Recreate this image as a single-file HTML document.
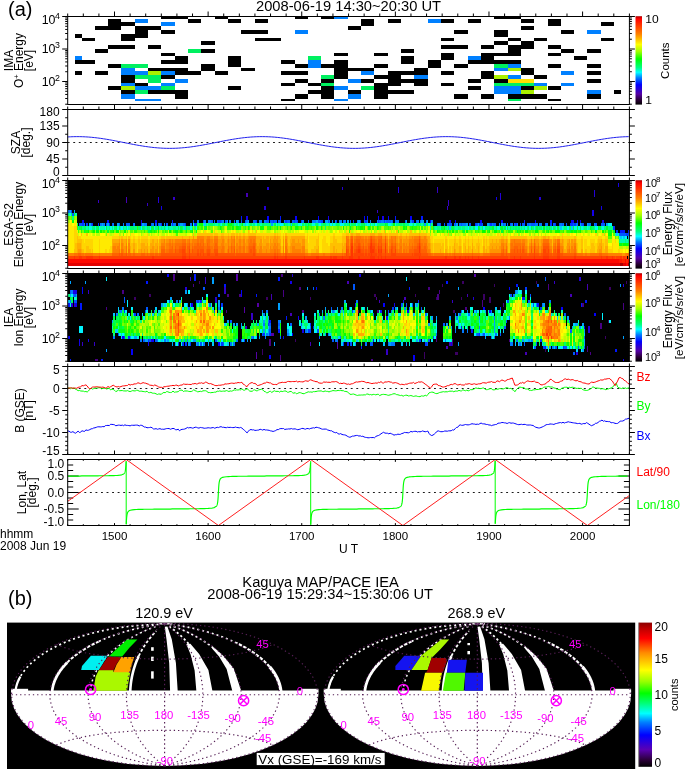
<!DOCTYPE html>
<html><head><meta charset="utf-8"><title>Kaguya</title>
<style>html,body{margin:0;padding:0;background:#fff}svg{display:block}</style></head>
<body>
<svg width="685" height="769" viewBox="0 0 685 769" font-family="'Liberation Sans', sans-serif" font-size="12">
<rect width="685" height="769" fill="#fff"/>
<g shape-rendering="crispEdges"><rect x="108.1" y="18.7" width="13.3" height="11.2" fill="#000000"/>
<rect x="94.8" y="26.2" width="26.6" height="3.8" fill="#000000"/>
<rect x="121.4" y="22.4" width="13.3" height="3.8" fill="#000000"/>
<rect x="134.8" y="18.7" width="13.3" height="3.8" fill="#0080ff"/>
<rect x="134.8" y="26.2" width="13.3" height="11.3" fill="#000000"/>
<rect x="148.1" y="26.2" width="13.3" height="3.8" fill="#000000"/>
<rect x="161.4" y="22.4" width="13.3" height="3.8" fill="#0080ff"/>
<rect x="161.4" y="29.9" width="13.3" height="3.8" fill="#000000"/>
<rect x="74.5" y="33.7" width="7.0" height="3.8" fill="#000000"/>
<rect x="81.5" y="37.5" width="13.3" height="3.8" fill="#000000"/>
<rect x="121.4" y="33.7" width="13.3" height="7.5" fill="#000000"/>
<rect x="108.1" y="45.0" width="26.6" height="3.8" fill="#000000"/>
<rect x="148.1" y="45.0" width="13.3" height="3.8" fill="#000000"/>
<rect x="94.8" y="48.7" width="13.3" height="3.8" fill="#000000"/>
<rect x="161.4" y="52.5" width="13.3" height="3.8" fill="#000000"/>
<rect x="74.5" y="56.2" width="7.0" height="3.8" fill="#0080ff"/>
<rect x="74.5" y="60.0" width="20.3" height="3.8" fill="#000000"/>
<rect x="161.4" y="60.0" width="13.3" height="3.8" fill="#000000"/>
<rect x="108.1" y="63.7" width="13.3" height="3.8" fill="#000000"/>
<rect x="121.4" y="63.7" width="26.6" height="3.8" fill="#00f060"/>
<rect x="121.4" y="67.5" width="13.3" height="7.5" fill="#0080ff"/>
<rect x="134.8" y="71.2" width="13.3" height="3.8" fill="#0080ff"/>
<rect x="148.1" y="67.5" width="26.6" height="3.8" fill="#000000"/>
<rect x="148.1" y="71.2" width="13.3" height="3.8" fill="#aaf000"/>
<rect x="161.4" y="71.2" width="13.3" height="3.8" fill="#0080ff"/>
<rect x="74.5" y="71.2" width="7.0" height="3.8" fill="#000000"/>
<rect x="94.8" y="71.2" width="13.3" height="3.8" fill="#000000"/>
<rect x="121.4" y="75.0" width="13.3" height="7.5" fill="#000000"/>
<rect x="134.8" y="75.0" width="13.3" height="3.8" fill="#00f060"/>
<rect x="148.1" y="75.0" width="13.3" height="7.5" fill="#00f060"/>
<rect x="161.4" y="75.0" width="13.3" height="3.8" fill="#000000"/>
<rect x="121.4" y="82.5" width="13.3" height="3.8" fill="#0080ff"/>
<rect x="134.8" y="82.5" width="13.3" height="3.8" fill="#000000"/>
<rect x="161.4" y="82.5" width="13.3" height="3.8" fill="#0080ff"/>
<rect x="108.1" y="86.2" width="13.3" height="3.8" fill="#000000"/>
<rect x="121.4" y="86.2" width="13.3" height="3.8" fill="#aaf000"/>
<rect x="134.8" y="86.2" width="26.6" height="3.8" fill="#0080ff"/>
<rect x="161.4" y="86.2" width="13.3" height="3.8" fill="#00f060"/>
<rect x="121.4" y="90.0" width="13.3" height="3.8" fill="#000000"/>
<rect x="134.8" y="90.0" width="13.3" height="3.8" fill="#00f060"/>
<rect x="148.1" y="90.0" width="26.6" height="3.8" fill="#000000"/>
<rect x="121.4" y="93.7" width="13.3" height="4.9" fill="#0080ff"/>
<rect x="134.8" y="98.6" width="26.6" height="2.3" fill="#0080ff"/>
<rect x="161.4" y="16.4" width="26.6" height="2.2" fill="#000000"/>
<rect x="214.6" y="16.4" width="13.3" height="2.2" fill="#000000"/>
<rect x="188.0" y="18.7" width="13.3" height="3.8" fill="#000000"/>
<rect x="227.9" y="18.7" width="13.3" height="3.8" fill="#000000"/>
<rect x="254.6" y="18.7" width="13.3" height="3.8" fill="#000000"/>
<rect x="241.3" y="29.9" width="26.6" height="3.8" fill="#000000"/>
<rect x="254.6" y="37.5" width="26.6" height="3.8" fill="#000000"/>
<rect x="201.3" y="41.2" width="13.3" height="3.8" fill="#000000"/>
<rect x="188.0" y="48.7" width="13.3" height="3.8" fill="#00f060"/>
<rect x="201.3" y="48.7" width="13.3" height="3.8" fill="#000000"/>
<rect x="174.7" y="56.2" width="13.3" height="7.5" fill="#000000"/>
<rect x="227.9" y="56.2" width="13.3" height="11.2" fill="#000000"/>
<rect x="201.3" y="63.7" width="13.3" height="7.5" fill="#000000"/>
<rect x="148.1" y="67.5" width="39.9" height="3.8" fill="#000000"/>
<rect x="241.3" y="67.5" width="13.3" height="3.8" fill="#000000"/>
<rect x="174.7" y="71.2" width="26.6" height="3.8" fill="#000000"/>
<rect x="214.6" y="71.2" width="13.3" height="3.8" fill="#000000"/>
<rect x="174.7" y="78.7" width="13.3" height="3.8" fill="#0080ff"/>
<rect x="227.9" y="86.2" width="13.3" height="3.8" fill="#000000"/>
<rect x="174.7" y="90.0" width="13.3" height="8.6" fill="#000000"/>
<rect x="294.5" y="16.4" width="13.3" height="2.2" fill="#000000"/>
<rect x="321.1" y="16.4" width="13.3" height="2.2" fill="#000000"/>
<rect x="334.4" y="16.4" width="13.3" height="2.2" fill="#0080ff"/>
<rect x="294.5" y="29.9" width="13.3" height="3.8" fill="#0080ff"/>
<rect x="334.4" y="52.5" width="13.3" height="3.8" fill="#000000"/>
<rect x="307.8" y="56.2" width="13.3" height="3.8" fill="#00f060"/>
<rect x="307.8" y="60.0" width="13.3" height="7.5" fill="#0080ff"/>
<rect x="281.2" y="60.0" width="13.3" height="3.8" fill="#000000"/>
<rect x="294.5" y="63.7" width="13.3" height="3.8" fill="#000000"/>
<rect x="321.1" y="63.7" width="13.3" height="3.8" fill="#000000"/>
<rect x="334.4" y="60.0" width="13.3" height="18.8" fill="#000000"/>
<rect x="281.2" y="71.2" width="26.6" height="3.8" fill="#000000"/>
<rect x="321.1" y="75.0" width="13.3" height="3.8" fill="#00f060"/>
<rect x="294.5" y="78.7" width="13.3" height="3.8" fill="#000000"/>
<rect x="321.1" y="78.7" width="13.3" height="3.8" fill="#000000"/>
<rect x="281.2" y="82.5" width="13.3" height="3.8" fill="#000000"/>
<rect x="307.8" y="82.5" width="13.3" height="3.8" fill="#000000"/>
<rect x="321.1" y="82.5" width="13.3" height="3.8" fill="#00f060"/>
<rect x="334.4" y="86.2" width="13.3" height="3.8" fill="#0080ff"/>
<rect x="321.1" y="86.2" width="13.3" height="12.4" fill="#000000"/>
<rect x="307.8" y="90.0" width="13.3" height="3.8" fill="#000000"/>
<rect x="294.5" y="93.7" width="13.3" height="4.9" fill="#000000"/>
<rect x="281.2" y="98.6" width="13.3" height="2.3" fill="#000000"/>
<rect x="334.4" y="98.6" width="13.3" height="2.3" fill="#0080ff"/>
<rect x="361.1" y="18.7" width="13.3" height="7.5" fill="#000000"/>
<rect x="347.8" y="26.2" width="13.3" height="3.8" fill="#000000"/>
<rect x="387.7" y="18.7" width="13.3" height="3.8" fill="#000000"/>
<rect x="427.6" y="18.7" width="13.3" height="3.8" fill="#0080ff"/>
<rect x="401.0" y="48.7" width="13.3" height="3.8" fill="#000000"/>
<rect x="374.4" y="52.5" width="13.3" height="3.8" fill="#000000"/>
<rect x="401.0" y="56.2" width="13.3" height="7.5" fill="#000000"/>
<rect x="427.6" y="60.0" width="13.3" height="7.5" fill="#000000"/>
<rect x="374.4" y="63.7" width="13.3" height="3.8" fill="#000000"/>
<rect x="347.8" y="67.5" width="26.6" height="3.8" fill="#000000"/>
<rect x="414.3" y="67.5" width="13.3" height="7.5" fill="#000000"/>
<rect x="361.1" y="71.2" width="13.3" height="3.8" fill="#0080ff"/>
<rect x="387.7" y="71.2" width="13.3" height="15.0" fill="#000000"/>
<rect x="401.0" y="71.2" width="13.3" height="3.8" fill="#000000"/>
<rect x="374.4" y="75.0" width="13.3" height="3.8" fill="#000000"/>
<rect x="414.3" y="75.0" width="13.3" height="3.8" fill="#0080ff"/>
<rect x="347.8" y="78.7" width="13.3" height="3.8" fill="#0080ff"/>
<rect x="361.1" y="78.7" width="13.3" height="3.8" fill="#000000"/>
<rect x="401.0" y="78.7" width="13.3" height="3.8" fill="#000000"/>
<rect x="414.3" y="78.7" width="13.3" height="7.5" fill="#000000"/>
<rect x="374.4" y="82.5" width="13.3" height="16.1" fill="#000000"/>
<rect x="361.1" y="86.2" width="13.3" height="3.8" fill="#00f060"/>
<rect x="347.8" y="90.0" width="13.3" height="3.8" fill="#000000"/>
<rect x="387.7" y="90.0" width="26.6" height="3.8" fill="#000000"/>
<rect x="347.8" y="93.7" width="13.3" height="4.9" fill="#0080ff"/>
<rect x="494.2" y="16.4" width="26.6" height="2.2" fill="#000000"/>
<rect x="441.0" y="18.7" width="13.3" height="3.8" fill="#000000"/>
<rect x="467.6" y="18.7" width="13.3" height="3.8" fill="#000000"/>
<rect x="520.8" y="18.7" width="13.3" height="3.8" fill="#000000"/>
<rect x="520.8" y="26.2" width="13.3" height="3.8" fill="#000000"/>
<rect x="454.3" y="29.9" width="13.3" height="3.8" fill="#000000"/>
<rect x="494.2" y="29.9" width="13.3" height="7.5" fill="#000000"/>
<rect x="441.0" y="37.5" width="13.3" height="3.8" fill="#000000"/>
<rect x="507.5" y="37.5" width="13.3" height="3.8" fill="#000000"/>
<rect x="494.2" y="41.2" width="13.3" height="3.8" fill="#000000"/>
<rect x="520.8" y="41.2" width="13.3" height="7.5" fill="#000000"/>
<rect x="441.0" y="45.0" width="26.6" height="3.8" fill="#000000"/>
<rect x="480.9" y="45.0" width="13.3" height="3.8" fill="#000000"/>
<rect x="507.5" y="45.0" width="13.3" height="11.2" fill="#000000"/>
<rect x="441.0" y="52.5" width="13.3" height="7.5" fill="#000000"/>
<rect x="480.9" y="52.5" width="39.9" height="3.8" fill="#000000"/>
<rect x="480.9" y="56.2" width="13.3" height="7.5" fill="#000000"/>
<rect x="467.6" y="56.2" width="13.3" height="3.8" fill="#0080ff"/>
<rect x="467.6" y="60.0" width="53.3" height="3.8" fill="#000000"/>
<rect x="454.3" y="63.7" width="13.3" height="3.8" fill="#000000"/>
<rect x="494.2" y="63.7" width="13.3" height="3.8" fill="#00f060"/>
<rect x="507.5" y="63.7" width="13.3" height="3.8" fill="#0080ff"/>
<rect x="494.2" y="67.5" width="13.3" height="3.8" fill="#0080ff"/>
<rect x="507.5" y="67.5" width="13.3" height="3.8" fill="#aaf000"/>
<rect x="520.8" y="67.5" width="13.3" height="7.5" fill="#000000"/>
<rect x="441.0" y="71.2" width="13.3" height="3.8" fill="#000000"/>
<rect x="480.9" y="71.2" width="13.3" height="7.5" fill="#000000"/>
<rect x="494.2" y="75.0" width="13.3" height="3.8" fill="#aaf000"/>
<rect x="507.5" y="75.0" width="13.3" height="3.8" fill="#0080ff"/>
<rect x="467.6" y="78.7" width="13.3" height="3.8" fill="#000000"/>
<rect x="494.2" y="78.7" width="13.3" height="3.8" fill="#000000"/>
<rect x="507.5" y="78.7" width="26.6" height="3.8" fill="#ffe000"/>
<rect x="441.0" y="82.5" width="13.3" height="3.8" fill="#000000"/>
<rect x="494.2" y="82.5" width="39.9" height="3.8" fill="#00f060"/>
<rect x="467.6" y="86.2" width="13.3" height="3.8" fill="#000000"/>
<rect x="494.2" y="86.2" width="26.6" height="7.5" fill="#0080ff"/>
<rect x="520.8" y="86.2" width="13.3" height="3.8" fill="#000000"/>
<rect x="520.8" y="90.0" width="13.3" height="3.8" fill="#aaf000"/>
<rect x="454.3" y="93.7" width="13.3" height="4.9" fill="#000000"/>
<rect x="480.9" y="93.7" width="13.3" height="4.9" fill="#000000"/>
<rect x="507.5" y="93.7" width="39.9" height="4.9" fill="#000000"/>
<rect x="507.5" y="98.6" width="13.3" height="2.3" fill="#00f060"/>
<rect x="547.5" y="18.7" width="13.3" height="7.5" fill="#000000"/>
<rect x="600.7" y="22.4" width="13.3" height="3.8" fill="#000000"/>
<rect x="560.8" y="29.9" width="13.3" height="3.8" fill="#000000"/>
<rect x="587.4" y="29.9" width="13.3" height="3.8" fill="#0080ff"/>
<rect x="534.1" y="37.5" width="13.3" height="3.8" fill="#000000"/>
<rect x="600.7" y="37.5" width="13.3" height="3.8" fill="#000000"/>
<rect x="547.5" y="45.0" width="13.3" height="3.8" fill="#000000"/>
<rect x="560.8" y="48.7" width="13.3" height="3.8" fill="#000000"/>
<rect x="587.4" y="48.7" width="13.3" height="3.8" fill="#000000"/>
<rect x="547.5" y="52.5" width="13.3" height="3.8" fill="#000000"/>
<rect x="574.1" y="56.2" width="13.3" height="3.8" fill="#000000"/>
<rect x="547.5" y="63.7" width="13.3" height="3.8" fill="#000000"/>
<rect x="587.4" y="63.7" width="13.3" height="3.8" fill="#000000"/>
<rect x="560.8" y="71.2" width="13.3" height="3.8" fill="#0080ff"/>
<rect x="587.4" y="71.2" width="13.3" height="3.8" fill="#000000"/>
<rect x="534.1" y="75.0" width="13.3" height="3.8" fill="#000000"/>
<rect x="587.4" y="78.7" width="13.3" height="3.8" fill="#000000"/>
<rect x="534.1" y="82.5" width="13.3" height="3.8" fill="#0080ff"/>
<rect x="560.8" y="82.5" width="13.3" height="3.8" fill="#0080ff"/>
<rect x="534.1" y="86.2" width="13.3" height="3.8" fill="#aaf000"/>
<rect x="547.5" y="86.2" width="13.3" height="3.8" fill="#000000"/>
<rect x="587.4" y="90.0" width="13.3" height="3.8" fill="#0080ff"/>
<rect x="587.4" y="93.7" width="13.3" height="4.9" fill="#000000"/>
<rect x="547.5" y="98.6" width="13.3" height="2.3" fill="#000000"/>
<rect x="614.3" y="90.0" width="6.4" height="3.8" fill="#000"/></g>
<line x1="67.7" y1="142.5" x2="629.4" y2="142.5" stroke="#000" stroke-width="0.9" stroke-dasharray="1.9 3.65"/><path d="M67.7 136.96 L70.7 136.79 L73.7 136.68 L76.7 136.64 L79.7 136.65 L82.7 136.73 L85.7 136.86 L88.7 137.05 L91.7 137.31 L94.7 137.61 L97.7 137.97 L100.7 138.37 L103.7 138.82 L106.7 139.3 L109.7 139.82 L112.7 140.37 L115.7 140.94 L118.7 141.52 L121.7 142.12 L124.7 142.71 L127.7 143.31 L130.7 143.9 L133.7 144.47 L136.7 145.03 L139.7 145.55 L142.7 146.05 L145.7 146.51 L148.7 146.92 L151.7 147.29 L154.7 147.61 L157.7 147.88 L160.7 148.09 L163.7 148.24 L166.7 148.34 L169.7 148.37 L172.7 148.34 L175.7 148.25 L178.7 148.1 L181.7 147.89 L184.7 147.62 L187.7 147.3 L190.7 146.94 L193.7 146.52 L196.7 146.06 L199.7 145.57 L202.7 145.04 L205.7 144.49 L208.7 143.92 L211.7 143.33 L214.7 142.73 L217.7 142.14 L220.7 141.54 L223.7 140.96 L226.7 140.39 L229.7 139.84 L232.7 139.32 L235.7 138.83 L238.7 138.39 L241.7 137.98 L244.7 137.62 L247.7 137.32 L250.7 137.06 L253.7 136.87 L256.7 136.73 L259.7 136.65 L262.7 136.64 L265.7 136.68 L268.7 136.79 L271.7 136.95 L274.7 137.17 L277.7 137.45 L280.7 137.78 L283.7 138.16 L286.7 138.59 L289.7 139.06 L292.7 139.56 L295.7 140.09 L298.7 140.65 L301.7 141.23 L304.7 141.82 L307.7 142.42 L310.7 143.01 L313.7 143.61 L316.7 144.19 L319.7 144.75 L322.7 145.29 L325.7 145.81 L328.7 146.28 L331.7 146.72 L334.7 147.11 L337.7 147.46 L340.7 147.75 L343.7 147.99 L346.7 148.17 L349.7 148.3 L352.7 148.36 L355.7 148.36 L358.7 148.3 L361.7 148.18 L364.7 148 L367.7 147.76 L370.7 147.47 L373.7 147.13 L376.7 146.73 L379.7 146.3 L382.7 145.82 L385.7 145.31 L388.7 144.77 L391.7 144.21 L394.7 143.63 L397.7 143.03 L400.7 142.44 L403.7 141.84 L406.7 141.25 L409.7 140.67 L412.7 140.11 L415.7 139.58 L418.7 139.07 L421.7 138.6 L424.7 138.18 L427.7 137.8 L430.7 137.46 L433.7 137.18 L436.7 136.96 L439.7 136.79 L442.7 136.68 L445.7 136.64 L448.7 136.65 L451.7 136.73 L454.7 136.86 L457.7 137.05 L460.7 137.31 L463.7 137.61 L466.7 137.97 L469.7 138.37 L472.7 138.82 L475.7 139.3 L478.7 139.82 L481.7 140.37 L484.7 140.94 L487.7 141.52 L490.7 142.12 L493.7 142.71 L496.7 143.31 L499.7 143.9 L502.7 144.47 L505.7 145.03 L508.7 145.55 L511.7 146.05 L514.7 146.51 L517.7 146.92 L520.7 147.29 L523.7 147.61 L526.7 147.88 L529.7 148.09 L532.7 148.24 L535.7 148.34 L538.7 148.37 L541.7 148.34 L544.7 148.25 L547.7 148.1 L550.7 147.89 L553.7 147.62 L556.7 147.3 L559.7 146.94 L562.7 146.52 L565.7 146.06 L568.7 145.57 L571.7 145.04 L574.7 144.49 L577.7 143.92 L580.7 143.33 L583.7 142.73 L586.7 142.14 L589.7 141.54 L592.7 140.96 L595.7 140.39 L598.7 139.84 L601.7 139.32 L604.7 138.83 L607.7 138.39 L610.7 137.98 L613.7 137.62 L616.7 137.32 L619.7 137.06 L622.7 136.87 L625.7 136.73 L628.7 136.65" fill="none" stroke="#2222ee" stroke-width="1" stroke-linejoin="round"/>
<g shape-rendering="crispEdges"><rect x="67.7" y="180.5" width="561.7" height="85.3" fill="#000"/>
<path fill="#4500b6" d="M246.22 193.2h1.4v3.3h-1.4zM125.67 196.5h1.4v6.6h-1.4z"/>
<path fill="#3500c7" d="M376.58 209.7h1.4v3.3h-1.4zM446.67 206.4h1.4v3.3h-1.4zM436.86 186.6h1.4v6.6h-1.4zM173.33 196.5h1.4v3.3h-1.4zM146.7 203.1h1.4v3.3h-1.4zM97.64 199.8h1.4v3.3h-1.4zM448.07 199.8h1.4v6.6h-1.4z"/>
<path fill="#2400d8" d="M593.86 189.9h1.4v6.6h-1.4zM264.44 206.4h1.4v3.3h-1.4zM499.94 193.2h1.4v6.6h-1.4zM267.25 186.6h1.4v3.3h-1.4zM341.54 186.6h1.4v3.3h-1.4zM397.61 186.6h1.4v6.6h-1.4zM157.91 196.5h1.4v6.6h-1.4zM539.19 196.5h1.4v3.3h-1.4z"/>
<path fill="#1400ea" d="M141.09 219.6h1.4v3.3h-1.4zM572.83 219.6h1.4v3.3h-1.4zM577.04 219.6h1.4v3.3h-1.4zM602.27 219.6h1.4v3.3h-1.4zM246.22 216.3h1.4v3.3h-1.4zM327.52 216.3h1.4v3.3h-1.4zM382.19 216.3h1.4v3.3h-1.4zM592.45 209.7h1.4v6.6h-1.4zM160.72 206.4h1.4v3.3h-1.4zM600.87 206.4h1.4v3.3h-1.4zM495.73 196.5h1.4v3.3h-1.4zM617.69 183.3h1.4v3.3h-1.4z"/>
<path fill="#0400fb" d="M82.22 219.6h1.4v3.3h-1.4zM155.11 219.6h1.4v3.3h-1.4zM429.85 219.6h1.4v3.3h-1.4zM449.48 219.6h1.4v3.3h-1.4zM455.08 219.6h1.4v3.3h-1.4zM480.31 219.6h1.4v3.3h-1.4zM501.34 219.6h1.4v3.3h-1.4zM534.98 219.6h1.4v3.3h-1.4zM571.43 219.6h1.4v3.3h-1.4zM579.84 219.6h1.4v3.3h-1.4zM267.25 216.3h1.4v3.3h-1.4zM295.28 216.3h1.4v3.3h-1.4zM317.71 216.3h1.4v3.3h-1.4zM363.97 216.3h1.4v3.3h-1.4zM377.99 216.3h1.4v3.3h-1.4zM387.8 216.3h1.4v3.3h-1.4zM410.23 216.3h1.4v3.3h-1.4z"/>
<path fill="#0018ff" d="M620.49 229.5h4.21v3.3h-4.21zM627.5 229.5h1.4v3.3h-1.4zM107.45 219.6h1.4v3.3h-1.4zM171.93 219.6h1.4v3.3h-1.4zM523.77 219.6h1.4v3.3h-1.4zM550.4 219.6h1.4v3.3h-1.4zM240.62 216.3h1.4v3.3h-1.4zM279.86 216.3h1.4v3.3h-1.4zM366.77 216.3h1.4v3.3h-1.4zM394.81 216.3h1.4v3.3h-1.4zM421.44 216.3h1.4v3.3h-1.4z"/>
<path fill="#0038ff" d="M626.1 232.8h1.4v3.3h-1.4zM616.28 229.5h1.4v3.3h-1.4zM613.48 226.2h1.4v3.3h-1.4zM82.22 222.9h1.4v3.3h-1.4zM86.42 222.9h1.4v3.3h-1.4zM92.03 222.9h1.4v3.3h-1.4zM97.64 222.9h1.4v3.3h-1.4zM108.85 222.9h1.4v3.3h-1.4zM141.09 222.9h1.4v3.3h-1.4zM160.72 222.9h1.4v3.3h-1.4zM171.93 222.9h1.4v3.3h-1.4zM184.55 222.9h1.4v3.3h-1.4zM194.36 222.9h2.8v3.3h-2.8zM474.71 222.9h1.4v3.3h-1.4zM478.91 222.9h2.8v3.3h-2.8zM490.13 222.9h1.4v3.3h-1.4zM515.36 222.9h1.4v3.3h-1.4zM550.4 222.9h1.4v3.3h-1.4zM554.61 222.9h1.4v3.3h-1.4zM570.03 222.9h2.8v3.3h-2.8zM574.23 222.9h1.4v3.3h-1.4zM582.64 222.9h1.4v3.3h-1.4zM192.96 219.6h1.4v3.3h-1.4zM202.77 219.6h1.4v3.3h-1.4zM218.19 219.6h2.8v3.3h-2.8zM256.03 219.6h1.4v3.3h-1.4zM272.86 219.6h1.4v3.3h-1.4zM285.47 219.6h1.4v3.3h-1.4zM293.88 219.6h1.4v3.3h-1.4zM296.69 219.6h1.4v3.3h-1.4zM300.89 219.6h1.4v3.3h-1.4zM320.51 219.6h2.8v3.3h-2.8zM335.93 219.6h1.4v3.3h-1.4zM352.76 219.6h1.4v3.3h-1.4zM359.76 219.6h1.4v3.3h-1.4zM365.37 219.6h1.4v3.3h-1.4zM377.99 219.6h1.4v3.3h-1.4zM383.59 219.6h1.4v3.3h-1.4zM411.63 219.6h2.8v3.3h-2.8zM71 209.7h1.4v3.3h-1.4z"/>
<path fill="#0058ff" d="M619.09 232.8h7.01v3.3h-7.01zM627.5 232.8h1.4v3.3h-1.4zM79.41 222.9h2.8v3.3h-2.8zM90.63 222.9h1.4v3.3h-1.4zM106.05 222.9h1.4v3.3h-1.4zM111.65 222.9h1.4v3.3h-1.4zM118.66 222.9h1.4v3.3h-1.4zM125.67 222.9h4.21v3.3h-4.21zM132.68 222.9h1.4v3.3h-1.4zM150.9 222.9h1.4v3.3h-1.4zM155.11 222.9h1.4v3.3h-1.4zM157.91 222.9h1.4v3.3h-1.4zM166.32 222.9h1.4v3.3h-1.4zM436.86 222.9h1.4v3.3h-1.4zM439.66 222.9h1.4v3.3h-1.4zM443.87 222.9h1.4v3.3h-1.4zM446.67 222.9h5.61v3.3h-5.61zM455.08 222.9h1.4v3.3h-1.4zM460.69 222.9h1.4v3.3h-1.4zM469.1 222.9h1.4v3.3h-1.4zM476.11 222.9h1.4v3.3h-1.4zM481.72 222.9h1.4v3.3h-1.4zM492.93 222.9h2.8v3.3h-2.8zM502.74 222.9h1.4v3.3h-1.4zM509.75 222.9h1.4v3.3h-1.4zM513.96 222.9h1.4v3.3h-1.4zM519.56 222.9h1.4v3.3h-1.4zM522.37 222.9h2.8v3.3h-2.8zM527.97 222.9h1.4v3.3h-1.4zM530.78 222.9h4.21v3.3h-4.21zM544.79 222.9h1.4v3.3h-1.4zM553.21 222.9h1.4v3.3h-1.4zM558.81 222.9h1.4v3.3h-1.4zM561.62 222.9h1.4v3.3h-1.4zM565.82 222.9h1.4v3.3h-1.4zM572.83 222.9h1.4v3.3h-1.4zM581.24 222.9h1.4v3.3h-1.4zM595.26 222.9h1.4v3.3h-1.4zM600.87 222.9h4.21v3.3h-4.21zM211.18 219.6h1.4v3.3h-1.4zM216.79 219.6h1.4v3.3h-1.4zM220.99 219.6h1.4v3.3h-1.4zM225.2 219.6h1.4v3.3h-1.4zM233.61 219.6h1.4v3.3h-1.4zM240.62 219.6h1.4v3.3h-1.4zM244.82 219.6h1.4v3.3h-1.4zM253.23 219.6h2.8v3.3h-2.8zM265.85 219.6h2.8v3.3h-2.8zM270.05 219.6h2.8v3.3h-2.8zM274.26 219.6h2.8v3.3h-2.8zM278.46 219.6h2.8v3.3h-2.8zM286.87 219.6h2.8v3.3h-2.8zM292.48 219.6h1.4v3.3h-1.4zM295.28 219.6h1.4v3.3h-1.4zM307.9 219.6h1.4v3.3h-1.4zM317.71 219.6h2.8v3.3h-2.8zM327.52 219.6h1.4v3.3h-1.4zM342.94 219.6h1.4v3.3h-1.4zM349.95 219.6h1.4v3.3h-1.4zM363.97 219.6h1.4v3.3h-1.4zM379.39 219.6h1.4v3.3h-1.4zM386.4 219.6h4.21v3.3h-4.21zM392 219.6h1.4v3.3h-1.4zM404.62 219.6h1.4v3.3h-1.4zM415.83 219.6h1.4v3.3h-1.4zM72.41 213h1.4v3.3h-1.4z"/>
<path fill="#0078ff" d="M83.62 222.9h1.4v3.3h-1.4zM100.44 222.9h1.4v3.3h-1.4zM103.24 222.9h1.4v3.3h-1.4zM113.06 222.9h1.4v3.3h-1.4zM122.87 222.9h1.4v3.3h-1.4zM134.08 222.9h1.4v3.3h-1.4zM143.89 222.9h2.8v3.3h-2.8zM152.31 222.9h1.4v3.3h-1.4zM159.31 222.9h1.4v3.3h-1.4zM173.33 222.9h2.8v3.3h-2.8zM177.54 222.9h2.8v3.3h-2.8zM183.14 222.9h1.4v3.3h-1.4zM190.15 222.9h1.4v3.3h-1.4zM438.26 222.9h1.4v3.3h-1.4zM453.68 222.9h1.4v3.3h-1.4zM459.29 222.9h1.4v3.3h-1.4zM462.09 222.9h4.21v3.3h-4.21zM488.72 222.9h1.4v3.3h-1.4zM491.53 222.9h1.4v3.3h-1.4zM498.54 222.9h1.4v3.3h-1.4zM504.14 222.9h1.4v3.3h-1.4zM506.95 222.9h1.4v3.3h-1.4zM511.15 222.9h1.4v3.3h-1.4zM516.76 222.9h1.4v3.3h-1.4zM526.57 222.9h1.4v3.3h-1.4zM529.38 222.9h1.4v3.3h-1.4zM534.98 222.9h2.8v3.3h-2.8zM539.19 222.9h2.8v3.3h-2.8zM546.2 222.9h1.4v3.3h-1.4zM560.21 222.9h1.4v3.3h-1.4zM563.02 222.9h1.4v3.3h-1.4zM575.63 222.9h2.8v3.3h-2.8zM588.25 222.9h2.8v3.3h-2.8zM593.86 222.9h1.4v3.3h-1.4zM197.16 219.6h1.4v3.3h-1.4zM204.17 219.6h1.4v3.3h-1.4zM208.38 219.6h2.8v3.3h-2.8zM213.98 219.6h1.4v3.3h-1.4zM222.39 219.6h1.4v3.3h-1.4zM229.4 219.6h1.4v3.3h-1.4zM237.81 219.6h1.4v3.3h-1.4zM246.22 219.6h1.4v3.3h-1.4zM258.84 219.6h2.8v3.3h-2.8zM264.44 219.6h1.4v3.3h-1.4zM284.07 219.6h1.4v3.3h-1.4zM302.29 219.6h1.4v3.3h-1.4zM312.1 219.6h4.21v3.3h-4.21zM328.93 219.6h1.4v3.3h-1.4zM331.73 219.6h1.4v3.3h-1.4zM334.53 219.6h1.4v3.3h-1.4zM338.74 219.6h2.8v3.3h-2.8zM344.34 219.6h1.4v3.3h-1.4zM356.96 219.6h1.4v3.3h-1.4zM366.77 219.6h1.4v3.3h-1.4zM369.58 219.6h1.4v3.3h-1.4zM376.58 219.6h1.4v3.3h-1.4zM380.79 219.6h2.8v3.3h-2.8zM385 219.6h1.4v3.3h-1.4zM390.6 219.6h1.4v3.3h-1.4zM394.81 219.6h4.21v3.3h-4.21zM410.23 219.6h1.4v3.3h-1.4zM417.24 219.6h1.4v3.3h-1.4zM420.04 219.6h1.4v3.3h-1.4zM425.65 219.6h1.4v3.3h-1.4zM431.25 219.6h1.4v3.3h-1.4zM68.2 209.7h1.4v3.3h-1.4z"/>
<path fill="#00a0ff" d="M89.23 222.9h1.4v3.3h-1.4zM101.84 222.9h1.4v3.3h-1.4zM107.45 222.9h1.4v3.3h-1.4zM117.26 222.9h1.4v3.3h-1.4zM142.49 222.9h1.4v3.3h-1.4zM163.52 222.9h1.4v3.3h-1.4zM170.53 222.9h1.4v3.3h-1.4zM180.34 222.9h2.8v3.3h-2.8zM271.45 222.9h1.4v3.3h-1.4zM424.24 222.9h1.4v3.3h-1.4zM429.85 222.9h1.4v3.3h-1.4zM456.48 222.9h1.4v3.3h-1.4zM466.3 222.9h1.4v3.3h-1.4zM477.51 222.9h1.4v3.3h-1.4zM487.32 222.9h1.4v3.3h-1.4zM501.34 222.9h1.4v3.3h-1.4zM579.84 222.9h1.4v3.3h-1.4zM586.85 222.9h1.4v3.3h-1.4zM606.47 222.9h1.4v3.3h-1.4zM226.6 219.6h1.4v3.3h-1.4zM236.41 219.6h1.4v3.3h-1.4zM247.62 219.6h1.4v3.3h-1.4zM316.31 219.6h1.4v3.3h-1.4zM324.72 219.6h2.8v3.3h-2.8zM347.15 219.6h1.4v3.3h-1.4zM358.36 219.6h1.4v3.3h-1.4zM406.02 219.6h1.4v3.3h-1.4zM421.44 219.6h2.8v3.3h-2.8zM427.05 219.6h1.4v3.3h-1.4zM69.6 209.7h1.4v3.3h-1.4zM73.81 209.7h1.4v3.3h-1.4z"/>
<path fill="#00caff" d="M620.49 236.1h1.4v3.3h-1.4zM623.29 236.1h1.4v3.3h-1.4zM627.5 236.1h1.4v3.3h-1.4zM616.28 232.8h1.4v3.3h-1.4zM184.55 226.2h1.4v3.3h-1.4zM449.48 226.2h1.4v3.3h-1.4zM560.21 226.2h1.4v3.3h-1.4zM571.43 226.2h1.4v3.3h-1.4zM204.17 222.9h1.4v3.3h-1.4zM244.82 222.9h1.4v3.3h-1.4zM291.08 222.9h1.4v3.3h-1.4z"/>
<path fill="#00f4ff" d="M621.89 236.1h1.4v3.3h-1.4zM624.69 236.1h2.8v3.3h-2.8zM104.65 226.2h1.4v3.3h-1.4zM121.47 226.2h1.4v3.3h-1.4zM127.07 226.2h1.4v3.3h-1.4zM141.09 226.2h1.4v3.3h-1.4zM149.5 226.2h1.4v3.3h-1.4zM467.7 226.2h1.4v3.3h-1.4zM476.11 226.2h1.4v3.3h-1.4zM483.12 226.2h1.4v3.3h-1.4zM505.55 226.2h1.4v3.3h-1.4zM567.22 226.2h1.4v3.3h-1.4zM596.66 226.2h1.4v3.3h-1.4zM279.86 222.9h2.8v3.3h-2.8zM300.89 222.9h1.4v3.3h-1.4zM319.11 222.9h1.4v3.3h-1.4zM330.33 222.9h1.4v3.3h-1.4zM340.14 222.9h1.4v3.3h-1.4zM355.56 222.9h1.4v3.3h-1.4zM366.77 222.9h1.4v3.3h-1.4zM375.18 222.9h1.4v3.3h-1.4zM607.87 222.9h4.21v3.3h-4.21zM69.6 213h1.4v3.3h-1.4z"/>
<path fill="#00ffdc" d="M619.09 236.1h1.4v3.3h-1.4zM89.23 226.2h2.8v3.3h-2.8zM94.83 226.2h1.4v3.3h-1.4zM99.04 226.2h1.4v3.3h-1.4zM110.25 226.2h1.4v3.3h-1.4zM113.06 226.2h1.4v3.3h-1.4zM117.26 226.2h1.4v3.3h-1.4zM153.71 226.2h1.4v3.3h-1.4zM166.32 226.2h1.4v3.3h-1.4zM190.15 226.2h1.4v3.3h-1.4zM195.76 226.2h1.4v3.3h-1.4zM474.71 226.2h1.4v3.3h-1.4zM497.14 226.2h2.8v3.3h-2.8zM525.17 226.2h1.4v3.3h-1.4zM529.38 226.2h1.4v3.3h-1.4zM533.58 226.2h1.4v3.3h-1.4zM551.8 226.2h1.4v3.3h-1.4zM556.01 226.2h1.4v3.3h-1.4zM561.62 226.2h1.4v3.3h-1.4zM574.23 226.2h2.8v3.3h-2.8zM578.44 226.2h1.4v3.3h-1.4zM581.24 226.2h1.4v3.3h-1.4zM586.85 226.2h1.4v3.3h-1.4zM595.26 226.2h1.4v3.3h-1.4zM602.27 226.2h1.4v3.3h-1.4zM192.96 222.9h1.4v3.3h-1.4zM220.99 222.9h1.4v3.3h-1.4zM237.81 222.9h1.4v3.3h-1.4zM246.22 222.9h1.4v3.3h-1.4zM254.63 222.9h2.8v3.3h-2.8zM275.66 222.9h1.4v3.3h-1.4zM298.09 222.9h2.8v3.3h-2.8zM312.1 222.9h2.8v3.3h-2.8zM333.13 222.9h1.4v3.3h-1.4zM341.54 222.9h2.8v3.3h-2.8zM368.17 222.9h1.4v3.3h-1.4zM370.98 222.9h1.4v3.3h-1.4zM387.8 222.9h2.8v3.3h-2.8zM394.81 222.9h1.4v3.3h-1.4zM408.83 222.9h2.8v3.3h-2.8zM414.43 222.9h1.4v3.3h-1.4zM428.45 222.9h1.4v3.3h-1.4z"/>
<path fill="#00ffae" d="M620.49 239.4h4.21v3.3h-4.21zM626.1 239.4h1.4v3.3h-1.4zM614.88 232.8h1.4v3.3h-1.4zM617.69 232.8h1.4v3.3h-1.4zM86.42 226.2h1.4v3.3h-1.4zM100.44 226.2h4.21v3.3h-4.21zM107.45 226.2h1.4v3.3h-1.4zM120.06 226.2h1.4v3.3h-1.4zM124.27 226.2h1.4v3.3h-1.4zM128.48 226.2h1.4v3.3h-1.4zM145.3 226.2h1.4v3.3h-1.4zM159.31 226.2h1.4v3.3h-1.4zM162.12 226.2h1.4v3.3h-1.4zM164.92 226.2h1.4v3.3h-1.4zM169.13 226.2h4.21v3.3h-4.21zM176.13 226.2h1.4v3.3h-1.4zM178.94 226.2h1.4v3.3h-1.4zM183.14 226.2h1.4v3.3h-1.4zM429.85 226.2h1.4v3.3h-1.4zM435.46 226.2h1.4v3.3h-1.4zM439.66 226.2h1.4v3.3h-1.4zM446.67 226.2h1.4v3.3h-1.4zM455.08 226.2h2.8v3.3h-2.8zM460.69 226.2h1.4v3.3h-1.4zM464.9 226.2h2.8v3.3h-2.8zM470.5 226.2h2.8v3.3h-2.8zM480.31 226.2h1.4v3.3h-1.4zM494.33 226.2h1.4v3.3h-1.4zM508.35 226.2h1.4v3.3h-1.4zM519.56 226.2h1.4v3.3h-1.4zM522.37 226.2h1.4v3.3h-1.4zM541.99 226.2h1.4v3.3h-1.4zM544.79 226.2h1.4v3.3h-1.4zM558.81 226.2h1.4v3.3h-1.4zM563.02 226.2h1.4v3.3h-1.4zM582.64 226.2h1.4v3.3h-1.4zM588.25 226.2h1.4v3.3h-1.4zM600.87 226.2h1.4v3.3h-1.4zM202.77 222.9h1.4v3.3h-1.4zM206.97 222.9h1.4v3.3h-1.4zM215.38 222.9h2.8v3.3h-2.8zM219.59 222.9h1.4v3.3h-1.4zM225.2 222.9h1.4v3.3h-1.4zM233.61 222.9h2.8v3.3h-2.8zM243.42 222.9h1.4v3.3h-1.4zM247.62 222.9h1.4v3.3h-1.4zM251.83 222.9h1.4v3.3h-1.4zM260.24 222.9h1.4v3.3h-1.4zM272.86 222.9h1.4v3.3h-1.4zM278.46 222.9h1.4v3.3h-1.4zM282.67 222.9h1.4v3.3h-1.4zM288.27 222.9h1.4v3.3h-1.4zM303.69 222.9h1.4v3.3h-1.4zM317.71 222.9h1.4v3.3h-1.4zM326.12 222.9h2.8v3.3h-2.8zM334.53 222.9h1.4v3.3h-1.4zM345.75 222.9h1.4v3.3h-1.4zM349.95 222.9h1.4v3.3h-1.4zM356.96 222.9h1.4v3.3h-1.4zM359.76 222.9h1.4v3.3h-1.4zM365.37 222.9h1.4v3.3h-1.4zM372.38 222.9h1.4v3.3h-1.4zM390.6 222.9h1.4v3.3h-1.4zM411.63 222.9h1.4v3.3h-1.4zM421.44 222.9h1.4v3.3h-1.4zM68.2 213h1.4v3.3h-1.4zM75.21 213h1.4v3.3h-1.4z"/>
<path fill="#00ff80" d="M619.09 239.4h1.4v3.3h-1.4zM624.69 239.4h1.4v3.3h-1.4zM627.5 239.4h1.4v3.3h-1.4zM78.01 226.2h1.4v3.3h-1.4zM82.22 226.2h1.4v3.3h-1.4zM87.82 226.2h1.4v3.3h-1.4zM92.03 226.2h2.8v3.3h-2.8zM108.85 226.2h1.4v3.3h-1.4zM111.65 226.2h1.4v3.3h-1.4zM122.87 226.2h1.4v3.3h-1.4zM125.67 226.2h1.4v3.3h-1.4zM134.08 226.2h2.8v3.3h-2.8zM139.69 226.2h1.4v3.3h-1.4zM143.89 226.2h1.4v3.3h-1.4zM148.1 226.2h1.4v3.3h-1.4zM155.11 226.2h2.8v3.3h-2.8zM160.72 226.2h1.4v3.3h-1.4zM167.72 226.2h1.4v3.3h-1.4zM173.33 226.2h2.8v3.3h-2.8zM187.35 226.2h2.8v3.3h-2.8zM434.06 226.2h1.4v3.3h-1.4zM436.86 226.2h2.8v3.3h-2.8zM445.27 226.2h1.4v3.3h-1.4zM453.68 226.2h1.4v3.3h-1.4zM457.89 226.2h2.8v3.3h-2.8zM462.09 226.2h2.8v3.3h-2.8zM469.1 226.2h1.4v3.3h-1.4zM484.52 226.2h4.21v3.3h-4.21zM502.74 226.2h1.4v3.3h-1.4zM511.15 226.2h1.4v3.3h-1.4zM513.96 226.2h1.4v3.3h-1.4zM516.76 226.2h1.4v3.3h-1.4zM520.97 226.2h1.4v3.3h-1.4zM523.77 226.2h1.4v3.3h-1.4zM526.57 226.2h1.4v3.3h-1.4zM532.18 226.2h1.4v3.3h-1.4zM534.98 226.2h1.4v3.3h-1.4zM537.79 226.2h1.4v3.3h-1.4zM547.6 226.2h1.4v3.3h-1.4zM550.4 226.2h1.4v3.3h-1.4zM554.61 226.2h1.4v3.3h-1.4zM564.42 226.2h2.8v3.3h-2.8zM584.04 226.2h2.8v3.3h-2.8zM593.86 226.2h1.4v3.3h-1.4zM603.67 226.2h2.8v3.3h-2.8zM607.87 226.2h5.61v3.3h-5.61zM212.58 222.9h2.8v3.3h-2.8zM236.41 222.9h1.4v3.3h-1.4zM239.21 222.9h1.4v3.3h-1.4zM249.03 222.9h1.4v3.3h-1.4zM253.23 222.9h1.4v3.3h-1.4zM258.84 222.9h1.4v3.3h-1.4zM264.44 222.9h7.01v3.3h-7.01zM277.06 222.9h1.4v3.3h-1.4zM285.47 222.9h2.8v3.3h-2.8zM295.28 222.9h2.8v3.3h-2.8zM306.5 222.9h1.4v3.3h-1.4zM310.7 222.9h1.4v3.3h-1.4zM314.91 222.9h1.4v3.3h-1.4zM320.51 222.9h2.8v3.3h-2.8zM331.73 222.9h1.4v3.3h-1.4zM338.74 222.9h1.4v3.3h-1.4zM344.34 222.9h1.4v3.3h-1.4zM347.15 222.9h1.4v3.3h-1.4zM358.36 222.9h1.4v3.3h-1.4zM376.58 222.9h8.41v3.3h-8.41zM392 222.9h1.4v3.3h-1.4zM396.21 222.9h1.4v3.3h-1.4zM401.82 222.9h1.4v3.3h-1.4zM404.62 222.9h4.21v3.3h-4.21zM415.83 222.9h1.4v3.3h-1.4zM418.64 222.9h1.4v3.3h-1.4zM431.25 222.9h1.4v3.3h-1.4zM72.41 216.3h1.4v3.3h-1.4z"/>
<path fill="#00ff65" d="M83.62 226.2h2.8v3.3h-2.8zM96.23 226.2h1.4v3.3h-1.4zM114.46 226.2h1.4v3.3h-1.4zM118.66 226.2h1.4v3.3h-1.4zM129.88 226.2h4.21v3.3h-4.21zM138.29 226.2h1.4v3.3h-1.4zM142.49 226.2h1.4v3.3h-1.4zM146.7 226.2h1.4v3.3h-1.4zM163.52 226.2h1.4v3.3h-1.4zM181.74 226.2h1.4v3.3h-1.4zM191.55 226.2h1.4v3.3h-1.4zM194.36 226.2h1.4v3.3h-1.4zM324.72 226.2h1.4v3.3h-1.4zM448.07 226.2h1.4v3.3h-1.4zM450.88 226.2h1.4v3.3h-1.4zM473.31 226.2h1.4v3.3h-1.4zM481.72 226.2h1.4v3.3h-1.4zM488.72 226.2h2.8v3.3h-2.8zM495.73 226.2h1.4v3.3h-1.4zM512.55 226.2h1.4v3.3h-1.4zM515.36 226.2h1.4v3.3h-1.4zM518.16 226.2h1.4v3.3h-1.4zM527.97 226.2h1.4v3.3h-1.4zM539.19 226.2h2.8v3.3h-2.8zM546.2 226.2h1.4v3.3h-1.4zM553.21 226.2h1.4v3.3h-1.4zM568.62 226.2h2.8v3.3h-2.8zM579.84 226.2h1.4v3.3h-1.4zM592.45 226.2h1.4v3.3h-1.4zM76.61 222.9h1.4v3.3h-1.4zM197.16 222.9h1.4v3.3h-1.4zM205.57 222.9h1.4v3.3h-1.4zM208.38 222.9h4.21v3.3h-4.21zM218.19 222.9h1.4v3.3h-1.4zM222.39 222.9h1.4v3.3h-1.4zM226.6 222.9h1.4v3.3h-1.4zM240.62 222.9h1.4v3.3h-1.4zM250.43 222.9h1.4v3.3h-1.4zM257.44 222.9h1.4v3.3h-1.4zM261.64 222.9h2.8v3.3h-2.8zM289.68 222.9h1.4v3.3h-1.4zM302.29 222.9h1.4v3.3h-1.4zM305.1 222.9h1.4v3.3h-1.4zM309.3 222.9h1.4v3.3h-1.4zM316.31 222.9h1.4v3.3h-1.4zM323.32 222.9h2.8v3.3h-2.8zM328.93 222.9h1.4v3.3h-1.4zM335.93 222.9h2.8v3.3h-2.8zM351.35 222.9h4.21v3.3h-4.21zM361.17 222.9h2.8v3.3h-2.8zM369.58 222.9h1.4v3.3h-1.4zM373.78 222.9h1.4v3.3h-1.4zM397.61 222.9h4.21v3.3h-4.21zM413.03 222.9h1.4v3.3h-1.4zM417.24 222.9h1.4v3.3h-1.4zM420.04 222.9h1.4v3.3h-1.4zM422.84 222.9h1.4v3.3h-1.4zM425.65 222.9h1.4v3.3h-1.4zM71 213h1.4v3.3h-1.4z"/>
<path fill="#00ff4a" d="M148.1 229.5h1.4v3.3h-1.4zM79.41 226.2h1.4v3.3h-1.4zM97.64 226.2h1.4v3.3h-1.4zM106.05 226.2h1.4v3.3h-1.4zM115.86 226.2h1.4v3.3h-1.4zM150.9 226.2h2.8v3.3h-2.8zM177.54 226.2h1.4v3.3h-1.4zM180.34 226.2h1.4v3.3h-1.4zM185.95 226.2h1.4v3.3h-1.4zM441.07 226.2h2.8v3.3h-2.8zM452.28 226.2h1.4v3.3h-1.4zM478.91 226.2h1.4v3.3h-1.4zM499.94 226.2h1.4v3.3h-1.4zM504.14 226.2h1.4v3.3h-1.4zM506.95 226.2h1.4v3.3h-1.4zM509.75 226.2h1.4v3.3h-1.4zM530.78 226.2h1.4v3.3h-1.4zM536.38 226.2h1.4v3.3h-1.4zM549 226.2h1.4v3.3h-1.4zM557.41 226.2h1.4v3.3h-1.4zM572.83 226.2h1.4v3.3h-1.4zM577.04 226.2h1.4v3.3h-1.4zM591.05 226.2h1.4v3.3h-1.4zM599.46 226.2h1.4v3.3h-1.4zM223.79 222.9h1.4v3.3h-1.4zM232.2 222.9h1.4v3.3h-1.4zM274.26 222.9h1.4v3.3h-1.4zM292.48 222.9h2.8v3.3h-2.8zM363.97 222.9h1.4v3.3h-1.4zM386.4 222.9h1.4v3.3h-1.4zM403.22 222.9h1.4v3.3h-1.4zM427.05 222.9h1.4v3.3h-1.4z"/>
<path fill="#00ff2f" d="M83.62 229.5h1.4v3.3h-1.4zM107.45 229.5h1.4v3.3h-1.4zM463.49 229.5h1.4v3.3h-1.4zM501.34 229.5h1.4v3.3h-1.4zM570.03 229.5h1.4v3.3h-1.4zM613.48 229.5h1.4v3.3h-1.4zM80.82 226.2h1.4v3.3h-1.4zM204.17 226.2h1.4v3.3h-1.4zM239.21 226.2h1.4v3.3h-1.4zM306.5 226.2h1.4v3.3h-1.4zM432.65 226.2h1.4v3.3h-1.4zM477.51 226.2h1.4v3.3h-1.4zM491.53 226.2h2.8v3.3h-2.8zM501.34 226.2h1.4v3.3h-1.4zM543.39 226.2h1.4v3.3h-1.4zM589.65 226.2h1.4v3.3h-1.4zM598.06 226.2h1.4v3.3h-1.4zM606.47 226.2h1.4v3.3h-1.4zM284.07 222.9h1.4v3.3h-1.4zM307.9 222.9h1.4v3.3h-1.4zM348.55 222.9h1.4v3.3h-1.4zM385 222.9h1.4v3.3h-1.4zM73.81 213h1.4v3.3h-1.4z"/>
<path fill="#00ff14" d="M620.49 242.7h1.4v3.3h-1.4zM626.1 242.7h1.4v3.3h-1.4zM96.23 229.5h1.4v3.3h-1.4zM149.5 229.5h1.4v3.3h-1.4zM176.13 229.5h1.4v3.3h-1.4zM185.95 229.5h1.4v3.3h-1.4zM191.55 229.5h1.4v3.3h-1.4zM195.76 229.5h1.4v3.3h-1.4zM436.86 229.5h1.4v3.3h-1.4zM446.67 229.5h1.4v3.3h-1.4zM516.76 229.5h1.4v3.3h-1.4zM558.81 229.5h1.4v3.3h-1.4zM574.23 229.5h1.4v3.3h-1.4zM595.26 229.5h1.4v3.3h-1.4zM607.87 229.5h4.21v3.3h-4.21zM157.91 226.2h1.4v3.3h-1.4zM205.57 226.2h1.4v3.3h-1.4zM219.59 226.2h1.4v3.3h-1.4zM237.81 226.2h1.4v3.3h-1.4zM263.04 226.2h1.4v3.3h-1.4zM270.05 226.2h1.4v3.3h-1.4zM300.89 226.2h1.4v3.3h-1.4zM349.95 226.2h1.4v3.3h-1.4zM359.76 226.2h1.4v3.3h-1.4zM368.17 226.2h1.4v3.3h-1.4zM376.58 226.2h1.4v3.3h-1.4zM443.87 226.2h1.4v3.3h-1.4zM198.56 222.9h2.8v3.3h-2.8zM229.4 222.9h2.8v3.3h-2.8zM242.02 222.9h1.4v3.3h-1.4zM393.41 222.9h1.4v3.3h-1.4zM72.41 219.6h1.4v3.3h-1.4z"/>
<path fill="#09ff00" d="M619.09 242.7h1.4v3.3h-1.4zM623.29 242.7h2.8v3.3h-2.8zM607.87 232.8h4.21v3.3h-4.21zM87.82 229.5h1.4v3.3h-1.4zM93.43 229.5h1.4v3.3h-1.4zM97.64 229.5h1.4v3.3h-1.4zM100.44 229.5h1.4v3.3h-1.4zM113.06 229.5h1.4v3.3h-1.4zM115.86 229.5h2.8v3.3h-2.8zM124.27 229.5h1.4v3.3h-1.4zM150.9 229.5h1.4v3.3h-1.4zM153.71 229.5h1.4v3.3h-1.4zM157.91 229.5h1.4v3.3h-1.4zM169.13 229.5h1.4v3.3h-1.4zM174.73 229.5h1.4v3.3h-1.4zM180.34 229.5h1.4v3.3h-1.4zM452.28 229.5h1.4v3.3h-1.4zM466.3 229.5h1.4v3.3h-1.4zM481.72 229.5h2.8v3.3h-2.8zM488.72 229.5h1.4v3.3h-1.4zM494.33 229.5h2.8v3.3h-2.8zM519.56 229.5h1.4v3.3h-1.4zM525.17 229.5h2.8v3.3h-2.8zM534.98 229.5h2.8v3.3h-2.8zM547.6 229.5h1.4v3.3h-1.4zM554.61 229.5h4.21v3.3h-4.21zM571.43 229.5h1.4v3.3h-1.4zM575.63 229.5h1.4v3.3h-1.4zM579.84 229.5h1.4v3.3h-1.4zM602.27 229.5h1.4v3.3h-1.4zM232.2 226.2h1.4v3.3h-1.4zM236.41 226.2h1.4v3.3h-1.4zM247.62 226.2h1.4v3.3h-1.4zM260.24 226.2h2.8v3.3h-2.8zM277.06 226.2h1.4v3.3h-1.4zM279.86 226.2h1.4v3.3h-1.4zM291.08 226.2h1.4v3.3h-1.4zM295.28 226.2h2.8v3.3h-2.8zM316.31 226.2h1.4v3.3h-1.4zM320.51 226.2h1.4v3.3h-1.4zM342.94 226.2h1.4v3.3h-1.4zM355.56 226.2h1.4v3.3h-1.4zM361.17 226.2h1.4v3.3h-1.4zM363.97 226.2h1.4v3.3h-1.4zM403.22 226.2h1.4v3.3h-1.4zM406.02 226.2h1.4v3.3h-1.4zM411.63 226.2h1.4v3.3h-1.4zM201.37 222.9h1.4v3.3h-1.4zM228 222.9h1.4v3.3h-1.4z"/>
<path fill="#2fff00" d="M621.89 242.7h1.4v3.3h-1.4zM627.5 242.7h1.4v3.3h-1.4zM80.82 229.5h1.4v3.3h-1.4zM85.02 229.5h2.8v3.3h-2.8zM92.03 229.5h1.4v3.3h-1.4zM103.24 229.5h1.4v3.3h-1.4zM110.25 229.5h2.8v3.3h-2.8zM134.08 229.5h2.8v3.3h-2.8zM143.89 229.5h1.4v3.3h-1.4zM152.31 229.5h1.4v3.3h-1.4zM155.11 229.5h1.4v3.3h-1.4zM164.92 229.5h1.4v3.3h-1.4zM173.33 229.5h1.4v3.3h-1.4zM181.74 229.5h1.4v3.3h-1.4zM190.15 229.5h1.4v3.3h-1.4zM348.55 229.5h1.4v3.3h-1.4zM438.26 229.5h1.4v3.3h-1.4zM442.47 229.5h1.4v3.3h-1.4zM449.48 229.5h1.4v3.3h-1.4zM456.48 229.5h1.4v3.3h-1.4zM462.09 229.5h1.4v3.3h-1.4zM474.71 229.5h1.4v3.3h-1.4zM477.51 229.5h1.4v3.3h-1.4zM484.52 229.5h1.4v3.3h-1.4zM487.32 229.5h1.4v3.3h-1.4zM498.54 229.5h1.4v3.3h-1.4zM502.74 229.5h1.4v3.3h-1.4zM508.35 229.5h4.21v3.3h-4.21zM518.16 229.5h1.4v3.3h-1.4zM522.37 229.5h1.4v3.3h-1.4zM543.39 229.5h1.4v3.3h-1.4zM546.2 229.5h1.4v3.3h-1.4zM550.4 229.5h1.4v3.3h-1.4zM563.02 229.5h1.4v3.3h-1.4zM567.22 229.5h2.8v3.3h-2.8zM572.83 229.5h1.4v3.3h-1.4zM578.44 229.5h1.4v3.3h-1.4zM591.05 229.5h1.4v3.3h-1.4zM605.07 229.5h1.4v3.3h-1.4zM76.61 226.2h1.4v3.3h-1.4zM136.89 226.2h1.4v3.3h-1.4zM197.16 226.2h1.4v3.3h-1.4zM201.37 226.2h1.4v3.3h-1.4zM220.99 226.2h1.4v3.3h-1.4zM226.6 226.2h4.21v3.3h-4.21zM244.82 226.2h1.4v3.3h-1.4zM249.03 226.2h1.4v3.3h-1.4zM267.25 226.2h2.8v3.3h-2.8zM286.87 226.2h1.4v3.3h-1.4zM289.68 226.2h1.4v3.3h-1.4zM298.09 226.2h1.4v3.3h-1.4zM305.1 226.2h1.4v3.3h-1.4zM307.9 226.2h1.4v3.3h-1.4zM310.7 226.2h1.4v3.3h-1.4zM358.36 226.2h1.4v3.3h-1.4zM362.57 226.2h1.4v3.3h-1.4zM369.58 226.2h1.4v3.3h-1.4zM372.38 226.2h1.4v3.3h-1.4zM377.99 226.2h1.4v3.3h-1.4zM387.8 226.2h1.4v3.3h-1.4zM404.62 226.2h1.4v3.3h-1.4zM410.23 226.2h1.4v3.3h-1.4zM413.03 226.2h4.21v3.3h-4.21zM418.64 226.2h1.4v3.3h-1.4zM421.44 226.2h1.4v3.3h-1.4z"/>
<path fill="#55ff00" d="M607.87 236.1h4.21v3.3h-4.21zM614.88 236.1h1.4v3.3h-1.4zM617.69 236.1h1.4v3.3h-1.4zM176.13 232.8h1.4v3.3h-1.4zM613.48 232.8h1.4v3.3h-1.4zM78.01 229.5h1.4v3.3h-1.4zM90.63 229.5h1.4v3.3h-1.4zM101.84 229.5h1.4v3.3h-1.4zM120.06 229.5h1.4v3.3h-1.4zM127.07 229.5h1.4v3.3h-1.4zM129.88 229.5h2.8v3.3h-2.8zM141.09 229.5h1.4v3.3h-1.4zM146.7 229.5h1.4v3.3h-1.4zM162.12 229.5h1.4v3.3h-1.4zM166.32 229.5h1.4v3.3h-1.4zM170.53 229.5h1.4v3.3h-1.4zM177.54 229.5h2.8v3.3h-2.8zM184.55 229.5h1.4v3.3h-1.4zM211.18 229.5h1.4v3.3h-1.4zM220.99 229.5h1.4v3.3h-1.4zM397.61 229.5h1.4v3.3h-1.4zM429.85 229.5h1.4v3.3h-1.4zM432.65 229.5h2.8v3.3h-2.8zM439.66 229.5h2.8v3.3h-2.8zM443.87 229.5h1.4v3.3h-1.4zM455.08 229.5h1.4v3.3h-1.4zM470.5 229.5h1.4v3.3h-1.4zM476.11 229.5h1.4v3.3h-1.4zM478.91 229.5h1.4v3.3h-1.4zM491.53 229.5h1.4v3.3h-1.4zM497.14 229.5h1.4v3.3h-1.4zM505.55 229.5h1.4v3.3h-1.4zM515.36 229.5h1.4v3.3h-1.4zM520.97 229.5h1.4v3.3h-1.4zM527.97 229.5h2.8v3.3h-2.8zM532.18 229.5h1.4v3.3h-1.4zM537.79 229.5h1.4v3.3h-1.4zM541.99 229.5h1.4v3.3h-1.4zM560.21 229.5h2.8v3.3h-2.8zM565.82 229.5h1.4v3.3h-1.4zM577.04 229.5h1.4v3.3h-1.4zM585.45 229.5h1.4v3.3h-1.4zM198.56 226.2h2.8v3.3h-2.8zM208.38 226.2h1.4v3.3h-1.4zM218.19 226.2h1.4v3.3h-1.4zM222.39 226.2h1.4v3.3h-1.4zM230.8 226.2h1.4v3.3h-1.4zM235.01 226.2h1.4v3.3h-1.4zM243.42 226.2h1.4v3.3h-1.4zM251.83 226.2h1.4v3.3h-1.4zM271.45 226.2h1.4v3.3h-1.4zM274.26 226.2h2.8v3.3h-2.8zM299.49 226.2h1.4v3.3h-1.4zM309.3 226.2h1.4v3.3h-1.4zM312.1 226.2h1.4v3.3h-1.4zM317.71 226.2h1.4v3.3h-1.4zM321.92 226.2h1.4v3.3h-1.4zM327.52 226.2h2.8v3.3h-2.8zM337.34 226.2h1.4v3.3h-1.4zM345.75 226.2h1.4v3.3h-1.4zM348.55 226.2h1.4v3.3h-1.4zM351.35 226.2h1.4v3.3h-1.4zM356.96 226.2h1.4v3.3h-1.4zM379.39 226.2h1.4v3.3h-1.4zM383.59 226.2h4.21v3.3h-4.21zM389.2 226.2h1.4v3.3h-1.4zM417.24 226.2h1.4v3.3h-1.4zM424.24 226.2h1.4v3.3h-1.4zM431.25 226.2h1.4v3.3h-1.4zM68.2 216.3h1.4v3.3h-1.4zM71 216.3h1.4v3.3h-1.4z"/>
<path fill="#7aff00" d="M106.05 232.8h1.4v3.3h-1.4zM122.87 232.8h1.4v3.3h-1.4zM450.88 232.8h1.4v3.3h-1.4zM82.22 229.5h1.4v3.3h-1.4zM89.23 229.5h1.4v3.3h-1.4zM104.65 229.5h2.8v3.3h-2.8zM108.85 229.5h1.4v3.3h-1.4zM114.46 229.5h1.4v3.3h-1.4zM121.47 229.5h2.8v3.3h-2.8zM136.89 229.5h4.21v3.3h-4.21zM142.49 229.5h1.4v3.3h-1.4zM145.3 229.5h1.4v3.3h-1.4zM163.52 229.5h1.4v3.3h-1.4zM183.14 229.5h1.4v3.3h-1.4zM187.35 229.5h2.8v3.3h-2.8zM194.36 229.5h1.4v3.3h-1.4zM445.27 229.5h1.4v3.3h-1.4zM448.07 229.5h1.4v3.3h-1.4zM450.88 229.5h1.4v3.3h-1.4zM453.68 229.5h1.4v3.3h-1.4zM459.29 229.5h2.8v3.3h-2.8zM467.7 229.5h2.8v3.3h-2.8zM471.9 229.5h1.4v3.3h-1.4zM480.31 229.5h1.4v3.3h-1.4zM492.93 229.5h1.4v3.3h-1.4zM506.95 229.5h1.4v3.3h-1.4zM530.78 229.5h1.4v3.3h-1.4zM533.58 229.5h1.4v3.3h-1.4zM549 229.5h1.4v3.3h-1.4zM551.8 229.5h2.8v3.3h-2.8zM581.24 229.5h1.4v3.3h-1.4zM586.85 229.5h1.4v3.3h-1.4zM592.45 229.5h1.4v3.3h-1.4zM603.67 229.5h1.4v3.3h-1.4zM606.47 229.5h1.4v3.3h-1.4zM612.08 229.5h1.4v3.3h-1.4zM192.96 226.2h1.4v3.3h-1.4zM209.78 226.2h2.8v3.3h-2.8zM216.79 226.2h1.4v3.3h-1.4zM233.61 226.2h1.4v3.3h-1.4zM240.62 226.2h2.8v3.3h-2.8zM246.22 226.2h1.4v3.3h-1.4zM253.23 226.2h1.4v3.3h-1.4zM257.44 226.2h1.4v3.3h-1.4zM272.86 226.2h1.4v3.3h-1.4zM278.46 226.2h1.4v3.3h-1.4zM281.27 226.2h1.4v3.3h-1.4zM285.47 226.2h1.4v3.3h-1.4zM288.27 226.2h1.4v3.3h-1.4zM292.48 226.2h2.8v3.3h-2.8zM302.29 226.2h1.4v3.3h-1.4zM313.51 226.2h1.4v3.3h-1.4zM319.11 226.2h1.4v3.3h-1.4zM323.32 226.2h1.4v3.3h-1.4zM326.12 226.2h1.4v3.3h-1.4zM330.33 226.2h1.4v3.3h-1.4zM333.13 226.2h4.21v3.3h-4.21zM338.74 226.2h2.8v3.3h-2.8zM352.76 226.2h1.4v3.3h-1.4zM366.77 226.2h1.4v3.3h-1.4zM375.18 226.2h1.4v3.3h-1.4zM392 226.2h1.4v3.3h-1.4zM394.81 226.2h2.8v3.3h-2.8zM400.41 226.2h2.8v3.3h-2.8zM408.83 226.2h1.4v3.3h-1.4zM427.05 226.2h1.4v3.3h-1.4zM69.6 216.3h1.4v3.3h-1.4zM73.81 216.3h1.4v3.3h-1.4z"/>
<path fill="#a0ff00" d="M616.28 236.1h1.4v3.3h-1.4zM141.09 232.8h1.4v3.3h-1.4zM150.9 232.8h1.4v3.3h-1.4zM157.91 232.8h1.4v3.3h-1.4zM429.85 232.8h1.4v3.3h-1.4zM449.48 232.8h1.4v3.3h-1.4zM455.08 232.8h1.4v3.3h-1.4zM463.49 232.8h2.8v3.3h-2.8zM470.5 232.8h1.4v3.3h-1.4zM502.74 232.8h1.4v3.3h-1.4zM518.16 232.8h1.4v3.3h-1.4zM529.38 232.8h1.4v3.3h-1.4zM533.58 232.8h1.4v3.3h-1.4zM537.79 232.8h1.4v3.3h-1.4zM575.63 232.8h1.4v3.3h-1.4zM603.67 232.8h1.4v3.3h-1.4zM94.83 229.5h1.4v3.3h-1.4zM99.04 229.5h1.4v3.3h-1.4zM125.67 229.5h1.4v3.3h-1.4zM132.68 229.5h1.4v3.3h-1.4zM156.51 229.5h1.4v3.3h-1.4zM159.31 229.5h1.4v3.3h-1.4zM171.93 229.5h1.4v3.3h-1.4zM222.39 229.5h1.4v3.3h-1.4zM243.42 229.5h1.4v3.3h-1.4zM274.26 229.5h1.4v3.3h-1.4zM289.68 229.5h1.4v3.3h-1.4zM312.1 229.5h1.4v3.3h-1.4zM330.33 229.5h1.4v3.3h-1.4zM370.98 229.5h1.4v3.3h-1.4zM373.78 229.5h1.4v3.3h-1.4zM385 229.5h1.4v3.3h-1.4zM425.65 229.5h1.4v3.3h-1.4zM435.46 229.5h1.4v3.3h-1.4zM464.9 229.5h1.4v3.3h-1.4zM499.94 229.5h1.4v3.3h-1.4zM504.14 229.5h1.4v3.3h-1.4zM523.77 229.5h1.4v3.3h-1.4zM539.19 229.5h2.8v3.3h-2.8zM544.79 229.5h1.4v3.3h-1.4zM564.42 229.5h1.4v3.3h-1.4zM582.64 229.5h2.8v3.3h-2.8zM588.25 229.5h2.8v3.3h-2.8zM593.86 229.5h1.4v3.3h-1.4zM596.66 229.5h4.21v3.3h-4.21zM202.77 226.2h1.4v3.3h-1.4zM206.97 226.2h1.4v3.3h-1.4zM213.98 226.2h2.8v3.3h-2.8zM223.79 226.2h1.4v3.3h-1.4zM254.63 226.2h1.4v3.3h-1.4zM264.44 226.2h2.8v3.3h-2.8zM282.67 226.2h2.8v3.3h-2.8zM303.69 226.2h1.4v3.3h-1.4zM314.91 226.2h1.4v3.3h-1.4zM331.73 226.2h1.4v3.3h-1.4zM344.34 226.2h1.4v3.3h-1.4zM347.15 226.2h1.4v3.3h-1.4zM354.16 226.2h1.4v3.3h-1.4zM370.98 226.2h1.4v3.3h-1.4zM373.78 226.2h1.4v3.3h-1.4zM380.79 226.2h1.4v3.3h-1.4zM390.6 226.2h1.4v3.3h-1.4zM407.42 226.2h1.4v3.3h-1.4zM422.84 226.2h1.4v3.3h-1.4zM425.65 226.2h1.4v3.3h-1.4zM75.21 216.3h1.4v3.3h-1.4z"/>
<path fill="#b8ff00" d="M619.09 246h4.21v3.3h-4.21zM626.1 246h1.4v3.3h-1.4zM607.87 239.4h4.21v3.3h-4.21zM93.43 232.8h1.4v3.3h-1.4zM96.23 232.8h4.21v3.3h-4.21zM110.25 232.8h1.4v3.3h-1.4zM118.66 232.8h2.8v3.3h-2.8zM129.88 232.8h1.4v3.3h-1.4zM148.1 232.8h1.4v3.3h-1.4zM162.12 232.8h2.8v3.3h-2.8zM174.73 232.8h1.4v3.3h-1.4zM184.55 232.8h2.8v3.3h-2.8zM191.55 232.8h1.4v3.3h-1.4zM194.36 232.8h1.4v3.3h-1.4zM434.06 232.8h2.8v3.3h-2.8zM439.66 232.8h1.4v3.3h-1.4zM443.87 232.8h1.4v3.3h-1.4zM446.67 232.8h1.4v3.3h-1.4zM457.89 232.8h1.4v3.3h-1.4zM487.32 232.8h1.4v3.3h-1.4zM490.13 232.8h1.4v3.3h-1.4zM499.94 232.8h1.4v3.3h-1.4zM509.75 232.8h1.4v3.3h-1.4zM513.96 232.8h1.4v3.3h-1.4zM520.97 232.8h1.4v3.3h-1.4zM540.59 232.8h1.4v3.3h-1.4zM544.79 232.8h1.4v3.3h-1.4zM596.66 232.8h1.4v3.3h-1.4zM79.41 229.5h1.4v3.3h-1.4zM118.66 229.5h1.4v3.3h-1.4zM160.72 229.5h1.4v3.3h-1.4zM202.77 229.5h1.4v3.3h-1.4zM209.78 229.5h1.4v3.3h-1.4zM213.98 229.5h1.4v3.3h-1.4zM226.6 229.5h2.8v3.3h-2.8zM236.41 229.5h2.8v3.3h-2.8zM254.63 229.5h1.4v3.3h-1.4zM267.25 229.5h2.8v3.3h-2.8zM277.06 229.5h1.4v3.3h-1.4zM288.27 229.5h1.4v3.3h-1.4zM292.48 229.5h1.4v3.3h-1.4zM306.5 229.5h1.4v3.3h-1.4zM314.91 229.5h1.4v3.3h-1.4zM331.73 229.5h1.4v3.3h-1.4zM344.34 229.5h1.4v3.3h-1.4zM351.35 229.5h1.4v3.3h-1.4zM362.57 229.5h2.8v3.3h-2.8zM375.18 229.5h1.4v3.3h-1.4zM390.6 229.5h1.4v3.3h-1.4zM400.41 229.5h2.8v3.3h-2.8zM407.42 229.5h1.4v3.3h-1.4zM414.43 229.5h1.4v3.3h-1.4zM418.64 229.5h2.8v3.3h-2.8zM427.05 229.5h1.4v3.3h-1.4zM457.89 229.5h1.4v3.3h-1.4zM473.31 229.5h1.4v3.3h-1.4zM485.92 229.5h1.4v3.3h-1.4zM490.13 229.5h1.4v3.3h-1.4zM512.55 229.5h2.8v3.3h-2.8zM250.43 226.2h1.4v3.3h-1.4zM256.03 226.2h1.4v3.3h-1.4zM258.84 226.2h1.4v3.3h-1.4zM341.54 226.2h1.4v3.3h-1.4zM365.37 226.2h1.4v3.3h-1.4zM382.19 226.2h1.4v3.3h-1.4zM393.41 226.2h1.4v3.3h-1.4zM397.61 226.2h2.8v3.3h-2.8zM68.2 219.6h1.4v3.3h-1.4z"/>
<path fill="#d0ff00" d="M623.29 246h2.8v3.3h-2.8zM627.5 246h1.4v3.3h-1.4zM617.69 239.4h1.4v3.3h-1.4zM78.01 232.8h1.4v3.3h-1.4zM92.03 232.8h1.4v3.3h-1.4zM104.65 232.8h1.4v3.3h-1.4zM108.85 232.8h1.4v3.3h-1.4zM111.65 232.8h2.8v3.3h-2.8zM125.67 232.8h1.4v3.3h-1.4zM142.49 232.8h1.4v3.3h-1.4zM152.31 232.8h2.8v3.3h-2.8zM156.51 232.8h1.4v3.3h-1.4zM160.72 232.8h1.4v3.3h-1.4zM166.32 232.8h1.4v3.3h-1.4zM170.53 232.8h1.4v3.3h-1.4zM173.33 232.8h1.4v3.3h-1.4zM178.94 232.8h5.61v3.3h-5.61zM195.76 232.8h1.4v3.3h-1.4zM445.27 232.8h1.4v3.3h-1.4zM456.48 232.8h1.4v3.3h-1.4zM459.29 232.8h1.4v3.3h-1.4zM467.7 232.8h2.8v3.3h-2.8zM471.9 232.8h2.8v3.3h-2.8zM476.11 232.8h1.4v3.3h-1.4zM478.91 232.8h1.4v3.3h-1.4zM481.72 232.8h1.4v3.3h-1.4zM485.92 232.8h1.4v3.3h-1.4zM488.72 232.8h1.4v3.3h-1.4zM491.53 232.8h1.4v3.3h-1.4zM494.33 232.8h1.4v3.3h-1.4zM504.14 232.8h2.8v3.3h-2.8zM515.36 232.8h1.4v3.3h-1.4zM522.37 232.8h1.4v3.3h-1.4zM532.18 232.8h1.4v3.3h-1.4zM534.98 232.8h1.4v3.3h-1.4zM560.21 232.8h1.4v3.3h-1.4zM567.22 232.8h2.8v3.3h-2.8zM582.64 232.8h1.4v3.3h-1.4zM588.25 232.8h1.4v3.3h-1.4zM128.48 229.5h1.4v3.3h-1.4zM167.72 229.5h1.4v3.3h-1.4zM192.96 229.5h1.4v3.3h-1.4zM197.16 229.5h4.21v3.3h-4.21zM218.19 229.5h1.4v3.3h-1.4zM223.79 229.5h1.4v3.3h-1.4zM229.4 229.5h1.4v3.3h-1.4zM239.21 229.5h1.4v3.3h-1.4zM242.02 229.5h1.4v3.3h-1.4zM260.24 229.5h2.8v3.3h-2.8zM265.85 229.5h1.4v3.3h-1.4zM270.05 229.5h1.4v3.3h-1.4zM275.66 229.5h1.4v3.3h-1.4zM278.46 229.5h1.4v3.3h-1.4zM284.07 229.5h1.4v3.3h-1.4zM286.87 229.5h1.4v3.3h-1.4zM291.08 229.5h1.4v3.3h-1.4zM295.28 229.5h1.4v3.3h-1.4zM298.09 229.5h1.4v3.3h-1.4zM305.1 229.5h1.4v3.3h-1.4zM320.51 229.5h1.4v3.3h-1.4zM323.32 229.5h1.4v3.3h-1.4zM328.93 229.5h1.4v3.3h-1.4zM334.53 229.5h2.8v3.3h-2.8zM340.14 229.5h2.8v3.3h-2.8zM352.76 229.5h1.4v3.3h-1.4zM359.76 229.5h1.4v3.3h-1.4zM365.37 229.5h1.4v3.3h-1.4zM368.17 229.5h1.4v3.3h-1.4zM379.39 229.5h1.4v3.3h-1.4zM393.41 229.5h1.4v3.3h-1.4zM399.01 229.5h1.4v3.3h-1.4zM408.83 229.5h1.4v3.3h-1.4zM411.63 229.5h1.4v3.3h-1.4zM422.84 229.5h1.4v3.3h-1.4zM600.87 229.5h1.4v3.3h-1.4zM225.2 226.2h1.4v3.3h-1.4zM420.04 226.2h1.4v3.3h-1.4zM428.45 226.2h1.4v3.3h-1.4zM75.21 219.6h1.4v3.3h-1.4z"/>
<path fill="#e7ff00" d="M616.28 239.4h1.4v3.3h-1.4zM82.22 232.8h1.4v3.3h-1.4zM85.02 232.8h1.4v3.3h-1.4zM89.23 232.8h1.4v3.3h-1.4zM121.47 232.8h1.4v3.3h-1.4zM134.08 232.8h1.4v3.3h-1.4zM138.29 232.8h1.4v3.3h-1.4zM145.3 232.8h1.4v3.3h-1.4zM149.5 232.8h1.4v3.3h-1.4zM155.11 232.8h1.4v3.3h-1.4zM159.31 232.8h1.4v3.3h-1.4zM169.13 232.8h1.4v3.3h-1.4zM171.93 232.8h1.4v3.3h-1.4zM177.54 232.8h1.4v3.3h-1.4zM187.35 232.8h2.8v3.3h-2.8zM432.65 232.8h1.4v3.3h-1.4zM453.68 232.8h1.4v3.3h-1.4zM460.69 232.8h2.8v3.3h-2.8zM480.31 232.8h1.4v3.3h-1.4zM483.12 232.8h1.4v3.3h-1.4zM492.93 232.8h1.4v3.3h-1.4zM508.35 232.8h1.4v3.3h-1.4zM526.57 232.8h2.8v3.3h-2.8zM536.38 232.8h1.4v3.3h-1.4zM543.39 232.8h1.4v3.3h-1.4zM546.2 232.8h2.8v3.3h-2.8zM550.4 232.8h5.61v3.3h-5.61zM558.81 232.8h1.4v3.3h-1.4zM564.42 232.8h1.4v3.3h-1.4zM577.04 232.8h2.8v3.3h-2.8zM584.04 232.8h1.4v3.3h-1.4zM586.85 232.8h1.4v3.3h-1.4zM598.06 232.8h1.4v3.3h-1.4zM600.87 232.8h1.4v3.3h-1.4zM76.61 229.5h1.4v3.3h-1.4zM208.38 229.5h1.4v3.3h-1.4zM216.79 229.5h1.4v3.3h-1.4zM219.59 229.5h1.4v3.3h-1.4zM244.82 229.5h2.8v3.3h-2.8zM253.23 229.5h1.4v3.3h-1.4zM264.44 229.5h1.4v3.3h-1.4zM271.45 229.5h1.4v3.3h-1.4zM281.27 229.5h1.4v3.3h-1.4zM285.47 229.5h1.4v3.3h-1.4zM296.69 229.5h1.4v3.3h-1.4zM303.69 229.5h1.4v3.3h-1.4zM307.9 229.5h2.8v3.3h-2.8zM316.31 229.5h1.4v3.3h-1.4zM319.11 229.5h1.4v3.3h-1.4zM324.72 229.5h1.4v3.3h-1.4zM327.52 229.5h1.4v3.3h-1.4zM354.16 229.5h1.4v3.3h-1.4zM369.58 229.5h1.4v3.3h-1.4zM387.8 229.5h1.4v3.3h-1.4zM392 229.5h1.4v3.3h-1.4zM403.22 229.5h2.8v3.3h-2.8zM413.03 229.5h1.4v3.3h-1.4zM415.83 229.5h1.4v3.3h-1.4zM424.24 229.5h1.4v3.3h-1.4zM431.25 229.5h1.4v3.3h-1.4zM212.58 226.2h1.4v3.3h-1.4zM73.81 219.6h1.4v3.3h-1.4z"/>
<path fill="#ffff00" d="M623.29 249.3h1.4v3.3h-1.4zM626.1 249.3h1.4v3.3h-1.4zM607.87 242.7h4.21v3.3h-4.21zM613.48 236.1h1.4v3.3h-1.4zM79.41 232.8h1.4v3.3h-1.4zM87.82 232.8h1.4v3.3h-1.4zM90.63 232.8h1.4v3.3h-1.4zM94.83 232.8h1.4v3.3h-1.4zM100.44 232.8h4.21v3.3h-4.21zM124.27 232.8h1.4v3.3h-1.4zM128.48 232.8h1.4v3.3h-1.4zM135.48 232.8h2.8v3.3h-2.8zM139.69 232.8h1.4v3.3h-1.4zM164.92 232.8h1.4v3.3h-1.4zM167.72 232.8h1.4v3.3h-1.4zM190.15 232.8h1.4v3.3h-1.4zM436.86 232.8h2.8v3.3h-2.8zM441.07 232.8h1.4v3.3h-1.4zM452.28 232.8h1.4v3.3h-1.4zM466.3 232.8h1.4v3.3h-1.4zM477.51 232.8h1.4v3.3h-1.4zM495.73 232.8h1.4v3.3h-1.4zM511.15 232.8h1.4v3.3h-1.4zM519.56 232.8h1.4v3.3h-1.4zM523.77 232.8h1.4v3.3h-1.4zM530.78 232.8h1.4v3.3h-1.4zM539.19 232.8h1.4v3.3h-1.4zM541.99 232.8h1.4v3.3h-1.4zM549 232.8h1.4v3.3h-1.4zM557.41 232.8h1.4v3.3h-1.4zM570.03 232.8h1.4v3.3h-1.4zM572.83 232.8h2.8v3.3h-2.8zM581.24 232.8h1.4v3.3h-1.4zM585.45 232.8h1.4v3.3h-1.4zM589.65 232.8h1.4v3.3h-1.4zM592.45 232.8h2.8v3.3h-2.8zM599.46 232.8h1.4v3.3h-1.4zM606.47 232.8h1.4v3.3h-1.4zM612.08 232.8h1.4v3.3h-1.4zM201.37 229.5h1.4v3.3h-1.4zM206.97 229.5h1.4v3.3h-1.4zM225.2 229.5h1.4v3.3h-1.4zM230.8 229.5h1.4v3.3h-1.4zM233.61 229.5h1.4v3.3h-1.4zM250.43 229.5h1.4v3.3h-1.4zM257.44 229.5h2.8v3.3h-2.8zM272.86 229.5h1.4v3.3h-1.4zM282.67 229.5h1.4v3.3h-1.4zM293.88 229.5h1.4v3.3h-1.4zM299.49 229.5h4.21v3.3h-4.21zM310.7 229.5h1.4v3.3h-1.4zM317.71 229.5h1.4v3.3h-1.4zM333.13 229.5h1.4v3.3h-1.4zM337.34 229.5h1.4v3.3h-1.4zM342.94 229.5h1.4v3.3h-1.4zM356.96 229.5h2.8v3.3h-2.8zM361.17 229.5h1.4v3.3h-1.4zM372.38 229.5h1.4v3.3h-1.4zM386.4 229.5h1.4v3.3h-1.4zM394.81 229.5h1.4v3.3h-1.4zM406.02 229.5h1.4v3.3h-1.4zM417.24 229.5h1.4v3.3h-1.4zM428.45 229.5h1.4v3.3h-1.4zM72.41 222.9h1.4v3.3h-1.4zM69.6 219.6h1.4v3.3h-1.4z"/>
<path fill="#ffea00" d="M68.2 249.3h5.61v3.3h-5.61zM93.43 249.3h5.61v3.3h-5.61zM100.44 249.3h4.21v3.3h-4.21zM107.45 249.3h1.4v3.3h-1.4zM319.11 249.3h2.8v3.3h-2.8zM443.87 249.3h1.4v3.3h-1.4zM462.09 249.3h1.4v3.3h-1.4zM582.64 249.3h1.4v3.3h-1.4zM613.48 249.3h4.21v3.3h-4.21zM620.49 249.3h2.8v3.3h-2.8zM624.69 249.3h1.4v3.3h-1.4zM627.5 249.3h1.4v3.3h-1.4zM68.2 246h5.61v3.3h-5.61zM93.43 246h5.61v3.3h-5.61zM100.44 246h9.81v3.3h-9.81zM319.11 246h2.8v3.3h-2.8zM443.87 246h1.4v3.3h-1.4zM448.07 246h1.4v3.3h-1.4zM462.09 246h1.4v3.3h-1.4zM582.64 246h1.4v3.3h-1.4zM607.87 246h4.21v3.3h-4.21zM613.48 246h5.61v3.3h-5.61zM68.2 242.7h5.61v3.3h-5.61zM93.43 242.7h5.61v3.3h-5.61zM100.44 242.7h11.21v3.3h-11.21zM319.11 242.7h2.8v3.3h-2.8zM327.52 242.7h2.8v3.3h-2.8zM443.87 242.7h1.4v3.3h-1.4zM448.07 242.7h1.4v3.3h-1.4zM462.09 242.7h1.4v3.3h-1.4zM481.72 242.7h1.4v3.3h-1.4zM582.64 242.7h1.4v3.3h-1.4zM586.85 242.7h2.8v3.3h-2.8zM613.48 242.7h5.61v3.3h-5.61zM68.2 239.4h5.61v3.3h-5.61zM83.62 239.4h1.4v3.3h-1.4zM93.43 239.4h5.61v3.3h-5.61zM100.44 239.4h11.21v3.3h-11.21zM307.9 239.4h1.4v3.3h-1.4zM319.11 239.4h2.8v3.3h-2.8zM326.12 239.4h4.21v3.3h-4.21zM432.65 239.4h1.4v3.3h-1.4zM443.87 239.4h1.4v3.3h-1.4zM448.07 239.4h1.4v3.3h-1.4zM462.09 239.4h1.4v3.3h-1.4zM481.72 239.4h1.4v3.3h-1.4zM582.64 239.4h1.4v3.3h-1.4zM586.85 239.4h2.8v3.3h-2.8zM595.26 239.4h1.4v3.3h-1.4zM612.08 239.4h2.8v3.3h-2.8zM68.2 236.1h5.61v3.3h-5.61zM80.82 236.1h30.84v3.3h-30.84zM127.07 236.1h1.4v3.3h-1.4zM131.28 236.1h1.4v3.3h-1.4zM135.48 236.1h2.8v3.3h-2.8zM139.69 236.1h1.4v3.3h-1.4zM148.1 236.1h1.4v3.3h-1.4zM157.91 236.1h1.4v3.3h-1.4zM307.9 236.1h1.4v3.3h-1.4zM319.11 236.1h4.21v3.3h-4.21zM326.12 236.1h4.21v3.3h-4.21zM432.65 236.1h12.62v3.3h-12.62zM446.67 236.1h7.01v3.3h-7.01zM456.48 236.1h2.8v3.3h-2.8zM460.69 236.1h4.21v3.3h-4.21zM466.3 236.1h1.4v3.3h-1.4zM469.1 236.1h2.8v3.3h-2.8zM473.31 236.1h4.21v3.3h-4.21zM478.91 236.1h4.21v3.3h-4.21zM484.52 236.1h1.4v3.3h-1.4zM487.32 236.1h1.4v3.3h-1.4zM508.35 236.1h1.4v3.3h-1.4zM577.04 236.1h4.21v3.3h-4.21zM582.64 236.1h15.42v3.3h-15.42zM602.27 236.1h2.8v3.3h-2.8zM612.08 236.1h1.4v3.3h-1.4zM68.2 232.8h5.61v3.3h-5.61zM83.62 232.8h1.4v3.3h-1.4zM107.45 232.8h1.4v3.3h-1.4zM114.46 232.8h4.21v3.3h-4.21zM127.07 232.8h1.4v3.3h-1.4zM131.28 232.8h2.8v3.3h-2.8zM143.89 232.8h1.4v3.3h-1.4zM281.27 232.8h1.4v3.3h-1.4zM284.07 232.8h1.4v3.3h-1.4zM305.1 232.8h1.4v3.3h-1.4zM307.9 232.8h9.81v3.3h-9.81zM319.11 232.8h14.02v3.3h-14.02zM334.53 232.8h7.01v3.3h-7.01zM431.25 232.8h1.4v3.3h-1.4zM442.47 232.8h1.4v3.3h-1.4zM474.71 232.8h1.4v3.3h-1.4zM484.52 232.8h1.4v3.3h-1.4zM498.54 232.8h1.4v3.3h-1.4zM501.34 232.8h1.4v3.3h-1.4zM512.55 232.8h1.4v3.3h-1.4zM516.76 232.8h1.4v3.3h-1.4zM525.17 232.8h1.4v3.3h-1.4zM556.01 232.8h1.4v3.3h-1.4zM563.02 232.8h1.4v3.3h-1.4zM565.82 232.8h1.4v3.3h-1.4zM571.43 232.8h1.4v3.3h-1.4zM579.84 232.8h1.4v3.3h-1.4zM591.05 232.8h1.4v3.3h-1.4zM68.2 229.5h5.61v3.3h-5.61zM205.57 229.5h1.4v3.3h-1.4zM212.58 229.5h1.4v3.3h-1.4zM215.38 229.5h1.4v3.3h-1.4zM232.2 229.5h1.4v3.3h-1.4zM235.01 229.5h1.4v3.3h-1.4zM240.62 229.5h1.4v3.3h-1.4zM263.04 229.5h1.4v3.3h-1.4zM279.86 229.5h1.4v3.3h-1.4zM313.51 229.5h1.4v3.3h-1.4zM321.92 229.5h1.4v3.3h-1.4zM326.12 229.5h1.4v3.3h-1.4zM347.15 229.5h1.4v3.3h-1.4zM355.56 229.5h1.4v3.3h-1.4zM366.77 229.5h1.4v3.3h-1.4zM376.58 229.5h2.8v3.3h-2.8zM380.79 229.5h2.8v3.3h-2.8zM389.2 229.5h1.4v3.3h-1.4zM421.44 229.5h1.4v3.3h-1.4zM68.2 226.2h5.61v3.3h-5.61zM68.2 222.9h4.21v3.3h-4.21zM73.81 222.9h2.8v3.3h-2.8zM71 219.6h1.4v3.3h-1.4z"/>
<path fill="#ffd500" d="M83.62 249.3h2.8v3.3h-2.8zM90.63 249.3h1.4v3.3h-1.4zM99.04 249.3h1.4v3.3h-1.4zM104.65 249.3h2.8v3.3h-2.8zM108.85 249.3h2.8v3.3h-2.8zM136.89 249.3h1.4v3.3h-1.4zM284.07 249.3h1.4v3.3h-1.4zM307.9 249.3h2.8v3.3h-2.8zM321.92 249.3h8.41v3.3h-8.41zM432.65 249.3h1.4v3.3h-1.4zM448.07 249.3h1.4v3.3h-1.4zM450.88 249.3h1.4v3.3h-1.4zM480.31 249.3h2.8v3.3h-2.8zM578.44 249.3h2.8v3.3h-2.8zM584.04 249.3h1.4v3.3h-1.4zM586.85 249.3h2.8v3.3h-2.8zM595.26 249.3h1.4v3.3h-1.4zM607.87 249.3h5.61v3.3h-5.61zM617.69 249.3h2.8v3.3h-2.8zM73.81 246h1.4v3.3h-1.4zM82.22 246h4.21v3.3h-4.21zM89.23 246h4.21v3.3h-4.21zM99.04 246h1.4v3.3h-1.4zM110.25 246h1.4v3.3h-1.4zM136.89 246h1.4v3.3h-1.4zM284.07 246h1.4v3.3h-1.4zM307.9 246h5.61v3.3h-5.61zM321.92 246h8.41v3.3h-8.41zM432.65 246h1.4v3.3h-1.4zM450.88 246h1.4v3.3h-1.4zM466.3 246h1.4v3.3h-1.4zM470.5 246h1.4v3.3h-1.4zM474.71 246h1.4v3.3h-1.4zM480.31 246h2.8v3.3h-2.8zM484.52 246h1.4v3.3h-1.4zM578.44 246h2.8v3.3h-2.8zM584.04 246h7.01v3.3h-7.01zM595.26 246h1.4v3.3h-1.4zM603.67 246h1.4v3.3h-1.4zM612.08 246h1.4v3.3h-1.4zM73.81 242.7h1.4v3.3h-1.4zM82.22 242.7h11.21v3.3h-11.21zM99.04 242.7h1.4v3.3h-1.4zM127.07 242.7h1.4v3.3h-1.4zM136.89 242.7h1.4v3.3h-1.4zM148.1 242.7h1.4v3.3h-1.4zM281.27 242.7h1.4v3.3h-1.4zM284.07 242.7h1.4v3.3h-1.4zM307.9 242.7h8.41v3.3h-8.41zM321.92 242.7h5.61v3.3h-5.61zM432.65 242.7h1.4v3.3h-1.4zM441.07 242.7h1.4v3.3h-1.4zM446.67 242.7h1.4v3.3h-1.4zM449.48 242.7h4.21v3.3h-4.21zM457.89 242.7h1.4v3.3h-1.4zM460.69 242.7h1.4v3.3h-1.4zM466.3 242.7h1.4v3.3h-1.4zM469.1 242.7h2.8v3.3h-2.8zM473.31 242.7h2.8v3.3h-2.8zM480.31 242.7h1.4v3.3h-1.4zM484.52 242.7h1.4v3.3h-1.4zM487.32 242.7h1.4v3.3h-1.4zM578.44 242.7h2.8v3.3h-2.8zM584.04 242.7h2.8v3.3h-2.8zM589.65 242.7h1.4v3.3h-1.4zM593.86 242.7h2.8v3.3h-2.8zM603.67 242.7h1.4v3.3h-1.4zM612.08 242.7h1.4v3.3h-1.4zM73.81 239.4h2.8v3.3h-2.8zM82.22 239.4h1.4v3.3h-1.4zM85.02 239.4h8.41v3.3h-8.41zM99.04 239.4h1.4v3.3h-1.4zM127.07 239.4h1.4v3.3h-1.4zM131.28 239.4h1.4v3.3h-1.4zM135.48 239.4h2.8v3.3h-2.8zM139.69 239.4h1.4v3.3h-1.4zM148.1 239.4h1.4v3.3h-1.4zM157.91 239.4h1.4v3.3h-1.4zM281.27 239.4h1.4v3.3h-1.4zM284.07 239.4h1.4v3.3h-1.4zM309.3 239.4h7.01v3.3h-7.01zM321.92 239.4h4.21v3.3h-4.21zM330.33 239.4h2.8v3.3h-2.8zM337.34 239.4h4.21v3.3h-4.21zM431.25 239.4h1.4v3.3h-1.4zM434.06 239.4h9.81v3.3h-9.81zM446.67 239.4h1.4v3.3h-1.4zM449.48 239.4h4.21v3.3h-4.21zM456.48 239.4h2.8v3.3h-2.8zM460.69 239.4h1.4v3.3h-1.4zM463.49 239.4h1.4v3.3h-1.4zM466.3 239.4h1.4v3.3h-1.4zM469.1 239.4h2.8v3.3h-2.8zM473.31 239.4h4.21v3.3h-4.21zM478.91 239.4h2.8v3.3h-2.8zM484.52 239.4h1.4v3.3h-1.4zM487.32 239.4h1.4v3.3h-1.4zM508.35 239.4h1.4v3.3h-1.4zM577.04 239.4h4.21v3.3h-4.21zM584.04 239.4h2.8v3.3h-2.8zM589.65 239.4h5.61v3.3h-5.61zM596.66 239.4h1.4v3.3h-1.4zM602.27 239.4h2.8v3.3h-2.8zM614.88 239.4h1.4v3.3h-1.4zM73.81 236.1h2.8v3.3h-2.8zM78.01 236.1h2.8v3.3h-2.8zM111.65 236.1h7.01v3.3h-7.01zM120.06 236.1h1.4v3.3h-1.4zM122.87 236.1h2.8v3.3h-2.8zM129.88 236.1h1.4v3.3h-1.4zM132.68 236.1h2.8v3.3h-2.8zM138.29 236.1h1.4v3.3h-1.4zM141.09 236.1h7.01v3.3h-7.01zM149.5 236.1h8.41v3.3h-8.41zM159.31 236.1h1.4v3.3h-1.4zM164.92 236.1h1.4v3.3h-1.4zM281.27 236.1h1.4v3.3h-1.4zM284.07 236.1h1.4v3.3h-1.4zM305.1 236.1h1.4v3.3h-1.4zM309.3 236.1h8.41v3.3h-8.41zM323.32 236.1h2.8v3.3h-2.8zM330.33 236.1h2.8v3.3h-2.8zM334.53 236.1h7.01v3.3h-7.01zM429.85 236.1h2.8v3.3h-2.8zM445.27 236.1h1.4v3.3h-1.4zM453.68 236.1h2.8v3.3h-2.8zM459.29 236.1h1.4v3.3h-1.4zM464.9 236.1h1.4v3.3h-1.4zM467.7 236.1h1.4v3.3h-1.4zM471.9 236.1h1.4v3.3h-1.4zM477.51 236.1h1.4v3.3h-1.4zM483.12 236.1h1.4v3.3h-1.4zM485.92 236.1h1.4v3.3h-1.4zM488.72 236.1h12.62v3.3h-12.62zM504.14 236.1h1.4v3.3h-1.4zM506.95 236.1h1.4v3.3h-1.4zM526.57 236.1h4.21v3.3h-4.21zM532.18 236.1h1.4v3.3h-1.4zM539.19 236.1h1.4v3.3h-1.4zM550.4 236.1h2.8v3.3h-2.8zM556.01 236.1h1.4v3.3h-1.4zM560.21 236.1h1.4v3.3h-1.4zM563.02 236.1h11.21v3.3h-11.21zM575.63 236.1h1.4v3.3h-1.4zM581.24 236.1h1.4v3.3h-1.4zM598.06 236.1h4.21v3.3h-4.21zM605.07 236.1h2.8v3.3h-2.8zM73.81 232.8h4.21v3.3h-4.21zM146.7 232.8h1.4v3.3h-1.4zM212.58 232.8h1.4v3.3h-1.4zM218.19 232.8h2.8v3.3h-2.8zM223.79 232.8h4.21v3.3h-4.21zM229.4 232.8h1.4v3.3h-1.4zM235.01 232.8h1.4v3.3h-1.4zM237.81 232.8h1.4v3.3h-1.4zM240.62 232.8h2.8v3.3h-2.8zM244.82 232.8h2.8v3.3h-2.8zM256.03 232.8h18.22v3.3h-18.22zM275.66 232.8h1.4v3.3h-1.4zM278.46 232.8h2.8v3.3h-2.8zM282.67 232.8h1.4v3.3h-1.4zM286.87 232.8h18.22v3.3h-18.22zM306.5 232.8h1.4v3.3h-1.4zM317.71 232.8h1.4v3.3h-1.4zM333.13 232.8h1.4v3.3h-1.4zM341.54 232.8h4.21v3.3h-4.21zM348.55 232.8h1.4v3.3h-1.4zM387.8 232.8h1.4v3.3h-1.4zM397.61 232.8h2.8v3.3h-2.8zM401.82 232.8h4.21v3.3h-4.21zM407.42 232.8h1.4v3.3h-1.4zM427.05 232.8h2.8v3.3h-2.8zM497.14 232.8h1.4v3.3h-1.4zM506.95 232.8h1.4v3.3h-1.4zM561.62 232.8h1.4v3.3h-1.4zM595.26 232.8h1.4v3.3h-1.4zM602.27 232.8h1.4v3.3h-1.4zM605.07 232.8h1.4v3.3h-1.4zM73.81 229.5h2.8v3.3h-2.8zM204.17 229.5h1.4v3.3h-1.4zM249.03 229.5h1.4v3.3h-1.4zM251.83 229.5h1.4v3.3h-1.4zM338.74 229.5h1.4v3.3h-1.4zM345.75 229.5h1.4v3.3h-1.4zM349.95 229.5h1.4v3.3h-1.4zM73.81 226.2h2.8v3.3h-2.8z"/>
<path fill="#ffc000" d="M73.81 249.3h2.8v3.3h-2.8zM82.22 249.3h1.4v3.3h-1.4zM86.42 249.3h4.21v3.3h-4.21zM92.03 249.3h1.4v3.3h-1.4zM127.07 249.3h1.4v3.3h-1.4zM131.28 249.3h1.4v3.3h-1.4zM135.48 249.3h1.4v3.3h-1.4zM148.1 249.3h1.4v3.3h-1.4zM157.91 249.3h1.4v3.3h-1.4zM281.27 249.3h1.4v3.3h-1.4zM310.7 249.3h5.61v3.3h-5.61zM330.33 249.3h2.8v3.3h-2.8zM334.53 249.3h1.4v3.3h-1.4zM337.34 249.3h4.21v3.3h-4.21zM431.25 249.3h1.4v3.3h-1.4zM434.06 249.3h5.61v3.3h-5.61zM441.07 249.3h2.8v3.3h-2.8zM446.67 249.3h1.4v3.3h-1.4zM449.48 249.3h1.4v3.3h-1.4zM452.28 249.3h1.4v3.3h-1.4zM456.48 249.3h2.8v3.3h-2.8zM460.69 249.3h1.4v3.3h-1.4zM463.49 249.3h1.4v3.3h-1.4zM466.3 249.3h1.4v3.3h-1.4zM469.1 249.3h2.8v3.3h-2.8zM473.31 249.3h4.21v3.3h-4.21zM478.91 249.3h1.4v3.3h-1.4zM484.52 249.3h1.4v3.3h-1.4zM487.32 249.3h1.4v3.3h-1.4zM508.35 249.3h1.4v3.3h-1.4zM577.04 249.3h1.4v3.3h-1.4zM585.45 249.3h1.4v3.3h-1.4zM589.65 249.3h5.61v3.3h-5.61zM602.27 249.3h2.8v3.3h-2.8zM75.21 246h1.4v3.3h-1.4zM80.82 246h1.4v3.3h-1.4zM86.42 246h2.8v3.3h-2.8zM120.06 246h1.4v3.3h-1.4zM127.07 246h1.4v3.3h-1.4zM131.28 246h1.4v3.3h-1.4zM135.48 246h1.4v3.3h-1.4zM138.29 246h2.8v3.3h-2.8zM148.1 246h1.4v3.3h-1.4zM157.91 246h1.4v3.3h-1.4zM281.27 246h1.4v3.3h-1.4zM305.1 246h2.8v3.3h-2.8zM313.51 246h4.21v3.3h-4.21zM330.33 246h2.8v3.3h-2.8zM334.53 246h7.01v3.3h-7.01zM431.25 246h1.4v3.3h-1.4zM434.06 246h9.81v3.3h-9.81zM445.27 246h2.8v3.3h-2.8zM449.48 246h1.4v3.3h-1.4zM452.28 246h1.4v3.3h-1.4zM455.08 246h4.21v3.3h-4.21zM460.69 246h1.4v3.3h-1.4zM463.49 246h1.4v3.3h-1.4zM469.1 246h1.4v3.3h-1.4zM473.31 246h1.4v3.3h-1.4zM476.11 246h1.4v3.3h-1.4zM478.91 246h1.4v3.3h-1.4zM485.92 246h2.8v3.3h-2.8zM508.35 246h1.4v3.3h-1.4zM564.42 246h1.4v3.3h-1.4zM577.04 246h1.4v3.3h-1.4zM581.24 246h1.4v3.3h-1.4zM591.05 246h4.21v3.3h-4.21zM596.66 246h1.4v3.3h-1.4zM602.27 246h1.4v3.3h-1.4zM75.21 242.7h1.4v3.3h-1.4zM80.82 242.7h1.4v3.3h-1.4zM120.06 242.7h1.4v3.3h-1.4zM129.88 242.7h2.8v3.3h-2.8zM135.48 242.7h1.4v3.3h-1.4zM138.29 242.7h2.8v3.3h-2.8zM145.3 242.7h1.4v3.3h-1.4zM153.71 242.7h1.4v3.3h-1.4zM157.91 242.7h1.4v3.3h-1.4zM288.27 242.7h1.4v3.3h-1.4zM305.1 242.7h2.8v3.3h-2.8zM316.31 242.7h2.8v3.3h-2.8zM330.33 242.7h11.21v3.3h-11.21zM342.94 242.7h1.4v3.3h-1.4zM431.25 242.7h1.4v3.3h-1.4zM434.06 242.7h7.01v3.3h-7.01zM442.47 242.7h1.4v3.3h-1.4zM445.27 242.7h1.4v3.3h-1.4zM455.08 242.7h2.8v3.3h-2.8zM459.29 242.7h1.4v3.3h-1.4zM463.49 242.7h2.8v3.3h-2.8zM467.7 242.7h1.4v3.3h-1.4zM476.11 242.7h4.21v3.3h-4.21zM483.12 242.7h1.4v3.3h-1.4zM485.92 242.7h1.4v3.3h-1.4zM488.72 242.7h1.4v3.3h-1.4zM508.35 242.7h1.4v3.3h-1.4zM527.97 242.7h1.4v3.3h-1.4zM551.8 242.7h1.4v3.3h-1.4zM564.42 242.7h2.8v3.3h-2.8zM577.04 242.7h1.4v3.3h-1.4zM581.24 242.7h1.4v3.3h-1.4zM591.05 242.7h2.8v3.3h-2.8zM596.66 242.7h2.8v3.3h-2.8zM602.27 242.7h1.4v3.3h-1.4zM605.07 242.7h2.8v3.3h-2.8zM76.61 239.4h5.61v3.3h-5.61zM120.06 239.4h1.4v3.3h-1.4zM129.88 239.4h1.4v3.3h-1.4zM132.68 239.4h2.8v3.3h-2.8zM138.29 239.4h1.4v3.3h-1.4zM141.09 239.4h7.01v3.3h-7.01zM149.5 239.4h2.8v3.3h-2.8zM153.71 239.4h2.8v3.3h-2.8zM261.64 239.4h1.4v3.3h-1.4zM268.65 239.4h1.4v3.3h-1.4zM288.27 239.4h1.4v3.3h-1.4zM305.1 239.4h2.8v3.3h-2.8zM316.31 239.4h2.8v3.3h-2.8zM333.13 239.4h4.21v3.3h-4.21zM341.54 239.4h4.21v3.3h-4.21zM429.85 239.4h1.4v3.3h-1.4zM445.27 239.4h1.4v3.3h-1.4zM453.68 239.4h2.8v3.3h-2.8zM459.29 239.4h1.4v3.3h-1.4zM464.9 239.4h1.4v3.3h-1.4zM467.7 239.4h1.4v3.3h-1.4zM471.9 239.4h1.4v3.3h-1.4zM477.51 239.4h1.4v3.3h-1.4zM483.12 239.4h1.4v3.3h-1.4zM485.92 239.4h1.4v3.3h-1.4zM488.72 239.4h2.8v3.3h-2.8zM492.93 239.4h2.8v3.3h-2.8zM497.14 239.4h1.4v3.3h-1.4zM527.97 239.4h1.4v3.3h-1.4zM551.8 239.4h1.4v3.3h-1.4zM564.42 239.4h2.8v3.3h-2.8zM570.03 239.4h1.4v3.3h-1.4zM575.63 239.4h1.4v3.3h-1.4zM581.24 239.4h1.4v3.3h-1.4zM598.06 239.4h2.8v3.3h-2.8zM605.07 239.4h2.8v3.3h-2.8zM76.61 236.1h1.4v3.3h-1.4zM118.66 236.1h1.4v3.3h-1.4zM121.47 236.1h1.4v3.3h-1.4zM125.67 236.1h1.4v3.3h-1.4zM128.48 236.1h1.4v3.3h-1.4zM160.72 236.1h4.21v3.3h-4.21zM166.32 236.1h15.42v3.3h-15.42zM183.14 236.1h5.61v3.3h-5.61zM190.15 236.1h2.8v3.3h-2.8zM194.36 236.1h2.8v3.3h-2.8zM235.01 236.1h1.4v3.3h-1.4zM261.64 236.1h1.4v3.3h-1.4zM264.44 236.1h1.4v3.3h-1.4zM268.65 236.1h1.4v3.3h-1.4zM279.86 236.1h1.4v3.3h-1.4zM288.27 236.1h2.8v3.3h-2.8zM306.5 236.1h1.4v3.3h-1.4zM317.71 236.1h1.4v3.3h-1.4zM333.13 236.1h1.4v3.3h-1.4zM341.54 236.1h4.21v3.3h-4.21zM387.8 236.1h1.4v3.3h-1.4zM501.34 236.1h2.8v3.3h-2.8zM505.55 236.1h1.4v3.3h-1.4zM509.75 236.1h16.82v3.3h-16.82zM530.78 236.1h1.4v3.3h-1.4zM533.58 236.1h5.61v3.3h-5.61zM540.59 236.1h2.8v3.3h-2.8zM546.2 236.1h1.4v3.3h-1.4zM549 236.1h1.4v3.3h-1.4zM553.21 236.1h2.8v3.3h-2.8zM557.41 236.1h2.8v3.3h-2.8zM561.62 236.1h1.4v3.3h-1.4zM574.23 236.1h1.4v3.3h-1.4zM80.82 232.8h1.4v3.3h-1.4zM86.42 232.8h1.4v3.3h-1.4zM192.96 232.8h1.4v3.3h-1.4zM197.16 232.8h15.42v3.3h-15.42zM213.98 232.8h4.21v3.3h-4.21zM220.99 232.8h2.8v3.3h-2.8zM228 232.8h1.4v3.3h-1.4zM230.8 232.8h4.21v3.3h-4.21zM236.41 232.8h1.4v3.3h-1.4zM239.21 232.8h1.4v3.3h-1.4zM243.42 232.8h1.4v3.3h-1.4zM247.62 232.8h8.41v3.3h-8.41zM274.26 232.8h1.4v3.3h-1.4zM277.06 232.8h1.4v3.3h-1.4zM285.47 232.8h1.4v3.3h-1.4zM345.75 232.8h2.8v3.3h-2.8zM349.95 232.8h1.4v3.3h-1.4zM352.76 232.8h2.8v3.3h-2.8zM359.76 232.8h9.81v3.3h-9.81zM375.18 232.8h2.8v3.3h-2.8zM382.19 232.8h2.8v3.3h-2.8zM386.4 232.8h1.4v3.3h-1.4zM389.2 232.8h8.41v3.3h-8.41zM400.41 232.8h1.4v3.3h-1.4zM406.02 232.8h1.4v3.3h-1.4zM408.83 232.8h9.81v3.3h-9.81zM420.04 232.8h7.01v3.3h-7.01zM448.07 232.8h1.4v3.3h-1.4zM247.62 229.5h1.4v3.3h-1.4zM256.03 229.5h1.4v3.3h-1.4zM383.59 229.5h1.4v3.3h-1.4zM396.21 229.5h1.4v3.3h-1.4zM410.23 229.5h1.4v3.3h-1.4z"/>
<path fill="#ffaa00" d="M76.61 249.3h1.4v3.3h-1.4zM80.82 249.3h1.4v3.3h-1.4zM120.06 249.3h1.4v3.3h-1.4zM129.88 249.3h1.4v3.3h-1.4zM138.29 249.3h2.8v3.3h-2.8zM142.49 249.3h1.4v3.3h-1.4zM145.3 249.3h1.4v3.3h-1.4zM153.71 249.3h1.4v3.3h-1.4zM288.27 249.3h1.4v3.3h-1.4zM305.1 249.3h2.8v3.3h-2.8zM316.31 249.3h2.8v3.3h-2.8zM333.13 249.3h1.4v3.3h-1.4zM335.93 249.3h1.4v3.3h-1.4zM342.94 249.3h2.8v3.3h-2.8zM439.66 249.3h1.4v3.3h-1.4zM445.27 249.3h1.4v3.3h-1.4zM455.08 249.3h1.4v3.3h-1.4zM459.29 249.3h1.4v3.3h-1.4zM464.9 249.3h1.4v3.3h-1.4zM467.7 249.3h1.4v3.3h-1.4zM477.51 249.3h1.4v3.3h-1.4zM483.12 249.3h1.4v3.3h-1.4zM485.92 249.3h1.4v3.3h-1.4zM488.72 249.3h1.4v3.3h-1.4zM527.97 249.3h1.4v3.3h-1.4zM551.8 249.3h1.4v3.3h-1.4zM564.42 249.3h2.8v3.3h-2.8zM581.24 249.3h1.4v3.3h-1.4zM596.66 249.3h2.8v3.3h-2.8zM605.07 249.3h2.8v3.3h-2.8zM76.61 246h4.21v3.3h-4.21zM129.88 246h1.4v3.3h-1.4zM132.68 246h2.8v3.3h-2.8zM141.09 246h7.01v3.3h-7.01zM149.5 246h2.8v3.3h-2.8zM153.71 246h2.8v3.3h-2.8zM261.64 246h1.4v3.3h-1.4zM268.65 246h1.4v3.3h-1.4zM288.27 246h1.4v3.3h-1.4zM317.71 246h1.4v3.3h-1.4zM333.13 246h1.4v3.3h-1.4zM341.54 246h4.21v3.3h-4.21zM429.85 246h1.4v3.3h-1.4zM453.68 246h1.4v3.3h-1.4zM459.29 246h1.4v3.3h-1.4zM464.9 246h1.4v3.3h-1.4zM467.7 246h1.4v3.3h-1.4zM471.9 246h1.4v3.3h-1.4zM477.51 246h1.4v3.3h-1.4zM483.12 246h1.4v3.3h-1.4zM488.72 246h2.8v3.3h-2.8zM492.93 246h2.8v3.3h-2.8zM497.14 246h1.4v3.3h-1.4zM527.97 246h1.4v3.3h-1.4zM551.8 246h1.4v3.3h-1.4zM565.82 246h1.4v3.3h-1.4zM570.03 246h1.4v3.3h-1.4zM575.63 246h1.4v3.3h-1.4zM598.06 246h2.8v3.3h-2.8zM605.07 246h2.8v3.3h-2.8zM76.61 242.7h4.21v3.3h-4.21zM111.65 242.7h1.4v3.3h-1.4zM124.27 242.7h1.4v3.3h-1.4zM132.68 242.7h2.8v3.3h-2.8zM141.09 242.7h4.21v3.3h-4.21zM146.7 242.7h1.4v3.3h-1.4zM149.5 242.7h4.21v3.3h-4.21zM155.11 242.7h2.8v3.3h-2.8zM159.31 242.7h1.4v3.3h-1.4zM235.01 242.7h1.4v3.3h-1.4zM257.44 242.7h1.4v3.3h-1.4zM261.64 242.7h4.21v3.3h-4.21zM268.65 242.7h1.4v3.3h-1.4zM279.86 242.7h1.4v3.3h-1.4zM289.68 242.7h1.4v3.3h-1.4zM300.89 242.7h1.4v3.3h-1.4zM341.54 242.7h1.4v3.3h-1.4zM344.34 242.7h1.4v3.3h-1.4zM387.8 242.7h1.4v3.3h-1.4zM429.85 242.7h1.4v3.3h-1.4zM453.68 242.7h1.4v3.3h-1.4zM471.9 242.7h1.4v3.3h-1.4zM490.13 242.7h11.21v3.3h-11.21zM506.95 242.7h1.4v3.3h-1.4zM526.57 242.7h1.4v3.3h-1.4zM539.19 242.7h1.4v3.3h-1.4zM563.02 242.7h1.4v3.3h-1.4zM570.03 242.7h1.4v3.3h-1.4zM575.63 242.7h1.4v3.3h-1.4zM599.46 242.7h2.8v3.3h-2.8zM111.65 239.4h7.01v3.3h-7.01zM122.87 239.4h2.8v3.3h-2.8zM152.31 239.4h1.4v3.3h-1.4zM156.51 239.4h1.4v3.3h-1.4zM159.31 239.4h1.4v3.3h-1.4zM164.92 239.4h1.4v3.3h-1.4zM225.2 239.4h1.4v3.3h-1.4zM235.01 239.4h1.4v3.3h-1.4zM244.82 239.4h1.4v3.3h-1.4zM256.03 239.4h4.21v3.3h-4.21zM263.04 239.4h5.61v3.3h-5.61zM271.45 239.4h1.4v3.3h-1.4zM278.46 239.4h2.8v3.3h-2.8zM286.87 239.4h1.4v3.3h-1.4zM289.68 239.4h2.8v3.3h-2.8zM295.28 239.4h2.8v3.3h-2.8zM299.49 239.4h2.8v3.3h-2.8zM387.8 239.4h1.4v3.3h-1.4zM397.61 239.4h1.4v3.3h-1.4zM401.82 239.4h1.4v3.3h-1.4zM428.45 239.4h1.4v3.3h-1.4zM491.53 239.4h1.4v3.3h-1.4zM495.73 239.4h1.4v3.3h-1.4zM498.54 239.4h2.8v3.3h-2.8zM504.14 239.4h1.4v3.3h-1.4zM506.95 239.4h1.4v3.3h-1.4zM526.57 239.4h1.4v3.3h-1.4zM529.38 239.4h1.4v3.3h-1.4zM532.18 239.4h1.4v3.3h-1.4zM539.19 239.4h1.4v3.3h-1.4zM560.21 239.4h1.4v3.3h-1.4zM563.02 239.4h1.4v3.3h-1.4zM567.22 239.4h1.4v3.3h-1.4zM572.83 239.4h1.4v3.3h-1.4zM600.87 239.4h1.4v3.3h-1.4zM181.74 236.1h1.4v3.3h-1.4zM188.75 236.1h1.4v3.3h-1.4zM212.58 236.1h1.4v3.3h-1.4zM218.19 236.1h2.8v3.3h-2.8zM223.79 236.1h4.21v3.3h-4.21zM229.4 236.1h1.4v3.3h-1.4zM237.81 236.1h1.4v3.3h-1.4zM240.62 236.1h2.8v3.3h-2.8zM244.82 236.1h2.8v3.3h-2.8zM256.03 236.1h5.61v3.3h-5.61zM263.04 236.1h1.4v3.3h-1.4zM265.85 236.1h2.8v3.3h-2.8zM270.05 236.1h4.21v3.3h-4.21zM275.66 236.1h1.4v3.3h-1.4zM278.46 236.1h1.4v3.3h-1.4zM282.67 236.1h1.4v3.3h-1.4zM286.87 236.1h1.4v3.3h-1.4zM291.08 236.1h14.02v3.3h-14.02zM348.55 236.1h1.4v3.3h-1.4zM397.61 236.1h1.4v3.3h-1.4zM401.82 236.1h4.21v3.3h-4.21zM407.42 236.1h1.4v3.3h-1.4zM427.05 236.1h2.8v3.3h-2.8zM543.39 236.1h2.8v3.3h-2.8zM547.6 236.1h1.4v3.3h-1.4zM351.35 232.8h1.4v3.3h-1.4zM355.56 232.8h4.21v3.3h-4.21zM369.58 232.8h5.61v3.3h-5.61zM377.99 232.8h4.21v3.3h-4.21zM385 232.8h1.4v3.3h-1.4zM418.64 232.8h1.4v3.3h-1.4z"/>
<path fill="#ff9500" d="M621.89 252.6h2.8v3.3h-2.8zM78.01 249.3h2.8v3.3h-2.8zM111.65 249.3h1.4v3.3h-1.4zM124.27 249.3h1.4v3.3h-1.4zM132.68 249.3h2.8v3.3h-2.8zM141.09 249.3h1.4v3.3h-1.4zM143.89 249.3h1.4v3.3h-1.4zM146.7 249.3h1.4v3.3h-1.4zM149.5 249.3h4.21v3.3h-4.21zM155.11 249.3h2.8v3.3h-2.8zM159.31 249.3h1.4v3.3h-1.4zM225.2 249.3h1.4v3.3h-1.4zM235.01 249.3h1.4v3.3h-1.4zM244.82 249.3h1.4v3.3h-1.4zM257.44 249.3h1.4v3.3h-1.4zM261.64 249.3h4.21v3.3h-4.21zM267.25 249.3h2.8v3.3h-2.8zM279.86 249.3h1.4v3.3h-1.4zM289.68 249.3h2.8v3.3h-2.8zM300.89 249.3h1.4v3.3h-1.4zM341.54 249.3h1.4v3.3h-1.4zM387.8 249.3h1.4v3.3h-1.4zM401.82 249.3h1.4v3.3h-1.4zM429.85 249.3h1.4v3.3h-1.4zM453.68 249.3h1.4v3.3h-1.4zM471.9 249.3h1.4v3.3h-1.4zM490.13 249.3h11.21v3.3h-11.21zM506.95 249.3h1.4v3.3h-1.4zM526.57 249.3h1.4v3.3h-1.4zM539.19 249.3h1.4v3.3h-1.4zM563.02 249.3h1.4v3.3h-1.4zM570.03 249.3h1.4v3.3h-1.4zM575.63 249.3h1.4v3.3h-1.4zM599.46 249.3h2.8v3.3h-2.8zM111.65 246h1.4v3.3h-1.4zM115.86 246h1.4v3.3h-1.4zM122.87 246h2.8v3.3h-2.8zM152.31 246h1.4v3.3h-1.4zM156.51 246h1.4v3.3h-1.4zM159.31 246h1.4v3.3h-1.4zM164.92 246h1.4v3.3h-1.4zM225.2 246h2.8v3.3h-2.8zM235.01 246h1.4v3.3h-1.4zM244.82 246h1.4v3.3h-1.4zM256.03 246h4.21v3.3h-4.21zM263.04 246h5.61v3.3h-5.61zM271.45 246h1.4v3.3h-1.4zM278.46 246h2.8v3.3h-2.8zM286.87 246h1.4v3.3h-1.4zM289.68 246h2.8v3.3h-2.8zM295.28 246h7.01v3.3h-7.01zM387.8 246h1.4v3.3h-1.4zM397.61 246h1.4v3.3h-1.4zM401.82 246h1.4v3.3h-1.4zM428.45 246h1.4v3.3h-1.4zM491.53 246h1.4v3.3h-1.4zM495.73 246h1.4v3.3h-1.4zM498.54 246h2.8v3.3h-2.8zM504.14 246h1.4v3.3h-1.4zM506.95 246h1.4v3.3h-1.4zM526.57 246h1.4v3.3h-1.4zM539.19 246h1.4v3.3h-1.4zM563.02 246h1.4v3.3h-1.4zM567.22 246h1.4v3.3h-1.4zM572.83 246h1.4v3.3h-1.4zM600.87 246h1.4v3.3h-1.4zM113.06 242.7h5.61v3.3h-5.61zM122.87 242.7h1.4v3.3h-1.4zM164.92 242.7h1.4v3.3h-1.4zM218.19 242.7h2.8v3.3h-2.8zM223.79 242.7h4.21v3.3h-4.21zM229.4 242.7h1.4v3.3h-1.4zM237.81 242.7h1.4v3.3h-1.4zM240.62 242.7h2.8v3.3h-2.8zM244.82 242.7h2.8v3.3h-2.8zM256.03 242.7h1.4v3.3h-1.4zM258.84 242.7h2.8v3.3h-2.8zM265.85 242.7h2.8v3.3h-2.8zM270.05 242.7h4.21v3.3h-4.21zM275.66 242.7h1.4v3.3h-1.4zM278.46 242.7h1.4v3.3h-1.4zM282.67 242.7h1.4v3.3h-1.4zM286.87 242.7h1.4v3.3h-1.4zM291.08 242.7h9.81v3.3h-9.81zM302.29 242.7h2.8v3.3h-2.8zM348.55 242.7h1.4v3.3h-1.4zM397.61 242.7h1.4v3.3h-1.4zM401.82 242.7h1.4v3.3h-1.4zM404.62 242.7h1.4v3.3h-1.4zM407.42 242.7h1.4v3.3h-1.4zM427.05 242.7h2.8v3.3h-2.8zM504.14 242.7h1.4v3.3h-1.4zM525.17 242.7h1.4v3.3h-1.4zM529.38 242.7h1.4v3.3h-1.4zM532.18 242.7h1.4v3.3h-1.4zM536.38 242.7h1.4v3.3h-1.4zM540.59 242.7h1.4v3.3h-1.4zM550.4 242.7h1.4v3.3h-1.4zM556.01 242.7h1.4v3.3h-1.4zM560.21 242.7h2.8v3.3h-2.8zM567.22 242.7h2.8v3.3h-2.8zM571.43 242.7h2.8v3.3h-2.8zM118.66 239.4h1.4v3.3h-1.4zM121.47 239.4h1.4v3.3h-1.4zM125.67 239.4h1.4v3.3h-1.4zM128.48 239.4h1.4v3.3h-1.4zM160.72 239.4h2.8v3.3h-2.8zM166.32 239.4h2.8v3.3h-2.8zM170.53 239.4h1.4v3.3h-1.4zM173.33 239.4h1.4v3.3h-1.4zM185.95 239.4h1.4v3.3h-1.4zM190.15 239.4h1.4v3.3h-1.4zM204.17 239.4h1.4v3.3h-1.4zM212.58 239.4h1.4v3.3h-1.4zM218.19 239.4h4.21v3.3h-4.21zM223.79 239.4h1.4v3.3h-1.4zM226.6 239.4h1.4v3.3h-1.4zM229.4 239.4h1.4v3.3h-1.4zM236.41 239.4h2.8v3.3h-2.8zM240.62 239.4h2.8v3.3h-2.8zM246.22 239.4h1.4v3.3h-1.4zM260.24 239.4h1.4v3.3h-1.4zM270.05 239.4h1.4v3.3h-1.4zM272.86 239.4h5.61v3.3h-5.61zM282.67 239.4h1.4v3.3h-1.4zM292.48 239.4h2.8v3.3h-2.8zM298.09 239.4h1.4v3.3h-1.4zM302.29 239.4h2.8v3.3h-2.8zM348.55 239.4h1.4v3.3h-1.4zM352.76 239.4h1.4v3.3h-1.4zM396.21 239.4h1.4v3.3h-1.4zM399.01 239.4h1.4v3.3h-1.4zM403.22 239.4h5.61v3.3h-5.61zM427.05 239.4h1.4v3.3h-1.4zM501.34 239.4h2.8v3.3h-2.8zM505.55 239.4h1.4v3.3h-1.4zM509.75 239.4h1.4v3.3h-1.4zM520.97 239.4h1.4v3.3h-1.4zM525.17 239.4h1.4v3.3h-1.4zM534.98 239.4h4.21v3.3h-4.21zM540.59 239.4h2.8v3.3h-2.8zM549 239.4h2.8v3.3h-2.8zM553.21 239.4h1.4v3.3h-1.4zM556.01 239.4h1.4v3.3h-1.4zM561.62 239.4h1.4v3.3h-1.4zM568.62 239.4h1.4v3.3h-1.4zM571.43 239.4h1.4v3.3h-1.4zM574.23 239.4h1.4v3.3h-1.4zM192.96 236.1h1.4v3.3h-1.4zM204.17 236.1h2.8v3.3h-2.8zM209.78 236.1h2.8v3.3h-2.8zM220.99 236.1h2.8v3.3h-2.8zM228 236.1h1.4v3.3h-1.4zM232.2 236.1h1.4v3.3h-1.4zM236.41 236.1h1.4v3.3h-1.4zM239.21 236.1h1.4v3.3h-1.4zM243.42 236.1h1.4v3.3h-1.4zM247.62 236.1h1.4v3.3h-1.4zM274.26 236.1h1.4v3.3h-1.4zM277.06 236.1h1.4v3.3h-1.4zM285.47 236.1h1.4v3.3h-1.4zM352.76 236.1h1.4v3.3h-1.4zM363.97 236.1h1.4v3.3h-1.4zM366.77 236.1h1.4v3.3h-1.4zM382.19 236.1h2.8v3.3h-2.8zM386.4 236.1h1.4v3.3h-1.4zM389.2 236.1h1.4v3.3h-1.4zM396.21 236.1h1.4v3.3h-1.4zM399.01 236.1h2.8v3.3h-2.8zM406.02 236.1h1.4v3.3h-1.4zM408.83 236.1h2.8v3.3h-2.8zM413.03 236.1h1.4v3.3h-1.4zM421.44 236.1h2.8v3.3h-2.8zM425.65 236.1h1.4v3.3h-1.4z"/>
<path fill="#ff8000" d="M68.2 252.6h5.61v3.3h-5.61zM83.62 252.6h1.4v3.3h-1.4zM93.43 252.6h5.61v3.3h-5.61zM100.44 252.6h11.21v3.3h-11.21zM307.9 252.6h2.8v3.3h-2.8zM319.11 252.6h4.21v3.3h-4.21zM324.72 252.6h5.61v3.3h-5.61zM432.65 252.6h1.4v3.3h-1.4zM443.87 252.6h1.4v3.3h-1.4zM448.07 252.6h1.4v3.3h-1.4zM450.88 252.6h1.4v3.3h-1.4zM462.09 252.6h1.4v3.3h-1.4zM480.31 252.6h2.8v3.3h-2.8zM582.64 252.6h2.8v3.3h-2.8zM586.85 252.6h2.8v3.3h-2.8zM607.87 252.6h14.02v3.3h-14.02zM624.69 252.6h1.4v3.3h-1.4zM113.06 249.3h5.61v3.3h-5.61zM122.87 249.3h1.4v3.3h-1.4zM164.92 249.3h1.4v3.3h-1.4zM218.19 249.3h2.8v3.3h-2.8zM223.79 249.3h1.4v3.3h-1.4zM226.6 249.3h1.4v3.3h-1.4zM229.4 249.3h1.4v3.3h-1.4zM237.81 249.3h1.4v3.3h-1.4zM240.62 249.3h2.8v3.3h-2.8zM246.22 249.3h1.4v3.3h-1.4zM256.03 249.3h1.4v3.3h-1.4zM258.84 249.3h2.8v3.3h-2.8zM265.85 249.3h1.4v3.3h-1.4zM270.05 249.3h4.21v3.3h-4.21zM275.66 249.3h1.4v3.3h-1.4zM278.46 249.3h1.4v3.3h-1.4zM282.67 249.3h1.4v3.3h-1.4zM286.87 249.3h1.4v3.3h-1.4zM292.48 249.3h8.41v3.3h-8.41zM302.29 249.3h2.8v3.3h-2.8zM348.55 249.3h1.4v3.3h-1.4zM397.61 249.3h1.4v3.3h-1.4zM404.62 249.3h1.4v3.3h-1.4zM407.42 249.3h1.4v3.3h-1.4zM427.05 249.3h2.8v3.3h-2.8zM504.14 249.3h1.4v3.3h-1.4zM529.38 249.3h1.4v3.3h-1.4zM532.18 249.3h1.4v3.3h-1.4zM560.21 249.3h1.4v3.3h-1.4zM567.22 249.3h1.4v3.3h-1.4zM571.43 249.3h2.8v3.3h-2.8zM113.06 246h2.8v3.3h-2.8zM117.26 246h2.8v3.3h-2.8zM121.47 246h1.4v3.3h-1.4zM128.48 246h1.4v3.3h-1.4zM166.32 246h2.8v3.3h-2.8zM173.33 246h1.4v3.3h-1.4zM185.95 246h1.4v3.3h-1.4zM190.15 246h1.4v3.3h-1.4zM212.58 246h1.4v3.3h-1.4zM218.19 246h4.21v3.3h-4.21zM223.79 246h1.4v3.3h-1.4zM229.4 246h1.4v3.3h-1.4zM236.41 246h2.8v3.3h-2.8zM240.62 246h2.8v3.3h-2.8zM246.22 246h1.4v3.3h-1.4zM260.24 246h1.4v3.3h-1.4zM270.05 246h1.4v3.3h-1.4zM272.86 246h5.61v3.3h-5.61zM282.67 246h1.4v3.3h-1.4zM292.48 246h2.8v3.3h-2.8zM302.29 246h2.8v3.3h-2.8zM348.55 246h1.4v3.3h-1.4zM396.21 246h1.4v3.3h-1.4zM399.01 246h1.4v3.3h-1.4zM403.22 246h5.61v3.3h-5.61zM427.05 246h1.4v3.3h-1.4zM501.34 246h1.4v3.3h-1.4zM509.75 246h1.4v3.3h-1.4zM520.97 246h1.4v3.3h-1.4zM525.17 246h1.4v3.3h-1.4zM529.38 246h1.4v3.3h-1.4zM532.18 246h1.4v3.3h-1.4zM536.38 246h1.4v3.3h-1.4zM540.59 246h2.8v3.3h-2.8zM550.4 246h1.4v3.3h-1.4zM556.01 246h1.4v3.3h-1.4zM560.21 246h2.8v3.3h-2.8zM568.62 246h1.4v3.3h-1.4zM571.43 246h1.4v3.3h-1.4zM118.66 242.7h1.4v3.3h-1.4zM121.47 242.7h1.4v3.3h-1.4zM125.67 242.7h1.4v3.3h-1.4zM128.48 242.7h1.4v3.3h-1.4zM160.72 242.7h4.21v3.3h-4.21zM166.32 242.7h2.8v3.3h-2.8zM170.53 242.7h1.4v3.3h-1.4zM173.33 242.7h1.4v3.3h-1.4zM185.95 242.7h1.4v3.3h-1.4zM190.15 242.7h1.4v3.3h-1.4zM192.96 242.7h1.4v3.3h-1.4zM204.17 242.7h2.8v3.3h-2.8zM209.78 242.7h4.21v3.3h-4.21zM220.99 242.7h2.8v3.3h-2.8zM228 242.7h1.4v3.3h-1.4zM232.2 242.7h1.4v3.3h-1.4zM236.41 242.7h1.4v3.3h-1.4zM239.21 242.7h1.4v3.3h-1.4zM243.42 242.7h1.4v3.3h-1.4zM247.62 242.7h1.4v3.3h-1.4zM274.26 242.7h1.4v3.3h-1.4zM277.06 242.7h1.4v3.3h-1.4zM285.47 242.7h1.4v3.3h-1.4zM352.76 242.7h1.4v3.3h-1.4zM363.97 242.7h1.4v3.3h-1.4zM389.2 242.7h1.4v3.3h-1.4zM396.21 242.7h1.4v3.3h-1.4zM399.01 242.7h2.8v3.3h-2.8zM403.22 242.7h1.4v3.3h-1.4zM406.02 242.7h1.4v3.3h-1.4zM410.23 242.7h1.4v3.3h-1.4zM413.03 242.7h1.4v3.3h-1.4zM422.84 242.7h1.4v3.3h-1.4zM501.34 242.7h2.8v3.3h-2.8zM505.55 242.7h1.4v3.3h-1.4zM509.75 242.7h1.4v3.3h-1.4zM512.55 242.7h1.4v3.3h-1.4zM520.97 242.7h1.4v3.3h-1.4zM534.98 242.7h1.4v3.3h-1.4zM537.79 242.7h1.4v3.3h-1.4zM541.99 242.7h1.4v3.3h-1.4zM549 242.7h1.4v3.3h-1.4zM553.21 242.7h1.4v3.3h-1.4zM574.23 242.7h1.4v3.3h-1.4zM163.52 239.4h1.4v3.3h-1.4zM169.13 239.4h1.4v3.3h-1.4zM171.93 239.4h1.4v3.3h-1.4zM174.73 239.4h7.01v3.3h-7.01zM187.35 239.4h1.4v3.3h-1.4zM191.55 239.4h5.61v3.3h-5.61zM198.56 239.4h1.4v3.3h-1.4zM205.57 239.4h1.4v3.3h-1.4zM209.78 239.4h2.8v3.3h-2.8zM222.39 239.4h1.4v3.3h-1.4zM228 239.4h1.4v3.3h-1.4zM230.8 239.4h2.8v3.3h-2.8zM239.21 239.4h1.4v3.3h-1.4zM243.42 239.4h1.4v3.3h-1.4zM247.62 239.4h2.8v3.3h-2.8zM251.83 239.4h1.4v3.3h-1.4zM254.63 239.4h1.4v3.3h-1.4zM285.47 239.4h1.4v3.3h-1.4zM363.97 239.4h1.4v3.3h-1.4zM366.77 239.4h1.4v3.3h-1.4zM376.58 239.4h1.4v3.3h-1.4zM382.19 239.4h2.8v3.3h-2.8zM386.4 239.4h1.4v3.3h-1.4zM389.2 239.4h1.4v3.3h-1.4zM393.41 239.4h1.4v3.3h-1.4zM400.41 239.4h1.4v3.3h-1.4zM408.83 239.4h5.61v3.3h-5.61zM421.44 239.4h5.61v3.3h-5.61zM511.15 239.4h2.8v3.3h-2.8zM515.36 239.4h5.61v3.3h-5.61zM522.37 239.4h2.8v3.3h-2.8zM530.78 239.4h1.4v3.3h-1.4zM554.61 239.4h1.4v3.3h-1.4zM197.16 236.1h7.01v3.3h-7.01zM206.97 236.1h2.8v3.3h-2.8zM213.98 236.1h4.21v3.3h-4.21zM230.8 236.1h1.4v3.3h-1.4zM233.61 236.1h1.4v3.3h-1.4zM249.03 236.1h7.01v3.3h-7.01zM347.15 236.1h1.4v3.3h-1.4zM349.95 236.1h1.4v3.3h-1.4zM354.16 236.1h1.4v3.3h-1.4zM361.17 236.1h2.8v3.3h-2.8zM365.37 236.1h1.4v3.3h-1.4zM368.17 236.1h1.4v3.3h-1.4zM375.18 236.1h2.8v3.3h-2.8zM392 236.1h2.8v3.3h-2.8zM411.63 236.1h1.4v3.3h-1.4zM414.43 236.1h4.21v3.3h-4.21zM420.04 236.1h1.4v3.3h-1.4zM424.24 236.1h1.4v3.3h-1.4z"/>
<path fill="#ff7100" d="M73.81 252.6h4.21v3.3h-4.21zM80.82 252.6h2.8v3.3h-2.8zM85.02 252.6h8.41v3.3h-8.41zM99.04 252.6h1.4v3.3h-1.4zM127.07 252.6h1.4v3.3h-1.4zM131.28 252.6h1.4v3.3h-1.4zM135.48 252.6h5.61v3.3h-5.61zM145.3 252.6h1.4v3.3h-1.4zM148.1 252.6h1.4v3.3h-1.4zM153.71 252.6h1.4v3.3h-1.4zM157.91 252.6h1.4v3.3h-1.4zM281.27 252.6h1.4v3.3h-1.4zM284.07 252.6h1.4v3.3h-1.4zM305.1 252.6h2.8v3.3h-2.8zM310.7 252.6h8.41v3.3h-8.41zM323.32 252.6h1.4v3.3h-1.4zM330.33 252.6h11.21v3.3h-11.21zM342.94 252.6h1.4v3.3h-1.4zM431.25 252.6h1.4v3.3h-1.4zM434.06 252.6h9.81v3.3h-9.81zM445.27 252.6h2.8v3.3h-2.8zM449.48 252.6h1.4v3.3h-1.4zM452.28 252.6h1.4v3.3h-1.4zM455.08 252.6h7.01v3.3h-7.01zM463.49 252.6h8.41v3.3h-8.41zM473.31 252.6h7.01v3.3h-7.01zM483.12 252.6h7.01v3.3h-7.01zM577.04 252.6h5.61v3.3h-5.61zM585.45 252.6h1.4v3.3h-1.4zM589.65 252.6h9.81v3.3h-9.81zM602.27 252.6h5.61v3.3h-5.61zM626.1 252.6h2.8v3.3h-2.8zM118.66 249.3h1.4v3.3h-1.4zM121.47 249.3h1.4v3.3h-1.4zM125.67 249.3h1.4v3.3h-1.4zM128.48 249.3h1.4v3.3h-1.4zM166.32 249.3h2.8v3.3h-2.8zM173.33 249.3h1.4v3.3h-1.4zM185.95 249.3h1.4v3.3h-1.4zM190.15 249.3h1.4v3.3h-1.4zM204.17 249.3h1.4v3.3h-1.4zM211.18 249.3h2.8v3.3h-2.8zM220.99 249.3h2.8v3.3h-2.8zM232.2 249.3h1.4v3.3h-1.4zM236.41 249.3h1.4v3.3h-1.4zM239.21 249.3h1.4v3.3h-1.4zM243.42 249.3h1.4v3.3h-1.4zM247.62 249.3h1.4v3.3h-1.4zM274.26 249.3h1.4v3.3h-1.4zM277.06 249.3h1.4v3.3h-1.4zM285.47 249.3h1.4v3.3h-1.4zM352.76 249.3h1.4v3.3h-1.4zM396.21 249.3h1.4v3.3h-1.4zM399.01 249.3h2.8v3.3h-2.8zM403.22 249.3h1.4v3.3h-1.4zM406.02 249.3h1.4v3.3h-1.4zM501.34 249.3h1.4v3.3h-1.4zM509.75 249.3h1.4v3.3h-1.4zM520.97 249.3h1.4v3.3h-1.4zM525.17 249.3h1.4v3.3h-1.4zM534.98 249.3h4.21v3.3h-4.21zM540.59 249.3h2.8v3.3h-2.8zM550.4 249.3h1.4v3.3h-1.4zM556.01 249.3h1.4v3.3h-1.4zM561.62 249.3h1.4v3.3h-1.4zM568.62 249.3h1.4v3.3h-1.4zM574.23 249.3h1.4v3.3h-1.4zM125.67 246h1.4v3.3h-1.4zM160.72 246h4.21v3.3h-4.21zM169.13 246h2.8v3.3h-2.8zM176.13 246h2.8v3.3h-2.8zM192.96 246h1.4v3.3h-1.4zM204.17 246h2.8v3.3h-2.8zM209.78 246h2.8v3.3h-2.8zM222.39 246h1.4v3.3h-1.4zM228 246h1.4v3.3h-1.4zM232.2 246h1.4v3.3h-1.4zM239.21 246h1.4v3.3h-1.4zM243.42 246h1.4v3.3h-1.4zM247.62 246h1.4v3.3h-1.4zM254.63 246h1.4v3.3h-1.4zM285.47 246h1.4v3.3h-1.4zM352.76 246h1.4v3.3h-1.4zM363.97 246h1.4v3.3h-1.4zM366.77 246h1.4v3.3h-1.4zM382.19 246h2.8v3.3h-2.8zM386.4 246h1.4v3.3h-1.4zM389.2 246h1.4v3.3h-1.4zM400.41 246h1.4v3.3h-1.4zM408.83 246h2.8v3.3h-2.8zM413.03 246h1.4v3.3h-1.4zM421.44 246h2.8v3.3h-2.8zM425.65 246h1.4v3.3h-1.4zM502.74 246h1.4v3.3h-1.4zM505.55 246h1.4v3.3h-1.4zM511.15 246h2.8v3.3h-2.8zM518.16 246h1.4v3.3h-1.4zM523.77 246h1.4v3.3h-1.4zM534.98 246h1.4v3.3h-1.4zM537.79 246h1.4v3.3h-1.4zM549 246h1.4v3.3h-1.4zM553.21 246h1.4v3.3h-1.4zM574.23 246h1.4v3.3h-1.4zM169.13 242.7h1.4v3.3h-1.4zM171.93 242.7h1.4v3.3h-1.4zM174.73 242.7h7.01v3.3h-7.01zM187.35 242.7h1.4v3.3h-1.4zM191.55 242.7h1.4v3.3h-1.4zM194.36 242.7h2.8v3.3h-2.8zM198.56 242.7h1.4v3.3h-1.4zM201.37 242.7h1.4v3.3h-1.4zM208.38 242.7h1.4v3.3h-1.4zM213.98 242.7h1.4v3.3h-1.4zM216.79 242.7h1.4v3.3h-1.4zM230.8 242.7h1.4v3.3h-1.4zM233.61 242.7h1.4v3.3h-1.4zM249.03 242.7h4.21v3.3h-4.21zM254.63 242.7h1.4v3.3h-1.4zM347.15 242.7h1.4v3.3h-1.4zM361.17 242.7h1.4v3.3h-1.4zM365.37 242.7h2.8v3.3h-2.8zM376.58 242.7h1.4v3.3h-1.4zM382.19 242.7h2.8v3.3h-2.8zM386.4 242.7h1.4v3.3h-1.4zM393.41 242.7h1.4v3.3h-1.4zM408.83 242.7h1.4v3.3h-1.4zM411.63 242.7h1.4v3.3h-1.4zM414.43 242.7h2.8v3.3h-2.8zM421.44 242.7h1.4v3.3h-1.4zM424.24 242.7h2.8v3.3h-2.8zM511.15 242.7h1.4v3.3h-1.4zM513.96 242.7h7.01v3.3h-7.01zM522.37 242.7h2.8v3.3h-2.8zM530.78 242.7h1.4v3.3h-1.4zM554.61 242.7h1.4v3.3h-1.4zM181.74 239.4h4.21v3.3h-4.21zM188.75 239.4h1.4v3.3h-1.4zM197.16 239.4h1.4v3.3h-1.4zM199.96 239.4h4.21v3.3h-4.21zM206.97 239.4h2.8v3.3h-2.8zM213.98 239.4h4.21v3.3h-4.21zM233.61 239.4h1.4v3.3h-1.4zM250.43 239.4h1.4v3.3h-1.4zM253.23 239.4h1.4v3.3h-1.4zM345.75 239.4h2.8v3.3h-2.8zM349.95 239.4h1.4v3.3h-1.4zM354.16 239.4h1.4v3.3h-1.4zM359.76 239.4h4.21v3.3h-4.21zM365.37 239.4h1.4v3.3h-1.4zM368.17 239.4h1.4v3.3h-1.4zM375.18 239.4h1.4v3.3h-1.4zM390.6 239.4h2.8v3.3h-2.8zM394.81 239.4h1.4v3.3h-1.4zM414.43 239.4h4.21v3.3h-4.21zM420.04 239.4h1.4v3.3h-1.4zM513.96 239.4h1.4v3.3h-1.4zM533.58 239.4h1.4v3.3h-1.4zM543.39 239.4h5.61v3.3h-5.61zM557.41 239.4h2.8v3.3h-2.8zM345.75 236.1h1.4v3.3h-1.4zM355.56 236.1h5.61v3.3h-5.61zM372.38 236.1h2.8v3.3h-2.8zM377.99 236.1h2.8v3.3h-2.8zM390.6 236.1h1.4v3.3h-1.4zM394.81 236.1h1.4v3.3h-1.4z"/>
<path fill="#ff6200" d="M78.01 252.6h2.8v3.3h-2.8zM111.65 252.6h7.01v3.3h-7.01zM120.06 252.6h1.4v3.3h-1.4zM122.87 252.6h2.8v3.3h-2.8zM128.48 252.6h2.8v3.3h-2.8zM132.68 252.6h2.8v3.3h-2.8zM141.09 252.6h4.21v3.3h-4.21zM146.7 252.6h1.4v3.3h-1.4zM149.5 252.6h4.21v3.3h-4.21zM155.11 252.6h2.8v3.3h-2.8zM159.31 252.6h1.4v3.3h-1.4zM235.01 252.6h1.4v3.3h-1.4zM256.03 252.6h18.22v3.3h-18.22zM275.66 252.6h1.4v3.3h-1.4zM278.46 252.6h2.8v3.3h-2.8zM282.67 252.6h1.4v3.3h-1.4zM286.87 252.6h18.22v3.3h-18.22zM341.54 252.6h1.4v3.3h-1.4zM344.34 252.6h1.4v3.3h-1.4zM348.55 252.6h1.4v3.3h-1.4zM428.45 252.6h2.8v3.3h-2.8zM453.68 252.6h1.4v3.3h-1.4zM471.9 252.6h1.4v3.3h-1.4zM490.13 252.6h11.21v3.3h-11.21zM504.14 252.6h1.4v3.3h-1.4zM506.95 252.6h2.8v3.3h-2.8zM526.57 252.6h2.8v3.3h-2.8zM539.19 252.6h1.4v3.3h-1.4zM551.8 252.6h1.4v3.3h-1.4zM563.02 252.6h11.21v3.3h-11.21zM575.63 252.6h1.4v3.3h-1.4zM599.46 252.6h2.8v3.3h-2.8zM160.72 249.3h4.21v3.3h-4.21zM169.13 249.3h4.21v3.3h-4.21zM176.13 249.3h2.8v3.3h-2.8zM187.35 249.3h1.4v3.3h-1.4zM192.96 249.3h4.21v3.3h-4.21zM198.56 249.3h1.4v3.3h-1.4zM205.57 249.3h1.4v3.3h-1.4zM209.78 249.3h1.4v3.3h-1.4zM228 249.3h1.4v3.3h-1.4zM230.8 249.3h1.4v3.3h-1.4zM249.03 249.3h1.4v3.3h-1.4zM251.83 249.3h1.4v3.3h-1.4zM254.63 249.3h1.4v3.3h-1.4zM363.97 249.3h1.4v3.3h-1.4zM366.77 249.3h1.4v3.3h-1.4zM376.58 249.3h1.4v3.3h-1.4zM382.19 249.3h2.8v3.3h-2.8zM386.4 249.3h1.4v3.3h-1.4zM389.2 249.3h1.4v3.3h-1.4zM393.41 249.3h1.4v3.3h-1.4zM408.83 249.3h5.61v3.3h-5.61zM421.44 249.3h5.61v3.3h-5.61zM502.74 249.3h1.4v3.3h-1.4zM505.55 249.3h1.4v3.3h-1.4zM511.15 249.3h2.8v3.3h-2.8zM515.36 249.3h1.4v3.3h-1.4zM518.16 249.3h1.4v3.3h-1.4zM523.77 249.3h1.4v3.3h-1.4zM549 249.3h1.4v3.3h-1.4zM553.21 249.3h1.4v3.3h-1.4zM171.93 246h1.4v3.3h-1.4zM174.73 246h1.4v3.3h-1.4zM178.94 246h2.8v3.3h-2.8zM187.35 246h1.4v3.3h-1.4zM191.55 246h1.4v3.3h-1.4zM194.36 246h9.81v3.3h-9.81zM206.97 246h2.8v3.3h-2.8zM213.98 246h4.21v3.3h-4.21zM230.8 246h1.4v3.3h-1.4zM233.61 246h1.4v3.3h-1.4zM249.03 246h4.21v3.3h-4.21zM347.15 246h1.4v3.3h-1.4zM349.95 246h1.4v3.3h-1.4zM354.16 246h1.4v3.3h-1.4zM361.17 246h1.4v3.3h-1.4zM365.37 246h1.4v3.3h-1.4zM375.18 246h2.8v3.3h-2.8zM393.41 246h1.4v3.3h-1.4zM411.63 246h1.4v3.3h-1.4zM414.43 246h2.8v3.3h-2.8zM424.24 246h1.4v3.3h-1.4zM513.96 246h4.21v3.3h-4.21zM519.56 246h1.4v3.3h-1.4zM522.37 246h1.4v3.3h-1.4zM530.78 246h1.4v3.3h-1.4zM554.61 246h1.4v3.3h-1.4zM181.74 242.7h4.21v3.3h-4.21zM188.75 242.7h1.4v3.3h-1.4zM197.16 242.7h1.4v3.3h-1.4zM199.96 242.7h1.4v3.3h-1.4zM202.77 242.7h1.4v3.3h-1.4zM206.97 242.7h1.4v3.3h-1.4zM215.38 242.7h1.4v3.3h-1.4zM253.23 242.7h1.4v3.3h-1.4zM345.75 242.7h1.4v3.3h-1.4zM349.95 242.7h1.4v3.3h-1.4zM354.16 242.7h4.21v3.3h-4.21zM359.76 242.7h1.4v3.3h-1.4zM362.57 242.7h1.4v3.3h-1.4zM368.17 242.7h1.4v3.3h-1.4zM375.18 242.7h1.4v3.3h-1.4zM379.39 242.7h1.4v3.3h-1.4zM390.6 242.7h2.8v3.3h-2.8zM394.81 242.7h1.4v3.3h-1.4zM417.24 242.7h1.4v3.3h-1.4zM420.04 242.7h1.4v3.3h-1.4zM533.58 242.7h1.4v3.3h-1.4zM543.39 242.7h5.61v3.3h-5.61zM557.41 242.7h2.8v3.3h-2.8zM355.56 239.4h4.21v3.3h-4.21zM372.38 239.4h2.8v3.3h-2.8zM377.99 239.4h4.21v3.3h-4.21zM351.35 236.1h1.4v3.3h-1.4zM369.58 236.1h1.4v3.3h-1.4zM380.79 236.1h1.4v3.3h-1.4zM385 236.1h1.4v3.3h-1.4zM418.64 236.1h1.4v3.3h-1.4z"/>
<path fill="#ff5300" d="M508.35 255.9h1.4v3.3h-1.4zM614.88 255.9h1.4v3.3h-1.4zM621.89 255.9h1.4v3.3h-1.4zM627.5 255.9h1.4v3.3h-1.4zM118.66 252.6h1.4v3.3h-1.4zM121.47 252.6h1.4v3.3h-1.4zM125.67 252.6h1.4v3.3h-1.4zM160.72 252.6h21.03v3.3h-21.03zM185.95 252.6h2.8v3.3h-2.8zM190.15 252.6h7.01v3.3h-7.01zM198.56 252.6h1.4v3.3h-1.4zM201.37 252.6h1.4v3.3h-1.4zM204.17 252.6h2.8v3.3h-2.8zM209.78 252.6h5.61v3.3h-5.61zM218.19 252.6h16.82v3.3h-16.82zM236.41 252.6h16.82v3.3h-16.82zM254.63 252.6h1.4v3.3h-1.4zM274.26 252.6h1.4v3.3h-1.4zM277.06 252.6h1.4v3.3h-1.4zM285.47 252.6h1.4v3.3h-1.4zM347.15 252.6h1.4v3.3h-1.4zM349.95 252.6h1.4v3.3h-1.4zM352.76 252.6h1.4v3.3h-1.4zM363.97 252.6h1.4v3.3h-1.4zM366.77 252.6h1.4v3.3h-1.4zM376.58 252.6h1.4v3.3h-1.4zM382.19 252.6h2.8v3.3h-2.8zM386.4 252.6h4.21v3.3h-4.21zM396.21 252.6h15.42v3.3h-15.42zM413.03 252.6h1.4v3.3h-1.4zM421.44 252.6h7.01v3.3h-7.01zM501.34 252.6h2.8v3.3h-2.8zM505.55 252.6h1.4v3.3h-1.4zM509.75 252.6h16.82v3.3h-16.82zM529.38 252.6h4.21v3.3h-4.21zM534.98 252.6h4.21v3.3h-4.21zM540.59 252.6h2.8v3.3h-2.8zM549 252.6h2.8v3.3h-2.8zM553.21 252.6h4.21v3.3h-4.21zM560.21 252.6h2.8v3.3h-2.8zM574.23 252.6h1.4v3.3h-1.4zM174.73 249.3h1.4v3.3h-1.4zM178.94 249.3h2.8v3.3h-2.8zM184.55 249.3h1.4v3.3h-1.4zM191.55 249.3h1.4v3.3h-1.4zM197.16 249.3h1.4v3.3h-1.4zM199.96 249.3h4.21v3.3h-4.21zM206.97 249.3h2.8v3.3h-2.8zM213.98 249.3h4.21v3.3h-4.21zM233.61 249.3h1.4v3.3h-1.4zM250.43 249.3h1.4v3.3h-1.4zM253.23 249.3h1.4v3.3h-1.4zM347.15 249.3h1.4v3.3h-1.4zM349.95 249.3h1.4v3.3h-1.4zM354.16 249.3h1.4v3.3h-1.4zM361.17 249.3h2.8v3.3h-2.8zM365.37 249.3h1.4v3.3h-1.4zM368.17 249.3h1.4v3.3h-1.4zM375.18 249.3h1.4v3.3h-1.4zM392 249.3h1.4v3.3h-1.4zM414.43 249.3h4.21v3.3h-4.21zM420.04 249.3h1.4v3.3h-1.4zM513.96 249.3h1.4v3.3h-1.4zM516.76 249.3h1.4v3.3h-1.4zM519.56 249.3h1.4v3.3h-1.4zM522.37 249.3h1.4v3.3h-1.4zM530.78 249.3h1.4v3.3h-1.4zM546.2 249.3h1.4v3.3h-1.4zM554.61 249.3h1.4v3.3h-1.4zM181.74 246h4.21v3.3h-4.21zM188.75 246h1.4v3.3h-1.4zM253.23 246h1.4v3.3h-1.4zM345.75 246h1.4v3.3h-1.4zM355.56 246h2.8v3.3h-2.8zM359.76 246h1.4v3.3h-1.4zM362.57 246h1.4v3.3h-1.4zM368.17 246h1.4v3.3h-1.4zM379.39 246h1.4v3.3h-1.4zM390.6 246h2.8v3.3h-2.8zM394.81 246h1.4v3.3h-1.4zM417.24 246h1.4v3.3h-1.4zM420.04 246h1.4v3.3h-1.4zM533.58 246h1.4v3.3h-1.4zM543.39 246h5.61v3.3h-5.61zM557.41 246h2.8v3.3h-2.8zM358.36 242.7h1.4v3.3h-1.4zM372.38 242.7h2.8v3.3h-2.8zM377.99 242.7h1.4v3.3h-1.4zM380.79 242.7h1.4v3.3h-1.4zM351.35 239.4h1.4v3.3h-1.4zM369.58 239.4h1.4v3.3h-1.4zM385 239.4h1.4v3.3h-1.4zM418.64 239.4h1.4v3.3h-1.4zM370.98 236.1h1.4v3.3h-1.4z"/>
<path fill="#ff4400" d="M68.2 255.9h5.61v3.3h-5.61zM75.21 255.9h4.21v3.3h-4.21zM82.22 255.9h4.21v3.3h-4.21zM93.43 255.9h5.61v3.3h-5.61zM100.44 255.9h51.86v3.3h-51.86zM153.71 255.9h28.03v3.3h-28.03zM185.95 255.9h2.8v3.3h-2.8zM190.15 255.9h84.1v3.3h-84.1zM275.66 255.9h1.4v3.3h-1.4zM278.46 255.9h7.01v3.3h-7.01zM286.87 255.9h16.82v3.3h-16.82zM305.1 255.9h11.21v3.3h-11.21zM319.11 255.9h11.21v3.3h-11.21zM331.73 255.9h1.4v3.3h-1.4zM337.34 255.9h4.21v3.3h-4.21zM342.94 255.9h5.61v3.3h-5.61zM352.76 255.9h5.61v3.3h-5.61zM359.76 255.9h9.81v3.3h-9.81zM375.18 255.9h2.8v3.3h-2.8zM379.39 255.9h1.4v3.3h-1.4zM382.19 255.9h2.8v3.3h-2.8zM386.4 255.9h32.24v3.3h-32.24zM420.04 255.9h25.23v3.3h-25.23zM446.67 255.9h7.01v3.3h-7.01zM456.48 255.9h2.8v3.3h-2.8zM460.69 255.9h4.21v3.3h-4.21zM466.3 255.9h1.4v3.3h-1.4zM469.1 255.9h2.8v3.3h-2.8zM473.31 255.9h4.21v3.3h-4.21zM478.91 255.9h29.44v3.3h-29.44zM509.75 255.9h4.21v3.3h-4.21zM515.36 255.9h4.21v3.3h-4.21zM520.97 255.9h12.62v3.3h-12.62zM534.98 255.9h8.41v3.3h-8.41zM549 255.9h8.41v3.3h-8.41zM560.21 255.9h14.02v3.3h-14.02zM575.63 255.9h25.23v3.3h-25.23zM602.27 255.9h4.21v3.3h-4.21zM607.87 255.9h4.21v3.3h-4.21zM613.48 255.9h1.4v3.3h-1.4zM616.28 255.9h4.21v3.3h-4.21zM624.69 255.9h2.8v3.3h-2.8zM181.74 252.6h4.21v3.3h-4.21zM188.75 252.6h1.4v3.3h-1.4zM197.16 252.6h1.4v3.3h-1.4zM199.96 252.6h1.4v3.3h-1.4zM202.77 252.6h1.4v3.3h-1.4zM206.97 252.6h2.8v3.3h-2.8zM215.38 252.6h2.8v3.3h-2.8zM253.23 252.6h1.4v3.3h-1.4zM345.75 252.6h1.4v3.3h-1.4zM354.16 252.6h9.81v3.3h-9.81zM365.37 252.6h1.4v3.3h-1.4zM368.17 252.6h2.8v3.3h-2.8zM372.38 252.6h4.21v3.3h-4.21zM377.99 252.6h4.21v3.3h-4.21zM385 252.6h1.4v3.3h-1.4zM390.6 252.6h5.61v3.3h-5.61zM411.63 252.6h1.4v3.3h-1.4zM414.43 252.6h7.01v3.3h-7.01zM533.58 252.6h1.4v3.3h-1.4zM543.39 252.6h5.61v3.3h-5.61zM557.41 252.6h2.8v3.3h-2.8zM181.74 249.3h2.8v3.3h-2.8zM188.75 249.3h1.4v3.3h-1.4zM345.75 249.3h1.4v3.3h-1.4zM355.56 249.3h2.8v3.3h-2.8zM359.76 249.3h1.4v3.3h-1.4zM373.78 249.3h1.4v3.3h-1.4zM379.39 249.3h1.4v3.3h-1.4zM390.6 249.3h1.4v3.3h-1.4zM394.81 249.3h1.4v3.3h-1.4zM533.58 249.3h1.4v3.3h-1.4zM543.39 249.3h2.8v3.3h-2.8zM547.6 249.3h1.4v3.3h-1.4zM557.41 249.3h2.8v3.3h-2.8zM358.36 246h1.4v3.3h-1.4zM372.38 246h2.8v3.3h-2.8zM377.99 246h1.4v3.3h-1.4zM380.79 246h1.4v3.3h-1.4zM351.35 242.7h1.4v3.3h-1.4zM369.58 242.7h1.4v3.3h-1.4zM385 242.7h1.4v3.3h-1.4zM418.64 242.7h1.4v3.3h-1.4zM370.98 239.4h1.4v3.3h-1.4z"/>
<path fill="#ff3500" d="M73.81 255.9h1.4v3.3h-1.4zM79.41 255.9h2.8v3.3h-2.8zM86.42 255.9h7.01v3.3h-7.01zM99.04 255.9h1.4v3.3h-1.4zM152.31 255.9h1.4v3.3h-1.4zM181.74 255.9h4.21v3.3h-4.21zM188.75 255.9h1.4v3.3h-1.4zM274.26 255.9h1.4v3.3h-1.4zM277.06 255.9h1.4v3.3h-1.4zM285.47 255.9h1.4v3.3h-1.4zM303.69 255.9h1.4v3.3h-1.4zM316.31 255.9h2.8v3.3h-2.8zM330.33 255.9h1.4v3.3h-1.4zM333.13 255.9h4.21v3.3h-4.21zM341.54 255.9h1.4v3.3h-1.4zM348.55 255.9h4.21v3.3h-4.21zM358.36 255.9h1.4v3.3h-1.4zM369.58 255.9h5.61v3.3h-5.61zM377.99 255.9h1.4v3.3h-1.4zM380.79 255.9h1.4v3.3h-1.4zM385 255.9h1.4v3.3h-1.4zM418.64 255.9h1.4v3.3h-1.4zM445.27 255.9h1.4v3.3h-1.4zM453.68 255.9h2.8v3.3h-2.8zM459.29 255.9h1.4v3.3h-1.4zM464.9 255.9h1.4v3.3h-1.4zM467.7 255.9h1.4v3.3h-1.4zM471.9 255.9h1.4v3.3h-1.4zM477.51 255.9h1.4v3.3h-1.4zM513.96 255.9h1.4v3.3h-1.4zM519.56 255.9h1.4v3.3h-1.4zM533.58 255.9h1.4v3.3h-1.4zM543.39 255.9h5.61v3.3h-5.61zM557.41 255.9h2.8v3.3h-2.8zM574.23 255.9h1.4v3.3h-1.4zM600.87 255.9h1.4v3.3h-1.4zM606.47 255.9h1.4v3.3h-1.4zM612.08 255.9h1.4v3.3h-1.4zM620.49 255.9h1.4v3.3h-1.4zM623.29 255.9h1.4v3.3h-1.4zM351.35 252.6h1.4v3.3h-1.4zM370.98 252.6h1.4v3.3h-1.4zM351.35 249.3h1.4v3.3h-1.4zM358.36 249.3h1.4v3.3h-1.4zM369.58 249.3h4.21v3.3h-4.21zM377.99 249.3h1.4v3.3h-1.4zM380.79 249.3h1.4v3.3h-1.4zM385 249.3h1.4v3.3h-1.4zM418.64 249.3h1.4v3.3h-1.4zM351.35 246h1.4v3.3h-1.4zM369.58 246h2.8v3.3h-2.8zM385 246h1.4v3.3h-1.4zM418.64 246h1.4v3.3h-1.4zM370.98 242.7h1.4v3.3h-1.4z"/>
<path fill="#ff2600" d="M621.89 259.2h2.8v3.3h-2.8zM626.1 259.2h1.4v3.3h-1.4z"/>
<path fill="#ff1700" d="M619.09 259.2h2.8v3.3h-2.8z"/>
<path fill="#ff0800" d="M626.1 262.5h1.4v3.3h-1.4zM68.2 259.2h550.89v3.3h-550.89zM624.69 259.2h1.4v3.3h-1.4zM627.5 259.2h1.4v3.3h-1.4z"/>
<path fill="#e30000" d="M68.2 262.5h552.29v3.3h-552.29zM623.29 262.5h2.8v3.3h-2.8z"/>
<path fill="#aa0000" d="M620.49 262.5h2.8v3.3h-2.8zM627.5 262.5h1.4v3.3h-1.4z"/></g>
<g shape-rendering="crispEdges"><rect x="67.7" y="273.5" width="561.7" height="88" fill="#000"/>
<path fill="#3b0063" d="M607.91 319.5h1.5v3.25h-1.5zM604.91 335.75h1.5v3.25h-1.5zM357.55 309.75h1.5v3.25h-1.5zM453.49 309.75h1.5v3.25h-1.5zM294.58 339h1.5v3.25h-1.5zM489.47 300h1.5v3.25h-1.5zM134.16 296.75h1.5v3.25h-1.5zM266.09 296.75h1.5v3.25h-1.5zM309.57 296.75h1.5v3.25h-1.5zM435.5 296.75h1.5v3.25h-1.5zM460.99 296.75h1.5v3.25h-1.5zM483.48 296.75h1.5v3.25h-1.5zM489.47 296.75h1.5v3.25h-1.5zM149.16 293.5h1.5v3.25h-1.5zM374.04 293.5h1.5v3.25h-1.5zM414.51 293.5h1.5v3.25h-1.5zM483.48 293.5h1.5v3.25h-1.5zM609.41 287h1.5v3.25h-1.5zM261.6 348.75h1.5v3.25h-1.5zM544.94 348.75h1.5v3.25h-1.5zM198.63 280.5h1.5v3.25h-1.5zM462.49 280.5h1.5v3.25h-1.5zM535.95 280.5h1.5v3.25h-1.5zM625.9 280.5h1.5v3.25h-1.5zM261.6 352h1.5v3.25h-1.5zM423.51 352h1.5v3.25h-1.5zM454.99 352h3v3.25h-3zM423.51 355.25h1.5v3.25h-1.5zM441.5 283.75h1.5v3.25h-1.5zM493.97 283.75h1.5v3.25h-1.5z"/>
<path fill="#480084" d="M600.42 322.75h1.5v3.25h-1.5zM600.42 326h1.5v3.25h-1.5zM435.5 335.75h1.5v3.25h-1.5zM105.68 306.5h1.5v3.25h-1.5zM465.49 306.5h1.5v3.25h-1.5zM622.9 306.5h1.5v3.25h-1.5zM225.62 309.75h1.5v3.25h-1.5zM302.07 309.75h1.5v3.25h-1.5zM377.03 309.75h1.5v3.25h-1.5zM269.09 339h1.5v3.25h-1.5zM435.5 339h1.5v3.25h-1.5zM451.99 339h1.5v3.25h-1.5zM508.96 339h1.5v3.25h-1.5zM481.98 303.25h1.5v3.25h-1.5zM502.97 303.25h1.5v3.25h-1.5zM582.42 303.25h1.5v3.25h-1.5zM622.9 303.25h1.5v3.25h-1.5zM481.98 300h1.5v3.25h-1.5zM375.54 296.75h1.5v3.25h-1.5zM437 296.75h1.5v3.25h-1.5zM269.09 342.25h1.5v3.25h-1.5zM451.99 342.25h1.5v3.25h-1.5zM227.11 293.5h1.5v3.25h-1.5zM239.11 293.5h1.5v3.25h-1.5zM282.59 293.5h1.5v3.25h-1.5zM437 293.5h1.5v3.25h-1.5zM586.92 345.5h1.5v3.25h-1.5zM122.17 290.25h1.5v3.25h-1.5zM282.59 290.25h1.5v3.25h-1.5zM438.5 290.25h1.5v3.25h-1.5zM299.08 287h1.5v3.25h-1.5zM428.01 287h1.5v3.25h-1.5zM547.94 287h1.5v3.25h-1.5zM586.92 348.75h1.5v3.25h-1.5zM173.14 277.25h1.5v3.25h-1.5zM173.14 274h1.5v3.25h-1.5zM281.09 274h1.5v3.25h-1.5zM589.92 352h1.5v3.25h-1.5zM95.19 358.5h3v3.25h-3zM279.59 358.5h1.5v3.25h-1.5zM371.04 358.5h1.5v3.25h-1.5zM279.59 355.25h1.5v3.25h-1.5zM192.63 283.75h1.5v3.25h-1.5zM547.94 283.75h1.5v3.25h-1.5z"/>
<path fill="#5500a5" d="M270.59 332.5h3v3.25h-3zM243.61 306.5h1.5v3.25h-1.5zM243.61 309.75h1.5v3.25h-1.5zM257.1 303.25h1.5v3.25h-1.5zM336.56 342.25h1.5v3.25h-1.5zM336.56 345.5h1.5v3.25h-1.5zM236.11 277.25h1.5v3.25h-1.5zM236.11 274h1.5v3.25h-1.5zM474.48 274h1.5v3.25h-1.5zM255.6 352h1.5v3.25h-1.5zM255.6 355.25h1.5v3.25h-1.5z"/>
<path fill="#4500b6" d="M290.08 313h1.5v3.25h-1.5zM378.53 300h1.5v3.25h-1.5zM270.59 296.75h1.5v3.25h-1.5zM404.02 296.75h1.5v3.25h-1.5zM309.57 342.25h1.5v3.25h-1.5zM449 342.25h1.5v3.25h-1.5zM270.59 293.5h1.5v3.25h-1.5zM466.99 293.5h1.5v3.25h-1.5zM570.43 293.5h1.5v3.25h-1.5zM446 345.5h1.5v3.25h-1.5zM586.92 287h1.5v3.25h-1.5zM347.05 280.5h1.5v3.25h-1.5zM525.46 352h1.5v3.25h-1.5zM586.92 283.75h1.5v3.25h-1.5z"/>
<path fill="#3500c7" d="M245.11 326h1.5v3.25h-1.5zM251.1 313h1.5v3.25h-1.5zM251.1 316.25h1.5v3.25h-1.5zM150.66 339h1.5v3.25h-1.5zM451.99 300h1.5v3.25h-1.5zM81.69 342.25h1.5v3.25h-1.5zM93.69 342.25h1.5v3.25h-1.5zM87.69 290.25h1.5v3.25h-1.5zM224.12 290.25h1.5v3.25h-1.5zM224.12 287h1.5v3.25h-1.5zM386.03 348.75h1.5v3.25h-1.5zM189.64 277.25h1.5v3.25h-1.5zM204.63 277.25h1.5v3.25h-1.5zM204.63 280.5h1.5v3.25h-1.5zM553.94 280.5h1.5v3.25h-1.5zM386.03 352h1.5v3.25h-1.5z"/>
<path fill="#2400d8" d="M588.42 326h1.5v3.25h-1.5zM588.42 329.25h1.5v3.25h-1.5zM71.2 303.25h1.5v3.25h-1.5zM74.2 303.25h1.5v3.25h-1.5zM215.12 300h1.5v3.25h-1.5zM215.12 296.75h1.5v3.25h-1.5zM472.98 296.75h1.5v3.25h-1.5zM185.14 287h1.5v3.25h-1.5zM579.43 277.25h1.5v3.25h-1.5zM291.58 274h1.5v3.25h-1.5zM576.43 352h1.5v3.25h-1.5zM622.9 283.75h1.5v3.25h-1.5z"/>
<path fill="#1400ea" d="M302.07 329.25h1.5v3.25h-1.5zM297.58 316.25h1.5v3.25h-1.5zM78.69 339h1.5v3.25h-1.5zM87.69 339h1.5v3.25h-1.5zM393.53 303.25h1.5v3.25h-1.5zM402.52 300h1.5v3.25h-1.5zM78.69 342.25h1.5v3.25h-1.5zM147.66 342.25h1.5v3.25h-1.5zM450.5 342.25h1.5v3.25h-1.5zM72.7 290.25h4.5v3.25h-4.5zM290.08 280.5h1.5v3.25h-1.5zM359.04 274h1.5v3.25h-1.5zM622.9 358.5h1.5v3.25h-1.5z"/>
<path fill="#0400fb" d="M583.92 326h1.5v3.25h-1.5zM594.42 313h1.5v3.25h-1.5zM291.58 332.5h1.5v3.25h-1.5zM68.2 335.75h1.5v3.25h-1.5zM122.17 335.75h1.5v3.25h-1.5zM282.59 335.75h1.5v3.25h-1.5zM483.48 306.5h1.5v3.25h-1.5zM561.44 306.5h1.5v3.25h-1.5zM407.02 309.75h1.5v3.25h-1.5zM489.47 309.75h1.5v3.25h-1.5zM152.16 339h1.5v3.25h-1.5zM75.7 303.25h1.5v3.25h-1.5zM191.13 303.25h1.5v3.25h-1.5zM383.03 303.25h1.5v3.25h-1.5zM218.12 342.25h1.5v3.25h-1.5zM240.61 293.5h1.5v3.25h-1.5zM81.69 290.25h1.5v3.25h-1.5zM240.61 290.25h1.5v3.25h-1.5zM81.69 287h1.5v3.25h-1.5zM315.57 287h1.5v3.25h-1.5zM508.96 287h1.5v3.25h-1.5zM131.17 348.75h1.5v3.25h-1.5zM167.15 274h1.5v3.25h-1.5zM131.17 352h1.5v3.25h-1.5zM413.02 358.5h1.5v3.25h-1.5zM269.09 355.25h1.5v3.25h-1.5zM413.02 355.25h1.5v3.25h-1.5z"/>
<path fill="#0018ff" d="M269.09 319.5h1.5v3.25h-1.5zM312.57 326h1.5v3.25h-1.5zM460.99 326h1.5v3.25h-1.5zM278.09 329.25h1.5v3.25h-1.5zM471.48 329.25h1.5v3.25h-1.5zM285.58 316.25h1.5v3.25h-1.5zM386.03 316.25h1.5v3.25h-1.5zM80.19 306.5h1.5v3.25h-1.5zM380.03 309.75h1.5v3.25h-1.5zM372.54 339h1.5v3.25h-1.5zM68.2 303.25h1.5v3.25h-1.5zM80.19 303.25h1.5v3.25h-1.5zM354.55 303.25h1.5v3.25h-1.5zM537.45 303.25h1.5v3.25h-1.5zM580.93 303.25h1.5v3.25h-1.5zM200.13 300h1.5v3.25h-1.5zM417.51 300h1.5v3.25h-1.5zM585.42 300h1.5v3.25h-1.5zM522.46 296.75h3v3.25h-3zM347.05 342.25h1.5v3.25h-1.5zM255.6 293.5h1.5v3.25h-1.5zM360.54 345.5h1.5v3.25h-1.5zM544.94 345.5h1.5v3.25h-1.5zM408.52 287h1.5v3.25h-1.5zM615.41 348.75h1.5v3.25h-1.5zM194.13 277.25h1.5v3.25h-1.5zM278.09 277.25h1.5v3.25h-1.5zM146.16 280.5h1.5v3.25h-1.5zM446 280.5h1.5v3.25h-1.5zM194.13 274h1.5v3.25h-1.5zM69.7 358.5h1.5v3.25h-1.5zM101.18 358.5h1.5v3.25h-1.5zM224.12 283.75h1.5v3.25h-1.5zM516.46 283.75h1.5v3.25h-1.5z"/>
<path fill="#0038ff" d="M267.59 322.75h1.5v3.25h-1.5zM309.57 322.75h1.5v3.25h-1.5zM308.07 329.25h3v3.25h-3zM134.16 313h1.5v3.25h-1.5zM263.1 332.5h1.5v3.25h-1.5zM269.09 332.5h1.5v3.25h-1.5zM478.98 332.5h1.5v3.25h-1.5zM123.67 335.75h1.5v3.25h-1.5zM128.17 335.75h1.5v3.25h-1.5zM392.03 306.5h1.5v3.25h-1.5zM499.97 306.5h1.5v3.25h-1.5zM540.45 306.5h1.5v3.25h-1.5zM123.67 309.75h1.5v3.25h-1.5zM351.55 309.75h1.5v3.25h-1.5zM387.53 309.75h1.5v3.25h-1.5zM147.66 339h1.5v3.25h-1.5zM243.61 339h1.5v3.25h-1.5zM419.01 339h1.5v3.25h-1.5zM540.45 339h1.5v3.25h-1.5zM221.12 303.25h1.5v3.25h-1.5zM197.13 300h1.5v3.25h-1.5zM177.64 342.25h1.5v3.25h-1.5zM182.14 342.25h1.5v3.25h-1.5zM185.14 342.25h1.5v3.25h-1.5zM189.64 342.25h1.5v3.25h-1.5zM221.12 342.25h1.5v3.25h-1.5zM342.55 342.25h1.5v3.25h-1.5zM425.01 342.25h1.5v3.25h-1.5zM543.45 345.5h1.5v3.25h-1.5zM562.94 345.5h1.5v3.25h-1.5zM525.46 287h1.5v3.25h-1.5z"/>
<path fill="#0058ff" d="M230.11 319.5h1.5v3.25h-1.5zM505.97 319.5h1.5v3.25h-1.5zM269.09 322.75h1.5v3.25h-1.5zM278.09 322.75h1.5v3.25h-1.5zM290.08 322.75h1.5v3.25h-1.5zM300.58 322.75h1.5v3.25h-1.5zM443 322.75h1.5v3.25h-1.5zM504.47 326h1.5v3.25h-1.5zM269.09 329.25h1.5v3.25h-1.5zM317.07 329.25h1.5v3.25h-1.5zM570.43 329.25h1.5v3.25h-1.5zM318.57 313h1.5v3.25h-1.5zM372.54 313h1.5v3.25h-1.5zM454.99 313h1.5v3.25h-1.5zM459.49 313h1.5v3.25h-1.5zM564.43 313h1.5v3.25h-1.5zM117.67 332.5h1.5v3.25h-1.5zM261.6 332.5h1.5v3.25h-1.5zM477.48 332.5h1.5v3.25h-1.5zM483.48 332.5h1.5v3.25h-1.5zM499.97 332.5h1.5v3.25h-1.5zM252.6 335.75h1.5v3.25h-1.5zM318.57 335.75h1.5v3.25h-1.5zM432.51 335.75h1.5v3.25h-1.5zM583.92 335.75h1.5v3.25h-1.5zM146.16 306.5h1.5v3.25h-1.5zM330.56 306.5h1.5v3.25h-1.5zM348.55 306.5h1.5v3.25h-1.5zM420.51 306.5h1.5v3.25h-1.5zM144.66 309.75h1.5v3.25h-1.5zM213.62 309.75h1.5v3.25h-1.5zM460.99 309.75h1.5v3.25h-1.5zM143.16 339h1.5v3.25h-1.5zM149.16 339h1.5v3.25h-1.5zM155.15 339h1.5v3.25h-1.5zM215.12 339h1.5v3.25h-1.5zM240.61 339h1.5v3.25h-1.5zM332.06 339h1.5v3.25h-1.5zM428.01 339h1.5v3.25h-1.5zM209.12 303.25h1.5v3.25h-1.5zM401.02 303.25h1.5v3.25h-1.5zM405.52 303.25h1.5v3.25h-1.5zM411.52 303.25h1.5v3.25h-1.5zM532.95 303.25h1.5v3.25h-1.5zM74.2 300h3v3.25h-3zM123.67 300h1.5v3.25h-1.5zM168.65 300h1.5v3.25h-1.5zM195.63 300h1.5v3.25h-1.5zM507.46 300h1.5v3.25h-1.5zM528.45 300h1.5v3.25h-1.5zM123.67 296.75h1.5v3.25h-1.5zM200.13 342.25h1.5v3.25h-1.5zM222.62 342.25h1.5v3.25h-1.5zM350.05 342.25h1.5v3.25h-1.5zM369.54 342.25h3v3.25h-3zM426.51 342.25h1.5v3.25h-1.5zM523.96 342.25h1.5v3.25h-1.5zM535.95 342.25h1.5v3.25h-1.5zM74.2 293.5h1.5v3.25h-1.5zM218.12 293.5h1.5v3.25h-1.5zM510.46 293.5h1.5v3.25h-1.5zM529.95 293.5h1.5v3.25h-1.5zM534.45 345.5h1.5v3.25h-1.5zM555.44 345.5h1.5v3.25h-1.5zM564.43 345.5h3v3.25h-3zM577.93 345.5h1.5v3.25h-1.5zM583.92 345.5h1.5v3.25h-1.5zM69.7 290.25h1.5v3.25h-1.5zM203.13 287h1.5v3.25h-1.5zM312.57 287h1.5v3.25h-1.5zM353.05 287h1.5v3.25h-1.5zM544.94 277.25h1.5v3.25h-1.5zM573.43 352h1.5v3.25h-1.5zM353.05 283.75h1.5v3.25h-1.5zM537.45 283.75h1.5v3.25h-1.5z"/>
<path fill="#0078ff" d="M267.59 319.5h1.5v3.25h-1.5zM278.09 319.5h1.5v3.25h-1.5zM568.93 319.5h1.5v3.25h-1.5zM263.1 322.75h1.5v3.25h-1.5zM269.09 326h1.5v3.25h-1.5zM278.09 326h1.5v3.25h-1.5zM309.57 326h1.5v3.25h-1.5zM469.99 326h1.5v3.25h-1.5zM478.98 326h1.5v3.25h-1.5zM305.07 329.25h1.5v3.25h-1.5zM454.99 329.25h1.5v3.25h-1.5zM462.49 329.25h1.5v3.25h-1.5zM466.99 329.25h1.5v3.25h-1.5zM116.17 313h1.5v3.25h-1.5zM137.16 313h1.5v3.25h-1.5zM263.1 313h1.5v3.25h-1.5zM387.53 313h1.5v3.25h-1.5zM425.01 313h1.5v3.25h-1.5zM468.49 313h1.5v3.25h-1.5zM323.06 316.25h1.5v3.25h-1.5zM456.49 316.25h1.5v3.25h-1.5zM493.97 316.25h1.5v3.25h-1.5zM508.96 316.25h1.5v3.25h-1.5zM266.09 332.5h1.5v3.25h-1.5zM287.08 332.5h1.5v3.25h-1.5zM327.56 332.5h1.5v3.25h-1.5zM435.5 332.5h1.5v3.25h-1.5zM475.98 332.5h1.5v3.25h-1.5zM495.47 332.5h1.5v3.25h-1.5zM113.18 335.75h1.5v3.25h-1.5zM251.1 335.75h1.5v3.25h-1.5zM264.59 335.75h1.5v3.25h-1.5zM279.59 335.75h1.5v3.25h-1.5zM339.55 335.75h1.5v3.25h-1.5zM490.97 335.75h1.5v3.25h-1.5zM493.97 335.75h1.5v3.25h-1.5zM122.17 306.5h1.5v3.25h-1.5zM188.14 306.5h1.5v3.25h-1.5zM218.12 306.5h1.5v3.25h-1.5zM341.05 306.5h1.5v3.25h-1.5zM404.02 306.5h1.5v3.25h-1.5zM408.52 306.5h1.5v3.25h-1.5zM119.17 309.75h3v3.25h-3zM153.65 309.75h1.5v3.25h-1.5zM261.6 309.75h1.5v3.25h-1.5zM266.09 309.75h1.5v3.25h-1.5zM332.06 309.75h1.5v3.25h-1.5zM339.55 309.75h1.5v3.25h-1.5zM390.53 309.75h1.5v3.25h-1.5zM466.99 309.75h1.5v3.25h-1.5zM475.98 309.75h1.5v3.25h-1.5zM490.97 309.75h1.5v3.25h-1.5zM140.16 339h1.5v3.25h-1.5zM156.65 339h1.5v3.25h-1.5zM164.15 339h1.5v3.25h-1.5zM186.64 339h1.5v3.25h-1.5zM236.11 339h1.5v3.25h-1.5zM335.06 339h3v3.25h-3zM378.53 339h1.5v3.25h-1.5zM444.5 339h1.5v3.25h-1.5zM516.46 339h1.5v3.25h-1.5zM531.45 339h1.5v3.25h-1.5zM535.95 303.25h1.5v3.25h-1.5zM541.95 303.25h1.5v3.25h-1.5zM69.7 300h1.5v3.25h-1.5zM176.14 300h1.5v3.25h-1.5zM198.63 300h1.5v3.25h-1.5zM356.05 300h1.5v3.25h-1.5zM549.44 300h1.5v3.25h-1.5zM197.13 342.25h1.5v3.25h-1.5zM203.13 342.25h1.5v3.25h-1.5zM230.11 342.25h1.5v3.25h-1.5zM233.11 342.25h1.5v3.25h-1.5zM365.04 342.25h1.5v3.25h-1.5zM387.53 342.25h1.5v3.25h-1.5zM390.53 342.25h4.5v3.25h-4.5zM510.46 342.25h3v3.25h-3zM519.46 342.25h1.5v3.25h-1.5zM72.7 293.5h1.5v3.25h-1.5zM513.46 293.5h1.5v3.25h-1.5zM552.44 345.5h1.5v3.25h-1.5zM71.2 290.25h1.5v3.25h-1.5zM514.96 290.25h1.5v3.25h-1.5z"/>
<path fill="#00a0ff" d="M111.68 319.5h1.5v3.25h-1.5zM227.11 319.5h1.5v3.25h-1.5zM263.1 319.5h1.5v3.25h-1.5zM279.59 319.5h1.5v3.25h-1.5zM457.99 319.5h1.5v3.25h-1.5zM493.97 319.5h1.5v3.25h-1.5zM233.11 322.75h1.5v3.25h-1.5zM236.11 322.75h1.5v3.25h-1.5zM240.61 322.75h1.5v3.25h-1.5zM257.1 322.75h1.5v3.25h-1.5zM428.01 322.75h1.5v3.25h-1.5zM446 322.75h1.5v3.25h-1.5zM493.97 322.75h1.5v3.25h-1.5zM574.93 322.75h3v3.25h-3zM582.42 322.75h1.5v3.25h-1.5zM240.61 326h1.5v3.25h-1.5zM447.5 326h1.5v3.25h-1.5zM450.5 326h1.5v3.25h-1.5zM457.99 326h1.5v3.25h-1.5zM493.97 326h1.5v3.25h-1.5zM571.93 326h1.5v3.25h-1.5zM579.43 326h1.5v3.25h-1.5zM263.1 329.25h1.5v3.25h-1.5zM267.59 329.25h1.5v3.25h-1.5zM287.08 329.25h1.5v3.25h-1.5zM306.57 329.25h1.5v3.25h-1.5zM493.97 329.25h1.5v3.25h-1.5zM583.92 329.25h1.5v3.25h-1.5zM326.06 313h1.5v3.25h-1.5zM267.59 316.25h1.5v3.25h-1.5zM305.07 316.25h1.5v3.25h-1.5zM431.01 316.25h1.5v3.25h-1.5zM435.5 316.25h1.5v3.25h-1.5zM449 316.25h1.5v3.25h-1.5zM478.98 316.25h1.5v3.25h-1.5zM567.43 316.25h1.5v3.25h-1.5zM267.59 332.5h1.5v3.25h-1.5zM324.56 332.5h1.5v3.25h-1.5zM481.98 332.5h1.5v3.25h-1.5zM129.67 335.75h1.5v3.25h-1.5zM134.16 335.75h3v3.25h-3zM258.6 335.75h1.5v3.25h-1.5zM484.98 335.75h1.5v3.25h-1.5zM622.9 335.75h1.5v3.25h-1.5zM278.09 306.5h1.5v3.25h-1.5zM324.56 306.5h1.5v3.25h-1.5zM336.56 306.5h1.5v3.25h-1.5zM395.03 306.5h1.5v3.25h-1.5zM547.94 306.5h1.5v3.25h-1.5zM219.62 309.75h1.5v3.25h-1.5zM321.56 309.75h1.5v3.25h-1.5zM333.56 309.75h1.5v3.25h-1.5zM342.55 309.75h1.5v3.25h-1.5zM369.54 309.75h1.5v3.25h-1.5zM484.98 309.75h1.5v3.25h-1.5zM144.66 339h3v3.25h-3zM167.15 339h1.5v3.25h-1.5zM183.64 339h1.5v3.25h-1.5zM192.63 339h3v3.25h-3zM246.6 339h1.5v3.25h-1.5zM416.01 339h1.5v3.25h-1.5zM423.51 339h1.5v3.25h-1.5zM522.46 339h1.5v3.25h-1.5zM528.45 339h1.5v3.25h-1.5zM583.92 339h1.5v3.25h-1.5zM161.15 303.25h1.5v3.25h-1.5zM186.64 303.25h1.5v3.25h-1.5zM189.64 303.25h1.5v3.25h-1.5zM218.12 303.25h1.5v3.25h-1.5zM278.09 303.25h1.5v3.25h-1.5zM416.01 303.25h1.5v3.25h-1.5zM543.45 303.25h1.5v3.25h-1.5zM179.14 300h1.5v3.25h-1.5zM218.12 300h1.5v3.25h-1.5zM344.05 300h1.5v3.25h-1.5zM170.15 296.75h1.5v3.25h-1.5zM171.64 342.25h1.5v3.25h-1.5zM174.64 342.25h1.5v3.25h-1.5zM188.14 342.25h1.5v3.25h-1.5zM195.63 342.25h1.5v3.25h-1.5zM207.63 342.25h1.5v3.25h-1.5zM273.59 342.25h1.5v3.25h-1.5zM354.55 342.25h1.5v3.25h-1.5zM389.03 342.25h1.5v3.25h-1.5zM405.52 342.25h1.5v3.25h-1.5zM457.99 342.25h1.5v3.25h-1.5zM583.92 342.25h1.5v3.25h-1.5zM69.7 293.5h1.5v3.25h-1.5zM75.7 293.5h1.5v3.25h-1.5zM387.53 293.5h1.5v3.25h-1.5zM549.44 345.5h1.5v3.25h-1.5zM185.14 290.25h1.5v3.25h-1.5zM516.46 290.25h1.5v3.25h-1.5zM306.57 287h1.5v3.25h-1.5zM457.99 287h1.5v3.25h-1.5zM105.68 348.75h1.5v3.25h-1.5zM582.42 348.75h1.5v3.25h-1.5zM212.12 277.25h1.5v3.25h-1.5zM69.7 280.5h1.5v3.25h-1.5zM84.69 280.5h1.5v3.25h-1.5zM212.12 280.5h1.5v3.25h-1.5zM619.9 283.75h1.5v3.25h-1.5z"/>
<path fill="#00caff" d="M306.57 319.5h1.5v3.25h-1.5zM478.98 319.5h1.5v3.25h-1.5zM224.12 322.75h1.5v3.25h-1.5zM432.51 322.75h1.5v3.25h-1.5zM457.99 322.75h1.5v3.25h-1.5zM573.43 322.75h1.5v3.25h-1.5zM263.1 326h1.5v3.25h-1.5zM267.59 326h1.5v3.25h-1.5zM300.58 326h1.5v3.25h-1.5zM114.68 329.25h3v3.25h-3zM478.98 329.25h1.5v3.25h-1.5zM502.97 329.25h1.5v3.25h-1.5zM113.18 313h1.5v3.25h-1.5zM132.67 313h1.5v3.25h-1.5zM141.66 313h1.5v3.25h-1.5zM152.16 313h1.5v3.25h-1.5zM156.65 313h1.5v3.25h-1.5zM393.53 313h1.5v3.25h-1.5zM399.52 313h1.5v3.25h-1.5zM413.02 313h1.5v3.25h-1.5zM457.99 313h1.5v3.25h-1.5zM472.98 313h1.5v3.25h-1.5zM490.97 313h1.5v3.25h-1.5zM550.94 313h1.5v3.25h-1.5zM264.59 316.25h1.5v3.25h-1.5zM556.94 316.25h1.5v3.25h-1.5zM562.94 316.25h1.5v3.25h-1.5zM288.58 332.5h1.5v3.25h-1.5zM329.06 332.5h1.5v3.25h-1.5zM480.48 332.5h1.5v3.25h-1.5zM486.48 332.5h1.5v3.25h-1.5zM489.47 332.5h1.5v3.25h-1.5zM583.92 332.5h1.5v3.25h-1.5zM120.67 335.75h1.5v3.25h-1.5zM255.6 335.75h1.5v3.25h-1.5zM330.56 335.75h1.5v3.25h-1.5zM338.06 335.75h1.5v3.25h-1.5zM117.67 306.5h1.5v3.25h-1.5zM155.15 306.5h1.5v3.25h-1.5zM192.63 306.5h1.5v3.25h-1.5zM212.12 306.5h1.5v3.25h-1.5zM363.54 306.5h1.5v3.25h-1.5zM495.47 306.5h1.5v3.25h-1.5zM158.15 309.75h1.5v3.25h-1.5zM353.05 309.75h1.5v3.25h-1.5zM474.48 309.75h1.5v3.25h-1.5zM538.95 309.75h1.5v3.25h-1.5zM161.15 339h1.5v3.25h-1.5zM165.65 339h1.5v3.25h-1.5zM179.14 339h1.5v3.25h-1.5zM209.12 339h1.5v3.25h-1.5zM216.62 339h1.5v3.25h-1.5zM242.11 339h1.5v3.25h-1.5zM249.6 339h1.5v3.25h-1.5zM344.05 339h1.5v3.25h-1.5zM356.05 339h1.5v3.25h-1.5zM399.52 339h1.5v3.25h-1.5zM525.46 339h3v3.25h-3zM529.95 339h1.5v3.25h-1.5zM164.15 303.25h1.5v3.25h-1.5zM414.51 303.25h1.5v3.25h-1.5zM68.2 300h1.5v3.25h-1.5zM204.63 300h1.5v3.25h-1.5zM212.12 342.25h1.5v3.25h-1.5zM219.62 342.25h1.5v3.25h-1.5zM227.11 342.25h1.5v3.25h-1.5zM341.05 342.25h1.5v3.25h-1.5zM383.03 342.25h1.5v3.25h-1.5zM401.02 342.25h1.5v3.25h-1.5zM514.96 342.25h1.5v3.25h-1.5zM517.96 342.25h1.5v3.25h-1.5zM520.96 342.25h1.5v3.25h-1.5zM541.95 342.25h1.5v3.25h-1.5zM546.44 345.5h1.5v3.25h-1.5zM553.94 345.5h1.5v3.25h-1.5zM520.96 290.25h1.5v3.25h-1.5zM517.96 287h1.5v3.25h-1.5zM576.43 348.75h1.5v3.25h-1.5z"/>
<path fill="#00f4ff" d="M387.53 319.5h1.5v3.25h-1.5zM456.49 319.5h1.5v3.25h-1.5zM577.93 319.5h1.5v3.25h-1.5zM609.41 319.5h1.5v3.25h-1.5zM287.08 322.75h1.5v3.25h-1.5zM435.5 322.75h1.5v3.25h-1.5zM459.49 322.75h1.5v3.25h-1.5zM78.69 326h4.5v3.25h-4.5zM288.58 326h1.5v3.25h-1.5zM306.57 326h1.5v3.25h-1.5zM317.07 326h1.5v3.25h-1.5zM472.98 326h1.5v3.25h-1.5zM498.47 326h1.5v3.25h-1.5zM580.93 326h1.5v3.25h-1.5zM78.69 329.25h4.5v3.25h-4.5zM260.1 329.25h1.5v3.25h-1.5zM288.58 329.25h1.5v3.25h-1.5zM314.07 329.25h1.5v3.25h-1.5zM435.5 329.25h1.5v3.25h-1.5zM128.17 313h1.5v3.25h-1.5zM302.07 313h1.5v3.25h-1.5zM314.07 313h1.5v3.25h-1.5zM338.06 313h1.5v3.25h-1.5zM342.55 313h1.5v3.25h-1.5zM466.99 313h1.5v3.25h-1.5zM489.47 313h1.5v3.25h-1.5zM601.91 313h1.5v3.25h-1.5zM129.67 316.25h1.5v3.25h-1.5zM143.16 316.25h1.5v3.25h-1.5zM263.1 316.25h1.5v3.25h-1.5zM375.54 316.25h1.5v3.25h-1.5zM601.91 316.25h1.5v3.25h-1.5zM119.17 332.5h1.5v3.25h-1.5zM122.17 332.5h1.5v3.25h-1.5zM290.08 332.5h1.5v3.25h-1.5zM474.48 332.5h1.5v3.25h-1.5zM484.98 332.5h1.5v3.25h-1.5zM493.97 332.5h1.5v3.25h-1.5zM496.97 332.5h1.5v3.25h-1.5zM131.17 335.75h1.5v3.25h-1.5zM164.15 335.75h1.5v3.25h-1.5zM434 335.75h1.5v3.25h-1.5zM131.17 306.5h1.5v3.25h-1.5zM182.14 306.5h1.5v3.25h-1.5zM221.12 306.5h1.5v3.25h-1.5zM350.05 306.5h1.5v3.25h-1.5zM469.99 306.5h1.5v3.25h-1.5zM125.17 309.75h1.5v3.25h-1.5zM146.16 309.75h1.5v3.25h-1.5zM330.56 309.75h1.5v3.25h-1.5zM371.04 309.75h1.5v3.25h-1.5zM422.01 309.75h1.5v3.25h-1.5zM462.49 309.75h1.5v3.25h-1.5zM480.48 309.75h1.5v3.25h-1.5zM498.47 309.75h1.5v3.25h-1.5zM504.47 309.75h1.5v3.25h-1.5zM158.15 339h1.5v3.25h-1.5zM191.13 339h1.5v3.25h-1.5zM204.63 339h3v3.25h-3zM210.62 339h1.5v3.25h-1.5zM221.12 339h1.5v3.25h-1.5zM350.05 339h1.5v3.25h-1.5zM381.53 339h1.5v3.25h-1.5zM422.01 339h1.5v3.25h-1.5zM431.01 339h1.5v3.25h-1.5zM443 339h1.5v3.25h-1.5zM446 339h4.5v3.25h-4.5zM126.67 303.25h1.5v3.25h-1.5zM173.14 303.25h1.5v3.25h-1.5zM183.64 303.25h3v3.25h-3zM410.02 303.25h1.5v3.25h-1.5zM531.45 303.25h1.5v3.25h-1.5zM126.67 300h1.5v3.25h-1.5zM167.15 300h1.5v3.25h-1.5zM201.63 296.75h1.5v3.25h-1.5zM201.63 342.25h1.5v3.25h-1.5zM318.57 342.25h1.5v3.25h-1.5zM71.2 293.5h1.5v3.25h-1.5zM206.13 293.5h1.5v3.25h-1.5zM532.95 345.5h1.5v3.25h-1.5zM559.94 345.5h3v3.25h-3zM570.43 345.5h1.5v3.25h-1.5zM573.43 345.5h1.5v3.25h-1.5zM188.14 290.25h1.5v3.25h-1.5zM525.46 290.25h1.5v3.25h-1.5zM580.93 348.75h1.5v3.25h-1.5zM105.68 277.25h1.5v3.25h-1.5zM405.52 277.25h1.5v3.25h-1.5z"/>
<path fill="#00ffdc" d="M299.08 319.5h1.5v3.25h-1.5zM315.57 319.5h1.5v3.25h-1.5zM435.5 319.5h1.5v3.25h-1.5zM299.08 322.75h1.5v3.25h-1.5zM308.07 322.75h1.5v3.25h-1.5zM314.07 322.75h1.5v3.25h-1.5zM462.49 322.75h1.5v3.25h-1.5zM287.08 326h1.5v3.25h-1.5zM290.08 326h1.5v3.25h-1.5zM302.07 326h3v3.25h-3zM308.07 326h1.5v3.25h-1.5zM435.5 326h1.5v3.25h-1.5zM459.49 326h1.5v3.25h-1.5zM465.49 326h1.5v3.25h-1.5zM231.61 329.25h1.5v3.25h-1.5zM266.09 329.25h1.5v3.25h-1.5zM290.08 329.25h1.5v3.25h-1.5zM315.57 329.25h1.5v3.25h-1.5zM483.48 329.25h1.5v3.25h-1.5zM499.97 329.25h1.5v3.25h-1.5zM398.02 313h1.5v3.25h-1.5zM419.01 313h1.5v3.25h-1.5zM426.51 313h1.5v3.25h-1.5zM492.47 313h1.5v3.25h-1.5zM126.67 316.25h1.5v3.25h-1.5zM260.1 316.25h1.5v3.25h-1.5zM320.07 316.25h1.5v3.25h-1.5zM381.53 316.25h1.5v3.25h-1.5zM466.99 316.25h3v3.25h-3zM501.47 316.25h1.5v3.25h-1.5zM507.46 316.25h1.5v3.25h-1.5zM559.94 316.25h1.5v3.25h-1.5zM320.07 332.5h1.5v3.25h-1.5zM132.67 335.75h1.5v3.25h-1.5zM137.16 335.75h1.5v3.25h-1.5zM150.66 335.75h1.5v3.25h-1.5zM153.65 335.75h1.5v3.25h-1.5zM254.1 335.75h1.5v3.25h-1.5zM410.02 335.75h1.5v3.25h-1.5zM416.01 335.75h1.5v3.25h-1.5zM492.47 335.75h1.5v3.25h-1.5zM513.46 335.75h1.5v3.25h-1.5zM362.04 306.5h1.5v3.25h-1.5zM396.52 306.5h1.5v3.25h-1.5zM471.48 306.5h1.5v3.25h-1.5zM159.65 309.75h1.5v3.25h-1.5zM317.07 309.75h1.5v3.25h-1.5zM335.06 309.75h1.5v3.25h-1.5zM378.53 309.75h1.5v3.25h-1.5zM477.48 309.75h1.5v3.25h-1.5zM544.94 309.75h1.5v3.25h-1.5zM162.65 339h1.5v3.25h-1.5zM170.15 339h1.5v3.25h-1.5zM173.14 339h1.5v3.25h-1.5zM348.55 339h1.5v3.25h-1.5zM357.55 339h1.5v3.25h-1.5zM374.04 339h1.5v3.25h-1.5zM377.03 339h1.5v3.25h-1.5zM411.52 339h3v3.25h-3zM69.7 303.25h1.5v3.25h-1.5zM165.65 303.25h1.5v3.25h-1.5zM197.13 303.25h1.5v3.25h-1.5zM207.63 303.25h1.5v3.25h-1.5zM345.55 303.25h1.5v3.25h-1.5zM526.95 303.25h1.5v3.25h-1.5zM534.45 303.25h1.5v3.25h-1.5zM171.64 300h1.5v3.25h-1.5zM203.13 300h1.5v3.25h-1.5zM505.97 300h1.5v3.25h-1.5zM74.2 296.75h1.5v3.25h-1.5zM511.96 296.75h1.5v3.25h-1.5zM529.95 296.75h1.5v3.25h-1.5zM176.14 342.25h1.5v3.25h-1.5zM180.64 342.25h1.5v3.25h-1.5zM198.63 342.25h1.5v3.25h-1.5zM224.12 342.25h3v3.25h-3zM353.05 342.25h1.5v3.25h-1.5zM408.52 342.25h1.5v3.25h-1.5zM508.96 293.5h1.5v3.25h-1.5zM558.44 345.5h1.5v3.25h-1.5zM567.43 345.5h1.5v3.25h-1.5zM517.96 290.25h3v3.25h-3zM547.94 348.75h1.5v3.25h-1.5z"/>
<path fill="#00ffae" d="M260.1 319.5h1.5v3.25h-1.5zM303.57 319.5h3v3.25h-3zM454.99 319.5h1.5v3.25h-1.5zM225.62 322.75h1.5v3.25h-1.5zM261.6 322.75h1.5v3.25h-1.5zM302.07 322.75h1.5v3.25h-1.5zM434 322.75h1.5v3.25h-1.5zM478.98 322.75h1.5v3.25h-1.5zM111.68 326h1.5v3.25h-1.5zM117.67 326h1.5v3.25h-1.5zM234.61 326h1.5v3.25h-1.5zM314.07 326h1.5v3.25h-1.5zM471.48 326h1.5v3.25h-1.5zM321.56 329.25h1.5v3.25h-1.5zM434 329.25h1.5v3.25h-1.5zM120.67 313h1.5v3.25h-1.5zM147.66 313h1.5v3.25h-1.5zM261.6 313h1.5v3.25h-1.5zM266.09 313h1.5v3.25h-1.5zM389.03 313h1.5v3.25h-1.5zM465.49 313h1.5v3.25h-1.5zM475.98 313h1.5v3.25h-1.5zM502.97 313h1.5v3.25h-1.5zM555.44 313h1.5v3.25h-1.5zM135.66 316.25h1.5v3.25h-1.5zM222.62 316.25h1.5v3.25h-1.5zM387.53 316.25h1.5v3.25h-1.5zM457.99 316.25h1.5v3.25h-1.5zM486.48 316.25h1.5v3.25h-1.5zM496.97 316.25h1.5v3.25h-1.5zM264.59 332.5h1.5v3.25h-1.5zM490.97 332.5h3v3.25h-3zM213.62 335.75h1.5v3.25h-1.5zM333.56 335.75h1.5v3.25h-1.5zM344.05 335.75h1.5v3.25h-1.5zM386.03 335.75h1.5v3.25h-1.5zM531.45 335.75h1.5v3.25h-1.5zM191.13 306.5h1.5v3.25h-1.5zM366.54 306.5h1.5v3.25h-1.5zM423.51 306.5h1.5v3.25h-1.5zM531.45 306.5h1.5v3.25h-1.5zM117.67 309.75h1.5v3.25h-1.5zM347.05 309.75h1.5v3.25h-1.5zM483.48 309.75h1.5v3.25h-1.5zM487.98 309.75h1.5v3.25h-1.5zM499.97 309.75h1.5v3.25h-1.5zM546.44 309.75h1.5v3.25h-1.5zM561.44 309.75h1.5v3.25h-1.5zM159.65 339h1.5v3.25h-1.5zM168.65 339h1.5v3.25h-1.5zM341.05 339h3v3.25h-3zM345.55 339h3v3.25h-3zM366.54 339h1.5v3.25h-1.5zM380.03 339h1.5v3.25h-1.5zM387.53 339h1.5v3.25h-1.5zM395.03 339h3v3.25h-3zM402.52 339h1.5v3.25h-1.5zM414.51 339h1.5v3.25h-1.5zM417.51 339h1.5v3.25h-1.5zM425.01 339h1.5v3.25h-1.5zM450.5 339h1.5v3.25h-1.5zM510.46 339h3v3.25h-3zM535.95 339h1.5v3.25h-1.5zM162.65 303.25h1.5v3.25h-1.5zM210.62 303.25h1.5v3.25h-1.5zM523.96 300h1.5v3.25h-1.5zM75.7 296.75h1.5v3.25h-1.5zM180.64 296.75h1.5v3.25h-1.5zM513.46 296.75h1.5v3.25h-1.5zM231.61 342.25h1.5v3.25h-1.5z"/>
<path fill="#00ff80" d="M140.16 319.5h1.5v3.25h-1.5zM252.6 319.5h1.5v3.25h-1.5zM255.6 319.5h1.5v3.25h-1.5zM258.6 319.5h1.5v3.25h-1.5zM261.6 319.5h1.5v3.25h-1.5zM264.59 319.5h1.5v3.25h-1.5zM314.07 319.5h1.5v3.25h-1.5zM323.06 319.5h1.5v3.25h-1.5zM374.04 319.5h1.5v3.25h-1.5zM383.03 319.5h1.5v3.25h-1.5zM429.51 319.5h3v3.25h-3zM460.99 319.5h1.5v3.25h-1.5zM468.49 319.5h3v3.25h-3zM243.61 322.75h1.5v3.25h-1.5zM254.1 322.75h1.5v3.25h-1.5zM306.57 322.75h1.5v3.25h-1.5zM454.99 322.75h1.5v3.25h-1.5zM463.99 322.75h1.5v3.25h-1.5zM466.99 322.75h1.5v3.25h-1.5zM469.99 322.75h1.5v3.25h-1.5zM496.97 322.75h1.5v3.25h-1.5zM242.11 326h1.5v3.25h-1.5zM387.53 326h1.5v3.25h-1.5zM432.51 326h1.5v3.25h-1.5zM454.99 326h1.5v3.25h-1.5zM462.49 326h1.5v3.25h-1.5zM501.47 326h1.5v3.25h-1.5zM565.93 326h1.5v3.25h-1.5zM582.42 326h1.5v3.25h-1.5zM111.68 329.25h1.5v3.25h-1.5zM324.56 329.25h1.5v3.25h-1.5zM327.56 329.25h1.5v3.25h-1.5zM387.53 329.25h1.5v3.25h-1.5zM477.48 329.25h1.5v3.25h-1.5zM481.98 329.25h1.5v3.25h-1.5zM490.97 329.25h1.5v3.25h-1.5zM123.67 313h1.5v3.25h-1.5zM149.16 313h1.5v3.25h-1.5zM329.06 313h1.5v3.25h-1.5zM332.06 313h1.5v3.25h-1.5zM351.55 313h1.5v3.25h-1.5zM365.04 313h1.5v3.25h-1.5zM463.99 313h1.5v3.25h-1.5zM469.99 313h1.5v3.25h-1.5zM484.98 313h1.5v3.25h-1.5zM508.96 313h1.5v3.25h-1.5zM552.44 313h1.5v3.25h-1.5zM138.66 316.25h1.5v3.25h-1.5zM302.07 316.25h1.5v3.25h-1.5zM314.07 316.25h1.5v3.25h-1.5zM357.55 316.25h1.5v3.25h-1.5zM429.51 316.25h1.5v3.25h-1.5zM454.99 316.25h1.5v3.25h-1.5zM505.97 316.25h1.5v3.25h-1.5zM113.18 332.5h1.5v3.25h-1.5zM120.67 332.5h1.5v3.25h-1.5zM123.67 332.5h1.5v3.25h-1.5zM141.66 332.5h1.5v3.25h-1.5zM323.06 332.5h1.5v3.25h-1.5zM330.56 332.5h1.5v3.25h-1.5zM487.98 332.5h1.5v3.25h-1.5zM126.67 335.75h1.5v3.25h-1.5zM144.66 335.75h1.5v3.25h-1.5zM147.66 335.75h1.5v3.25h-1.5zM156.65 335.75h1.5v3.25h-1.5zM335.06 335.75h1.5v3.25h-1.5zM372.54 335.75h1.5v3.25h-1.5zM186.64 306.5h1.5v3.25h-1.5zM360.54 306.5h1.5v3.25h-1.5zM401.02 306.5h1.5v3.25h-1.5zM416.01 306.5h1.5v3.25h-1.5zM537.45 306.5h1.5v3.25h-1.5zM194.13 309.75h1.5v3.25h-1.5zM324.56 309.75h1.5v3.25h-1.5zM327.56 309.75h1.5v3.25h-1.5zM336.56 309.75h1.5v3.25h-1.5zM384.53 309.75h1.5v3.25h-1.5zM469.99 309.75h1.5v3.25h-1.5zM495.47 309.75h3v3.25h-3zM171.64 339h1.5v3.25h-1.5zM188.14 339h1.5v3.25h-1.5zM200.13 339h1.5v3.25h-1.5zM218.12 339h1.5v3.25h-1.5zM371.04 339h1.5v3.25h-1.5zM384.53 339h1.5v3.25h-1.5zM390.53 339h3v3.25h-3zM404.02 339h1.5v3.25h-1.5zM517.96 339h1.5v3.25h-1.5zM523.96 339h1.5v3.25h-1.5zM537.45 339h1.5v3.25h-1.5zM215.12 303.25h1.5v3.25h-1.5zM522.46 300h1.5v3.25h-1.5zM510.46 296.75h1.5v3.25h-1.5zM543.45 342.25h3v3.25h-3zM68.2 293.5h1.5v3.25h-1.5zM514.96 293.5h3v3.25h-3zM579.43 345.5h1.5v3.25h-1.5z"/>
<path fill="#00ff65" d="M266.09 319.5h1.5v3.25h-1.5zM317.07 319.5h1.5v3.25h-1.5zM462.49 319.5h1.5v3.25h-1.5zM483.48 319.5h1.5v3.25h-1.5zM496.97 319.5h1.5v3.25h-1.5zM502.97 319.5h1.5v3.25h-1.5zM114.68 322.75h1.5v3.25h-1.5zM251.1 322.75h1.5v3.25h-1.5zM260.1 322.75h1.5v3.25h-1.5zM266.09 322.75h1.5v3.25h-1.5zM303.57 322.75h3v3.25h-3zM387.53 322.75h1.5v3.25h-1.5zM456.49 322.75h1.5v3.25h-1.5zM460.99 322.75h1.5v3.25h-1.5zM484.98 322.75h1.5v3.25h-1.5zM492.47 322.75h1.5v3.25h-1.5zM502.97 322.75h1.5v3.25h-1.5zM531.45 322.75h1.5v3.25h-1.5zM249.6 326h1.5v3.25h-1.5zM305.07 326h1.5v3.25h-1.5zM444.5 326h1.5v3.25h-1.5zM495.47 326h1.5v3.25h-1.5zM573.43 326h1.5v3.25h-1.5zM264.59 329.25h1.5v3.25h-1.5zM329.06 329.25h1.5v3.25h-1.5zM431.01 329.25h1.5v3.25h-1.5zM495.47 329.25h1.5v3.25h-1.5zM125.17 313h1.5v3.25h-1.5zM158.15 313h1.5v3.25h-1.5zM216.62 313h1.5v3.25h-1.5zM333.56 313h1.5v3.25h-1.5zM336.56 313h1.5v3.25h-1.5zM377.03 313h1.5v3.25h-1.5zM460.99 313h3v3.25h-3zM498.47 313h1.5v3.25h-1.5zM531.45 313h1.5v3.25h-1.5zM117.67 316.25h1.5v3.25h-1.5zM317.07 316.25h1.5v3.25h-1.5zM326.06 316.25h1.5v3.25h-1.5zM342.55 316.25h1.5v3.25h-1.5zM425.01 316.25h1.5v3.25h-1.5zM460.99 316.25h1.5v3.25h-1.5zM469.99 316.25h1.5v3.25h-1.5zM483.48 316.25h1.5v3.25h-1.5zM498.47 316.25h1.5v3.25h-1.5zM531.45 316.25h1.5v3.25h-1.5zM131.17 332.5h1.5v3.25h-1.5zM134.16 332.5h1.5v3.25h-1.5zM183.64 335.75h1.5v3.25h-1.5zM248.1 335.75h1.5v3.25h-1.5zM332.06 335.75h1.5v3.25h-1.5zM336.56 335.75h1.5v3.25h-1.5zM429.51 335.75h1.5v3.25h-1.5zM525.46 335.75h1.5v3.25h-1.5zM150.66 309.75h1.5v3.25h-1.5zM218.12 309.75h1.5v3.25h-1.5zM341.05 309.75h1.5v3.25h-1.5zM368.04 309.75h1.5v3.25h-1.5zM392.03 309.75h1.5v3.25h-1.5zM408.52 309.75h1.5v3.25h-1.5zM481.98 309.75h1.5v3.25h-1.5zM553.94 309.75h1.5v3.25h-1.5zM182.14 339h1.5v3.25h-1.5zM189.64 339h1.5v3.25h-1.5zM195.63 339h1.5v3.25h-1.5zM212.12 339h1.5v3.25h-1.5zM233.11 339h3v3.25h-3zM351.55 339h1.5v3.25h-1.5zM393.53 339h1.5v3.25h-1.5zM514.96 339h1.5v3.25h-1.5zM177.64 303.25h1.5v3.25h-1.5zM198.63 303.25h3v3.25h-3zM402.52 303.25h1.5v3.25h-1.5zM417.51 303.25h1.5v3.25h-1.5zM528.45 303.25h1.5v3.25h-1.5zM71.2 300h1.5v3.25h-1.5zM71.2 296.75h1.5v3.25h-1.5zM538.95 342.25h1.5v3.25h-1.5zM550.94 342.25h1.5v3.25h-1.5zM564.43 342.25h1.5v3.25h-1.5zM573.43 342.25h1.5v3.25h-1.5zM519.46 293.5h1.5v3.25h-1.5zM574.93 345.5h1.5v3.25h-1.5zM582.42 345.5h1.5v3.25h-1.5z"/>
<path fill="#00ff4a" d="M113.18 319.5h3v3.25h-3zM129.67 319.5h1.5v3.25h-1.5zM463.99 319.5h1.5v3.25h-1.5zM466.99 319.5h1.5v3.25h-1.5zM472.98 319.5h1.5v3.25h-1.5zM477.48 319.5h1.5v3.25h-1.5zM498.47 319.5h1.5v3.25h-1.5zM567.43 319.5h1.5v3.25h-1.5zM111.68 322.75h1.5v3.25h-1.5zM117.67 322.75h1.5v3.25h-1.5zM230.11 322.75h1.5v3.25h-1.5zM321.56 322.75h1.5v3.25h-1.5zM431.01 322.75h1.5v3.25h-1.5zM465.49 322.75h1.5v3.25h-1.5zM468.49 322.75h1.5v3.25h-1.5zM474.48 322.75h1.5v3.25h-1.5zM480.48 322.75h4.5v3.25h-4.5zM495.47 322.75h1.5v3.25h-1.5zM504.47 322.75h1.5v3.25h-1.5zM577.93 322.75h1.5v3.25h-1.5zM122.17 326h1.5v3.25h-1.5zM233.11 326h1.5v3.25h-1.5zM251.1 326h1.5v3.25h-1.5zM261.6 326h1.5v3.25h-1.5zM264.59 326h1.5v3.25h-1.5zM315.57 326h1.5v3.25h-1.5zM321.56 326h3v3.25h-3zM330.56 326h1.5v3.25h-1.5zM416.01 326h1.5v3.25h-1.5zM434 326h1.5v3.25h-1.5zM466.99 326h1.5v3.25h-1.5zM499.97 326h1.5v3.25h-1.5zM117.67 329.25h1.5v3.25h-1.5zM245.11 329.25h3v3.25h-3zM261.6 329.25h1.5v3.25h-1.5zM432.51 329.25h1.5v3.25h-1.5zM450.5 329.25h1.5v3.25h-1.5zM475.98 329.25h1.5v3.25h-1.5zM492.47 329.25h1.5v3.25h-1.5zM496.97 329.25h1.5v3.25h-1.5zM119.17 313h1.5v3.25h-1.5zM321.56 313h1.5v3.25h-1.5zM390.53 313h1.5v3.25h-1.5zM480.48 313h1.5v3.25h-1.5zM487.98 313h1.5v3.25h-1.5zM495.47 313h3v3.25h-3zM558.44 313h1.5v3.25h-1.5zM113.18 316.25h1.5v3.25h-1.5zM116.17 316.25h1.5v3.25h-1.5zM128.17 316.25h1.5v3.25h-1.5zM137.16 316.25h1.5v3.25h-1.5zM261.6 316.25h1.5v3.25h-1.5zM266.09 316.25h1.5v3.25h-1.5zM398.02 316.25h1.5v3.25h-1.5zM459.49 316.25h1.5v3.25h-1.5zM463.99 316.25h1.5v3.25h-1.5zM492.47 316.25h1.5v3.25h-1.5zM499.97 316.25h1.5v3.25h-1.5zM564.43 316.25h1.5v3.25h-1.5zM128.17 332.5h1.5v3.25h-1.5zM138.66 332.5h1.5v3.25h-1.5zM416.01 332.5h1.5v3.25h-1.5zM431.01 332.5h1.5v3.25h-1.5zM434 332.5h1.5v3.25h-1.5zM573.43 332.5h1.5v3.25h-1.5zM125.17 335.75h1.5v3.25h-1.5zM143.16 335.75h1.5v3.25h-1.5zM149.16 335.75h1.5v3.25h-1.5zM152.16 335.75h1.5v3.25h-1.5zM165.65 335.75h3v3.25h-3zM186.64 335.75h1.5v3.25h-1.5zM398.02 335.75h1.5v3.25h-1.5zM419.01 335.75h3v3.25h-3zM510.46 335.75h1.5v3.25h-1.5zM522.46 335.75h1.5v3.25h-1.5zM528.45 335.75h3v3.25h-3zM161.15 306.5h1.5v3.25h-1.5zM345.55 306.5h1.5v3.25h-1.5zM414.51 306.5h1.5v3.25h-1.5zM122.17 309.75h1.5v3.25h-1.5zM155.15 309.75h1.5v3.25h-1.5zM348.55 309.75h3v3.25h-3zM363.54 309.75h1.5v3.25h-1.5zM420.51 309.75h1.5v3.25h-1.5zM197.13 339h1.5v3.25h-1.5zM207.63 339h1.5v3.25h-1.5zM362.04 339h1.5v3.25h-1.5zM368.04 339h1.5v3.25h-1.5zM398.02 339h1.5v3.25h-1.5zM407.02 339h3v3.25h-3zM426.51 339h1.5v3.25h-1.5zM519.46 339h3v3.25h-3zM582.42 339h1.5v3.25h-1.5zM168.65 303.25h1.5v3.25h-1.5zM176.14 303.25h1.5v3.25h-1.5zM344.05 303.25h1.5v3.25h-1.5zM508.96 300h1.5v3.25h-1.5zM508.96 296.75h1.5v3.25h-1.5zM360.54 342.25h1.5v3.25h-1.5zM532.95 342.25h3v3.25h-3zM525.46 293.5h1.5v3.25h-1.5zM568.93 345.5h1.5v3.25h-1.5zM576.43 345.5h1.5v3.25h-1.5z"/>
<path fill="#00ff2f" d="M116.17 319.5h3v3.25h-3zM120.67 319.5h1.5v3.25h-1.5zM131.17 319.5h1.5v3.25h-1.5zM302.07 319.5h1.5v3.25h-1.5zM320.07 319.5h3v3.25h-3zM326.06 319.5h1.5v3.25h-1.5zM465.49 319.5h1.5v3.25h-1.5zM471.48 319.5h1.5v3.25h-1.5zM475.98 319.5h1.5v3.25h-1.5zM484.98 319.5h1.5v3.25h-1.5zM489.47 319.5h3v3.25h-3zM495.47 319.5h1.5v3.25h-1.5zM499.97 319.5h1.5v3.25h-1.5zM504.47 319.5h1.5v3.25h-1.5zM113.18 322.75h1.5v3.25h-1.5zM264.59 322.75h1.5v3.25h-1.5zM315.57 322.75h3v3.25h-3zM327.56 322.75h4.5v3.25h-4.5zM336.56 322.75h1.5v3.25h-1.5zM472.98 322.75h1.5v3.25h-1.5zM119.17 326h3v3.25h-3zM258.6 326h1.5v3.25h-1.5zM266.09 326h1.5v3.25h-1.5zM327.56 326h1.5v3.25h-1.5zM429.51 326h1.5v3.25h-1.5zM490.97 326h1.5v3.25h-1.5zM496.97 326h1.5v3.25h-1.5zM502.97 326h1.5v3.25h-1.5zM234.61 329.25h1.5v3.25h-1.5zM248.1 329.25h1.5v3.25h-1.5zM252.6 329.25h1.5v3.25h-1.5zM330.56 329.25h1.5v3.25h-1.5zM336.56 329.25h3v3.25h-3zM474.48 329.25h1.5v3.25h-1.5zM484.98 329.25h1.5v3.25h-1.5zM580.93 329.25h1.5v3.25h-1.5zM117.67 313h1.5v3.25h-1.5zM159.65 313h1.5v3.25h-1.5zM317.07 313h1.5v3.25h-1.5zM330.56 313h1.5v3.25h-1.5zM339.55 313h1.5v3.25h-1.5zM347.05 313h1.5v3.25h-1.5zM369.54 313h1.5v3.25h-1.5zM380.03 313h1.5v3.25h-1.5zM407.02 313h1.5v3.25h-1.5zM474.48 313h1.5v3.25h-1.5zM481.98 313h3v3.25h-3zM504.47 313h1.5v3.25h-1.5zM507.46 313h1.5v3.25h-1.5zM119.17 316.25h1.5v3.25h-1.5zM131.17 316.25h1.5v3.25h-1.5zM134.16 316.25h1.5v3.25h-1.5zM147.66 316.25h1.5v3.25h-1.5zM318.57 316.25h1.5v3.25h-1.5zM321.56 316.25h1.5v3.25h-1.5zM324.56 316.25h1.5v3.25h-1.5zM338.06 316.25h1.5v3.25h-1.5zM372.54 316.25h1.5v3.25h-1.5zM419.01 316.25h1.5v3.25h-1.5zM462.49 316.25h1.5v3.25h-1.5zM465.49 316.25h1.5v3.25h-1.5zM471.48 316.25h3v3.25h-3zM477.48 316.25h1.5v3.25h-1.5zM480.48 316.25h1.5v3.25h-1.5zM495.47 316.25h1.5v3.25h-1.5zM502.97 316.25h3v3.25h-3zM137.16 332.5h1.5v3.25h-1.5zM255.6 332.5h1.5v3.25h-1.5zM258.6 332.5h1.5v3.25h-1.5zM318.57 332.5h1.5v3.25h-1.5zM336.56 332.5h4.5v3.25h-4.5zM432.51 332.5h1.5v3.25h-1.5zM525.46 332.5h1.5v3.25h-1.5zM146.16 335.75h1.5v3.25h-1.5zM155.15 335.75h1.5v3.25h-1.5zM162.65 335.75h1.5v3.25h-1.5zM189.64 335.75h1.5v3.25h-1.5zM192.63 335.75h1.5v3.25h-1.5zM206.13 335.75h1.5v3.25h-1.5zM215.12 335.75h1.5v3.25h-1.5zM236.11 335.75h1.5v3.25h-1.5zM246.6 335.75h1.5v3.25h-1.5zM350.05 335.75h1.5v3.25h-1.5zM375.54 335.75h1.5v3.25h-1.5zM378.53 335.75h1.5v3.25h-1.5zM381.53 335.75h1.5v3.25h-1.5zM387.53 335.75h1.5v3.25h-1.5zM404.02 335.75h1.5v3.25h-1.5zM417.51 335.75h1.5v3.25h-1.5zM450.5 335.75h1.5v3.25h-1.5zM540.45 335.75h1.5v3.25h-1.5zM354.55 306.5h1.5v3.25h-1.5zM405.52 306.5h1.5v3.25h-1.5zM411.52 306.5h1.5v3.25h-1.5zM417.51 306.5h1.5v3.25h-1.5zM507.46 306.5h1.5v3.25h-1.5zM534.45 306.5h3v3.25h-3zM541.95 306.5h1.5v3.25h-1.5zM395.03 309.75h1.5v3.25h-1.5zM404.02 309.75h1.5v3.25h-1.5zM416.01 309.75h1.5v3.25h-1.5zM471.48 309.75h1.5v3.25h-1.5zM507.46 309.75h1.5v3.25h-1.5zM531.45 309.75h1.5v3.25h-1.5zM540.45 309.75h1.5v3.25h-1.5zM185.14 339h1.5v3.25h-1.5zM201.63 339h3v3.25h-3zM227.11 339h1.5v3.25h-1.5zM363.54 339h1.5v3.25h-1.5zM401.02 339h1.5v3.25h-1.5zM405.52 339h1.5v3.25h-1.5zM174.64 303.25h1.5v3.25h-1.5zM507.46 303.25h1.5v3.25h-1.5zM170.15 300h1.5v3.25h-1.5zM201.63 300h1.5v3.25h-1.5zM510.46 300h1.5v3.25h-1.5zM69.7 296.75h1.5v3.25h-1.5zM577.93 342.25h1.5v3.25h-1.5zM517.96 293.5h1.5v3.25h-1.5z"/>
<path fill="#00ff14" d="M119.17 319.5h1.5v3.25h-1.5zM126.67 319.5h1.5v3.25h-1.5zM318.57 319.5h1.5v3.25h-1.5zM329.06 319.5h3v3.25h-3zM336.56 319.5h1.5v3.25h-1.5zM449 319.5h1.5v3.25h-1.5zM480.48 319.5h1.5v3.25h-1.5zM501.47 319.5h1.5v3.25h-1.5zM120.67 322.75h1.5v3.25h-1.5zM227.11 322.75h1.5v3.25h-1.5zM252.6 322.75h1.5v3.25h-1.5zM255.6 322.75h1.5v3.25h-1.5zM318.57 322.75h3v3.25h-3zM475.98 322.75h3v3.25h-3zM490.97 322.75h1.5v3.25h-1.5zM116.17 326h1.5v3.25h-1.5zM129.67 326h1.5v3.25h-1.5zM228.61 326h1.5v3.25h-1.5zM236.11 326h1.5v3.25h-1.5zM324.56 326h1.5v3.25h-1.5zM332.06 326h1.5v3.25h-1.5zM338.06 326h1.5v3.25h-1.5zM431.01 326h1.5v3.25h-1.5zM443 326h1.5v3.25h-1.5zM474.48 326h1.5v3.25h-1.5zM480.48 326h1.5v3.25h-1.5zM484.98 326h1.5v3.25h-1.5zM492.47 326h1.5v3.25h-1.5zM119.17 329.25h6v3.25h-6zM236.11 329.25h1.5v3.25h-1.5zM249.6 329.25h1.5v3.25h-1.5zM255.6 329.25h1.5v3.25h-1.5zM258.6 329.25h1.5v3.25h-1.5zM443 329.25h1.5v3.25h-1.5zM446 329.25h1.5v3.25h-1.5zM579.43 329.25h1.5v3.25h-1.5zM144.66 313h1.5v3.25h-1.5zM219.62 313h1.5v3.25h-1.5zM359.04 313h1.5v3.25h-1.5zM384.53 313h1.5v3.25h-1.5zM416.01 313h1.5v3.25h-1.5zM477.48 313h1.5v3.25h-1.5zM156.65 316.25h1.5v3.25h-1.5zM484.98 316.25h1.5v3.25h-1.5zM489.47 316.25h3v3.25h-3zM155.15 332.5h1.5v3.25h-1.5zM236.11 332.5h1.5v3.25h-1.5zM248.1 332.5h1.5v3.25h-1.5zM279.59 332.5h1.5v3.25h-1.5zM387.53 332.5h1.5v3.25h-1.5zM419.01 332.5h1.5v3.25h-1.5zM450.5 332.5h1.5v3.25h-1.5zM513.46 332.5h1.5v3.25h-1.5zM531.45 332.5h1.5v3.25h-1.5zM570.43 332.5h1.5v3.25h-1.5zM140.16 335.75h1.5v3.25h-1.5zM158.15 335.75h1.5v3.25h-1.5zM168.65 335.75h1.5v3.25h-1.5zM171.64 335.75h1.5v3.25h-1.5zM204.63 335.75h1.5v3.25h-1.5zM233.11 335.75h3v3.25h-3zM243.61 335.75h1.5v3.25h-1.5zM342.55 335.75h1.5v3.25h-1.5zM348.55 335.75h1.5v3.25h-1.5zM396.52 335.75h1.5v3.25h-1.5zM413.02 335.75h3v3.25h-3zM425.01 335.75h1.5v3.25h-1.5zM428.01 335.75h1.5v3.25h-1.5zM431.01 335.75h1.5v3.25h-1.5zM446 335.75h1.5v3.25h-1.5zM516.46 335.75h1.5v3.25h-1.5zM526.95 335.75h1.5v3.25h-1.5zM573.43 335.75h1.5v3.25h-1.5zM162.65 306.5h1.5v3.25h-1.5zM183.64 306.5h1.5v3.25h-1.5zM189.64 306.5h1.5v3.25h-1.5zM221.12 309.75h1.5v3.25h-1.5zM344.05 309.75h1.5v3.25h-1.5zM396.52 309.75h1.5v3.25h-1.5zM505.97 309.75h1.5v3.25h-1.5zM180.64 339h1.5v3.25h-1.5zM222.62 339h3v3.25h-3zM353.05 339h1.5v3.25h-1.5zM359.04 339h1.5v3.25h-1.5zM573.43 339h1.5v3.25h-1.5zM171.64 303.25h1.5v3.25h-1.5zM195.63 303.25h1.5v3.25h-1.5zM356.05 303.25h1.5v3.25h-1.5zM505.97 303.25h1.5v3.25h-1.5zM508.96 303.25h1.5v3.25h-1.5zM549.44 303.25h1.5v3.25h-1.5zM511.96 300h1.5v3.25h-1.5zM529.95 300h1.5v3.25h-1.5zM552.44 342.25h1.5v3.25h-1.5zM556.94 342.25h1.5v3.25h-1.5zM570.43 342.25h1.5v3.25h-1.5zM582.42 342.25h1.5v3.25h-1.5z"/>
<path fill="#09ff00" d="M123.67 319.5h1.5v3.25h-1.5zM132.67 319.5h1.5v3.25h-1.5zM135.66 319.5h1.5v3.25h-1.5zM324.56 319.5h1.5v3.25h-1.5zM335.06 319.5h1.5v3.25h-1.5zM338.06 319.5h3v3.25h-3zM342.55 319.5h1.5v3.25h-1.5zM381.53 319.5h1.5v3.25h-1.5zM416.01 319.5h1.5v3.25h-1.5zM419.01 319.5h1.5v3.25h-1.5zM459.49 319.5h1.5v3.25h-1.5zM474.48 319.5h1.5v3.25h-1.5zM481.98 319.5h1.5v3.25h-1.5zM531.45 319.5h1.5v3.25h-1.5zM119.17 322.75h1.5v3.25h-1.5zM131.17 322.75h1.5v3.25h-1.5zM258.6 322.75h1.5v3.25h-1.5zM279.59 322.75h1.5v3.25h-1.5zM323.06 322.75h1.5v3.25h-1.5zM326.06 322.75h1.5v3.25h-1.5zM332.06 322.75h1.5v3.25h-1.5zM471.48 322.75h1.5v3.25h-1.5zM489.47 322.75h1.5v3.25h-1.5zM499.97 322.75h3v3.25h-3zM113.18 326h1.5v3.25h-1.5zM134.16 326h1.5v3.25h-1.5zM225.62 326h1.5v3.25h-1.5zM243.61 326h1.5v3.25h-1.5zM260.1 326h1.5v3.25h-1.5zM279.59 326h1.5v3.25h-1.5zM320.07 326h1.5v3.25h-1.5zM425.01 326h1.5v3.25h-1.5zM477.48 326h1.5v3.25h-1.5zM481.98 326h3v3.25h-3zM531.45 326h1.5v3.25h-1.5zM128.17 329.25h1.5v3.25h-1.5zM131.17 329.25h1.5v3.25h-1.5zM230.11 329.25h1.5v3.25h-1.5zM233.11 329.25h1.5v3.25h-1.5zM323.06 329.25h1.5v3.25h-1.5zM326.06 329.25h1.5v3.25h-1.5zM335.06 329.25h1.5v3.25h-1.5zM339.55 329.25h1.5v3.25h-1.5zM342.55 329.25h1.5v3.25h-1.5zM416.01 329.25h1.5v3.25h-1.5zM425.01 329.25h1.5v3.25h-1.5zM480.48 329.25h1.5v3.25h-1.5zM489.47 329.25h1.5v3.25h-1.5zM122.17 313h1.5v3.25h-1.5zM153.65 313h1.5v3.25h-1.5zM213.62 313h1.5v3.25h-1.5zM324.56 313h1.5v3.25h-1.5zM327.56 313h1.5v3.25h-1.5zM335.06 313h1.5v3.25h-1.5zM350.05 313h1.5v3.25h-1.5zM371.04 313h1.5v3.25h-1.5zM499.97 313h1.5v3.25h-1.5zM538.95 313h1.5v3.25h-1.5zM141.66 316.25h1.5v3.25h-1.5zM152.16 316.25h1.5v3.25h-1.5zM327.56 316.25h3v3.25h-3zM335.06 316.25h3v3.25h-3zM389.03 316.25h1.5v3.25h-1.5zM393.53 316.25h1.5v3.25h-1.5zM416.01 316.25h1.5v3.25h-1.5zM426.51 316.25h1.5v3.25h-1.5zM481.98 316.25h1.5v3.25h-1.5zM125.17 332.5h1.5v3.25h-1.5zM132.67 332.5h1.5v3.25h-1.5zM164.15 332.5h1.5v3.25h-1.5zM234.61 332.5h1.5v3.25h-1.5zM243.61 332.5h1.5v3.25h-1.5zM246.6 332.5h1.5v3.25h-1.5zM333.56 332.5h1.5v3.25h-1.5zM344.05 332.5h1.5v3.25h-1.5zM348.55 332.5h1.5v3.25h-1.5zM425.01 332.5h1.5v3.25h-1.5zM161.15 335.75h1.5v3.25h-1.5zM170.15 335.75h1.5v3.25h-1.5zM173.14 335.75h1.5v3.25h-1.5zM221.12 335.75h1.5v3.25h-1.5zM242.11 335.75h1.5v3.25h-1.5zM345.55 335.75h1.5v3.25h-1.5zM351.55 335.75h1.5v3.25h-1.5zM368.04 335.75h1.5v3.25h-1.5zM384.53 335.75h1.5v3.25h-1.5zM422.01 335.75h3v3.25h-3zM449 335.75h1.5v3.25h-1.5zM511.96 335.75h1.5v3.25h-1.5zM517.96 335.75h1.5v3.25h-1.5zM537.45 335.75h1.5v3.25h-1.5zM570.43 335.75h1.5v3.25h-1.5zM195.63 306.5h1.5v3.25h-1.5zM344.05 306.5h1.5v3.25h-1.5zM508.96 306.5h3v3.25h-3zM526.95 306.5h1.5v3.25h-1.5zM131.17 309.75h1.5v3.25h-1.5zM182.14 309.75h1.5v3.25h-1.5zM188.14 309.75h1.5v3.25h-1.5zM192.63 309.75h1.5v3.25h-1.5zM345.55 309.75h1.5v3.25h-1.5zM362.04 309.75h1.5v3.25h-1.5zM366.54 309.75h1.5v3.25h-1.5zM508.96 309.75h1.5v3.25h-1.5zM547.94 309.75h1.5v3.25h-1.5zM176.14 339h3v3.25h-3zM198.63 339h1.5v3.25h-1.5zM230.11 339h1.5v3.25h-1.5zM365.04 339h1.5v3.25h-1.5zM369.54 339h1.5v3.25h-1.5zM383.03 339h1.5v3.25h-1.5zM570.43 339h1.5v3.25h-1.5zM579.43 339h1.5v3.25h-1.5zM204.63 303.25h1.5v3.25h-1.5zM206.13 296.75h1.5v3.25h-1.5zM514.96 296.75h3v3.25h-3zM525.46 296.75h1.5v3.25h-1.5zM567.43 342.25h1.5v3.25h-1.5zM520.96 293.5h1.5v3.25h-1.5zM571.93 345.5h1.5v3.25h-1.5zM580.93 345.5h1.5v3.25h-1.5z"/>
<path fill="#2fff00" d="M125.17 319.5h1.5v3.25h-1.5zM143.16 319.5h1.5v3.25h-1.5zM332.06 319.5h1.5v3.25h-1.5zM347.05 319.5h1.5v3.25h-1.5zM386.03 319.5h1.5v3.25h-1.5zM492.47 319.5h1.5v3.25h-1.5zM132.67 322.75h1.5v3.25h-1.5zM135.66 322.75h3v3.25h-3zM324.56 322.75h1.5v3.25h-1.5zM342.55 322.75h1.5v3.25h-1.5zM416.01 322.75h1.5v3.25h-1.5zM429.51 322.75h1.5v3.25h-1.5zM487.98 322.75h1.5v3.25h-1.5zM568.93 322.75h1.5v3.25h-1.5zM114.68 326h1.5v3.25h-1.5zM123.67 326h3v3.25h-3zM128.17 326h1.5v3.25h-1.5zM153.65 326h1.5v3.25h-1.5zM252.6 326h1.5v3.25h-1.5zM255.6 326h3v3.25h-3zM318.57 326h1.5v3.25h-1.5zM342.55 326h1.5v3.25h-1.5zM381.53 326h1.5v3.25h-1.5zM419.01 326h1.5v3.25h-1.5zM475.98 326h1.5v3.25h-1.5zM489.47 326h1.5v3.25h-1.5zM574.93 326h1.5v3.25h-1.5zM113.18 329.25h1.5v3.25h-1.5zM125.17 329.25h1.5v3.25h-1.5zM129.67 329.25h1.5v3.25h-1.5zM132.67 329.25h1.5v3.25h-1.5zM135.66 329.25h3v3.25h-3zM146.16 329.25h1.5v3.25h-1.5zM221.12 329.25h1.5v3.25h-1.5zM242.11 329.25h3v3.25h-3zM279.59 329.25h1.5v3.25h-1.5zM332.06 329.25h3v3.25h-3zM429.51 329.25h1.5v3.25h-1.5zM487.98 329.25h1.5v3.25h-1.5zM573.43 329.25h1.5v3.25h-1.5zM576.43 329.25h1.5v3.25h-1.5zM582.42 329.25h1.5v3.25h-1.5zM131.17 313h1.5v3.25h-1.5zM392.03 313h1.5v3.25h-1.5zM120.67 316.25h1.5v3.25h-1.5zM123.67 316.25h1.5v3.25h-1.5zM330.56 316.25h1.5v3.25h-1.5zM339.55 316.25h1.5v3.25h-1.5zM369.54 316.25h1.5v3.25h-1.5zM390.53 316.25h1.5v3.25h-1.5zM474.48 316.25h3v3.25h-3zM126.67 332.5h1.5v3.25h-1.5zM129.67 332.5h1.5v3.25h-1.5zM135.66 332.5h1.5v3.25h-1.5zM233.11 332.5h1.5v3.25h-1.5zM242.11 332.5h1.5v3.25h-1.5zM245.11 332.5h1.5v3.25h-1.5zM342.55 332.5h1.5v3.25h-1.5zM374.04 332.5h1.5v3.25h-1.5zM386.03 332.5h1.5v3.25h-1.5zM429.51 332.5h1.5v3.25h-1.5zM444.5 332.5h3v3.25h-3zM580.93 332.5h3v3.25h-3zM159.65 335.75h1.5v3.25h-1.5zM191.13 335.75h1.5v3.25h-1.5zM194.13 335.75h1.5v3.25h-1.5zM209.12 335.75h1.5v3.25h-1.5zM245.11 335.75h1.5v3.25h-1.5zM249.6 335.75h1.5v3.25h-1.5zM341.05 335.75h1.5v3.25h-1.5zM363.54 335.75h1.5v3.25h-1.5zM371.04 335.75h1.5v3.25h-1.5zM380.03 335.75h1.5v3.25h-1.5zM395.03 335.75h1.5v3.25h-1.5zM411.52 335.75h1.5v3.25h-1.5zM443 335.75h3v3.25h-3zM447.5 335.75h1.5v3.25h-1.5zM535.95 335.75h1.5v3.25h-1.5zM582.42 335.75h1.5v3.25h-1.5zM165.65 306.5h1.5v3.25h-1.5zM173.14 306.5h1.5v3.25h-1.5zM185.14 306.5h1.5v3.25h-1.5zM207.63 306.5h3v3.25h-3zM215.12 306.5h1.5v3.25h-1.5zM174.64 339h1.5v3.25h-1.5zM219.62 339h1.5v3.25h-1.5zM228.61 339h1.5v3.25h-1.5zM389.03 339h1.5v3.25h-1.5zM541.95 339h1.5v3.25h-1.5zM577.93 339h1.5v3.25h-1.5zM580.93 339h1.5v3.25h-1.5zM167.15 303.25h1.5v3.25h-1.5zM179.14 303.25h1.5v3.25h-1.5zM180.64 300h1.5v3.25h-1.5zM525.46 300h1.5v3.25h-1.5zM519.46 296.75h1.5v3.25h-1.5zM558.44 342.25h1.5v3.25h-1.5zM562.94 342.25h1.5v3.25h-1.5zM565.93 342.25h1.5v3.25h-1.5zM574.93 342.25h1.5v3.25h-1.5z"/>
<path fill="#55ff00" d="M122.17 319.5h1.5v3.25h-1.5zM134.16 319.5h1.5v3.25h-1.5zM222.62 319.5h1.5v3.25h-1.5zM327.56 319.5h1.5v3.25h-1.5zM341.05 319.5h1.5v3.25h-1.5zM344.05 319.5h1.5v3.25h-1.5zM351.55 319.5h1.5v3.25h-1.5zM377.03 319.5h1.5v3.25h-1.5zM425.01 319.5h1.5v3.25h-1.5zM486.48 319.5h1.5v3.25h-1.5zM564.43 319.5h1.5v3.25h-1.5zM116.17 322.75h1.5v3.25h-1.5zM123.67 322.75h3v3.25h-3zM129.67 322.75h1.5v3.25h-1.5zM153.65 322.75h1.5v3.25h-1.5zM158.15 322.75h1.5v3.25h-1.5zM338.06 322.75h3v3.25h-3zM374.04 322.75h1.5v3.25h-1.5zM386.03 322.75h1.5v3.25h-1.5zM486.48 322.75h1.5v3.25h-1.5zM498.47 322.75h1.5v3.25h-1.5zM525.46 322.75h1.5v3.25h-1.5zM131.17 326h1.5v3.25h-1.5zM135.66 326h1.5v3.25h-1.5zM141.66 326h1.5v3.25h-1.5zM146.16 326h1.5v3.25h-1.5zM149.16 326h1.5v3.25h-1.5zM224.12 326h1.5v3.25h-1.5zM230.11 326h1.5v3.25h-1.5zM254.1 326h1.5v3.25h-1.5zM326.06 326h1.5v3.25h-1.5zM329.06 326h1.5v3.25h-1.5zM336.56 326h1.5v3.25h-1.5zM347.05 326h1.5v3.25h-1.5zM386.03 326h1.5v3.25h-1.5zM428.01 326h1.5v3.25h-1.5zM449 326h1.5v3.25h-1.5zM525.46 326h1.5v3.25h-1.5zM141.66 329.25h1.5v3.25h-1.5zM153.65 329.25h1.5v3.25h-1.5zM225.62 329.25h1.5v3.25h-1.5zM320.07 329.25h1.5v3.25h-1.5zM341.05 329.25h1.5v3.25h-1.5zM374.04 329.25h3v3.25h-3zM486.48 329.25h1.5v3.25h-1.5zM531.45 329.25h1.5v3.25h-1.5zM571.93 329.25h1.5v3.25h-1.5zM577.93 329.25h1.5v3.25h-1.5zM146.16 313h1.5v3.25h-1.5zM344.05 313h1.5v3.25h-1.5zM348.55 313h1.5v3.25h-1.5zM378.53 313h1.5v3.25h-1.5zM471.48 313h1.5v3.25h-1.5zM122.17 316.25h1.5v3.25h-1.5zM132.67 316.25h1.5v3.25h-1.5zM144.66 316.25h1.5v3.25h-1.5zM149.16 316.25h1.5v3.25h-1.5zM158.15 316.25h1.5v3.25h-1.5zM332.06 316.25h3v3.25h-3zM365.04 316.25h1.5v3.25h-1.5zM377.03 316.25h1.5v3.25h-1.5zM413.02 316.25h1.5v3.25h-1.5zM487.98 316.25h1.5v3.25h-1.5zM550.94 316.25h1.5v3.25h-1.5zM156.65 332.5h1.5v3.25h-1.5zM161.15 332.5h1.5v3.25h-1.5zM227.11 332.5h1.5v3.25h-1.5zM230.11 332.5h1.5v3.25h-1.5zM249.6 332.5h4.5v3.25h-4.5zM332.06 332.5h1.5v3.25h-1.5zM341.05 332.5h1.5v3.25h-1.5zM347.05 332.5h1.5v3.25h-1.5zM383.03 332.5h1.5v3.25h-1.5zM390.53 332.5h1.5v3.25h-1.5zM398.02 332.5h1.5v3.25h-1.5zM410.02 332.5h1.5v3.25h-1.5zM443 332.5h1.5v3.25h-1.5zM447.5 332.5h3v3.25h-3zM510.46 332.5h3v3.25h-3zM567.43 332.5h1.5v3.25h-1.5zM577.93 332.5h1.5v3.25h-1.5zM185.14 335.75h1.5v3.25h-1.5zM210.62 335.75h1.5v3.25h-1.5zM227.11 335.75h6v3.25h-6zM347.05 335.75h1.5v3.25h-1.5zM374.04 335.75h1.5v3.25h-1.5zM377.03 335.75h1.5v3.25h-1.5zM399.52 335.75h1.5v3.25h-1.5zM426.51 335.75h1.5v3.25h-1.5zM514.96 335.75h1.5v3.25h-1.5zM523.96 335.75h1.5v3.25h-1.5zM579.43 335.75h1.5v3.25h-1.5zM164.15 306.5h1.5v3.25h-1.5zM171.64 306.5h1.5v3.25h-1.5zM198.63 306.5h1.5v3.25h-1.5zM402.52 306.5h1.5v3.25h-1.5zM410.02 306.5h1.5v3.25h-1.5zM505.97 306.5h1.5v3.25h-1.5zM543.45 306.5h1.5v3.25h-1.5zM161.15 309.75h3v3.25h-3zM212.12 309.75h1.5v3.25h-1.5zM354.55 309.75h1.5v3.25h-1.5zM411.52 309.75h1.5v3.25h-1.5zM423.51 309.75h1.5v3.25h-1.5zM231.61 339h1.5v3.25h-1.5zM354.55 339h1.5v3.25h-1.5zM203.13 303.25h1.5v3.25h-1.5zM523.96 303.25h1.5v3.25h-1.5zM513.46 300h1.5v3.25h-1.5zM549.44 342.25h1.5v3.25h-1.5zM553.94 342.25h3v3.25h-3zM559.94 342.25h3v3.25h-3z"/>
<path fill="#7aff00" d="M128.17 319.5h1.5v3.25h-1.5zM137.16 319.5h3v3.25h-3zM156.65 319.5h1.5v3.25h-1.5zM165.65 319.5h1.5v3.25h-1.5zM348.55 319.5h1.5v3.25h-1.5zM375.54 319.5h1.5v3.25h-1.5zM384.53 319.5h1.5v3.25h-1.5zM487.98 319.5h1.5v3.25h-1.5zM525.46 319.5h1.5v3.25h-1.5zM556.94 319.5h1.5v3.25h-1.5zM122.17 322.75h1.5v3.25h-1.5zM128.17 322.75h1.5v3.25h-1.5zM138.66 322.75h1.5v3.25h-1.5zM147.66 322.75h1.5v3.25h-1.5zM152.16 322.75h1.5v3.25h-1.5zM344.05 322.75h1.5v3.25h-1.5zM347.05 322.75h1.5v3.25h-1.5zM350.05 322.75h1.5v3.25h-1.5zM369.54 322.75h1.5v3.25h-1.5zM375.54 322.75h1.5v3.25h-1.5zM381.53 322.75h1.5v3.25h-1.5zM398.02 322.75h1.5v3.25h-1.5zM419.01 322.75h1.5v3.25h-1.5zM449 322.75h1.5v3.25h-1.5zM132.67 326h1.5v3.25h-1.5zM137.16 326h1.5v3.25h-1.5zM147.66 326h1.5v3.25h-1.5zM156.65 326h1.5v3.25h-1.5zM339.55 326h1.5v3.25h-1.5zM345.55 326h1.5v3.25h-1.5zM369.54 326h1.5v3.25h-1.5zM375.54 326h1.5v3.25h-1.5zM383.03 326h1.5v3.25h-1.5zM389.03 326h1.5v3.25h-1.5zM393.53 326h1.5v3.25h-1.5zM486.48 326h1.5v3.25h-1.5zM576.43 326h3v3.25h-3zM126.67 329.25h1.5v3.25h-1.5zM134.16 329.25h1.5v3.25h-1.5zM140.16 329.25h1.5v3.25h-1.5zM149.16 329.25h1.5v3.25h-1.5zM155.15 329.25h4.5v3.25h-4.5zM227.11 329.25h1.5v3.25h-1.5zM251.1 329.25h1.5v3.25h-1.5zM318.57 329.25h1.5v3.25h-1.5zM344.05 329.25h1.5v3.25h-1.5zM348.55 329.25h1.5v3.25h-1.5zM381.53 329.25h1.5v3.25h-1.5zM392.03 329.25h1.5v3.25h-1.5zM419.01 329.25h1.5v3.25h-1.5zM525.46 329.25h1.5v3.25h-1.5zM155.15 313h1.5v3.25h-1.5zM218.12 313h1.5v3.25h-1.5zM341.05 313h1.5v3.25h-1.5zM353.05 313h1.5v3.25h-1.5zM404.02 313h1.5v3.25h-1.5zM422.01 313h1.5v3.25h-1.5zM505.97 313h1.5v3.25h-1.5zM125.17 316.25h1.5v3.25h-1.5zM171.64 316.25h1.5v3.25h-1.5zM216.62 316.25h1.5v3.25h-1.5zM219.62 316.25h1.5v3.25h-1.5zM341.05 316.25h1.5v3.25h-1.5zM344.05 316.25h1.5v3.25h-1.5zM348.55 316.25h1.5v3.25h-1.5zM392.03 316.25h1.5v3.25h-1.5zM399.52 316.25h1.5v3.25h-1.5zM525.46 316.25h1.5v3.25h-1.5zM146.16 332.5h1.5v3.25h-1.5zM149.16 332.5h3v3.25h-3zM162.65 332.5h1.5v3.25h-1.5zM225.62 332.5h1.5v3.25h-1.5zM231.61 332.5h1.5v3.25h-1.5zM335.06 332.5h1.5v3.25h-1.5zM345.55 332.5h1.5v3.25h-1.5zM350.05 332.5h3v3.25h-3zM378.53 332.5h1.5v3.25h-1.5zM384.53 332.5h1.5v3.25h-1.5zM389.03 332.5h1.5v3.25h-1.5zM428.01 332.5h1.5v3.25h-1.5zM529.95 332.5h1.5v3.25h-1.5zM576.43 332.5h1.5v3.25h-1.5zM579.43 332.5h1.5v3.25h-1.5zM179.14 335.75h1.5v3.25h-1.5zM182.14 335.75h1.5v3.25h-1.5zM188.14 335.75h1.5v3.25h-1.5zM195.63 335.75h3v3.25h-3zM203.13 335.75h1.5v3.25h-1.5zM218.12 335.75h1.5v3.25h-1.5zM356.05 335.75h1.5v3.25h-1.5zM369.54 335.75h1.5v3.25h-1.5zM393.53 335.75h1.5v3.25h-1.5zM401.02 335.75h3v3.25h-3zM580.93 335.75h1.5v3.25h-1.5zM200.13 306.5h1.5v3.25h-1.5zM210.62 306.5h1.5v3.25h-1.5zM532.95 306.5h1.5v3.25h-1.5zM185.14 309.75h1.5v3.25h-1.5zM191.13 309.75h1.5v3.25h-1.5zM401.02 309.75h1.5v3.25h-1.5zM414.51 309.75h1.5v3.25h-1.5zM526.95 309.75h1.5v3.25h-1.5zM532.95 309.75h1.5v3.25h-1.5zM535.95 309.75h1.5v3.25h-1.5zM225.62 339h1.5v3.25h-1.5zM532.95 339h1.5v3.25h-1.5zM511.96 303.25h1.5v3.25h-1.5zM522.46 303.25h1.5v3.25h-1.5zM568.93 342.25h1.5v3.25h-1.5zM576.43 342.25h1.5v3.25h-1.5zM579.43 342.25h3v3.25h-3zM547.94 345.5h1.5v3.25h-1.5z"/>
<path fill="#a0ff00" d="M146.16 319.5h1.5v3.25h-1.5zM158.15 319.5h1.5v3.25h-1.5zM221.12 319.5h1.5v3.25h-1.5zM333.56 319.5h1.5v3.25h-1.5zM345.55 319.5h1.5v3.25h-1.5zM392.03 319.5h1.5v3.25h-1.5zM396.52 319.5h1.5v3.25h-1.5zM529.95 319.5h1.5v3.25h-1.5zM562.94 319.5h1.5v3.25h-1.5zM134.16 322.75h1.5v3.25h-1.5zM140.16 322.75h1.5v3.25h-1.5zM144.66 322.75h3v3.25h-3zM155.15 322.75h1.5v3.25h-1.5zM333.56 322.75h3v3.25h-3zM341.05 322.75h1.5v3.25h-1.5zM348.55 322.75h1.5v3.25h-1.5zM378.53 322.75h1.5v3.25h-1.5zM383.03 322.75h3v3.25h-3zM395.03 322.75h1.5v3.25h-1.5zM417.51 322.75h1.5v3.25h-1.5zM425.01 322.75h1.5v3.25h-1.5zM567.43 322.75h1.5v3.25h-1.5zM126.67 326h1.5v3.25h-1.5zM138.66 326h1.5v3.25h-1.5zM143.16 326h1.5v3.25h-1.5zM158.15 326h1.5v3.25h-1.5zM227.11 326h1.5v3.25h-1.5zM335.06 326h1.5v3.25h-1.5zM350.05 326h1.5v3.25h-1.5zM371.04 326h1.5v3.25h-1.5zM390.53 326h1.5v3.25h-1.5zM398.02 326h1.5v3.25h-1.5zM426.51 326h1.5v3.25h-1.5zM143.16 329.25h1.5v3.25h-1.5zM147.66 329.25h1.5v3.25h-1.5zM159.65 329.25h1.5v3.25h-1.5zM254.1 329.25h1.5v3.25h-1.5zM345.55 329.25h3v3.25h-3zM350.05 329.25h3v3.25h-3zM378.53 329.25h1.5v3.25h-1.5zM384.53 329.25h3v3.25h-3zM389.03 329.25h3v3.25h-3zM393.53 329.25h1.5v3.25h-1.5zM398.02 329.25h1.5v3.25h-1.5zM413.02 329.25h1.5v3.25h-1.5zM444.5 329.25h1.5v3.25h-1.5zM447.5 329.25h1.5v3.25h-1.5zM511.96 329.25h1.5v3.25h-1.5zM567.43 329.25h1.5v3.25h-1.5zM150.66 313h1.5v3.25h-1.5zM188.14 313h1.5v3.25h-1.5zM194.13 313h1.5v3.25h-1.5zM395.03 313h1.5v3.25h-1.5zM414.51 313h1.5v3.25h-1.5zM510.46 313h1.5v3.25h-1.5zM525.46 313h1.5v3.25h-1.5zM540.45 313h1.5v3.25h-1.5zM561.44 313h1.5v3.25h-1.5zM146.16 316.25h1.5v3.25h-1.5zM150.66 316.25h1.5v3.25h-1.5zM153.65 316.25h1.5v3.25h-1.5zM159.65 316.25h1.5v3.25h-1.5zM221.12 316.25h1.5v3.25h-1.5zM350.05 316.25h4.5v3.25h-4.5zM378.53 316.25h3v3.25h-3zM144.66 332.5h1.5v3.25h-1.5zM147.66 332.5h1.5v3.25h-1.5zM152.16 332.5h3v3.25h-3zM158.15 332.5h3v3.25h-3zM171.64 332.5h1.5v3.25h-1.5zM186.64 332.5h1.5v3.25h-1.5zM191.13 332.5h1.5v3.25h-1.5zM222.62 332.5h1.5v3.25h-1.5zM254.1 332.5h1.5v3.25h-1.5zM369.54 332.5h1.5v3.25h-1.5zM372.54 332.5h1.5v3.25h-1.5zM375.54 332.5h3v3.25h-3zM381.53 332.5h1.5v3.25h-1.5zM417.51 332.5h1.5v3.25h-1.5zM565.93 332.5h1.5v3.25h-1.5zM574.93 332.5h1.5v3.25h-1.5zM216.62 335.75h1.5v3.25h-1.5zM225.62 335.75h1.5v3.25h-1.5zM365.04 335.75h3v3.25h-3zM389.03 335.75h1.5v3.25h-1.5zM392.03 335.75h1.5v3.25h-1.5zM407.02 335.75h1.5v3.25h-1.5zM519.46 335.75h1.5v3.25h-1.5zM567.43 335.75h1.5v3.25h-1.5zM576.43 335.75h1.5v3.25h-1.5zM197.13 306.5h1.5v3.25h-1.5zM356.05 306.5h1.5v3.25h-1.5zM528.45 306.5h1.5v3.25h-1.5zM549.44 306.5h1.5v3.25h-1.5zM186.64 309.75h1.5v3.25h-1.5zM189.64 309.75h1.5v3.25h-1.5zM360.54 309.75h1.5v3.25h-1.5zM405.52 309.75h1.5v3.25h-1.5zM525.46 309.75h1.5v3.25h-1.5zM529.95 309.75h1.5v3.25h-1.5zM360.54 339h1.5v3.25h-1.5zM534.45 339h1.5v3.25h-1.5zM538.95 339h1.5v3.25h-1.5zM550.94 339h1.5v3.25h-1.5zM567.43 339h1.5v3.25h-1.5zM576.43 339h1.5v3.25h-1.5zM525.46 303.25h1.5v3.25h-1.5zM546.44 342.25h1.5v3.25h-1.5z"/>
<path fill="#b8ff00" d="M144.66 319.5h1.5v3.25h-1.5zM147.66 319.5h1.5v3.25h-1.5zM155.15 319.5h1.5v3.25h-1.5zM159.65 319.5h1.5v3.25h-1.5zM219.62 319.5h1.5v3.25h-1.5zM350.05 319.5h1.5v3.25h-1.5zM371.04 319.5h1.5v3.25h-1.5zM378.53 319.5h1.5v3.25h-1.5zM389.03 319.5h3v3.25h-3zM395.03 319.5h1.5v3.25h-1.5zM398.02 319.5h1.5v3.25h-1.5zM510.46 319.5h3v3.25h-3zM528.45 319.5h1.5v3.25h-1.5zM559.94 319.5h1.5v3.25h-1.5zM141.66 322.75h3v3.25h-3zM156.65 322.75h1.5v3.25h-1.5zM162.65 322.75h1.5v3.25h-1.5zM191.13 322.75h3v3.25h-3zM221.12 322.75h1.5v3.25h-1.5zM351.55 322.75h1.5v3.25h-1.5zM372.54 322.75h1.5v3.25h-1.5zM380.03 322.75h1.5v3.25h-1.5zM390.53 322.75h1.5v3.25h-1.5zM426.51 322.75h1.5v3.25h-1.5zM529.95 322.75h1.5v3.25h-1.5zM144.66 326h1.5v3.25h-1.5zM155.15 326h1.5v3.25h-1.5zM159.65 326h1.5v3.25h-1.5zM221.12 326h3v3.25h-3zM333.56 326h1.5v3.25h-1.5zM341.05 326h1.5v3.25h-1.5zM344.05 326h1.5v3.25h-1.5zM348.55 326h1.5v3.25h-1.5zM372.54 326h3v3.25h-3zM384.53 326h1.5v3.25h-1.5zM399.52 326h1.5v3.25h-1.5zM410.02 326h1.5v3.25h-1.5zM446 326h1.5v3.25h-1.5zM487.98 326h1.5v3.25h-1.5zM510.46 326h1.5v3.25h-1.5zM138.66 329.25h1.5v3.25h-1.5zM144.66 329.25h1.5v3.25h-1.5zM162.65 329.25h1.5v3.25h-1.5zM189.64 329.25h1.5v3.25h-1.5zM192.63 329.25h1.5v3.25h-1.5zM213.62 329.25h1.5v3.25h-1.5zM222.62 329.25h3v3.25h-3zM228.61 329.25h1.5v3.25h-1.5zM257.1 329.25h1.5v3.25h-1.5zM365.04 329.25h1.5v3.25h-1.5zM372.54 329.25h1.5v3.25h-1.5zM377.03 329.25h1.5v3.25h-1.5zM395.03 329.25h1.5v3.25h-1.5zM399.52 329.25h1.5v3.25h-1.5zM426.51 329.25h1.5v3.25h-1.5zM510.46 329.25h1.5v3.25h-1.5zM574.93 329.25h1.5v3.25h-1.5zM221.12 313h1.5v3.25h-1.5zM368.04 313h1.5v3.25h-1.5zM396.52 313h1.5v3.25h-1.5zM417.51 313h1.5v3.25h-1.5zM544.94 313h1.5v3.25h-1.5zM553.94 313h1.5v3.25h-1.5zM155.15 316.25h1.5v3.25h-1.5zM164.15 316.25h1.5v3.25h-1.5zM359.04 316.25h1.5v3.25h-1.5zM384.53 316.25h1.5v3.25h-1.5zM395.03 316.25h3v3.25h-3zM417.51 316.25h1.5v3.25h-1.5zM558.44 316.25h1.5v3.25h-1.5zM561.44 316.25h1.5v3.25h-1.5zM143.16 332.5h1.5v3.25h-1.5zM189.64 332.5h1.5v3.25h-1.5zM206.13 332.5h1.5v3.25h-1.5zM215.12 332.5h1.5v3.25h-1.5zM224.12 332.5h1.5v3.25h-1.5zM228.61 332.5h1.5v3.25h-1.5zM371.04 332.5h1.5v3.25h-1.5zM393.53 332.5h4.5v3.25h-4.5zM411.52 332.5h3v3.25h-3zM420.51 332.5h1.5v3.25h-1.5zM426.51 332.5h1.5v3.25h-1.5zM528.45 332.5h1.5v3.25h-1.5zM568.93 332.5h1.5v3.25h-1.5zM200.13 335.75h3v3.25h-3zM207.63 335.75h1.5v3.25h-1.5zM362.04 335.75h1.5v3.25h-1.5zM390.53 335.75h1.5v3.25h-1.5zM408.52 335.75h1.5v3.25h-1.5zM520.96 335.75h1.5v3.25h-1.5zM564.43 335.75h1.5v3.25h-1.5zM577.93 335.75h1.5v3.25h-1.5zM168.65 306.5h1.5v3.25h-1.5zM174.64 306.5h1.5v3.25h-1.5zM164.15 309.75h1.5v3.25h-1.5zM510.46 309.75h3v3.25h-3zM534.45 309.75h1.5v3.25h-1.5zM543.45 339h1.5v3.25h-1.5zM549.44 339h1.5v3.25h-1.5zM561.44 339h1.5v3.25h-1.5zM564.43 339h1.5v3.25h-1.5zM510.46 303.25h1.5v3.25h-1.5zM529.95 303.25h1.5v3.25h-1.5zM206.13 300h1.5v3.25h-1.5z"/>
<path fill="#d0ff00" d="M141.66 319.5h1.5v3.25h-1.5zM149.16 319.5h1.5v3.25h-1.5zM152.16 319.5h1.5v3.25h-1.5zM167.15 319.5h1.5v3.25h-1.5zM171.64 319.5h1.5v3.25h-1.5zM368.04 319.5h3v3.25h-3zM372.54 319.5h1.5v3.25h-1.5zM410.02 319.5h1.5v3.25h-1.5zM532.95 319.5h1.5v3.25h-1.5zM561.44 319.5h1.5v3.25h-1.5zM126.67 322.75h1.5v3.25h-1.5zM159.65 322.75h3v3.25h-3zM171.64 322.75h1.5v3.25h-1.5zM219.62 322.75h1.5v3.25h-1.5zM345.55 322.75h1.5v3.25h-1.5zM365.04 322.75h1.5v3.25h-1.5zM377.03 322.75h1.5v3.25h-1.5zM389.03 322.75h1.5v3.25h-1.5zM399.52 322.75h3v3.25h-3zM150.66 326h3v3.25h-3zM161.15 326h1.5v3.25h-1.5zM171.64 326h1.5v3.25h-1.5zM366.54 326h1.5v3.25h-1.5zM377.03 326h1.5v3.25h-1.5zM395.03 326h3v3.25h-3zM401.02 326h1.5v3.25h-1.5zM404.02 326h1.5v3.25h-1.5zM414.51 326h1.5v3.25h-1.5zM567.43 326h1.5v3.25h-1.5zM152.16 329.25h1.5v3.25h-1.5zM161.15 329.25h1.5v3.25h-1.5zM171.64 329.25h1.5v3.25h-1.5zM191.13 329.25h1.5v3.25h-1.5zM204.63 329.25h1.5v3.25h-1.5zM218.12 329.25h3v3.25h-3zM368.04 329.25h3v3.25h-3zM383.03 329.25h1.5v3.25h-1.5zM396.52 329.25h1.5v3.25h-1.5zM404.02 329.25h1.5v3.25h-1.5zM408.52 329.25h3v3.25h-3zM414.51 329.25h1.5v3.25h-1.5zM417.51 329.25h1.5v3.25h-1.5zM428.01 329.25h1.5v3.25h-1.5zM449 329.25h1.5v3.25h-1.5zM513.46 329.25h1.5v3.25h-1.5zM529.95 329.25h1.5v3.25h-1.5zM534.45 329.25h3v3.25h-3zM568.93 329.25h1.5v3.25h-1.5zM164.15 313h1.5v3.25h-1.5zM171.64 313h1.5v3.25h-1.5zM191.13 313h1.5v3.25h-1.5zM408.52 313h1.5v3.25h-1.5zM420.51 313h1.5v3.25h-1.5zM511.96 313h1.5v3.25h-1.5zM529.95 313h1.5v3.25h-1.5zM546.44 313h1.5v3.25h-1.5zM161.15 316.25h1.5v3.25h-1.5zM345.55 316.25h3v3.25h-3zM354.55 316.25h1.5v3.25h-1.5zM407.02 316.25h1.5v3.25h-1.5zM532.95 316.25h1.5v3.25h-1.5zM538.95 316.25h1.5v3.25h-1.5zM140.16 332.5h1.5v3.25h-1.5zM167.15 332.5h1.5v3.25h-1.5zM213.62 332.5h1.5v3.25h-1.5zM218.12 332.5h1.5v3.25h-1.5zM221.12 332.5h1.5v3.25h-1.5zM356.05 332.5h1.5v3.25h-1.5zM365.04 332.5h1.5v3.25h-1.5zM392.03 332.5h1.5v3.25h-1.5zM401.02 332.5h1.5v3.25h-1.5zM408.52 332.5h1.5v3.25h-1.5zM414.51 332.5h1.5v3.25h-1.5zM423.51 332.5h1.5v3.25h-1.5zM514.96 332.5h1.5v3.25h-1.5zM517.96 332.5h1.5v3.25h-1.5zM526.95 332.5h1.5v3.25h-1.5zM534.45 332.5h1.5v3.25h-1.5zM564.43 332.5h1.5v3.25h-1.5zM212.12 335.75h1.5v3.25h-1.5zM219.62 335.75h1.5v3.25h-1.5zM222.62 335.75h3v3.25h-3zM353.05 335.75h1.5v3.25h-1.5zM357.55 335.75h1.5v3.25h-1.5zM383.03 335.75h1.5v3.25h-1.5zM562.94 335.75h1.5v3.25h-1.5zM565.93 335.75h1.5v3.25h-1.5zM571.93 335.75h1.5v3.25h-1.5zM574.93 335.75h1.5v3.25h-1.5zM525.46 306.5h1.5v3.25h-1.5zM529.95 306.5h1.5v3.25h-1.5zM165.65 309.75h1.5v3.25h-1.5zM171.64 309.75h1.5v3.25h-1.5zM183.64 309.75h1.5v3.25h-1.5zM210.62 309.75h1.5v3.25h-1.5zM417.51 309.75h1.5v3.25h-1.5zM519.46 309.75h1.5v3.25h-1.5zM537.45 309.75h1.5v3.25h-1.5zM541.95 309.75h1.5v3.25h-1.5zM565.93 339h1.5v3.25h-1.5zM574.93 339h1.5v3.25h-1.5zM180.64 303.25h1.5v3.25h-1.5zM516.46 300h1.5v3.25h-1.5zM517.96 296.75h1.5v3.25h-1.5z"/>
<path fill="#e7ff00" d="M153.65 319.5h1.5v3.25h-1.5zM162.65 319.5h3v3.25h-3zM186.64 319.5h1.5v3.25h-1.5zM191.13 319.5h1.5v3.25h-1.5zM213.62 319.5h1.5v3.25h-1.5zM365.04 319.5h1.5v3.25h-1.5zM393.53 319.5h1.5v3.25h-1.5zM399.52 319.5h1.5v3.25h-1.5zM407.02 319.5h1.5v3.25h-1.5zM411.52 319.5h4.5v3.25h-4.5zM538.95 319.5h1.5v3.25h-1.5zM149.16 322.75h1.5v3.25h-1.5zM164.15 322.75h4.5v3.25h-4.5zM185.14 322.75h1.5v3.25h-1.5zM195.63 322.75h1.5v3.25h-1.5zM215.12 322.75h1.5v3.25h-1.5zM222.62 322.75h1.5v3.25h-1.5zM371.04 322.75h1.5v3.25h-1.5zM392.03 322.75h3v3.25h-3zM396.52 322.75h1.5v3.25h-1.5zM402.52 322.75h1.5v3.25h-1.5zM520.96 322.75h1.5v3.25h-1.5zM532.95 322.75h1.5v3.25h-1.5zM537.45 322.75h1.5v3.25h-1.5zM140.16 326h1.5v3.25h-1.5zM164.15 326h1.5v3.25h-1.5zM167.15 326h1.5v3.25h-1.5zM186.64 326h3v3.25h-3zM191.13 326h3v3.25h-3zM213.62 326h1.5v3.25h-1.5zM351.55 326h1.5v3.25h-1.5zM354.55 326h1.5v3.25h-1.5zM378.53 326h1.5v3.25h-1.5zM392.03 326h1.5v3.25h-1.5zM413.02 326h1.5v3.25h-1.5zM511.96 326h1.5v3.25h-1.5zM523.96 326h1.5v3.25h-1.5zM529.95 326h1.5v3.25h-1.5zM564.43 326h1.5v3.25h-1.5zM150.66 329.25h1.5v3.25h-1.5zM164.15 329.25h1.5v3.25h-1.5zM167.15 329.25h1.5v3.25h-1.5zM183.64 329.25h1.5v3.25h-1.5zM186.64 329.25h3v3.25h-3zM362.04 329.25h1.5v3.25h-1.5zM371.04 329.25h1.5v3.25h-1.5zM380.03 329.25h1.5v3.25h-1.5zM519.46 329.25h1.5v3.25h-1.5zM532.95 329.25h1.5v3.25h-1.5zM537.45 329.25h3v3.25h-3zM565.93 329.25h1.5v3.25h-1.5zM161.15 313h3v3.25h-3zM167.15 313h1.5v3.25h-1.5zM185.14 313h1.5v3.25h-1.5zM192.63 313h1.5v3.25h-1.5zM210.62 313h1.5v3.25h-1.5zM215.12 313h1.5v3.25h-1.5zM345.55 313h1.5v3.25h-1.5zM363.54 313h1.5v3.25h-1.5zM401.02 313h1.5v3.25h-1.5zM411.52 313h1.5v3.25h-1.5zM423.51 313h1.5v3.25h-1.5zM528.45 313h1.5v3.25h-1.5zM532.95 313h1.5v3.25h-1.5zM165.65 316.25h1.5v3.25h-1.5zM185.14 316.25h1.5v3.25h-1.5zM401.02 316.25h1.5v3.25h-1.5zM404.02 316.25h1.5v3.25h-1.5zM410.02 316.25h3v3.25h-3zM534.45 316.25h3v3.25h-3zM552.44 316.25h1.5v3.25h-1.5zM555.44 316.25h1.5v3.25h-1.5zM183.64 332.5h3v3.25h-3zM194.13 332.5h1.5v3.25h-1.5zM402.52 332.5h3v3.25h-3zM516.46 332.5h1.5v3.25h-1.5zM523.96 332.5h1.5v3.25h-1.5zM537.45 332.5h1.5v3.25h-1.5zM562.94 332.5h1.5v3.25h-1.5zM174.64 335.75h1.5v3.25h-1.5zM198.63 335.75h1.5v3.25h-1.5zM354.55 335.75h1.5v3.25h-1.5zM359.04 335.75h1.5v3.25h-1.5zM405.52 335.75h1.5v3.25h-1.5zM534.45 335.75h1.5v3.25h-1.5zM538.95 335.75h1.5v3.25h-1.5zM541.95 335.75h1.5v3.25h-1.5zM561.44 335.75h1.5v3.25h-1.5zM568.93 335.75h1.5v3.25h-1.5zM167.15 306.5h1.5v3.25h-1.5zM177.64 306.5h3v3.25h-3zM201.63 306.5h1.5v3.25h-1.5zM511.96 306.5h3v3.25h-3zM522.46 306.5h1.5v3.25h-1.5zM207.63 309.75h3v3.25h-3zM410.02 309.75h1.5v3.25h-1.5zM516.46 309.75h1.5v3.25h-1.5zM170.15 303.25h1.5v3.25h-1.5zM517.96 303.25h1.5v3.25h-1.5zM514.96 300h1.5v3.25h-1.5zM519.46 300h1.5v3.25h-1.5zM520.96 296.75h1.5v3.25h-1.5z"/>
<path fill="#ffff00" d="M150.66 319.5h1.5v3.25h-1.5zM161.15 319.5h1.5v3.25h-1.5zM185.14 319.5h1.5v3.25h-1.5zM188.14 319.5h3v3.25h-3zM192.63 319.5h1.5v3.25h-1.5zM218.12 319.5h1.5v3.25h-1.5zM353.05 319.5h1.5v3.25h-1.5zM366.54 319.5h1.5v3.25h-1.5zM401.02 319.5h1.5v3.25h-1.5zM404.02 319.5h1.5v3.25h-1.5zM426.51 319.5h1.5v3.25h-1.5zM513.46 319.5h1.5v3.25h-1.5zM526.95 319.5h1.5v3.25h-1.5zM535.95 319.5h3v3.25h-3zM182.14 322.75h3v3.25h-3zM188.14 322.75h1.5v3.25h-1.5zM212.12 322.75h1.5v3.25h-1.5zM216.62 322.75h3v3.25h-3zM366.54 322.75h1.5v3.25h-1.5zM410.02 322.75h6v3.25h-6zM513.46 322.75h1.5v3.25h-1.5zM523.96 322.75h1.5v3.25h-1.5zM538.95 322.75h1.5v3.25h-1.5zM561.44 322.75h1.5v3.25h-1.5zM162.65 326h1.5v3.25h-1.5zM189.64 326h1.5v3.25h-1.5zM210.62 326h1.5v3.25h-1.5zM215.12 326h6v3.25h-6zM365.04 326h1.5v3.25h-1.5zM368.04 326h1.5v3.25h-1.5zM380.03 326h1.5v3.25h-1.5zM411.52 326h1.5v3.25h-1.5zM526.95 326h3v3.25h-3zM537.45 326h3v3.25h-3zM561.44 326h1.5v3.25h-1.5zM568.93 326h1.5v3.25h-1.5zM185.14 329.25h1.5v3.25h-1.5zM353.05 329.25h3v3.25h-3zM366.54 329.25h1.5v3.25h-1.5zM411.52 329.25h1.5v3.25h-1.5zM516.46 329.25h1.5v3.25h-1.5zM562.94 329.25h3v3.25h-3zM165.65 313h1.5v3.25h-1.5zM182.14 313h1.5v3.25h-1.5zM198.63 313h1.5v3.25h-1.5zM209.12 313h1.5v3.25h-1.5zM366.54 313h1.5v3.25h-1.5zM516.46 313h3v3.25h-3zM526.95 313h1.5v3.25h-1.5zM167.15 316.25h1.5v3.25h-1.5zM186.64 316.25h4.5v3.25h-4.5zM192.63 316.25h4.5v3.25h-4.5zM368.04 316.25h1.5v3.25h-1.5zM371.04 316.25h1.5v3.25h-1.5zM405.52 316.25h1.5v3.25h-1.5zM408.52 316.25h1.5v3.25h-1.5zM510.46 316.25h3v3.25h-3zM522.46 316.25h1.5v3.25h-1.5zM529.95 316.25h1.5v3.25h-1.5zM165.65 332.5h1.5v3.25h-1.5zM203.13 332.5h1.5v3.25h-1.5zM209.12 332.5h3v3.25h-3zM354.55 332.5h1.5v3.25h-1.5zM366.54 332.5h1.5v3.25h-1.5zM422.01 332.5h1.5v3.25h-1.5zM519.46 332.5h1.5v3.25h-1.5zM522.46 332.5h1.5v3.25h-1.5zM532.95 332.5h1.5v3.25h-1.5zM535.95 332.5h1.5v3.25h-1.5zM538.95 332.5h1.5v3.25h-1.5zM561.44 332.5h1.5v3.25h-1.5zM571.93 332.5h1.5v3.25h-1.5zM532.95 335.75h1.5v3.25h-1.5zM204.63 306.5h1.5v3.25h-1.5zM517.96 306.5h1.5v3.25h-1.5zM523.96 306.5h1.5v3.25h-1.5zM167.15 309.75h1.5v3.25h-1.5zM544.94 339h1.5v3.25h-1.5zM552.44 339h1.5v3.25h-1.5zM568.93 339h1.5v3.25h-1.5zM513.46 303.25h1.5v3.25h-1.5z"/>
<path fill="#ffea00" d="M194.13 319.5h1.5v3.25h-1.5zM197.13 319.5h1.5v3.25h-1.5zM212.12 319.5h1.5v3.25h-1.5zM215.12 319.5h1.5v3.25h-1.5zM354.55 319.5h1.5v3.25h-1.5zM359.04 319.5h1.5v3.25h-1.5zM408.52 319.5h1.5v3.25h-1.5zM420.51 319.5h4.5v3.25h-4.5zM150.66 322.75h1.5v3.25h-1.5zM186.64 322.75h1.5v3.25h-1.5zM189.64 322.75h1.5v3.25h-1.5zM197.13 322.75h1.5v3.25h-1.5zM210.62 322.75h1.5v3.25h-1.5zM368.04 322.75h1.5v3.25h-1.5zM407.02 322.75h1.5v3.25h-1.5zM420.51 322.75h4.5v3.25h-4.5zM510.46 322.75h3v3.25h-3zM519.46 322.75h1.5v3.25h-1.5zM534.45 322.75h3v3.25h-3zM562.94 322.75h1.5v3.25h-1.5zM194.13 326h1.5v3.25h-1.5zM197.13 326h1.5v3.25h-1.5zM203.13 326h1.5v3.25h-1.5zM353.05 326h1.5v3.25h-1.5zM359.04 326h1.5v3.25h-1.5zM405.52 326h4.5v3.25h-4.5zM417.51 326h1.5v3.25h-1.5zM513.46 326h1.5v3.25h-1.5zM532.95 326h1.5v3.25h-1.5zM535.95 326h1.5v3.25h-1.5zM165.65 329.25h1.5v3.25h-1.5zM194.13 329.25h3v3.25h-3zM201.63 329.25h1.5v3.25h-1.5zM209.12 329.25h1.5v3.25h-1.5zM359.04 329.25h1.5v3.25h-1.5zM401.02 329.25h3v3.25h-3zM420.51 329.25h1.5v3.25h-1.5zM522.46 329.25h1.5v3.25h-1.5zM528.45 329.25h1.5v3.25h-1.5zM540.45 329.25h1.5v3.25h-1.5zM559.94 329.25h3v3.25h-3zM168.65 313h1.5v3.25h-1.5zM183.64 313h1.5v3.25h-1.5zM186.64 313h1.5v3.25h-1.5zM189.64 313h1.5v3.25h-1.5zM206.13 313h1.5v3.25h-1.5zM354.55 313h1.5v3.25h-1.5zM405.52 313h1.5v3.25h-1.5zM410.02 313h1.5v3.25h-1.5zM513.46 313h1.5v3.25h-1.5zM534.45 313h4.5v3.25h-4.5zM547.94 313h1.5v3.25h-1.5zM162.65 316.25h1.5v3.25h-1.5zM183.64 316.25h1.5v3.25h-1.5zM206.13 316.25h3v3.25h-3zM213.62 316.25h3v3.25h-3zM218.12 316.25h1.5v3.25h-1.5zM363.54 316.25h1.5v3.25h-1.5zM414.51 316.25h1.5v3.25h-1.5zM513.46 316.25h1.5v3.25h-1.5zM516.46 316.25h3v3.25h-3zM526.95 316.25h1.5v3.25h-1.5zM168.65 332.5h1.5v3.25h-1.5zM173.14 332.5h1.5v3.25h-1.5zM179.14 332.5h1.5v3.25h-1.5zM192.63 332.5h1.5v3.25h-1.5zM195.63 332.5h3v3.25h-3zM204.63 332.5h1.5v3.25h-1.5zM219.62 332.5h1.5v3.25h-1.5zM368.04 332.5h1.5v3.25h-1.5zM399.52 332.5h1.5v3.25h-1.5zM520.96 332.5h1.5v3.25h-1.5zM177.64 335.75h1.5v3.25h-1.5zM180.64 335.75h1.5v3.25h-1.5zM176.14 306.5h1.5v3.25h-1.5zM203.13 306.5h1.5v3.25h-1.5zM516.46 306.5h1.5v3.25h-1.5zM173.14 309.75h1.5v3.25h-1.5zM197.13 309.75h1.5v3.25h-1.5zM201.63 309.75h1.5v3.25h-1.5zM204.63 309.75h1.5v3.25h-1.5zM520.96 309.75h1.5v3.25h-1.5zM528.45 309.75h1.5v3.25h-1.5zM543.45 309.75h1.5v3.25h-1.5zM556.94 339h1.5v3.25h-1.5zM571.93 339h1.5v3.25h-1.5zM516.46 303.25h1.5v3.25h-1.5zM519.46 303.25h1.5v3.25h-1.5zM517.96 300h1.5v3.25h-1.5zM571.93 342.25h1.5v3.25h-1.5z"/>
<path fill="#ffd500" d="M168.65 319.5h1.5v3.25h-1.5zM198.63 319.5h1.5v3.25h-1.5zM201.63 319.5h1.5v3.25h-1.5zM210.62 319.5h1.5v3.25h-1.5zM357.55 319.5h1.5v3.25h-1.5zM402.52 319.5h1.5v3.25h-1.5zM417.51 319.5h1.5v3.25h-1.5zM514.96 319.5h4.5v3.25h-4.5zM520.96 319.5h3v3.25h-3zM534.45 319.5h1.5v3.25h-1.5zM540.45 319.5h3v3.25h-3zM168.65 322.75h1.5v3.25h-1.5zM194.13 322.75h1.5v3.25h-1.5zM198.63 322.75h3v3.25h-3zM209.12 322.75h1.5v3.25h-1.5zM353.05 322.75h1.5v3.25h-1.5zM356.05 322.75h1.5v3.25h-1.5zM404.02 322.75h3v3.25h-3zM408.52 322.75h1.5v3.25h-1.5zM516.46 322.75h1.5v3.25h-1.5zM522.46 322.75h1.5v3.25h-1.5zM528.45 322.75h1.5v3.25h-1.5zM564.43 322.75h1.5v3.25h-1.5zM165.65 326h1.5v3.25h-1.5zM168.65 326h1.5v3.25h-1.5zM182.14 326h1.5v3.25h-1.5zM185.14 326h1.5v3.25h-1.5zM204.63 326h1.5v3.25h-1.5zM356.05 326h1.5v3.25h-1.5zM363.54 326h1.5v3.25h-1.5zM420.51 326h3v3.25h-3zM517.96 326h3v3.25h-3zM540.45 326h1.5v3.25h-1.5zM559.94 326h1.5v3.25h-1.5zM562.94 326h1.5v3.25h-1.5zM168.65 329.25h1.5v3.25h-1.5zM173.14 329.25h1.5v3.25h-1.5zM210.62 329.25h3v3.25h-3zM407.02 329.25h1.5v3.25h-1.5zM423.51 329.25h1.5v3.25h-1.5zM520.96 329.25h1.5v3.25h-1.5zM526.95 329.25h1.5v3.25h-1.5zM179.14 313h1.5v3.25h-1.5zM197.13 313h1.5v3.25h-1.5zM201.63 313h1.5v3.25h-1.5zM212.12 313h1.5v3.25h-1.5zM519.46 313h3v3.25h-3zM191.13 316.25h1.5v3.25h-1.5zM197.13 316.25h3v3.25h-3zM201.63 316.25h1.5v3.25h-1.5zM210.62 316.25h3v3.25h-3zM422.01 316.25h3v3.25h-3zM514.96 316.25h1.5v3.25h-1.5zM537.45 316.25h1.5v3.25h-1.5zM544.94 316.25h1.5v3.25h-1.5zM170.15 332.5h1.5v3.25h-1.5zM198.63 332.5h1.5v3.25h-1.5zM207.63 332.5h1.5v3.25h-1.5zM212.12 332.5h1.5v3.25h-1.5zM216.62 332.5h1.5v3.25h-1.5zM363.54 332.5h1.5v3.25h-1.5zM407.02 332.5h1.5v3.25h-1.5zM559.94 332.5h1.5v3.25h-1.5zM360.54 335.75h1.5v3.25h-1.5zM559.94 335.75h1.5v3.25h-1.5zM514.96 306.5h1.5v3.25h-1.5zM519.46 306.5h1.5v3.25h-1.5zM215.12 309.75h1.5v3.25h-1.5zM514.96 309.75h1.5v3.25h-1.5zM517.96 309.75h1.5v3.25h-1.5zM522.46 309.75h1.5v3.25h-1.5zM555.44 339h1.5v3.25h-1.5zM562.94 339h1.5v3.25h-1.5zM201.63 303.25h1.5v3.25h-1.5zM206.13 303.25h1.5v3.25h-1.5zM520.96 300h1.5v3.25h-1.5z"/>
<path fill="#ffc000" d="M176.14 319.5h1.5v3.25h-1.5zM180.64 319.5h4.5v3.25h-4.5zM204.63 319.5h1.5v3.25h-1.5zM209.12 319.5h1.5v3.25h-1.5zM216.62 319.5h1.5v3.25h-1.5zM380.03 319.5h1.5v3.25h-1.5zM523.96 319.5h1.5v3.25h-1.5zM204.63 322.75h1.5v3.25h-1.5zM213.62 322.75h1.5v3.25h-1.5zM354.55 322.75h1.5v3.25h-1.5zM357.55 322.75h7.5v3.25h-7.5zM517.96 322.75h1.5v3.25h-1.5zM526.95 322.75h1.5v3.25h-1.5zM556.94 322.75h1.5v3.25h-1.5zM559.94 322.75h1.5v3.25h-1.5zM180.64 326h1.5v3.25h-1.5zM195.63 326h1.5v3.25h-1.5zM198.63 326h1.5v3.25h-1.5zM357.55 326h1.5v3.25h-1.5zM360.54 326h1.5v3.25h-1.5zM423.51 326h1.5v3.25h-1.5zM516.46 326h1.5v3.25h-1.5zM520.96 326h1.5v3.25h-1.5zM534.45 326h1.5v3.25h-1.5zM541.95 326h1.5v3.25h-1.5zM198.63 329.25h1.5v3.25h-1.5zM215.12 329.25h3v3.25h-3zM357.55 329.25h1.5v3.25h-1.5zM360.54 329.25h1.5v3.25h-1.5zM363.54 329.25h1.5v3.25h-1.5zM422.01 329.25h1.5v3.25h-1.5zM514.96 329.25h1.5v3.25h-1.5zM180.64 313h1.5v3.25h-1.5zM360.54 313h3v3.25h-3zM168.65 316.25h1.5v3.25h-1.5zM182.14 316.25h1.5v3.25h-1.5zM356.05 316.25h1.5v3.25h-1.5zM366.54 316.25h1.5v3.25h-1.5zM420.51 316.25h1.5v3.25h-1.5zM519.46 316.25h1.5v3.25h-1.5zM523.96 316.25h1.5v3.25h-1.5zM528.45 316.25h1.5v3.25h-1.5zM182.14 332.5h1.5v3.25h-1.5zM188.14 332.5h1.5v3.25h-1.5zM201.63 332.5h1.5v3.25h-1.5zM353.05 332.5h1.5v3.25h-1.5zM380.03 332.5h1.5v3.25h-1.5zM405.52 332.5h1.5v3.25h-1.5zM540.45 332.5h1.5v3.25h-1.5zM176.14 335.75h1.5v3.25h-1.5zM195.63 309.75h1.5v3.25h-1.5zM198.63 309.75h1.5v3.25h-1.5zM206.13 309.75h1.5v3.25h-1.5zM402.52 309.75h1.5v3.25h-1.5zM523.96 309.75h1.5v3.25h-1.5zM546.44 339h1.5v3.25h-1.5zM553.94 339h1.5v3.25h-1.5zM559.94 339h1.5v3.25h-1.5zM514.96 303.25h1.5v3.25h-1.5z"/>
<path fill="#ffaa00" d="M195.63 319.5h1.5v3.25h-1.5zM206.13 319.5h1.5v3.25h-1.5zM363.54 319.5h1.5v3.25h-1.5zM405.52 319.5h1.5v3.25h-1.5zM552.44 319.5h1.5v3.25h-1.5zM558.44 319.5h1.5v3.25h-1.5zM173.14 322.75h1.5v3.25h-1.5zM180.64 322.75h1.5v3.25h-1.5zM201.63 322.75h3v3.25h-3zM540.45 322.75h1.5v3.25h-1.5zM179.14 326h1.5v3.25h-1.5zM200.13 326h1.5v3.25h-1.5zM207.63 326h3v3.25h-3zM402.52 326h1.5v3.25h-1.5zM514.96 326h1.5v3.25h-1.5zM522.46 326h1.5v3.25h-1.5zM544.94 326h1.5v3.25h-1.5zM552.44 326h1.5v3.25h-1.5zM558.44 326h1.5v3.25h-1.5zM170.15 329.25h1.5v3.25h-1.5zM180.64 329.25h3v3.25h-3zM197.13 329.25h1.5v3.25h-1.5zM200.13 329.25h1.5v3.25h-1.5zM203.13 329.25h1.5v3.25h-1.5zM543.45 329.25h1.5v3.25h-1.5zM555.44 329.25h1.5v3.25h-1.5zM174.64 313h1.5v3.25h-1.5zM195.63 313h1.5v3.25h-1.5zM204.63 313h1.5v3.25h-1.5zM207.63 313h1.5v3.25h-1.5zM356.05 313h1.5v3.25h-1.5zM402.52 313h1.5v3.25h-1.5zM514.96 313h1.5v3.25h-1.5zM179.14 316.25h3v3.25h-3zM200.13 316.25h1.5v3.25h-1.5zM204.63 316.25h1.5v3.25h-1.5zM360.54 316.25h3v3.25h-3zM402.52 316.25h1.5v3.25h-1.5zM520.96 316.25h1.5v3.25h-1.5zM540.45 316.25h3v3.25h-3zM546.44 316.25h1.5v3.25h-1.5zM180.64 332.5h1.5v3.25h-1.5zM200.13 332.5h1.5v3.25h-1.5zM357.55 332.5h6v3.25h-6zM543.45 335.75h1.5v3.25h-1.5zM549.44 335.75h1.5v3.25h-1.5zM558.44 335.75h1.5v3.25h-1.5zM170.15 306.5h1.5v3.25h-1.5zM520.96 306.5h1.5v3.25h-1.5zM168.65 309.75h1.5v3.25h-1.5zM179.14 309.75h1.5v3.25h-1.5zM200.13 309.75h1.5v3.25h-1.5zM513.46 309.75h1.5v3.25h-1.5z"/>
<path fill="#ff9500" d="M170.15 319.5h1.5v3.25h-1.5zM179.14 319.5h1.5v3.25h-1.5zM207.63 319.5h1.5v3.25h-1.5zM356.05 319.5h1.5v3.25h-1.5zM360.54 319.5h1.5v3.25h-1.5zM519.46 319.5h1.5v3.25h-1.5zM543.45 319.5h1.5v3.25h-1.5zM170.15 322.75h1.5v3.25h-1.5zM541.95 322.75h1.5v3.25h-1.5zM549.44 322.75h3v3.25h-3zM173.14 326h1.5v3.25h-1.5zM183.64 326h1.5v3.25h-1.5zM201.63 326h1.5v3.25h-1.5zM206.13 326h1.5v3.25h-1.5zM212.12 326h1.5v3.25h-1.5zM362.04 326h1.5v3.25h-1.5zM543.45 326h1.5v3.25h-1.5zM555.44 326h1.5v3.25h-1.5zM176.14 329.25h1.5v3.25h-1.5zM179.14 329.25h1.5v3.25h-1.5zM206.13 329.25h3v3.25h-3zM356.05 329.25h1.5v3.25h-1.5zM405.52 329.25h1.5v3.25h-1.5zM523.96 329.25h1.5v3.25h-1.5zM552.44 329.25h1.5v3.25h-1.5zM556.94 329.25h1.5v3.25h-1.5zM170.15 313h1.5v3.25h-1.5zM203.13 313h1.5v3.25h-1.5zM523.96 313h1.5v3.25h-1.5zM541.95 313h1.5v3.25h-1.5zM174.64 316.25h3v3.25h-3zM203.13 316.25h1.5v3.25h-1.5zM209.12 316.25h1.5v3.25h-1.5zM543.45 316.25h1.5v3.25h-1.5zM553.94 316.25h1.5v3.25h-1.5zM174.64 332.5h1.5v3.25h-1.5zM552.44 332.5h1.5v3.25h-1.5zM556.94 332.5h1.5v3.25h-1.5zM544.94 335.75h1.5v3.25h-1.5zM180.64 306.5h1.5v3.25h-1.5zM176.14 309.75h3v3.25h-3zM203.13 309.75h1.5v3.25h-1.5zM356.05 309.75h1.5v3.25h-1.5zM549.44 309.75h1.5v3.25h-1.5zM558.44 339h1.5v3.25h-1.5zM520.96 303.25h1.5v3.25h-1.5zM547.94 342.25h1.5v3.25h-1.5z"/>
<path fill="#ff8000" d="M544.94 319.5h1.5v3.25h-1.5zM549.44 319.5h1.5v3.25h-1.5zM555.44 319.5h1.5v3.25h-1.5zM174.64 322.75h3v3.25h-3zM179.14 322.75h1.5v3.25h-1.5zM206.13 322.75h3v3.25h-3zM514.96 322.75h1.5v3.25h-1.5zM543.45 322.75h4.5v3.25h-4.5zM552.44 322.75h1.5v3.25h-1.5zM558.44 322.75h1.5v3.25h-1.5zM176.14 326h1.5v3.25h-1.5zM556.94 326h1.5v3.25h-1.5zM174.64 329.25h1.5v3.25h-1.5zM517.96 329.25h1.5v3.25h-1.5zM541.95 329.25h1.5v3.25h-1.5zM544.94 329.25h1.5v3.25h-1.5zM553.94 329.25h1.5v3.25h-1.5zM558.44 329.25h1.5v3.25h-1.5zM173.14 313h1.5v3.25h-1.5zM200.13 313h1.5v3.25h-1.5zM522.46 313h1.5v3.25h-1.5zM543.45 313h1.5v3.25h-1.5zM176.14 332.5h1.5v3.25h-1.5zM544.94 332.5h1.5v3.25h-1.5zM547.94 332.5h1.5v3.25h-1.5zM550.94 332.5h1.5v3.25h-1.5zM555.44 332.5h1.5v3.25h-1.5zM558.44 332.5h1.5v3.25h-1.5zM546.44 335.75h1.5v3.25h-1.5zM553.94 335.75h3v3.25h-3zM206.13 306.5h1.5v3.25h-1.5zM174.64 309.75h1.5v3.25h-1.5zM180.64 309.75h1.5v3.25h-1.5z"/>
<path fill="#ff7100" d="M173.14 319.5h1.5v3.25h-1.5zM200.13 319.5h1.5v3.25h-1.5zM362.04 319.5h1.5v3.25h-1.5zM546.44 319.5h1.5v3.25h-1.5zM547.94 322.75h1.5v3.25h-1.5zM553.94 322.75h3v3.25h-3zM170.15 326h1.5v3.25h-1.5zM546.44 326h1.5v3.25h-1.5zM553.94 326h1.5v3.25h-1.5zM176.14 313h1.5v3.25h-1.5zM549.44 313h1.5v3.25h-1.5zM170.15 316.25h1.5v3.25h-1.5zM173.14 316.25h1.5v3.25h-1.5zM177.64 316.25h1.5v3.25h-1.5zM547.94 316.25h3v3.25h-3zM177.64 332.5h1.5v3.25h-1.5zM541.95 332.5h1.5v3.25h-1.5zM553.94 332.5h1.5v3.25h-1.5zM552.44 335.75h1.5v3.25h-1.5zM556.94 335.75h1.5v3.25h-1.5zM170.15 309.75h1.5v3.25h-1.5zM547.94 339h1.5v3.25h-1.5z"/>
<path fill="#ff6200" d="M174.64 319.5h1.5v3.25h-1.5zM203.13 319.5h1.5v3.25h-1.5zM553.94 319.5h1.5v3.25h-1.5zM174.64 326h1.5v3.25h-1.5zM547.94 326h3v3.25h-3zM546.44 329.25h1.5v3.25h-1.5zM549.44 329.25h3v3.25h-3zM543.45 332.5h1.5v3.25h-1.5z"/>
<path fill="#ff5300" d="M547.94 319.5h1.5v3.25h-1.5zM550.94 319.5h1.5v3.25h-1.5zM177.64 326h1.5v3.25h-1.5zM550.94 326h1.5v3.25h-1.5zM177.64 329.25h1.5v3.25h-1.5zM547.94 329.25h1.5v3.25h-1.5zM549.44 332.5h1.5v3.25h-1.5z"/>
<path fill="#ff4400" d="M177.64 319.5h1.5v3.25h-1.5z"/>
<path fill="#ff3500" d="M177.64 322.75h1.5v3.25h-1.5zM546.44 332.5h1.5v3.25h-1.5zM547.94 335.75h1.5v3.25h-1.5zM550.94 335.75h1.5v3.25h-1.5z"/>
<path fill="#ff2600" d="M177.64 313h1.5v3.25h-1.5z"/></g>
<line x1="67.7" y1="388.5" x2="629.4" y2="388.5" stroke="#000" stroke-width="0.9" stroke-dasharray="1.9 3.65"/><path d="M67.7 388 L69 387.91 L70.3 388.77 L71.6 387.94 L72.9 388.58 L74.2 388.03 L75.5 389.35 L76.8 389.74 L78.1 390.69 L79.4 390.49 L80.7 390.97 L82 391.08 L83.3 391.1 L84.6 391.68 L85.9 391.5 L87.2 392 L88.5 390.92 L89.8 389.29 L91.1 388.04 L92.4 389.08 L93.7 388.63 L95 388.1 L96.3 388.16 L97.6 387.87 L98.9 387.78 L100.2 387.74 L101.5 388.78 L102.8 388.38 L104.1 388.25 L105.4 388.39 L106.7 389.06 L108 388.47 L109.3 388.37 L110.6 389.91 L111.9 389.12 L113.2 389.42 L114.5 390.24 L115.8 391.58 L117.1 391 L118.4 389.99 L119.7 390.76 L121 390.6 L122.3 390.55 L123.6 390.89 L124.9 390.94 L126.2 390.97 L127.5 390.64 L128.8 391.23 L130.1 391.6 L131.4 391.11 L132.7 390.62 L134 390.89 L135.3 390.89 L136.6 390.26 L137.9 390.38 L139.2 391.21 L140.5 391.2 L141.8 391.18 L143.1 391.51 L144.4 391.66 L145.7 391.84 L147 391.15 L148.3 392.56 L149.6 392.66 L150.9 392.32 L152.2 393.07 L153.5 393.24 L154.8 393.29 L156.1 393.87 L157.4 394.48 L158.7 393.95 L160 394.09 L161.3 394.35 L162.6 392.98 L163.9 392.46 L165.2 392.72 L166.5 391.67 L167.8 391.72 L169.1 392.39 L170.4 392.54 L171.7 392.35 L173 391.07 L174.3 392.28 L175.6 392.01 L176.9 391.9 L178.2 391.66 L179.5 390.56 L180.8 390.19 L182.1 390.11 L183.4 391.5 L184.7 390.97 L186 390.98 L187.3 390.99 L188.6 391.39 L189.9 391.56 L191.2 391.56 L192.5 390.88 L193.8 389.71 L195.1 390.63 L196.4 391.14 L197.7 391.85 L199 391.61 L200.3 391.28 L201.6 391.59 L202.9 390.87 L204.2 390.75 L205.5 390.72 L206.8 391.31 L208.1 392.46 L209.4 392.51 L210.7 392.75 L212 392.51 L213.3 392.46 L214.6 392.15 L215.9 392.13 L217.2 391.19 L218.5 391.33 L219.8 390.89 L221.1 391.32 L222.4 391.19 L223.7 391.09 L225 391.21 L226.3 390.6 L227.6 390.93 L228.9 391.51 L230.2 390.93 L231.5 391.16 L232.8 390.72 L234.1 389.87 L235.4 390.23 L236.7 389.88 L238 390 L239.3 389.73 L240.6 389.86 L241.9 388.74 L243.2 390 L244.5 390.22 L245.8 389.48 L247.1 388.78 L248.4 389.77 L249.7 391.05 L251 391.28 L252.3 391.21 L253.6 390.05 L254.9 389.81 L256.2 390.75 L257.5 390.67 L258.8 389.79 L260.1 389.6 L261.4 389.2 L262.7 389.76 L264 391.29 L265.3 391.68 L266.6 392.75 L267.9 392.65 L269.2 391.59 L270.5 391.34 L271.8 392.45 L273.1 391.5 L274.4 390.78 L275.7 391.38 L277 391.37 L278.3 391.38 L279.6 392.11 L280.9 391.06 L282.2 391.59 L283.5 391.23 L284.8 390.95 L286.1 391.14 L287.4 392.19 L288.7 392.18 L290 391.46 L291.3 391.48 L292.6 392.76 L293.9 393.23 L295.2 392.55 L296.5 393.88 L297.8 393.32 L299.1 392.62 L300.4 392.68 L301.7 393.17 L303 393.7 L304.3 393.66 L305.6 392.94 L306.9 392.48 L308.2 391.81 L309.5 392.08 L310.8 391.94 L312.1 392.22 L313.4 391.64 L314.7 391.66 L316 391.47 L317.3 391.19 L318.6 391.03 L319.9 390.99 L321.2 390.87 L322.5 391.53 L323.8 391.59 L325.1 390.91 L326.4 391.36 L327.7 391.42 L329 391.94 L330.3 391.38 L331.6 391.04 L332.9 390.59 L334.2 390.69 L335.5 390.85 L336.8 390.73 L338.1 390.41 L339.4 390.58 L340.7 390.39 L342 390.72 L343.3 390.67 L344.6 391.4 L345.9 391.46 L347.2 391.79 L348.5 392.66 L349.8 394.19 L351.1 394.41 L352.4 394.15 L353.7 394.03 L355 394.6 L356.3 395.15 L357.6 395.45 L358.9 395.04 L360.2 395.1 L361.5 394.98 L362.8 395.03 L364.1 394.84 L365.4 394.92 L366.7 394.05 L368 394.04 L369.3 394.76 L370.6 394.48 L371.9 394.99 L373.2 394.38 L374.5 394.48 L375.8 394.86 L377.1 394.36 L378.4 394.25 L379.7 395.63 L381 394.85 L382.3 394.47 L383.6 394.34 L384.9 394.56 L386.2 394.64 L387.5 395.14 L388.8 395.31 L390.1 394.84 L391.4 394.63 L392.7 394.03 L394 393.7 L395.3 393.88 L396.6 394.65 L397.9 394.75 L399.2 395.21 L400.5 395.56 L401.8 395.28 L403.1 396.23 L404.4 395.55 L405.7 395.22 L407 395.19 L408.3 395.96 L409.6 395.8 L410.9 395.5 L412.2 395.94 L413.5 396.43 L414.8 396.11 L416.1 395.88 L417.4 396.38 L418.7 396.58 L420 396.67 L421.3 395.92 L422.6 396.03 L423.9 396.12 L425.2 395.18 L426.5 396.07 L427.8 394.54 L429.1 392.84 L430.4 392.45 L431.7 392.11 L433 392.19 L434.3 392.88 L435.6 393.49 L436.9 393.61 L438.2 393.21 L439.5 392.56 L440.8 392.25 L442.1 391.97 L443.4 391.66 L444.7 391.91 L446 391.75 L447.3 391.85 L448.6 391.43 L449.9 391.13 L451.2 391.23 L452.5 391.16 L453.8 391.76 L455.1 391.06 L456.4 391.17 L457.7 391.05 L459 390.36 L460.3 390.89 L461.6 390.85 L462.9 389.73 L464.2 390.36 L465.5 390.77 L466.8 390.13 L468.1 390.9 L469.4 390.47 L470.7 389.55 L472 389.79 L473.3 389.39 L474.6 388.66 L475.9 387.83 L477.2 388.42 L478.5 388.17 L479.8 388.59 L481.1 388.59 L482.4 388.09 L483.7 387.98 L485 389.08 L486.3 389.67 L487.6 389.59 L488.9 389.1 L490.2 388.64 L491.5 388.74 L492.8 389.8 L494.1 389.85 L495.4 389.59 L496.7 389.09 L498 389.23 L499.3 388.66 L500.6 388.65 L501.9 388.85 L503.2 388.97 L504.5 388.47 L505.8 387.87 L507.1 387.7 L508.4 388.26 L509.7 388.58 L511 388.23 L512.3 389.7 L513.6 390.13 L514.9 391.76 L516.2 389.79 L517.5 388.54 L518.8 387.39 L520.1 387.15 L521.4 387.45 L522.7 387.51 L524 387.66 L525.3 388.88 L526.6 389.04 L527.9 389.06 L529.2 390.31 L530.5 390.33 L531.8 390.47 L533.1 389.82 L534.4 389.86 L535.7 389.64 L537 389.48 L538.3 389.54 L539.6 389.34 L540.9 388.94 L542.2 388.51 L543.5 387.4 L544.8 387.01 L546.1 387.16 L547.4 386.73 L548.7 386.41 L550 387.07 L551.3 386.94 L552.6 387.12 L553.9 388.05 L555.2 388.08 L556.5 389.04 L557.8 389.24 L559.1 389.6 L560.4 389.72 L561.7 388.05 L563 388.04 L564.3 387.35 L565.6 387.25 L566.9 387.24 L568.2 387.72 L569.5 387.24 L570.8 387.64 L572.1 387.2 L573.4 387.37 L574.7 387.66 L576 388.34 L577.3 388.36 L578.6 388.26 L579.9 388.48 L581.2 388.24 L582.5 389.47 L583.8 390 L585.1 390.25 L586.4 390.46 L587.7 390.29 L589 389.6 L590.3 389.24 L591.6 387.91 L592.9 386.83 L594.2 387.35 L595.5 388.08 L596.8 388 L598.1 388.2 L599.4 388.27 L600.7 389 L602 388.64 L603.3 388.83 L604.6 389.24 L605.9 389.76 L607.2 389.09 L608.5 388.89 L609.8 388.39 L611.1 387.98 L612.4 387.44 L613.7 385.72 L615 384.22 L616.3 383.43 L617.6 386.95 L618.9 387.86 L620.2 388.23 L621.5 388.59 L622.8 387.9 L624.1 388.3 L625.4 387.91 L626.7 388.5 L628 388.05 L629.3 387.79" fill="none" stroke="#00ff00" stroke-width="1" stroke-linejoin="round"/><path d="M67.7 388.13 L69 388.18 L70.3 387.75 L71.6 388.03 L72.9 388.11 L74.2 388.07 L75.5 388.1 L76.8 388.27 L78.1 387.37 L79.4 387.09 L80.7 386.76 L82 385.52 L83.3 385.84 L84.6 385.3 L85.9 384.89 L87.2 385.97 L88.5 387.95 L89.8 388.78 L91.1 388.28 L92.4 387.15 L93.7 386.99 L95 387.07 L96.3 386.75 L97.6 386.75 L98.9 387.12 L100.2 387.14 L101.5 387.27 L102.8 387.07 L104.1 387.44 L105.4 388.11 L106.7 387.64 L108 386.48 L109.3 387.34 L110.6 386.72 L111.9 386.01 L113.2 385.19 L114.5 386.01 L115.8 386.7 L117.1 386.97 L118.4 386.46 L119.7 387 L121 386.56 L122.3 386.04 L123.6 385.9 L124.9 385.79 L126.2 385.56 L127.5 385.49 L128.8 384.18 L130.1 385.11 L131.4 384.5 L132.7 384.64 L134 383.95 L135.3 383.93 L136.6 383.65 L137.9 382.78 L139.2 383.17 L140.5 383.69 L141.8 383.22 L143.1 382.62 L144.4 383.03 L145.7 383.21 L147 383.8 L148.3 384.1 L149.6 385.05 L150.9 385.29 L152.2 385.35 L153.5 385.8 L154.8 384.9 L156.1 385.57 L157.4 386.14 L158.7 387.03 L160 387.34 L161.3 387.29 L162.6 387.48 L163.9 386.74 L165.2 386.72 L166.5 386.4 L167.8 386.21 L169.1 386.14 L170.4 385.74 L171.7 385.65 L173 385.39 L174.3 385.68 L175.6 385.23 L176.9 385.11 L178.2 386 L179.5 385.48 L180.8 385.09 L182.1 385.06 L183.4 384.03 L184.7 384.22 L186 384.36 L187.3 384.26 L188.6 384.43 L189.9 384.41 L191.2 384.55 L192.5 383.78 L193.8 383.85 L195.1 383.42 L196.4 383.98 L197.7 383.75 L199 382.96 L200.3 383.17 L201.6 382.75 L202.9 383.41 L204.2 383.13 L205.5 382.13 L206.8 382.41 L208.1 383.35 L209.4 383.69 L210.7 383.57 L212 384.21 L213.3 384.62 L214.6 385.37 L215.9 385.61 L217.2 385.62 L218.5 385.24 L219.8 385.25 L221.1 385.11 L222.4 384.8 L223.7 384.71 L225 383.84 L226.3 384.07 L227.6 383.82 L228.9 383.74 L230.2 383.39 L231.5 383.14 L232.8 383.21 L234.1 383.44 L235.4 383.01 L236.7 383.03 L238 382.51 L239.3 382.72 L240.6 382.61 L241.9 382.3 L243.2 384.2 L244.5 384.79 L245.8 386.07 L247.1 386.63 L248.4 384.54 L249.7 383.56 L251 382.83 L252.3 382.58 L253.6 383.44 L254.9 383.43 L256.2 384.18 L257.5 385.61 L258.8 385.31 L260.1 384.87 L261.4 384.46 L262.7 383.83 L264 383.07 L265.3 383.14 L266.6 382.18 L267.9 382.38 L269.2 382.92 L270.5 382.89 L271.8 383.92 L273.1 384.42 L274.4 384.49 L275.7 384.43 L277 384.68 L278.3 383.14 L279.6 382.86 L280.9 382.64 L282.2 382.24 L283.5 382.5 L284.8 382.37 L286.1 382.4 L287.4 381.58 L288.7 381.43 L290 381.72 L291.3 381.65 L292.6 381.5 L293.9 381.6 L295.2 381.54 L296.5 381.12 L297.8 382.09 L299.1 381.49 L300.4 381.74 L301.7 381.8 L303 381.95 L304.3 381.3 L305.6 380.75 L306.9 381.07 L308.2 381.29 L309.5 380.3 L310.8 379.74 L312.1 380.44 L313.4 380.91 L314.7 381.25 L316 381.78 L317.3 381.49 L318.6 383 L319.9 383.04 L321.2 383.28 L322.5 383.01 L323.8 381.88 L325.1 382.25 L326.4 382.04 L327.7 382.34 L329 382.21 L330.3 382.47 L331.6 381.87 L332.9 381.77 L334.2 381.85 L335.5 381.55 L336.8 381.78 L338.1 382.49 L339.4 383.55 L340.7 383.24 L342 383.66 L343.3 383.12 L344.6 383.27 L345.9 383.81 L347.2 384.31 L348.5 383.96 L349.8 384.51 L351.1 383.88 L352.4 383.75 L353.7 383.2 L355 382.42 L356.3 381.9 L357.6 382.1 L358.9 381.79 L360.2 381.72 L361.5 381.31 L362.8 381.43 L364.1 381.58 L365.4 382.25 L366.7 382.76 L368 382.44 L369.3 382.92 L370.6 383.27 L371.9 383.61 L373.2 383.29 L374.5 383.23 L375.8 382.9 L377.1 383.27 L378.4 382.32 L379.7 382.6 L381 381.56 L382.3 382.8 L383.6 383.03 L384.9 381.89 L386.2 382.07 L387.5 381.81 L388.8 381.56 L390.1 382.08 L391.4 382.16 L392.7 383.1 L394 382.91 L395.3 382.6 L396.6 382.93 L397.9 383.36 L399.2 384.13 L400.5 384.63 L401.8 384.22 L403.1 384.53 L404.4 384.72 L405.7 384.09 L407 384.24 L408.3 383.61 L409.6 383.24 L410.9 383.05 L412.2 383.09 L413.5 382.39 L414.8 383.6 L416.1 382.98 L417.4 382.56 L418.7 381.85 L420 382.2 L421.3 381.77 L422.6 382.27 L423.9 383.08 L425.2 384.2 L426.5 384.81 L427.8 386.4 L429.1 387.07 L430.4 387.98 L431.7 386.84 L433 384.64 L434.3 384.25 L435.6 384.11 L436.9 384.02 L438.2 385.52 L439.5 385.64 L440.8 386.09 L442.1 386.85 L443.4 387.1 L444.7 386.79 L446 386.45 L447.3 385.66 L448.6 385.64 L449.9 384.91 L451.2 384.33 L452.5 384.71 L453.8 383.91 L455.1 383.54 L456.4 384.33 L457.7 384.97 L459 384.76 L460.3 384.31 L461.6 384.94 L462.9 384.94 L464.2 385.16 L465.5 384.02 L466.8 384.19 L468.1 383.88 L469.4 383.61 L470.7 384.15 L472 384.43 L473.3 383.98 L474.6 383.79 L475.9 384.36 L477.2 384.27 L478.5 383.83 L479.8 383.83 L481.1 383.59 L482.4 382.81 L483.7 382.7 L485 382.93 L486.3 383.14 L487.6 382.39 L488.9 382.13 L490.2 382.04 L491.5 381.51 L492.8 382.29 L494.1 382.3 L495.4 382.59 L496.7 381.1 L498 380.87 L499.3 381.83 L500.6 380.79 L501.9 380 L503.2 380.41 L504.5 381.13 L505.8 380.9 L507.1 379.69 L508.4 379.49 L509.7 379.07 L511 378.53 L512.3 378.06 L513.6 381.64 L514.9 385.19 L516.2 385.18 L517.5 384.91 L518.8 384.12 L520.1 382.86 L521.4 383.16 L522.7 382.29 L524 383.41 L525.3 382.33 L526.6 381.38 L527.9 380.8 L529.2 381.39 L530.5 381.54 L531.8 381.66 L533.1 381.45 L534.4 381.08 L535.7 382.2 L537 382.42 L538.3 382.49 L539.6 383.92 L540.9 384.8 L542.2 384.91 L543.5 384.4 L544.8 384.11 L546.1 383.5 L547.4 381.87 L548.7 381.59 L550 379.37 L551.3 379.39 L552.6 380.63 L553.9 381.44 L555.2 382.38 L556.5 382.5 L557.8 382.46 L559.1 382.32 L560.4 381.34 L561.7 381.04 L563 380.47 L564.3 378.99 L565.6 378.87 L566.9 379.62 L568.2 379.1 L569.5 379.59 L570.8 380.02 L572.1 379.57 L573.4 379.85 L574.7 380.55 L576 380.87 L577.3 380.44 L578.6 381.33 L579.9 381.64 L581.2 381.86 L582.5 382.74 L583.8 383.01 L585.1 383.14 L586.4 383.63 L587.7 383.91 L589 383.99 L590.3 383.17 L591.6 381.86 L592.9 382.52 L594.2 382.36 L595.5 381.99 L596.8 381.43 L598.1 380.93 L599.4 380.6 L600.7 379.87 L602 380.14 L603.3 379.84 L604.6 379.1 L605.9 379.14 L607.2 378.77 L608.5 378.58 L609.8 378.62 L611.1 380.03 L612.4 381.08 L613.7 383.34 L615 385.69 L616.3 383.29 L617.6 381.14 L618.9 377.92 L620.2 377.4 L621.5 378.34 L622.8 378.66 L624.1 380.39 L625.4 380.68 L626.7 382.08 L628 383.53 L629.3 383.82" fill="none" stroke="#ff0000" stroke-width="1" stroke-linejoin="round"/><path d="M67.7 430.92 L69 431.15 L70.3 432.17 L71.6 432.25 L72.9 431.63 L74.2 432.59 L75.5 433.19 L76.8 432.24 L78.1 431.11 L79.4 432.49 L80.7 432.02 L82 430.75 L83.3 431.21 L84.6 431.42 L85.9 429.86 L87.2 430.36 L88.5 430.19 L89.8 429.61 L91.1 428.85 L92.4 428.71 L93.7 427.97 L95 427.79 L96.3 427.34 L97.6 426.84 L98.9 426.79 L100.2 426.9 L101.5 426.84 L102.8 426.54 L104.1 426.78 L105.4 425.64 L106.7 425.49 L108 425.37 L109.3 425.62 L110.6 424.28 L111.9 424.42 L113.2 424.54 L114.5 424.81 L115.8 425.76 L117.1 425.43 L118.4 425.13 L119.7 425.19 L121 425.44 L122.3 425.11 L123.6 425.68 L124.9 424.82 L126.2 425.36 L127.5 425.42 L128.8 425.56 L130.1 425.85 L131.4 425.29 L132.7 425.27 L134 425.31 L135.3 425.15 L136.6 425.11 L137.9 425.19 L139.2 425.99 L140.5 425.25 L141.8 425.39 L143.1 426.11 L144.4 427.06 L145.7 427.09 L147 427.75 L148.3 427.67 L149.6 427.54 L150.9 427.2 L152.2 427.87 L153.5 428.94 L154.8 428.96 L156.1 428.65 L157.4 429.27 L158.7 428.93 L160 428.63 L161.3 429.25 L162.6 429.19 L163.9 429.3 L165.2 428.97 L166.5 428.58 L167.8 428.52 L169.1 428.55 L170.4 429.23 L171.7 428.75 L173 428.39 L174.3 428.73 L175.6 429.71 L176.9 429.75 L178.2 429.18 L179.5 430.77 L180.8 429.75 L182.1 429.35 L183.4 429.29 L184.7 429 L186 428.47 L187.3 427.48 L188.6 427.94 L189.9 427.58 L191.2 427.7 L192.5 428.13 L193.8 427.88 L195.1 427.19 L196.4 427.3 L197.7 427.83 L199 428.13 L200.3 427.47 L201.6 427.67 L202.9 427.85 L204.2 428.25 L205.5 428.17 L206.8 428.02 L208.1 427.74 L209.4 427.88 L210.7 428.05 L212 427.74 L213.3 427.52 L214.6 428.19 L215.9 427.79 L217.2 427.28 L218.5 427.58 L219.8 426.95 L221.1 426.67 L222.4 427.31 L223.7 427.25 L225 427.54 L226.3 427.73 L227.6 427.23 L228.9 427.51 L230.2 427.32 L231.5 427.48 L232.8 427.6 L234.1 427.55 L235.4 427.06 L236.7 427.47 L238 427.59 L239.3 427.87 L240.6 427.41 L241.9 428.07 L243.2 429.27 L244.5 430.39 L245.8 431.64 L247.1 432.88 L248.4 431.18 L249.7 429.86 L251 429.56 L252.3 429.92 L253.6 429.84 L254.9 430.4 L256.2 430.33 L257.5 430.16 L258.8 430.02 L260.1 429.28 L261.4 429.59 L262.7 430.08 L264 429.4 L265.3 429.97 L266.6 429.95 L267.9 430.14 L269.2 430.32 L270.5 430.85 L271.8 431.06 L273.1 431.46 L274.4 431.04 L275.7 430.57 L277 429.57 L278.3 429.66 L279.6 428.82 L280.9 428.56 L282.2 428.64 L283.5 428.51 L284.8 429.52 L286.1 429.15 L287.4 429.12 L288.7 428.88 L290 429.02 L291.3 428.5 L292.6 429.03 L293.9 428.93 L295.2 428.87 L296.5 429.37 L297.8 429.72 L299.1 429.4 L300.4 429.05 L301.7 428.45 L303 428.41 L304.3 428.92 L305.6 429.16 L306.9 428.47 L308.2 428.58 L309.5 428.96 L310.8 428.37 L312.1 428.1 L313.4 427.75 L314.7 428.04 L316 427.21 L317.3 427.42 L318.6 427.8 L319.9 428.12 L321.2 428.84 L322.5 429.23 L323.8 429.14 L325.1 429.07 L326.4 429.17 L327.7 430 L329 430.32 L330.3 430.76 L331.6 430.77 L332.9 431.76 L334.2 432.32 L335.5 432.74 L336.8 432.39 L338.1 433.85 L339.4 434.07 L340.7 433.61 L342 434.47 L343.3 434.76 L344.6 434.9 L345.9 435.24 L347.2 436.17 L348.5 436.82 L349.8 437.26 L351.1 436.8 L352.4 436.1 L353.7 436.1 L355 435.75 L356.3 435.44 L357.6 435.46 L358.9 436.09 L360.2 435.8 L361.5 436.44 L362.8 436.25 L364.1 436.94 L365.4 437.37 L366.7 437.51 L368 437.82 L369.3 437.74 L370.6 437.5 L371.9 437.64 L373.2 437.47 L374.5 437.79 L375.8 436.5 L377.1 435.89 L378.4 435.54 L379.7 434.79 L381 433.8 L382.3 432.95 L383.6 432.26 L384.9 433.07 L386.2 433.21 L387.5 433.22 L388.8 433.84 L390.1 433.2 L391.4 433.76 L392.7 434.32 L394 435.17 L395.3 434.69 L396.6 434.68 L397.9 434.12 L399.2 434.42 L400.5 434.28 L401.8 433.51 L403.1 433.27 L404.4 432.45 L405.7 432.59 L407 432.61 L408.3 432.87 L409.6 432.35 L410.9 431.36 L412.2 431.95 L413.5 431.44 L414.8 431.33 L416.1 431.29 L417.4 431.98 L418.7 431.6 L420 431.82 L421.3 431.53 L422.6 430.93 L423.9 431.41 L425.2 431.72 L426.5 431.51 L427.8 431.07 L429.1 433.47 L430.4 434.96 L431.7 435.55 L433 435.07 L434.3 434.12 L435.6 432.99 L436.9 431.39 L438.2 430.84 L439.5 431.34 L440.8 431.71 L442.1 431.7 L443.4 431.52 L444.7 431.02 L446 431.06 L447.3 431.23 L448.6 430.84 L449.9 430.84 L451.2 430.74 L452.5 429.86 L453.8 430.07 L455.1 428.79 L456.4 427.48 L457.7 427.32 L459 425.48 L460.3 424.9 L461.6 425.31 L462.9 425.27 L464.2 424.91 L465.5 424.48 L466.8 424.78 L468.1 424.9 L469.4 424.69 L470.7 424.19 L472 423.72 L473.3 424 L474.6 424.08 L475.9 424.43 L477.2 424.11 L478.5 424.39 L479.8 423.67 L481.1 423.06 L482.4 423.75 L483.7 423.86 L485 423.97 L486.3 424.47 L487.6 424.48 L488.9 425 L490.2 425.03 L491.5 425.66 L492.8 425.15 L494.1 424.89 L495.4 424.56 L496.7 424.36 L498 423.2 L499.3 423.13 L500.6 422.93 L501.9 422.49 L503.2 422.57 L504.5 422.86 L505.8 422.94 L507.1 423.53 L508.4 422.87 L509.7 422.67 L511 423.22 L512.3 423.01 L513.6 423.11 L514.9 423.56 L516.2 424 L517.5 424.47 L518.8 424.69 L520.1 424.48 L521.4 424.26 L522.7 424.61 L524 424.36 L525.3 424.42 L526.6 424.94 L527.9 425.06 L529.2 424.99 L530.5 424.99 L531.8 425.32 L533.1 425.46 L534.4 426.47 L535.7 427.22 L537 427.58 L538.3 427.93 L539.6 427.96 L540.9 427.52 L542.2 426.97 L543.5 426.41 L544.8 425.64 L546.1 424.74 L547.4 424.54 L548.7 424.43 L550 423.96 L551.3 424.06 L552.6 424.19 L553.9 424.46 L555.2 423.75 L556.5 423.51 L557.8 423.12 L559.1 422.79 L560.4 422.53 L561.7 422.98 L563 422.27 L564.3 423.02 L565.6 422.52 L566.9 422.26 L568.2 421.73 L569.5 422.17 L570.8 422.3 L572.1 422.64 L573.4 422.82 L574.7 423.03 L576 423.15 L577.3 423.59 L578.6 423.5 L579.9 423.35 L581.2 424.19 L582.5 423.83 L583.8 423.5 L585.1 423.77 L586.4 422.63 L587.7 423.31 L589 424.18 L590.3 425.08 L591.6 425.73 L592.9 425.07 L594.2 424.57 L595.5 423.32 L596.8 423.25 L598.1 422.46 L599.4 421.3 L600.7 420.9 L602 420.06 L603.3 421.26 L604.6 420.81 L605.9 421.48 L607.2 421.43 L608.5 421.62 L609.8 421.67 L611.1 422.78 L612.4 422.58 L613.7 422.78 L615 423.35 L616.3 423.53 L617.6 423.39 L618.9 422.37 L620.2 421.2 L621.5 421.09 L622.8 420.99 L624.1 420.36 L625.4 419.19 L626.7 419.06 L628 418.58 L629.3 418.19" fill="none" stroke="#0000ff" stroke-width="1" stroke-linejoin="round"/>
<line x1="67.7" y1="525.5" x2="78.7" y2="525.5" stroke="#000" stroke-width="1"/>
<line x1="629.4" y1="525.5" x2="618.4" y2="525.5" stroke="#000" stroke-width="1"/>
<line x1="67.7" y1="520" x2="73.2" y2="520" stroke="#000" stroke-width="1"/>
<line x1="629.4" y1="520" x2="623.9" y2="520" stroke="#000" stroke-width="1"/>
<line x1="67.7" y1="514.5" x2="73.2" y2="514.5" stroke="#000" stroke-width="1"/>
<line x1="629.4" y1="514.5" x2="623.9" y2="514.5" stroke="#000" stroke-width="1"/>
<line x1="67.7" y1="509" x2="78.7" y2="509" stroke="#000" stroke-width="1"/>
<line x1="629.4" y1="509" x2="618.4" y2="509" stroke="#000" stroke-width="1"/>
<line x1="67.7" y1="503.5" x2="73.2" y2="503.5" stroke="#000" stroke-width="1"/>
<line x1="629.4" y1="503.5" x2="623.9" y2="503.5" stroke="#000" stroke-width="1"/>
<line x1="67.7" y1="498" x2="73.2" y2="498" stroke="#000" stroke-width="1"/>
<line x1="629.4" y1="498" x2="623.9" y2="498" stroke="#000" stroke-width="1"/>
<line x1="67.7" y1="492.5" x2="78.7" y2="492.5" stroke="#000" stroke-width="1"/>
<line x1="629.4" y1="492.5" x2="618.4" y2="492.5" stroke="#000" stroke-width="1"/>
<line x1="67.7" y1="487" x2="73.2" y2="487" stroke="#000" stroke-width="1"/>
<line x1="629.4" y1="487" x2="623.9" y2="487" stroke="#000" stroke-width="1"/>
<line x1="67.7" y1="481.5" x2="73.2" y2="481.5" stroke="#000" stroke-width="1"/>
<line x1="629.4" y1="481.5" x2="623.9" y2="481.5" stroke="#000" stroke-width="1"/>
<line x1="67.7" y1="476" x2="78.7" y2="476" stroke="#000" stroke-width="1"/>
<line x1="629.4" y1="476" x2="618.4" y2="476" stroke="#000" stroke-width="1"/>
<line x1="67.7" y1="470.5" x2="73.2" y2="470.5" stroke="#000" stroke-width="1"/>
<line x1="629.4" y1="470.5" x2="623.9" y2="470.5" stroke="#000" stroke-width="1"/>
<line x1="67.7" y1="465" x2="73.2" y2="465" stroke="#000" stroke-width="1"/>
<line x1="629.4" y1="465" x2="623.9" y2="465" stroke="#000" stroke-width="1"/>
<line x1="67.7" y1="459.5" x2="78.7" y2="459.5" stroke="#000" stroke-width="1"/>
<line x1="629.4" y1="459.5" x2="618.4" y2="459.5" stroke="#000" stroke-width="1"/>
<clipPath id="c6"><rect x="67.7" y="459.5" width="561.7" height="66"/></clipPath><g clip-path="url(#c6)"><line x1="67.7" y1="492.5" x2="629.4" y2="492.5" stroke="#000" stroke-width="0.9" stroke-dasharray="1.9 3.65"/><path d="M67.7 476.17 L69.7 476.16 L71.7 476.15 L73.7 476.15 L75.7 476.14 L77.7 476.13 L79.7 476.13 L81.7 475.88 L83.7 475.88 L85.7 475.87 L87.7 475.86 L89.7 475.86 L91.7 475.85 L93.7 475.84 L95.7 475.83 L97.7 475.82 L99.7 475.8 L101.7 475.79 L103.7 475.77 L105.7 475.74 L107.7 475.72 L109.7 475.68 L111.7 475.64 L113.7 475.58 L115.7 475.5 L117.7 475.38 L119.7 475.19 L121.7 474.84 L123.7 473.93 L123.85 473.8 L124 473.65 L124.15 473.49 L124.3 473.3 L124.45 473.08 L124.6 472.82 L124.75 472.51 L124.9 472.14 L125.05 471.69 L125.2 471.13 L125.35 470.41 L125.5 469.48 L125.65 468.25 L125.8 466.59 L125.95 464.37 L126.1 461.57" fill="none" stroke="#00ff00" stroke-width="1.15" stroke-linejoin="round"/><path d="M126.25 524.45 L126.4 521.5 L126.55 519.08 L126.7 517.25 L126.85 515.89 L127 514.87 L127.15 514.09 L127.3 513.48 L127.45 513 L127.6 512.6 L127.75 512.28 L127.9 512 L128.05 511.77 L128.2 511.57 L128.35 511.4 L128.5 511.25 L128.65 511.11 L128.8 511 L128.95 510.89 L129.1 510.79 L129.25 510.71 L129.4 510.63 L129.55 510.56 L129.7 510.49 L129.85 510.43 L130 510.37 L130.15 510.32 L130.3 510.27 L132.3 509.86 L134.3 509.65 L136.3 509.52 L138.3 509.43 L140.3 509.37 L142.3 509.33 L144.3 509.29 L146.3 509.26 L148.3 509.24 L150.3 509.22 L152.3 509.2 L154.3 509.19 L156.3 509.17 L158.3 509.16 L160.3 509.15 L162.3 509.15 L164.3 509.14 L166.3 509.13 L168.3 509.12 L170.3 509.12 L172.3 508.87 L174.3 508.87 L176.3 508.86 L178.3 508.86 L180.3 508.85 L182.3 508.84 L184.3 508.83 L186.3 508.82 L188.3 508.81 L190.3 508.79 L192.3 508.78 L194.3 508.76 L196.3 508.74 L198.3 508.71 L200.3 508.68 L202.3 508.64 L204.3 508.59 L206.3 508.52 L208.3 508.43 L210.3 508.29 L212.3 508.06 L214.3 507.6 L216.3 506.31 L216.45 506.11 L216.6 505.89 L216.75 505.62 L216.9 505.31 L217.05 504.94 L217.2 504.49 L217.35 503.93 L217.5 503.24 L217.65 502.35 L217.8 501.21 L217.95 499.7 L218.1 497.75 L218.25 495.3 L218.4 492.5 L218.55 489.7 L218.7 487.25 L218.85 485.3 L219 483.79 L219.15 482.65 L219.3 481.76 L219.45 481.07 L219.6 480.51 L219.75 480.06 L219.9 479.69 L220.05 479.38 L220.2 479.11 L220.35 478.89 L220.5 478.69 L220.65 478.52 L220.8 478.37 L220.95 478.23 L221.1 478.11 L221.25 478 L221.4 477.9 L221.55 477.82 L221.7 477.73 L221.85 477.66 L222 477.59 L222.15 477.53 L222.3 477.47 L222.45 477.42 L224.45 476.95 L226.45 476.72 L228.45 476.57 L230.45 476.48 L232.45 476.41 L234.45 476.36 L236.45 476.32 L238.45 476.29 L240.45 476.26 L242.45 476.24 L244.45 476.22 L246.45 476.21 L248.45 476.19 L250.45 476.18 L252.45 476.17 L254.45 476.16 L256.45 476.15 L258.45 476.14 L260.45 476.14 L262.45 476.13 L264.45 476.13 L266.45 475.88 L268.45 475.88 L270.45 475.87 L272.45 475.86 L274.45 475.86 L276.45 475.85 L278.45 475.84 L280.45 475.83 L282.45 475.81 L284.45 475.8 L286.45 475.78 L288.45 475.76 L290.45 475.74 L292.45 475.71 L294.45 475.68 L296.45 475.63 L298.45 475.57 L300.45 475.49 L302.45 475.36 L304.45 475.16 L306.45 474.77 L308.45 473.7 L308.6 473.54 L308.75 473.36 L308.9 473.15 L309.05 472.91 L309.2 472.62 L309.35 472.27 L309.5 471.85 L309.65 471.33 L309.8 470.67 L309.95 469.82 L310.1 468.7 L310.25 467.2 L310.4 465.18 L310.55 462.56" fill="none" stroke="#00ff00" stroke-width="1.15" stroke-linejoin="round"/><path d="M310.7 525.5 L310.85 522.44 L311 519.82 L311.15 517.8 L311.3 516.3 L311.45 515.18 L311.6 514.33 L311.75 513.67 L311.9 513.15 L312.05 512.73 L312.2 512.38 L312.35 512.09 L312.5 511.85 L312.65 511.64 L312.8 511.46 L312.95 511.3 L313.1 511.16 L313.25 511.03 L313.4 510.92 L313.55 510.82 L313.7 510.73 L313.85 510.65 L314 510.58 L314.15 510.51 L314.3 510.45 L314.45 510.39 L314.6 510.34 L314.75 510.29 L316.75 509.87 L318.75 509.65 L320.75 509.52 L322.75 509.44 L324.75 509.37 L326.75 509.33 L328.75 509.29 L330.75 509.26 L332.75 509.24 L334.75 509.22 L336.75 509.2 L338.75 509.19 L340.75 509.17 L342.75 509.16 L344.75 509.15 L346.75 509.15 L348.75 509.14 L350.75 509.13 L352.75 509.12 L354.75 509.12 L356.75 509.11 L358.75 508.87 L360.75 508.86 L362.75 508.86 L364.75 508.85 L366.75 508.84 L368.75 508.83 L370.75 508.82 L372.75 508.81 L374.75 508.79 L376.75 508.78 L378.75 508.76 L380.75 508.74 L382.75 508.71 L384.75 508.68 L386.75 508.64 L388.75 508.59 L390.75 508.52 L392.75 508.43 L394.75 508.29 L396.75 508.06 L398.75 507.62 L400.75 506.37 L400.9 506.18 L401.05 505.96 L401.2 505.71 L401.35 505.42 L401.5 505.07 L401.65 504.65 L401.8 504.13 L401.95 503.49 L402.1 502.67 L402.25 501.62 L402.4 500.25 L402.55 498.45 L402.7 496.16 L402.85 493.45 L403 490.61 L403.15 488.02 L403.3 485.89 L403.45 484.25 L403.6 483 L403.75 482.03 L403.9 481.28 L404.05 480.69 L404.2 480.2 L404.35 479.81 L404.5 479.48 L404.65 479.2 L404.8 478.96 L404.95 478.75 L405.1 478.57 L405.25 478.41 L405.4 478.27 L405.55 478.15 L405.7 478.04 L405.85 477.94 L406 477.84 L406.15 477.76 L406.3 477.68 L406.45 477.61 L406.6 477.55 L406.75 477.49 L406.9 477.44 L407.05 477.38 L409.05 476.94 L411.05 476.71 L413.05 476.57 L415.05 476.48 L417.05 476.41 L419.05 476.36 L421.05 476.32 L423.05 476.29 L425.05 476.26 L427.05 476.24 L429.05 476.22 L431.05 476.21 L433.05 476.19 L435.05 476.18 L437.05 476.17 L439.05 476.16 L441.05 476.15 L443.05 476.14 L445.05 476.14 L447.05 476.13 L449.05 476.13 L451.05 475.88 L453.05 475.88 L455.05 475.87 L457.05 475.86 L459.05 475.85 L461.05 475.85 L463.05 475.84 L465.05 475.83 L467.05 475.81 L469.05 475.8 L471.05 475.78 L473.05 475.76 L475.05 475.74 L477.05 475.71 L479.05 475.67 L481.05 475.63 L483.05 475.57 L485.05 475.48 L487.05 475.36 L489.05 475.15 L491.05 474.74 L493.05 473.6 L493.2 473.43 L493.35 473.23 L493.5 473 L493.65 472.72 L493.8 472.4 L493.95 472 L494.1 471.52 L494.25 470.91 L494.4 470.13 L494.55 469.11 L494.7 467.75 L494.85 465.92 L495 463.5 L495.15 460.55" fill="none" stroke="#00ff00" stroke-width="1.15" stroke-linejoin="round"/><path d="M495.3 523.43 L495.45 520.63 L495.6 518.41 L495.75 516.75 L495.9 515.52 L496.05 514.59 L496.2 513.87 L496.35 513.31 L496.5 512.86 L496.65 512.49 L496.8 512.18 L496.95 511.92 L497.1 511.7 L497.25 511.51 L497.4 511.35 L497.55 511.2 L497.7 511.07 L497.85 510.96 L498 510.86 L498.15 510.76 L498.3 510.68 L498.45 510.6 L498.6 510.53 L498.75 510.47 L498.9 510.41 L499.05 510.36 L499.2 510.31 L499.35 510.26 L501.35 509.85 L503.35 509.64 L505.35 509.52 L507.35 509.43 L509.35 509.37 L511.35 509.33 L513.35 509.29 L515.35 509.26 L517.35 509.24 L519.35 509.22 L521.35 509.2 L523.35 509.19 L525.35 509.17 L527.35 509.16 L529.35 509.15 L531.35 509.15 L533.35 509.14 L535.35 509.13 L537.35 509.12 L539.35 509.12 L541.35 508.87 L543.35 508.87 L545.35 508.86 L547.35 508.86 L549.35 508.85 L551.35 508.84 L553.35 508.83 L555.35 508.82 L557.35 508.81 L559.35 508.79 L561.35 508.78 L563.35 508.76 L565.35 508.74 L567.35 508.71 L569.35 508.68 L571.35 508.64 L573.35 508.59 L575.35 508.52 L577.35 508.43 L579.35 508.28 L581.35 508.05 L583.35 507.58 L585.35 506.25 L585.5 506.04 L585.65 505.8 L585.8 505.52 L585.95 505.19 L586.1 504.8 L586.25 504.31 L586.4 503.72 L586.55 502.97 L586.7 502 L586.85 500.75 L587 499.11 L587.15 496.98 L587.3 494.39 L587.45 491.55 L587.6 488.84 L587.75 486.55 L587.9 484.75 L588.05 483.38 L588.2 482.33 L588.35 481.51 L588.5 480.87 L588.65 480.35 L588.8 479.93 L588.95 479.58 L589.1 479.29 L589.25 479.04 L589.4 478.82 L589.55 478.63 L589.7 478.47 L589.85 478.32 L590 478.19 L590.15 478.07 L590.3 477.97 L590.45 477.87 L590.6 477.79 L590.75 477.71 L590.9 477.64 L591.05 477.57 L591.2 477.51 L591.35 477.45 L591.5 477.4 L593.5 476.94 L595.5 476.71 L597.5 476.57 L599.5 476.48 L601.5 476.41 L603.5 476.36 L605.5 476.32 L607.5 476.29 L609.5 476.26 L611.5 476.24 L613.5 476.22 L615.5 476.21 L617.5 476.19 L619.5 476.18 L621.5 476.17 L623.5 476.16 L625.5 476.15 L627.5 476.14" fill="none" stroke="#00ff00" stroke-width="1.15" stroke-linejoin="round"/><line x1="126.2" y1="461" x2="126.2" y2="524" stroke="#00ff00" stroke-width="1"/><line x1="310.7" y1="461" x2="310.7" y2="524" stroke="#00ff00" stroke-width="1"/><line x1="495.2" y1="461" x2="495.2" y2="524" stroke="#00ff00" stroke-width="1"/><path d="M67.7 501.33 L126.2 459.5 L218.4 525.5 L310.7 459.5 L402.9 525.5 L495.2 459.5 L587.4 525.5 L629.4 495.47" fill="none" stroke="#ff2020" stroke-width="1" stroke-linejoin="round"/></g>
<rect x="67.7" y="16.5" width="561.7" height="88" fill="none" stroke="#000" stroke-width="1"/>
<rect x="67.7" y="109.5" width="561.7" height="66" fill="none" stroke="#000" stroke-width="1"/>
<rect x="67.7" y="180.5" width="561.7" height="88" fill="none" stroke="#000" stroke-width="1"/>
<rect x="67.7" y="273.5" width="561.7" height="88" fill="none" stroke="#000" stroke-width="1"/>
<rect x="67.7" y="366.5" width="561.7" height="88" fill="none" stroke="#000" stroke-width="1"/>
<rect x="67.7" y="459.5" width="561.7" height="66" fill="none" stroke="#000" stroke-width="1"/>
<line x1="67.7" y1="16.5" x2="67.7" y2="13.5" stroke="#000" stroke-width="1"/>
<line x1="83.3" y1="16.5" x2="83.3" y2="13.5" stroke="#000" stroke-width="1"/>
<line x1="98.91" y1="16.5" x2="98.91" y2="13.5" stroke="#000" stroke-width="1"/>
<line x1="114.51" y1="16.5" x2="114.51" y2="11.5" stroke="#000" stroke-width="1"/>
<line x1="130.11" y1="16.5" x2="130.11" y2="13.5" stroke="#000" stroke-width="1"/>
<line x1="145.71" y1="16.5" x2="145.71" y2="13.5" stroke="#000" stroke-width="1"/>
<line x1="161.32" y1="16.5" x2="161.32" y2="13.5" stroke="#000" stroke-width="1"/>
<line x1="176.92" y1="16.5" x2="176.92" y2="13.5" stroke="#000" stroke-width="1"/>
<line x1="192.52" y1="16.5" x2="192.52" y2="13.5" stroke="#000" stroke-width="1"/>
<line x1="208.12" y1="16.5" x2="208.12" y2="11.5" stroke="#000" stroke-width="1"/>
<line x1="223.73" y1="16.5" x2="223.73" y2="13.5" stroke="#000" stroke-width="1"/>
<line x1="239.33" y1="16.5" x2="239.33" y2="13.5" stroke="#000" stroke-width="1"/>
<line x1="254.93" y1="16.5" x2="254.93" y2="13.5" stroke="#000" stroke-width="1"/>
<line x1="270.54" y1="16.5" x2="270.54" y2="13.5" stroke="#000" stroke-width="1"/>
<line x1="286.14" y1="16.5" x2="286.14" y2="13.5" stroke="#000" stroke-width="1"/>
<line x1="301.74" y1="16.5" x2="301.74" y2="11.5" stroke="#000" stroke-width="1"/>
<line x1="317.34" y1="16.5" x2="317.34" y2="13.5" stroke="#000" stroke-width="1"/>
<line x1="332.95" y1="16.5" x2="332.95" y2="13.5" stroke="#000" stroke-width="1"/>
<line x1="348.55" y1="16.5" x2="348.55" y2="13.5" stroke="#000" stroke-width="1"/>
<line x1="364.15" y1="16.5" x2="364.15" y2="13.5" stroke="#000" stroke-width="1"/>
<line x1="379.76" y1="16.5" x2="379.76" y2="13.5" stroke="#000" stroke-width="1"/>
<line x1="395.36" y1="16.5" x2="395.36" y2="11.5" stroke="#000" stroke-width="1"/>
<line x1="410.96" y1="16.5" x2="410.96" y2="13.5" stroke="#000" stroke-width="1"/>
<line x1="426.56" y1="16.5" x2="426.56" y2="13.5" stroke="#000" stroke-width="1"/>
<line x1="442.17" y1="16.5" x2="442.17" y2="13.5" stroke="#000" stroke-width="1"/>
<line x1="457.77" y1="16.5" x2="457.77" y2="13.5" stroke="#000" stroke-width="1"/>
<line x1="473.37" y1="16.5" x2="473.37" y2="13.5" stroke="#000" stroke-width="1"/>
<line x1="488.97" y1="16.5" x2="488.97" y2="11.5" stroke="#000" stroke-width="1"/>
<line x1="504.58" y1="16.5" x2="504.58" y2="13.5" stroke="#000" stroke-width="1"/>
<line x1="520.18" y1="16.5" x2="520.18" y2="13.5" stroke="#000" stroke-width="1"/>
<line x1="535.78" y1="16.5" x2="535.78" y2="13.5" stroke="#000" stroke-width="1"/>
<line x1="551.39" y1="16.5" x2="551.39" y2="13.5" stroke="#000" stroke-width="1"/>
<line x1="566.99" y1="16.5" x2="566.99" y2="13.5" stroke="#000" stroke-width="1"/>
<line x1="582.59" y1="16.5" x2="582.59" y2="11.5" stroke="#000" stroke-width="1"/>
<line x1="598.19" y1="16.5" x2="598.19" y2="13.5" stroke="#000" stroke-width="1"/>
<line x1="613.8" y1="16.5" x2="613.8" y2="13.5" stroke="#000" stroke-width="1"/>
<line x1="629.4" y1="16.5" x2="629.4" y2="13.5" stroke="#000" stroke-width="1"/>
<line x1="67.7" y1="109.5" x2="67.7" y2="106.5" stroke="#000" stroke-width="1"/>
<line x1="83.3" y1="109.5" x2="83.3" y2="106.5" stroke="#000" stroke-width="1"/>
<line x1="98.91" y1="109.5" x2="98.91" y2="106.5" stroke="#000" stroke-width="1"/>
<line x1="114.51" y1="109.5" x2="114.51" y2="104.5" stroke="#000" stroke-width="1"/>
<line x1="130.11" y1="109.5" x2="130.11" y2="106.5" stroke="#000" stroke-width="1"/>
<line x1="145.71" y1="109.5" x2="145.71" y2="106.5" stroke="#000" stroke-width="1"/>
<line x1="161.32" y1="109.5" x2="161.32" y2="106.5" stroke="#000" stroke-width="1"/>
<line x1="176.92" y1="109.5" x2="176.92" y2="106.5" stroke="#000" stroke-width="1"/>
<line x1="192.52" y1="109.5" x2="192.52" y2="106.5" stroke="#000" stroke-width="1"/>
<line x1="208.12" y1="109.5" x2="208.12" y2="104.5" stroke="#000" stroke-width="1"/>
<line x1="223.73" y1="109.5" x2="223.73" y2="106.5" stroke="#000" stroke-width="1"/>
<line x1="239.33" y1="109.5" x2="239.33" y2="106.5" stroke="#000" stroke-width="1"/>
<line x1="254.93" y1="109.5" x2="254.93" y2="106.5" stroke="#000" stroke-width="1"/>
<line x1="270.54" y1="109.5" x2="270.54" y2="106.5" stroke="#000" stroke-width="1"/>
<line x1="286.14" y1="109.5" x2="286.14" y2="106.5" stroke="#000" stroke-width="1"/>
<line x1="301.74" y1="109.5" x2="301.74" y2="104.5" stroke="#000" stroke-width="1"/>
<line x1="317.34" y1="109.5" x2="317.34" y2="106.5" stroke="#000" stroke-width="1"/>
<line x1="332.95" y1="109.5" x2="332.95" y2="106.5" stroke="#000" stroke-width="1"/>
<line x1="348.55" y1="109.5" x2="348.55" y2="106.5" stroke="#000" stroke-width="1"/>
<line x1="364.15" y1="109.5" x2="364.15" y2="106.5" stroke="#000" stroke-width="1"/>
<line x1="379.76" y1="109.5" x2="379.76" y2="106.5" stroke="#000" stroke-width="1"/>
<line x1="395.36" y1="109.5" x2="395.36" y2="104.5" stroke="#000" stroke-width="1"/>
<line x1="410.96" y1="109.5" x2="410.96" y2="106.5" stroke="#000" stroke-width="1"/>
<line x1="426.56" y1="109.5" x2="426.56" y2="106.5" stroke="#000" stroke-width="1"/>
<line x1="442.17" y1="109.5" x2="442.17" y2="106.5" stroke="#000" stroke-width="1"/>
<line x1="457.77" y1="109.5" x2="457.77" y2="106.5" stroke="#000" stroke-width="1"/>
<line x1="473.37" y1="109.5" x2="473.37" y2="106.5" stroke="#000" stroke-width="1"/>
<line x1="488.97" y1="109.5" x2="488.97" y2="104.5" stroke="#000" stroke-width="1"/>
<line x1="504.58" y1="109.5" x2="504.58" y2="106.5" stroke="#000" stroke-width="1"/>
<line x1="520.18" y1="109.5" x2="520.18" y2="106.5" stroke="#000" stroke-width="1"/>
<line x1="535.78" y1="109.5" x2="535.78" y2="106.5" stroke="#000" stroke-width="1"/>
<line x1="551.39" y1="109.5" x2="551.39" y2="106.5" stroke="#000" stroke-width="1"/>
<line x1="566.99" y1="109.5" x2="566.99" y2="106.5" stroke="#000" stroke-width="1"/>
<line x1="582.59" y1="109.5" x2="582.59" y2="104.5" stroke="#000" stroke-width="1"/>
<line x1="598.19" y1="109.5" x2="598.19" y2="106.5" stroke="#000" stroke-width="1"/>
<line x1="613.8" y1="109.5" x2="613.8" y2="106.5" stroke="#000" stroke-width="1"/>
<line x1="629.4" y1="109.5" x2="629.4" y2="106.5" stroke="#000" stroke-width="1"/>
<line x1="67.7" y1="180.5" x2="67.7" y2="177.5" stroke="#000" stroke-width="1"/>
<line x1="83.3" y1="180.5" x2="83.3" y2="177.5" stroke="#000" stroke-width="1"/>
<line x1="98.91" y1="180.5" x2="98.91" y2="177.5" stroke="#000" stroke-width="1"/>
<line x1="114.51" y1="180.5" x2="114.51" y2="175.5" stroke="#000" stroke-width="1"/>
<line x1="130.11" y1="180.5" x2="130.11" y2="177.5" stroke="#000" stroke-width="1"/>
<line x1="145.71" y1="180.5" x2="145.71" y2="177.5" stroke="#000" stroke-width="1"/>
<line x1="161.32" y1="180.5" x2="161.32" y2="177.5" stroke="#000" stroke-width="1"/>
<line x1="176.92" y1="180.5" x2="176.92" y2="177.5" stroke="#000" stroke-width="1"/>
<line x1="192.52" y1="180.5" x2="192.52" y2="177.5" stroke="#000" stroke-width="1"/>
<line x1="208.12" y1="180.5" x2="208.12" y2="175.5" stroke="#000" stroke-width="1"/>
<line x1="223.73" y1="180.5" x2="223.73" y2="177.5" stroke="#000" stroke-width="1"/>
<line x1="239.33" y1="180.5" x2="239.33" y2="177.5" stroke="#000" stroke-width="1"/>
<line x1="254.93" y1="180.5" x2="254.93" y2="177.5" stroke="#000" stroke-width="1"/>
<line x1="270.54" y1="180.5" x2="270.54" y2="177.5" stroke="#000" stroke-width="1"/>
<line x1="286.14" y1="180.5" x2="286.14" y2="177.5" stroke="#000" stroke-width="1"/>
<line x1="301.74" y1="180.5" x2="301.74" y2="175.5" stroke="#000" stroke-width="1"/>
<line x1="317.34" y1="180.5" x2="317.34" y2="177.5" stroke="#000" stroke-width="1"/>
<line x1="332.95" y1="180.5" x2="332.95" y2="177.5" stroke="#000" stroke-width="1"/>
<line x1="348.55" y1="180.5" x2="348.55" y2="177.5" stroke="#000" stroke-width="1"/>
<line x1="364.15" y1="180.5" x2="364.15" y2="177.5" stroke="#000" stroke-width="1"/>
<line x1="379.76" y1="180.5" x2="379.76" y2="177.5" stroke="#000" stroke-width="1"/>
<line x1="395.36" y1="180.5" x2="395.36" y2="175.5" stroke="#000" stroke-width="1"/>
<line x1="410.96" y1="180.5" x2="410.96" y2="177.5" stroke="#000" stroke-width="1"/>
<line x1="426.56" y1="180.5" x2="426.56" y2="177.5" stroke="#000" stroke-width="1"/>
<line x1="442.17" y1="180.5" x2="442.17" y2="177.5" stroke="#000" stroke-width="1"/>
<line x1="457.77" y1="180.5" x2="457.77" y2="177.5" stroke="#000" stroke-width="1"/>
<line x1="473.37" y1="180.5" x2="473.37" y2="177.5" stroke="#000" stroke-width="1"/>
<line x1="488.97" y1="180.5" x2="488.97" y2="175.5" stroke="#000" stroke-width="1"/>
<line x1="504.58" y1="180.5" x2="504.58" y2="177.5" stroke="#000" stroke-width="1"/>
<line x1="520.18" y1="180.5" x2="520.18" y2="177.5" stroke="#000" stroke-width="1"/>
<line x1="535.78" y1="180.5" x2="535.78" y2="177.5" stroke="#000" stroke-width="1"/>
<line x1="551.39" y1="180.5" x2="551.39" y2="177.5" stroke="#000" stroke-width="1"/>
<line x1="566.99" y1="180.5" x2="566.99" y2="177.5" stroke="#000" stroke-width="1"/>
<line x1="582.59" y1="180.5" x2="582.59" y2="175.5" stroke="#000" stroke-width="1"/>
<line x1="598.19" y1="180.5" x2="598.19" y2="177.5" stroke="#000" stroke-width="1"/>
<line x1="613.8" y1="180.5" x2="613.8" y2="177.5" stroke="#000" stroke-width="1"/>
<line x1="629.4" y1="180.5" x2="629.4" y2="177.5" stroke="#000" stroke-width="1"/>
<line x1="67.7" y1="273.5" x2="67.7" y2="270.5" stroke="#000" stroke-width="1"/>
<line x1="83.3" y1="273.5" x2="83.3" y2="270.5" stroke="#000" stroke-width="1"/>
<line x1="98.91" y1="273.5" x2="98.91" y2="270.5" stroke="#000" stroke-width="1"/>
<line x1="114.51" y1="273.5" x2="114.51" y2="268.5" stroke="#000" stroke-width="1"/>
<line x1="130.11" y1="273.5" x2="130.11" y2="270.5" stroke="#000" stroke-width="1"/>
<line x1="145.71" y1="273.5" x2="145.71" y2="270.5" stroke="#000" stroke-width="1"/>
<line x1="161.32" y1="273.5" x2="161.32" y2="270.5" stroke="#000" stroke-width="1"/>
<line x1="176.92" y1="273.5" x2="176.92" y2="270.5" stroke="#000" stroke-width="1"/>
<line x1="192.52" y1="273.5" x2="192.52" y2="270.5" stroke="#000" stroke-width="1"/>
<line x1="208.12" y1="273.5" x2="208.12" y2="268.5" stroke="#000" stroke-width="1"/>
<line x1="223.73" y1="273.5" x2="223.73" y2="270.5" stroke="#000" stroke-width="1"/>
<line x1="239.33" y1="273.5" x2="239.33" y2="270.5" stroke="#000" stroke-width="1"/>
<line x1="254.93" y1="273.5" x2="254.93" y2="270.5" stroke="#000" stroke-width="1"/>
<line x1="270.54" y1="273.5" x2="270.54" y2="270.5" stroke="#000" stroke-width="1"/>
<line x1="286.14" y1="273.5" x2="286.14" y2="270.5" stroke="#000" stroke-width="1"/>
<line x1="301.74" y1="273.5" x2="301.74" y2="268.5" stroke="#000" stroke-width="1"/>
<line x1="317.34" y1="273.5" x2="317.34" y2="270.5" stroke="#000" stroke-width="1"/>
<line x1="332.95" y1="273.5" x2="332.95" y2="270.5" stroke="#000" stroke-width="1"/>
<line x1="348.55" y1="273.5" x2="348.55" y2="270.5" stroke="#000" stroke-width="1"/>
<line x1="364.15" y1="273.5" x2="364.15" y2="270.5" stroke="#000" stroke-width="1"/>
<line x1="379.76" y1="273.5" x2="379.76" y2="270.5" stroke="#000" stroke-width="1"/>
<line x1="395.36" y1="273.5" x2="395.36" y2="268.5" stroke="#000" stroke-width="1"/>
<line x1="410.96" y1="273.5" x2="410.96" y2="270.5" stroke="#000" stroke-width="1"/>
<line x1="426.56" y1="273.5" x2="426.56" y2="270.5" stroke="#000" stroke-width="1"/>
<line x1="442.17" y1="273.5" x2="442.17" y2="270.5" stroke="#000" stroke-width="1"/>
<line x1="457.77" y1="273.5" x2="457.77" y2="270.5" stroke="#000" stroke-width="1"/>
<line x1="473.37" y1="273.5" x2="473.37" y2="270.5" stroke="#000" stroke-width="1"/>
<line x1="488.97" y1="273.5" x2="488.97" y2="268.5" stroke="#000" stroke-width="1"/>
<line x1="504.58" y1="273.5" x2="504.58" y2="270.5" stroke="#000" stroke-width="1"/>
<line x1="520.18" y1="273.5" x2="520.18" y2="270.5" stroke="#000" stroke-width="1"/>
<line x1="535.78" y1="273.5" x2="535.78" y2="270.5" stroke="#000" stroke-width="1"/>
<line x1="551.39" y1="273.5" x2="551.39" y2="270.5" stroke="#000" stroke-width="1"/>
<line x1="566.99" y1="273.5" x2="566.99" y2="270.5" stroke="#000" stroke-width="1"/>
<line x1="582.59" y1="273.5" x2="582.59" y2="268.5" stroke="#000" stroke-width="1"/>
<line x1="598.19" y1="273.5" x2="598.19" y2="270.5" stroke="#000" stroke-width="1"/>
<line x1="613.8" y1="273.5" x2="613.8" y2="270.5" stroke="#000" stroke-width="1"/>
<line x1="629.4" y1="273.5" x2="629.4" y2="270.5" stroke="#000" stroke-width="1"/>
<line x1="67.7" y1="366.5" x2="67.7" y2="363.5" stroke="#000" stroke-width="1"/>
<line x1="83.3" y1="366.5" x2="83.3" y2="363.5" stroke="#000" stroke-width="1"/>
<line x1="98.91" y1="366.5" x2="98.91" y2="363.5" stroke="#000" stroke-width="1"/>
<line x1="114.51" y1="366.5" x2="114.51" y2="361.5" stroke="#000" stroke-width="1"/>
<line x1="130.11" y1="366.5" x2="130.11" y2="363.5" stroke="#000" stroke-width="1"/>
<line x1="145.71" y1="366.5" x2="145.71" y2="363.5" stroke="#000" stroke-width="1"/>
<line x1="161.32" y1="366.5" x2="161.32" y2="363.5" stroke="#000" stroke-width="1"/>
<line x1="176.92" y1="366.5" x2="176.92" y2="363.5" stroke="#000" stroke-width="1"/>
<line x1="192.52" y1="366.5" x2="192.52" y2="363.5" stroke="#000" stroke-width="1"/>
<line x1="208.12" y1="366.5" x2="208.12" y2="361.5" stroke="#000" stroke-width="1"/>
<line x1="223.73" y1="366.5" x2="223.73" y2="363.5" stroke="#000" stroke-width="1"/>
<line x1="239.33" y1="366.5" x2="239.33" y2="363.5" stroke="#000" stroke-width="1"/>
<line x1="254.93" y1="366.5" x2="254.93" y2="363.5" stroke="#000" stroke-width="1"/>
<line x1="270.54" y1="366.5" x2="270.54" y2="363.5" stroke="#000" stroke-width="1"/>
<line x1="286.14" y1="366.5" x2="286.14" y2="363.5" stroke="#000" stroke-width="1"/>
<line x1="301.74" y1="366.5" x2="301.74" y2="361.5" stroke="#000" stroke-width="1"/>
<line x1="317.34" y1="366.5" x2="317.34" y2="363.5" stroke="#000" stroke-width="1"/>
<line x1="332.95" y1="366.5" x2="332.95" y2="363.5" stroke="#000" stroke-width="1"/>
<line x1="348.55" y1="366.5" x2="348.55" y2="363.5" stroke="#000" stroke-width="1"/>
<line x1="364.15" y1="366.5" x2="364.15" y2="363.5" stroke="#000" stroke-width="1"/>
<line x1="379.76" y1="366.5" x2="379.76" y2="363.5" stroke="#000" stroke-width="1"/>
<line x1="395.36" y1="366.5" x2="395.36" y2="361.5" stroke="#000" stroke-width="1"/>
<line x1="410.96" y1="366.5" x2="410.96" y2="363.5" stroke="#000" stroke-width="1"/>
<line x1="426.56" y1="366.5" x2="426.56" y2="363.5" stroke="#000" stroke-width="1"/>
<line x1="442.17" y1="366.5" x2="442.17" y2="363.5" stroke="#000" stroke-width="1"/>
<line x1="457.77" y1="366.5" x2="457.77" y2="363.5" stroke="#000" stroke-width="1"/>
<line x1="473.37" y1="366.5" x2="473.37" y2="363.5" stroke="#000" stroke-width="1"/>
<line x1="488.97" y1="366.5" x2="488.97" y2="361.5" stroke="#000" stroke-width="1"/>
<line x1="504.58" y1="366.5" x2="504.58" y2="363.5" stroke="#000" stroke-width="1"/>
<line x1="520.18" y1="366.5" x2="520.18" y2="363.5" stroke="#000" stroke-width="1"/>
<line x1="535.78" y1="366.5" x2="535.78" y2="363.5" stroke="#000" stroke-width="1"/>
<line x1="551.39" y1="366.5" x2="551.39" y2="363.5" stroke="#000" stroke-width="1"/>
<line x1="566.99" y1="366.5" x2="566.99" y2="363.5" stroke="#000" stroke-width="1"/>
<line x1="582.59" y1="366.5" x2="582.59" y2="361.5" stroke="#000" stroke-width="1"/>
<line x1="598.19" y1="366.5" x2="598.19" y2="363.5" stroke="#000" stroke-width="1"/>
<line x1="613.8" y1="366.5" x2="613.8" y2="363.5" stroke="#000" stroke-width="1"/>
<line x1="629.4" y1="366.5" x2="629.4" y2="363.5" stroke="#000" stroke-width="1"/>
<line x1="67.7" y1="454.5" x2="67.7" y2="452.5" stroke="#000" stroke-width="1"/>
<line x1="83.3" y1="454.5" x2="83.3" y2="452.5" stroke="#000" stroke-width="1"/>
<line x1="98.91" y1="454.5" x2="98.91" y2="452.5" stroke="#000" stroke-width="1"/>
<line x1="114.51" y1="454.5" x2="114.51" y2="450.5" stroke="#000" stroke-width="1"/>
<line x1="130.11" y1="454.5" x2="130.11" y2="452.5" stroke="#000" stroke-width="1"/>
<line x1="145.71" y1="454.5" x2="145.71" y2="452.5" stroke="#000" stroke-width="1"/>
<line x1="161.32" y1="454.5" x2="161.32" y2="452.5" stroke="#000" stroke-width="1"/>
<line x1="176.92" y1="454.5" x2="176.92" y2="452.5" stroke="#000" stroke-width="1"/>
<line x1="192.52" y1="454.5" x2="192.52" y2="452.5" stroke="#000" stroke-width="1"/>
<line x1="208.12" y1="454.5" x2="208.12" y2="450.5" stroke="#000" stroke-width="1"/>
<line x1="223.73" y1="454.5" x2="223.73" y2="452.5" stroke="#000" stroke-width="1"/>
<line x1="239.33" y1="454.5" x2="239.33" y2="452.5" stroke="#000" stroke-width="1"/>
<line x1="254.93" y1="454.5" x2="254.93" y2="452.5" stroke="#000" stroke-width="1"/>
<line x1="270.54" y1="454.5" x2="270.54" y2="452.5" stroke="#000" stroke-width="1"/>
<line x1="286.14" y1="454.5" x2="286.14" y2="452.5" stroke="#000" stroke-width="1"/>
<line x1="301.74" y1="454.5" x2="301.74" y2="450.5" stroke="#000" stroke-width="1"/>
<line x1="317.34" y1="454.5" x2="317.34" y2="452.5" stroke="#000" stroke-width="1"/>
<line x1="332.95" y1="454.5" x2="332.95" y2="452.5" stroke="#000" stroke-width="1"/>
<line x1="348.55" y1="454.5" x2="348.55" y2="452.5" stroke="#000" stroke-width="1"/>
<line x1="364.15" y1="454.5" x2="364.15" y2="452.5" stroke="#000" stroke-width="1"/>
<line x1="379.76" y1="454.5" x2="379.76" y2="452.5" stroke="#000" stroke-width="1"/>
<line x1="395.36" y1="454.5" x2="395.36" y2="450.5" stroke="#000" stroke-width="1"/>
<line x1="410.96" y1="454.5" x2="410.96" y2="452.5" stroke="#000" stroke-width="1"/>
<line x1="426.56" y1="454.5" x2="426.56" y2="452.5" stroke="#000" stroke-width="1"/>
<line x1="442.17" y1="454.5" x2="442.17" y2="452.5" stroke="#000" stroke-width="1"/>
<line x1="457.77" y1="454.5" x2="457.77" y2="452.5" stroke="#000" stroke-width="1"/>
<line x1="473.37" y1="454.5" x2="473.37" y2="452.5" stroke="#000" stroke-width="1"/>
<line x1="488.97" y1="454.5" x2="488.97" y2="450.5" stroke="#000" stroke-width="1"/>
<line x1="504.58" y1="454.5" x2="504.58" y2="452.5" stroke="#000" stroke-width="1"/>
<line x1="520.18" y1="454.5" x2="520.18" y2="452.5" stroke="#000" stroke-width="1"/>
<line x1="535.78" y1="454.5" x2="535.78" y2="452.5" stroke="#000" stroke-width="1"/>
<line x1="551.39" y1="454.5" x2="551.39" y2="452.5" stroke="#000" stroke-width="1"/>
<line x1="566.99" y1="454.5" x2="566.99" y2="452.5" stroke="#000" stroke-width="1"/>
<line x1="582.59" y1="454.5" x2="582.59" y2="450.5" stroke="#000" stroke-width="1"/>
<line x1="598.19" y1="454.5" x2="598.19" y2="452.5" stroke="#000" stroke-width="1"/>
<line x1="613.8" y1="454.5" x2="613.8" y2="452.5" stroke="#000" stroke-width="1"/>
<line x1="629.4" y1="454.5" x2="629.4" y2="452.5" stroke="#000" stroke-width="1"/>
<line x1="67.7" y1="16.5" x2="62.2" y2="16.5" stroke="#000" stroke-width="1"/>
<line x1="629.4" y1="16.5" x2="634.9" y2="16.5" stroke="#000" stroke-width="1"/>
<line x1="67.7" y1="39.22" x2="65.2" y2="39.22" stroke="#000" stroke-width="1"/>
<line x1="629.4" y1="39.22" x2="631.9" y2="39.22" stroke="#000" stroke-width="1"/>
<line x1="67.7" y1="33.49" x2="65.2" y2="33.49" stroke="#000" stroke-width="1"/>
<line x1="629.4" y1="33.49" x2="631.9" y2="33.49" stroke="#000" stroke-width="1"/>
<line x1="67.7" y1="29.43" x2="65.2" y2="29.43" stroke="#000" stroke-width="1"/>
<line x1="629.4" y1="29.43" x2="631.9" y2="29.43" stroke="#000" stroke-width="1"/>
<line x1="67.7" y1="26.28" x2="65.2" y2="26.28" stroke="#000" stroke-width="1"/>
<line x1="629.4" y1="26.28" x2="631.9" y2="26.28" stroke="#000" stroke-width="1"/>
<line x1="67.7" y1="23.71" x2="65.2" y2="23.71" stroke="#000" stroke-width="1"/>
<line x1="629.4" y1="23.71" x2="631.9" y2="23.71" stroke="#000" stroke-width="1"/>
<line x1="67.7" y1="21.53" x2="65.2" y2="21.53" stroke="#000" stroke-width="1"/>
<line x1="629.4" y1="21.53" x2="631.9" y2="21.53" stroke="#000" stroke-width="1"/>
<line x1="67.7" y1="19.65" x2="65.2" y2="19.65" stroke="#000" stroke-width="1"/>
<line x1="629.4" y1="19.65" x2="631.9" y2="19.65" stroke="#000" stroke-width="1"/>
<line x1="67.7" y1="17.99" x2="65.2" y2="17.99" stroke="#000" stroke-width="1"/>
<line x1="629.4" y1="17.99" x2="631.9" y2="17.99" stroke="#000" stroke-width="1"/>
<line x1="67.7" y1="49" x2="62.2" y2="49" stroke="#000" stroke-width="1"/>
<line x1="629.4" y1="49" x2="634.9" y2="49" stroke="#000" stroke-width="1"/>
<line x1="67.7" y1="71.72" x2="65.2" y2="71.72" stroke="#000" stroke-width="1"/>
<line x1="629.4" y1="71.72" x2="631.9" y2="71.72" stroke="#000" stroke-width="1"/>
<line x1="67.7" y1="65.99" x2="65.2" y2="65.99" stroke="#000" stroke-width="1"/>
<line x1="629.4" y1="65.99" x2="631.9" y2="65.99" stroke="#000" stroke-width="1"/>
<line x1="67.7" y1="61.93" x2="65.2" y2="61.93" stroke="#000" stroke-width="1"/>
<line x1="629.4" y1="61.93" x2="631.9" y2="61.93" stroke="#000" stroke-width="1"/>
<line x1="67.7" y1="58.78" x2="65.2" y2="58.78" stroke="#000" stroke-width="1"/>
<line x1="629.4" y1="58.78" x2="631.9" y2="58.78" stroke="#000" stroke-width="1"/>
<line x1="67.7" y1="56.21" x2="65.2" y2="56.21" stroke="#000" stroke-width="1"/>
<line x1="629.4" y1="56.21" x2="631.9" y2="56.21" stroke="#000" stroke-width="1"/>
<line x1="67.7" y1="54.03" x2="65.2" y2="54.03" stroke="#000" stroke-width="1"/>
<line x1="629.4" y1="54.03" x2="631.9" y2="54.03" stroke="#000" stroke-width="1"/>
<line x1="67.7" y1="52.15" x2="65.2" y2="52.15" stroke="#000" stroke-width="1"/>
<line x1="629.4" y1="52.15" x2="631.9" y2="52.15" stroke="#000" stroke-width="1"/>
<line x1="67.7" y1="50.49" x2="65.2" y2="50.49" stroke="#000" stroke-width="1"/>
<line x1="629.4" y1="50.49" x2="631.9" y2="50.49" stroke="#000" stroke-width="1"/>
<line x1="67.7" y1="81.5" x2="62.2" y2="81.5" stroke="#000" stroke-width="1"/>
<line x1="629.4" y1="81.5" x2="634.9" y2="81.5" stroke="#000" stroke-width="1"/>
<line x1="67.7" y1="104.22" x2="65.2" y2="104.22" stroke="#000" stroke-width="1"/>
<line x1="629.4" y1="104.22" x2="631.9" y2="104.22" stroke="#000" stroke-width="1"/>
<line x1="67.7" y1="98.49" x2="65.2" y2="98.49" stroke="#000" stroke-width="1"/>
<line x1="629.4" y1="98.49" x2="631.9" y2="98.49" stroke="#000" stroke-width="1"/>
<line x1="67.7" y1="94.43" x2="65.2" y2="94.43" stroke="#000" stroke-width="1"/>
<line x1="629.4" y1="94.43" x2="631.9" y2="94.43" stroke="#000" stroke-width="1"/>
<line x1="67.7" y1="91.28" x2="65.2" y2="91.28" stroke="#000" stroke-width="1"/>
<line x1="629.4" y1="91.28" x2="631.9" y2="91.28" stroke="#000" stroke-width="1"/>
<line x1="67.7" y1="88.71" x2="65.2" y2="88.71" stroke="#000" stroke-width="1"/>
<line x1="629.4" y1="88.71" x2="631.9" y2="88.71" stroke="#000" stroke-width="1"/>
<line x1="67.7" y1="86.53" x2="65.2" y2="86.53" stroke="#000" stroke-width="1"/>
<line x1="629.4" y1="86.53" x2="631.9" y2="86.53" stroke="#000" stroke-width="1"/>
<line x1="67.7" y1="84.65" x2="65.2" y2="84.65" stroke="#000" stroke-width="1"/>
<line x1="629.4" y1="84.65" x2="631.9" y2="84.65" stroke="#000" stroke-width="1"/>
<line x1="67.7" y1="82.99" x2="65.2" y2="82.99" stroke="#000" stroke-width="1"/>
<line x1="629.4" y1="82.99" x2="631.9" y2="82.99" stroke="#000" stroke-width="1"/>
<line x1="67.7" y1="180.5" x2="62.2" y2="180.5" stroke="#000" stroke-width="1"/>
<line x1="629.4" y1="180.5" x2="634.9" y2="180.5" stroke="#000" stroke-width="1"/>
<line x1="67.7" y1="203.22" x2="65.2" y2="203.22" stroke="#000" stroke-width="1"/>
<line x1="629.4" y1="203.22" x2="631.9" y2="203.22" stroke="#000" stroke-width="1"/>
<line x1="67.7" y1="197.49" x2="65.2" y2="197.49" stroke="#000" stroke-width="1"/>
<line x1="629.4" y1="197.49" x2="631.9" y2="197.49" stroke="#000" stroke-width="1"/>
<line x1="67.7" y1="193.43" x2="65.2" y2="193.43" stroke="#000" stroke-width="1"/>
<line x1="629.4" y1="193.43" x2="631.9" y2="193.43" stroke="#000" stroke-width="1"/>
<line x1="67.7" y1="190.28" x2="65.2" y2="190.28" stroke="#000" stroke-width="1"/>
<line x1="629.4" y1="190.28" x2="631.9" y2="190.28" stroke="#000" stroke-width="1"/>
<line x1="67.7" y1="187.71" x2="65.2" y2="187.71" stroke="#000" stroke-width="1"/>
<line x1="629.4" y1="187.71" x2="631.9" y2="187.71" stroke="#000" stroke-width="1"/>
<line x1="67.7" y1="185.53" x2="65.2" y2="185.53" stroke="#000" stroke-width="1"/>
<line x1="629.4" y1="185.53" x2="631.9" y2="185.53" stroke="#000" stroke-width="1"/>
<line x1="67.7" y1="183.65" x2="65.2" y2="183.65" stroke="#000" stroke-width="1"/>
<line x1="629.4" y1="183.65" x2="631.9" y2="183.65" stroke="#000" stroke-width="1"/>
<line x1="67.7" y1="181.99" x2="65.2" y2="181.99" stroke="#000" stroke-width="1"/>
<line x1="629.4" y1="181.99" x2="631.9" y2="181.99" stroke="#000" stroke-width="1"/>
<line x1="67.7" y1="213" x2="62.2" y2="213" stroke="#000" stroke-width="1"/>
<line x1="629.4" y1="213" x2="634.9" y2="213" stroke="#000" stroke-width="1"/>
<line x1="67.7" y1="235.72" x2="65.2" y2="235.72" stroke="#000" stroke-width="1"/>
<line x1="629.4" y1="235.72" x2="631.9" y2="235.72" stroke="#000" stroke-width="1"/>
<line x1="67.7" y1="229.99" x2="65.2" y2="229.99" stroke="#000" stroke-width="1"/>
<line x1="629.4" y1="229.99" x2="631.9" y2="229.99" stroke="#000" stroke-width="1"/>
<line x1="67.7" y1="225.93" x2="65.2" y2="225.93" stroke="#000" stroke-width="1"/>
<line x1="629.4" y1="225.93" x2="631.9" y2="225.93" stroke="#000" stroke-width="1"/>
<line x1="67.7" y1="222.78" x2="65.2" y2="222.78" stroke="#000" stroke-width="1"/>
<line x1="629.4" y1="222.78" x2="631.9" y2="222.78" stroke="#000" stroke-width="1"/>
<line x1="67.7" y1="220.21" x2="65.2" y2="220.21" stroke="#000" stroke-width="1"/>
<line x1="629.4" y1="220.21" x2="631.9" y2="220.21" stroke="#000" stroke-width="1"/>
<line x1="67.7" y1="218.03" x2="65.2" y2="218.03" stroke="#000" stroke-width="1"/>
<line x1="629.4" y1="218.03" x2="631.9" y2="218.03" stroke="#000" stroke-width="1"/>
<line x1="67.7" y1="216.15" x2="65.2" y2="216.15" stroke="#000" stroke-width="1"/>
<line x1="629.4" y1="216.15" x2="631.9" y2="216.15" stroke="#000" stroke-width="1"/>
<line x1="67.7" y1="214.49" x2="65.2" y2="214.49" stroke="#000" stroke-width="1"/>
<line x1="629.4" y1="214.49" x2="631.9" y2="214.49" stroke="#000" stroke-width="1"/>
<line x1="67.7" y1="245.5" x2="62.2" y2="245.5" stroke="#000" stroke-width="1"/>
<line x1="629.4" y1="245.5" x2="634.9" y2="245.5" stroke="#000" stroke-width="1"/>
<line x1="67.7" y1="268.22" x2="65.2" y2="268.22" stroke="#000" stroke-width="1"/>
<line x1="629.4" y1="268.22" x2="631.9" y2="268.22" stroke="#000" stroke-width="1"/>
<line x1="67.7" y1="262.49" x2="65.2" y2="262.49" stroke="#000" stroke-width="1"/>
<line x1="629.4" y1="262.49" x2="631.9" y2="262.49" stroke="#000" stroke-width="1"/>
<line x1="67.7" y1="258.43" x2="65.2" y2="258.43" stroke="#000" stroke-width="1"/>
<line x1="629.4" y1="258.43" x2="631.9" y2="258.43" stroke="#000" stroke-width="1"/>
<line x1="67.7" y1="255.28" x2="65.2" y2="255.28" stroke="#000" stroke-width="1"/>
<line x1="629.4" y1="255.28" x2="631.9" y2="255.28" stroke="#000" stroke-width="1"/>
<line x1="67.7" y1="252.71" x2="65.2" y2="252.71" stroke="#000" stroke-width="1"/>
<line x1="629.4" y1="252.71" x2="631.9" y2="252.71" stroke="#000" stroke-width="1"/>
<line x1="67.7" y1="250.53" x2="65.2" y2="250.53" stroke="#000" stroke-width="1"/>
<line x1="629.4" y1="250.53" x2="631.9" y2="250.53" stroke="#000" stroke-width="1"/>
<line x1="67.7" y1="248.65" x2="65.2" y2="248.65" stroke="#000" stroke-width="1"/>
<line x1="629.4" y1="248.65" x2="631.9" y2="248.65" stroke="#000" stroke-width="1"/>
<line x1="67.7" y1="246.99" x2="65.2" y2="246.99" stroke="#000" stroke-width="1"/>
<line x1="629.4" y1="246.99" x2="631.9" y2="246.99" stroke="#000" stroke-width="1"/>
<line x1="67.7" y1="273.5" x2="62.2" y2="273.5" stroke="#000" stroke-width="1"/>
<line x1="629.4" y1="273.5" x2="634.9" y2="273.5" stroke="#000" stroke-width="1"/>
<line x1="67.7" y1="296.22" x2="65.2" y2="296.22" stroke="#000" stroke-width="1"/>
<line x1="629.4" y1="296.22" x2="631.9" y2="296.22" stroke="#000" stroke-width="1"/>
<line x1="67.7" y1="290.49" x2="65.2" y2="290.49" stroke="#000" stroke-width="1"/>
<line x1="629.4" y1="290.49" x2="631.9" y2="290.49" stroke="#000" stroke-width="1"/>
<line x1="67.7" y1="286.43" x2="65.2" y2="286.43" stroke="#000" stroke-width="1"/>
<line x1="629.4" y1="286.43" x2="631.9" y2="286.43" stroke="#000" stroke-width="1"/>
<line x1="67.7" y1="283.28" x2="65.2" y2="283.28" stroke="#000" stroke-width="1"/>
<line x1="629.4" y1="283.28" x2="631.9" y2="283.28" stroke="#000" stroke-width="1"/>
<line x1="67.7" y1="280.71" x2="65.2" y2="280.71" stroke="#000" stroke-width="1"/>
<line x1="629.4" y1="280.71" x2="631.9" y2="280.71" stroke="#000" stroke-width="1"/>
<line x1="67.7" y1="278.53" x2="65.2" y2="278.53" stroke="#000" stroke-width="1"/>
<line x1="629.4" y1="278.53" x2="631.9" y2="278.53" stroke="#000" stroke-width="1"/>
<line x1="67.7" y1="276.65" x2="65.2" y2="276.65" stroke="#000" stroke-width="1"/>
<line x1="629.4" y1="276.65" x2="631.9" y2="276.65" stroke="#000" stroke-width="1"/>
<line x1="67.7" y1="274.99" x2="65.2" y2="274.99" stroke="#000" stroke-width="1"/>
<line x1="629.4" y1="274.99" x2="631.9" y2="274.99" stroke="#000" stroke-width="1"/>
<line x1="67.7" y1="306" x2="62.2" y2="306" stroke="#000" stroke-width="1"/>
<line x1="629.4" y1="306" x2="634.9" y2="306" stroke="#000" stroke-width="1"/>
<line x1="67.7" y1="328.72" x2="65.2" y2="328.72" stroke="#000" stroke-width="1"/>
<line x1="629.4" y1="328.72" x2="631.9" y2="328.72" stroke="#000" stroke-width="1"/>
<line x1="67.7" y1="322.99" x2="65.2" y2="322.99" stroke="#000" stroke-width="1"/>
<line x1="629.4" y1="322.99" x2="631.9" y2="322.99" stroke="#000" stroke-width="1"/>
<line x1="67.7" y1="318.93" x2="65.2" y2="318.93" stroke="#000" stroke-width="1"/>
<line x1="629.4" y1="318.93" x2="631.9" y2="318.93" stroke="#000" stroke-width="1"/>
<line x1="67.7" y1="315.78" x2="65.2" y2="315.78" stroke="#000" stroke-width="1"/>
<line x1="629.4" y1="315.78" x2="631.9" y2="315.78" stroke="#000" stroke-width="1"/>
<line x1="67.7" y1="313.21" x2="65.2" y2="313.21" stroke="#000" stroke-width="1"/>
<line x1="629.4" y1="313.21" x2="631.9" y2="313.21" stroke="#000" stroke-width="1"/>
<line x1="67.7" y1="311.03" x2="65.2" y2="311.03" stroke="#000" stroke-width="1"/>
<line x1="629.4" y1="311.03" x2="631.9" y2="311.03" stroke="#000" stroke-width="1"/>
<line x1="67.7" y1="309.15" x2="65.2" y2="309.15" stroke="#000" stroke-width="1"/>
<line x1="629.4" y1="309.15" x2="631.9" y2="309.15" stroke="#000" stroke-width="1"/>
<line x1="67.7" y1="307.49" x2="65.2" y2="307.49" stroke="#000" stroke-width="1"/>
<line x1="629.4" y1="307.49" x2="631.9" y2="307.49" stroke="#000" stroke-width="1"/>
<line x1="67.7" y1="338.5" x2="62.2" y2="338.5" stroke="#000" stroke-width="1"/>
<line x1="629.4" y1="338.5" x2="634.9" y2="338.5" stroke="#000" stroke-width="1"/>
<line x1="67.7" y1="361.22" x2="65.2" y2="361.22" stroke="#000" stroke-width="1"/>
<line x1="629.4" y1="361.22" x2="631.9" y2="361.22" stroke="#000" stroke-width="1"/>
<line x1="67.7" y1="355.49" x2="65.2" y2="355.49" stroke="#000" stroke-width="1"/>
<line x1="629.4" y1="355.49" x2="631.9" y2="355.49" stroke="#000" stroke-width="1"/>
<line x1="67.7" y1="351.43" x2="65.2" y2="351.43" stroke="#000" stroke-width="1"/>
<line x1="629.4" y1="351.43" x2="631.9" y2="351.43" stroke="#000" stroke-width="1"/>
<line x1="67.7" y1="348.28" x2="65.2" y2="348.28" stroke="#000" stroke-width="1"/>
<line x1="629.4" y1="348.28" x2="631.9" y2="348.28" stroke="#000" stroke-width="1"/>
<line x1="67.7" y1="345.71" x2="65.2" y2="345.71" stroke="#000" stroke-width="1"/>
<line x1="629.4" y1="345.71" x2="631.9" y2="345.71" stroke="#000" stroke-width="1"/>
<line x1="67.7" y1="343.53" x2="65.2" y2="343.53" stroke="#000" stroke-width="1"/>
<line x1="629.4" y1="343.53" x2="631.9" y2="343.53" stroke="#000" stroke-width="1"/>
<line x1="67.7" y1="341.65" x2="65.2" y2="341.65" stroke="#000" stroke-width="1"/>
<line x1="629.4" y1="341.65" x2="631.9" y2="341.65" stroke="#000" stroke-width="1"/>
<line x1="67.7" y1="339.99" x2="65.2" y2="339.99" stroke="#000" stroke-width="1"/>
<line x1="629.4" y1="339.99" x2="631.9" y2="339.99" stroke="#000" stroke-width="1"/>
<line x1="67.7" y1="175.5" x2="62.2" y2="175.5" stroke="#000" stroke-width="1"/>
<line x1="629.4" y1="175.5" x2="634.9" y2="175.5" stroke="#000" stroke-width="1"/>
<line x1="67.7" y1="167.25" x2="65.2" y2="167.25" stroke="#000" stroke-width="1"/>
<line x1="629.4" y1="167.25" x2="631.9" y2="167.25" stroke="#000" stroke-width="1"/>
<line x1="67.7" y1="159" x2="62.2" y2="159" stroke="#000" stroke-width="1"/>
<line x1="629.4" y1="159" x2="634.9" y2="159" stroke="#000" stroke-width="1"/>
<line x1="67.7" y1="150.75" x2="65.2" y2="150.75" stroke="#000" stroke-width="1"/>
<line x1="629.4" y1="150.75" x2="631.9" y2="150.75" stroke="#000" stroke-width="1"/>
<line x1="67.7" y1="142.5" x2="62.2" y2="142.5" stroke="#000" stroke-width="1"/>
<line x1="629.4" y1="142.5" x2="634.9" y2="142.5" stroke="#000" stroke-width="1"/>
<line x1="67.7" y1="134.25" x2="65.2" y2="134.25" stroke="#000" stroke-width="1"/>
<line x1="629.4" y1="134.25" x2="631.9" y2="134.25" stroke="#000" stroke-width="1"/>
<line x1="67.7" y1="126" x2="62.2" y2="126" stroke="#000" stroke-width="1"/>
<line x1="629.4" y1="126" x2="634.9" y2="126" stroke="#000" stroke-width="1"/>
<line x1="67.7" y1="117.75" x2="65.2" y2="117.75" stroke="#000" stroke-width="1"/>
<line x1="629.4" y1="117.75" x2="631.9" y2="117.75" stroke="#000" stroke-width="1"/>
<line x1="67.7" y1="109.5" x2="62.2" y2="109.5" stroke="#000" stroke-width="1"/>
<line x1="629.4" y1="109.5" x2="634.9" y2="109.5" stroke="#000" stroke-width="1"/>
<line x1="67.7" y1="454.5" x2="62.2" y2="454.5" stroke="#000" stroke-width="1"/>
<line x1="629.4" y1="454.5" x2="634.9" y2="454.5" stroke="#000" stroke-width="1"/>
<line x1="67.7" y1="450.1" x2="65.2" y2="450.1" stroke="#000" stroke-width="1"/>
<line x1="629.4" y1="450.1" x2="631.9" y2="450.1" stroke="#000" stroke-width="1"/>
<line x1="67.7" y1="445.7" x2="65.2" y2="445.7" stroke="#000" stroke-width="1"/>
<line x1="629.4" y1="445.7" x2="631.9" y2="445.7" stroke="#000" stroke-width="1"/>
<line x1="67.7" y1="441.3" x2="65.2" y2="441.3" stroke="#000" stroke-width="1"/>
<line x1="629.4" y1="441.3" x2="631.9" y2="441.3" stroke="#000" stroke-width="1"/>
<line x1="67.7" y1="436.9" x2="65.2" y2="436.9" stroke="#000" stroke-width="1"/>
<line x1="629.4" y1="436.9" x2="631.9" y2="436.9" stroke="#000" stroke-width="1"/>
<line x1="67.7" y1="432.5" x2="62.2" y2="432.5" stroke="#000" stroke-width="1"/>
<line x1="629.4" y1="432.5" x2="634.9" y2="432.5" stroke="#000" stroke-width="1"/>
<line x1="67.7" y1="428.1" x2="65.2" y2="428.1" stroke="#000" stroke-width="1"/>
<line x1="629.4" y1="428.1" x2="631.9" y2="428.1" stroke="#000" stroke-width="1"/>
<line x1="67.7" y1="423.7" x2="65.2" y2="423.7" stroke="#000" stroke-width="1"/>
<line x1="629.4" y1="423.7" x2="631.9" y2="423.7" stroke="#000" stroke-width="1"/>
<line x1="67.7" y1="419.3" x2="65.2" y2="419.3" stroke="#000" stroke-width="1"/>
<line x1="629.4" y1="419.3" x2="631.9" y2="419.3" stroke="#000" stroke-width="1"/>
<line x1="67.7" y1="414.9" x2="65.2" y2="414.9" stroke="#000" stroke-width="1"/>
<line x1="629.4" y1="414.9" x2="631.9" y2="414.9" stroke="#000" stroke-width="1"/>
<line x1="67.7" y1="410.5" x2="62.2" y2="410.5" stroke="#000" stroke-width="1"/>
<line x1="629.4" y1="410.5" x2="634.9" y2="410.5" stroke="#000" stroke-width="1"/>
<line x1="67.7" y1="406.1" x2="65.2" y2="406.1" stroke="#000" stroke-width="1"/>
<line x1="629.4" y1="406.1" x2="631.9" y2="406.1" stroke="#000" stroke-width="1"/>
<line x1="67.7" y1="401.7" x2="65.2" y2="401.7" stroke="#000" stroke-width="1"/>
<line x1="629.4" y1="401.7" x2="631.9" y2="401.7" stroke="#000" stroke-width="1"/>
<line x1="67.7" y1="397.3" x2="65.2" y2="397.3" stroke="#000" stroke-width="1"/>
<line x1="629.4" y1="397.3" x2="631.9" y2="397.3" stroke="#000" stroke-width="1"/>
<line x1="67.7" y1="392.9" x2="65.2" y2="392.9" stroke="#000" stroke-width="1"/>
<line x1="629.4" y1="392.9" x2="631.9" y2="392.9" stroke="#000" stroke-width="1"/>
<line x1="67.7" y1="388.5" x2="62.2" y2="388.5" stroke="#000" stroke-width="1"/>
<line x1="629.4" y1="388.5" x2="634.9" y2="388.5" stroke="#000" stroke-width="1"/>
<line x1="67.7" y1="384.1" x2="65.2" y2="384.1" stroke="#000" stroke-width="1"/>
<line x1="629.4" y1="384.1" x2="631.9" y2="384.1" stroke="#000" stroke-width="1"/>
<line x1="67.7" y1="379.7" x2="65.2" y2="379.7" stroke="#000" stroke-width="1"/>
<line x1="629.4" y1="379.7" x2="631.9" y2="379.7" stroke="#000" stroke-width="1"/>
<line x1="67.7" y1="375.3" x2="65.2" y2="375.3" stroke="#000" stroke-width="1"/>
<line x1="629.4" y1="375.3" x2="631.9" y2="375.3" stroke="#000" stroke-width="1"/>
<line x1="67.7" y1="370.9" x2="65.2" y2="370.9" stroke="#000" stroke-width="1"/>
<line x1="629.4" y1="370.9" x2="631.9" y2="370.9" stroke="#000" stroke-width="1"/>
<line x1="67.7" y1="366.5" x2="62.2" y2="366.5" stroke="#000" stroke-width="1"/>
<line x1="629.4" y1="366.5" x2="634.9" y2="366.5" stroke="#000" stroke-width="1"/>
<line x1="67.7" y1="459.5" x2="67.7" y2="460.8" stroke="#000" stroke-width="1"/>
<line x1="67.7" y1="525.5" x2="67.7" y2="524.2" stroke="#000" stroke-width="1"/>
<line x1="83.3" y1="459.5" x2="83.3" y2="460.8" stroke="#000" stroke-width="1"/>
<line x1="83.3" y1="525.5" x2="83.3" y2="524.2" stroke="#000" stroke-width="1"/>
<line x1="98.91" y1="459.5" x2="98.91" y2="460.8" stroke="#000" stroke-width="1"/>
<line x1="98.91" y1="525.5" x2="98.91" y2="524.2" stroke="#000" stroke-width="1"/>
<line x1="114.51" y1="459.5" x2="114.51" y2="461.9" stroke="#000" stroke-width="1"/>
<line x1="114.51" y1="525.5" x2="114.51" y2="523.1" stroke="#000" stroke-width="1"/>
<line x1="130.11" y1="459.5" x2="130.11" y2="460.8" stroke="#000" stroke-width="1"/>
<line x1="130.11" y1="525.5" x2="130.11" y2="524.2" stroke="#000" stroke-width="1"/>
<line x1="145.71" y1="459.5" x2="145.71" y2="460.8" stroke="#000" stroke-width="1"/>
<line x1="145.71" y1="525.5" x2="145.71" y2="524.2" stroke="#000" stroke-width="1"/>
<line x1="161.32" y1="459.5" x2="161.32" y2="460.8" stroke="#000" stroke-width="1"/>
<line x1="161.32" y1="525.5" x2="161.32" y2="524.2" stroke="#000" stroke-width="1"/>
<line x1="176.92" y1="459.5" x2="176.92" y2="460.8" stroke="#000" stroke-width="1"/>
<line x1="176.92" y1="525.5" x2="176.92" y2="524.2" stroke="#000" stroke-width="1"/>
<line x1="192.52" y1="459.5" x2="192.52" y2="460.8" stroke="#000" stroke-width="1"/>
<line x1="192.52" y1="525.5" x2="192.52" y2="524.2" stroke="#000" stroke-width="1"/>
<line x1="208.12" y1="459.5" x2="208.12" y2="461.9" stroke="#000" stroke-width="1"/>
<line x1="208.12" y1="525.5" x2="208.12" y2="523.1" stroke="#000" stroke-width="1"/>
<line x1="223.73" y1="459.5" x2="223.73" y2="460.8" stroke="#000" stroke-width="1"/>
<line x1="223.73" y1="525.5" x2="223.73" y2="524.2" stroke="#000" stroke-width="1"/>
<line x1="239.33" y1="459.5" x2="239.33" y2="460.8" stroke="#000" stroke-width="1"/>
<line x1="239.33" y1="525.5" x2="239.33" y2="524.2" stroke="#000" stroke-width="1"/>
<line x1="254.93" y1="459.5" x2="254.93" y2="460.8" stroke="#000" stroke-width="1"/>
<line x1="254.93" y1="525.5" x2="254.93" y2="524.2" stroke="#000" stroke-width="1"/>
<line x1="270.54" y1="459.5" x2="270.54" y2="460.8" stroke="#000" stroke-width="1"/>
<line x1="270.54" y1="525.5" x2="270.54" y2="524.2" stroke="#000" stroke-width="1"/>
<line x1="286.14" y1="459.5" x2="286.14" y2="460.8" stroke="#000" stroke-width="1"/>
<line x1="286.14" y1="525.5" x2="286.14" y2="524.2" stroke="#000" stroke-width="1"/>
<line x1="301.74" y1="459.5" x2="301.74" y2="461.9" stroke="#000" stroke-width="1"/>
<line x1="301.74" y1="525.5" x2="301.74" y2="523.1" stroke="#000" stroke-width="1"/>
<line x1="317.34" y1="459.5" x2="317.34" y2="460.8" stroke="#000" stroke-width="1"/>
<line x1="317.34" y1="525.5" x2="317.34" y2="524.2" stroke="#000" stroke-width="1"/>
<line x1="332.95" y1="459.5" x2="332.95" y2="460.8" stroke="#000" stroke-width="1"/>
<line x1="332.95" y1="525.5" x2="332.95" y2="524.2" stroke="#000" stroke-width="1"/>
<line x1="348.55" y1="459.5" x2="348.55" y2="460.8" stroke="#000" stroke-width="1"/>
<line x1="348.55" y1="525.5" x2="348.55" y2="524.2" stroke="#000" stroke-width="1"/>
<line x1="364.15" y1="459.5" x2="364.15" y2="460.8" stroke="#000" stroke-width="1"/>
<line x1="364.15" y1="525.5" x2="364.15" y2="524.2" stroke="#000" stroke-width="1"/>
<line x1="379.76" y1="459.5" x2="379.76" y2="460.8" stroke="#000" stroke-width="1"/>
<line x1="379.76" y1="525.5" x2="379.76" y2="524.2" stroke="#000" stroke-width="1"/>
<line x1="395.36" y1="459.5" x2="395.36" y2="461.9" stroke="#000" stroke-width="1"/>
<line x1="395.36" y1="525.5" x2="395.36" y2="523.1" stroke="#000" stroke-width="1"/>
<line x1="410.96" y1="459.5" x2="410.96" y2="460.8" stroke="#000" stroke-width="1"/>
<line x1="410.96" y1="525.5" x2="410.96" y2="524.2" stroke="#000" stroke-width="1"/>
<line x1="426.56" y1="459.5" x2="426.56" y2="460.8" stroke="#000" stroke-width="1"/>
<line x1="426.56" y1="525.5" x2="426.56" y2="524.2" stroke="#000" stroke-width="1"/>
<line x1="442.17" y1="459.5" x2="442.17" y2="460.8" stroke="#000" stroke-width="1"/>
<line x1="442.17" y1="525.5" x2="442.17" y2="524.2" stroke="#000" stroke-width="1"/>
<line x1="457.77" y1="459.5" x2="457.77" y2="460.8" stroke="#000" stroke-width="1"/>
<line x1="457.77" y1="525.5" x2="457.77" y2="524.2" stroke="#000" stroke-width="1"/>
<line x1="473.37" y1="459.5" x2="473.37" y2="460.8" stroke="#000" stroke-width="1"/>
<line x1="473.37" y1="525.5" x2="473.37" y2="524.2" stroke="#000" stroke-width="1"/>
<line x1="488.97" y1="459.5" x2="488.97" y2="461.9" stroke="#000" stroke-width="1"/>
<line x1="488.97" y1="525.5" x2="488.97" y2="523.1" stroke="#000" stroke-width="1"/>
<line x1="504.58" y1="459.5" x2="504.58" y2="460.8" stroke="#000" stroke-width="1"/>
<line x1="504.58" y1="525.5" x2="504.58" y2="524.2" stroke="#000" stroke-width="1"/>
<line x1="520.18" y1="459.5" x2="520.18" y2="460.8" stroke="#000" stroke-width="1"/>
<line x1="520.18" y1="525.5" x2="520.18" y2="524.2" stroke="#000" stroke-width="1"/>
<line x1="535.78" y1="459.5" x2="535.78" y2="460.8" stroke="#000" stroke-width="1"/>
<line x1="535.78" y1="525.5" x2="535.78" y2="524.2" stroke="#000" stroke-width="1"/>
<line x1="551.39" y1="459.5" x2="551.39" y2="460.8" stroke="#000" stroke-width="1"/>
<line x1="551.39" y1="525.5" x2="551.39" y2="524.2" stroke="#000" stroke-width="1"/>
<line x1="566.99" y1="459.5" x2="566.99" y2="460.8" stroke="#000" stroke-width="1"/>
<line x1="566.99" y1="525.5" x2="566.99" y2="524.2" stroke="#000" stroke-width="1"/>
<line x1="582.59" y1="459.5" x2="582.59" y2="461.9" stroke="#000" stroke-width="1"/>
<line x1="582.59" y1="525.5" x2="582.59" y2="523.1" stroke="#000" stroke-width="1"/>
<line x1="598.19" y1="459.5" x2="598.19" y2="460.8" stroke="#000" stroke-width="1"/>
<line x1="598.19" y1="525.5" x2="598.19" y2="524.2" stroke="#000" stroke-width="1"/>
<line x1="613.8" y1="459.5" x2="613.8" y2="460.8" stroke="#000" stroke-width="1"/>
<line x1="613.8" y1="525.5" x2="613.8" y2="524.2" stroke="#000" stroke-width="1"/>
<line x1="629.4" y1="459.5" x2="629.4" y2="460.8" stroke="#000" stroke-width="1"/>
<line x1="629.4" y1="525.5" x2="629.4" y2="524.2" stroke="#000" stroke-width="1"/>
<defs><linearGradient id="cb1" x1="0" y1="0" x2="0" y2="1"><stop offset="0.000" stop-color="#aa0000"/><stop offset="0.030" stop-color="#ff0000"/><stop offset="0.200" stop-color="#ff8000"/><stop offset="0.320" stop-color="#ffff00"/><stop offset="0.400" stop-color="#a0ff00"/><stop offset="0.485" stop-color="#00ff00"/><stop offset="0.580" stop-color="#00ff80"/><stop offset="0.635" stop-color="#00ffff"/><stop offset="0.695" stop-color="#0080ff"/><stop offset="0.775" stop-color="#0000ff"/><stop offset="0.880" stop-color="#5500a5"/><stop offset="0.950" stop-color="#280032"/><stop offset="1.000" stop-color="#000000"/></linearGradient></defs><rect x="635.5" y="16.2" width="6.5" height="88.4" fill="url(#cb1)"/>
<defs><linearGradient id="cb3" x1="0" y1="0" x2="0" y2="1"><stop offset="0.000" stop-color="#aa0000"/><stop offset="0.030" stop-color="#ff0000"/><stop offset="0.200" stop-color="#ff8000"/><stop offset="0.320" stop-color="#ffff00"/><stop offset="0.400" stop-color="#a0ff00"/><stop offset="0.485" stop-color="#00ff00"/><stop offset="0.580" stop-color="#00ff80"/><stop offset="0.635" stop-color="#00ffff"/><stop offset="0.695" stop-color="#0080ff"/><stop offset="0.775" stop-color="#0000ff"/><stop offset="0.880" stop-color="#5500a5"/><stop offset="0.950" stop-color="#280032"/><stop offset="1.000" stop-color="#000000"/></linearGradient></defs><rect x="635.5" y="180.2" width="6.5" height="88.4" fill="url(#cb3)"/>
<defs><linearGradient id="cb4" x1="0" y1="0" x2="0" y2="1"><stop offset="0.000" stop-color="#aa0000"/><stop offset="0.030" stop-color="#ff0000"/><stop offset="0.200" stop-color="#ff8000"/><stop offset="0.320" stop-color="#ffff00"/><stop offset="0.400" stop-color="#a0ff00"/><stop offset="0.485" stop-color="#00ff00"/><stop offset="0.580" stop-color="#00ff80"/><stop offset="0.635" stop-color="#00ffff"/><stop offset="0.695" stop-color="#0080ff"/><stop offset="0.775" stop-color="#0000ff"/><stop offset="0.880" stop-color="#5500a5"/><stop offset="0.950" stop-color="#280032"/><stop offset="1.000" stop-color="#000000"/></linearGradient></defs><rect x="635.5" y="273.2" width="6.5" height="88.4" fill="url(#cb4)"/>
<text x="55.5" y="23.9" font-size="12.4" text-anchor="end">10</text>
<text x="55.1" y="18.7" font-size="8.8" text-anchor="start">4</text>
<text x="55.5" y="53.2" font-size="12.4" text-anchor="end">10</text>
<text x="55.1" y="48" font-size="8.8" text-anchor="start">3</text>
<text x="55.5" y="85.7" font-size="12.4" text-anchor="end">10</text>
<text x="55.1" y="80.5" font-size="8.8" text-anchor="start">2</text>
<text x="55.5" y="187.9" font-size="12.4" text-anchor="end">10</text>
<text x="55.1" y="182.7" font-size="8.8" text-anchor="start">4</text>
<text x="55.5" y="217.2" font-size="12.4" text-anchor="end">10</text>
<text x="55.1" y="212" font-size="8.8" text-anchor="start">3</text>
<text x="55.5" y="249.7" font-size="12.4" text-anchor="end">10</text>
<text x="55.1" y="244.5" font-size="8.8" text-anchor="start">2</text>
<text x="55.5" y="280.9" font-size="12.4" text-anchor="end">10</text>
<text x="55.1" y="275.7" font-size="8.8" text-anchor="start">4</text>
<text x="55.5" y="310.2" font-size="12.4" text-anchor="end">10</text>
<text x="55.1" y="305" font-size="8.8" text-anchor="start">3</text>
<text x="55.5" y="342.7" font-size="12.4" text-anchor="end">10</text>
<text x="55.1" y="337.5" font-size="8.8" text-anchor="start">2</text>
<text x="59.6" y="116" font-size="12" text-anchor="end" fill="#000" >180</text>
<text x="59.6" y="130" font-size="12" text-anchor="end" fill="#000" >135</text>
<text x="59.6" y="146.5" font-size="12" text-anchor="end" fill="#000" >90</text>
<text x="59.6" y="163" font-size="12" text-anchor="end" fill="#000" >45</text>
<text x="59.6" y="175.5" font-size="12" text-anchor="end" fill="#000" >0</text>
<text x="59.6" y="373.5" font-size="12" text-anchor="end" fill="#000" >5</text>
<text x="59.6" y="392.5" font-size="12" text-anchor="end" fill="#000" >0</text>
<text x="59.6" y="414.5" font-size="12" text-anchor="end" fill="#000" >-5</text>
<text x="59.6" y="436.5" font-size="12" text-anchor="end" fill="#000" >-10</text>
<text x="59.6" y="455" font-size="12" text-anchor="end" fill="#000" >-15</text>
<text x="64.3" y="467.5" font-size="12" text-anchor="end" fill="#000" >1.0</text>
<text x="64.3" y="480" font-size="12" text-anchor="end" fill="#000" >0.5</text>
<text x="64.3" y="496.5" font-size="12" text-anchor="end" fill="#000" >0.0</text>
<text x="64.3" y="513" font-size="12" text-anchor="end" fill="#000" >-0.5</text>
<text x="64.3" y="526" font-size="12" text-anchor="end" fill="#000" >-1.0</text>
<text transform="translate(645.2,23.3) scale(1.15,1)" font-size="10.5" text-anchor="start" fill="#000" >10</text>
<text transform="translate(645.2,104) scale(1.15,1)" font-size="10.5" text-anchor="start" fill="#000" >1</text>
<text transform="translate(668.7,60.7) rotate(-90)" font-size="11.5" text-anchor="middle" fill="#000">Counts</text>
<text x="644.9" y="187" font-size="10.8" text-anchor="start" fill="#000" >10</text><text x="656.1" y="182.3" font-size="8" text-anchor="start" fill="#000" >8</text><text x="644.9" y="201.8" font-size="10.8" text-anchor="start" fill="#000" >10</text><text x="656.1" y="197.1" font-size="8" text-anchor="start" fill="#000" >7</text><text x="644.9" y="219.4" font-size="10.8" text-anchor="start" fill="#000" >10</text><text x="656.1" y="214.7" font-size="8" text-anchor="start" fill="#000" >6</text><text x="644.9" y="237" font-size="10.8" text-anchor="start" fill="#000" >10</text><text x="656.1" y="232.3" font-size="8" text-anchor="start" fill="#000" >5</text><text x="644.9" y="254.6" font-size="10.8" text-anchor="start" fill="#000" >10</text><text x="656.1" y="249.9" font-size="8" text-anchor="start" fill="#000" >4</text><text x="644.9" y="267.6" font-size="10.8" text-anchor="start" fill="#000" >10</text><text x="656.1" y="262.9" font-size="8" text-anchor="start" fill="#000" >3</text>
<text x="644.9" y="280" font-size="10.8" text-anchor="start" fill="#000" >10</text><text x="656.1" y="275.3" font-size="8" text-anchor="start" fill="#000" >6</text><text x="644.9" y="306.53" font-size="10.8" text-anchor="start" fill="#000" >10</text><text x="656.1" y="301.83" font-size="8" text-anchor="start" fill="#000" >5</text><text x="644.9" y="335.87" font-size="10.8" text-anchor="start" fill="#000" >10</text><text x="656.1" y="331.17" font-size="8" text-anchor="start" fill="#000" >4</text><text x="644.9" y="360.6" font-size="10.8" text-anchor="start" fill="#000" >10</text><text x="656.1" y="355.9" font-size="8" text-anchor="start" fill="#000" >3</text>
<text transform="translate(672,223.2) rotate(-90)" font-size="12" text-anchor="middle" fill="#000" textLength="64" lengthAdjust="spacingAndGlyphs">Energy Flux</text>
<text transform="translate(682.7,224.6) rotate(-90)" font-size="11.6" text-anchor="middle" fill="#000" textLength="83.3" lengthAdjust="spacingAndGlyphs">[eV/cm<tspan font-size="7.5" dy="-4">2</tspan><tspan dy="4">/s/sr/eV]</tspan></text>
<text transform="translate(672,316.2) rotate(-90)" font-size="12" text-anchor="middle" fill="#000" textLength="64" lengthAdjust="spacingAndGlyphs">Energy Flux</text>
<text transform="translate(682.7,317.6) rotate(-90)" font-size="11.6" text-anchor="middle" fill="#000" textLength="83.3" lengthAdjust="spacingAndGlyphs">[eV/cm<tspan font-size="7.5" dy="-4">2</tspan><tspan dy="4">/s/sr/eV]</tspan></text>
<text transform="translate(13,60.5) rotate(-90)" font-size="12" text-anchor="middle" fill="#000">IMA</text><text transform="translate(22.5,60.5) rotate(-90)" font-size="12" text-anchor="middle" fill="#000">O<tspan font-size="7.5" dy="-4">+</tspan><tspan dy="4"> Energy</tspan></text><text transform="translate(32.5,60.5) rotate(-90)" font-size="12" text-anchor="middle" fill="#000">[eV]</text>
<text transform="translate(20.3,142.5) rotate(-90)" font-size="12" text-anchor="middle" fill="#000">SZA</text><text transform="translate(30.3,142.5) rotate(-90)" font-size="12" text-anchor="middle" fill="#000">[deg.]</text>
<text transform="translate(13,224.5) rotate(-90)" font-size="12" text-anchor="middle" fill="#000">ESA-S2</text><text transform="translate(22.5,224.5) rotate(-90)" font-size="12" text-anchor="middle" fill="#000">Electron Energy</text><text transform="translate(32.5,224.5) rotate(-90)" font-size="12" text-anchor="middle" fill="#000">[eV]</text>
<text transform="translate(13,317.5) rotate(-90)" font-size="12" text-anchor="middle" fill="#000">IEA</text><text transform="translate(22.5,317.5) rotate(-90)" font-size="12" text-anchor="middle" fill="#000">Ion Energy</text><text transform="translate(32.5,317.5) rotate(-90)" font-size="12" text-anchor="middle" fill="#000">[eV]</text>
<text transform="translate(23.6,410.5) rotate(-90)" font-size="12" text-anchor="middle" fill="#000">B (GSE)</text><text transform="translate(33.3,410.5) rotate(-90)" font-size="12" text-anchor="middle" fill="#000">[nT]</text>
<text transform="translate(25.6,492.5) rotate(-90)" font-size="12" text-anchor="middle" fill="#000">Lon, Lat</text><text transform="translate(35.6,492.5) rotate(-90)" font-size="12" text-anchor="middle" fill="#000">[deg.]</text>
<text x="636.5" y="381" font-size="12" text-anchor="start" fill="#ff0000" >Bz</text>
<text x="636.5" y="410" font-size="12" text-anchor="start" fill="#00ff00" >By</text>
<text x="636.5" y="439.5" font-size="12" text-anchor="start" fill="#0000ff" >Bx</text>
<text x="636.5" y="475.5" font-size="12" text-anchor="start" fill="#ff0000" >Lat/90</text>
<text x="636.5" y="508.6" font-size="12" text-anchor="start" fill="#00ff00" >Lon/180</text>
<text x="114.51" y="540.4" font-size="11.5" text-anchor="middle" fill="#000" >1500</text>
<text x="208.12" y="540.4" font-size="11.5" text-anchor="middle" fill="#000" >1600</text>
<text x="301.74" y="540.4" font-size="11.5" text-anchor="middle" fill="#000" >1700</text>
<text x="395.36" y="540.4" font-size="11.5" text-anchor="middle" fill="#000" >1800</text>
<text x="488.97" y="540.4" font-size="11.5" text-anchor="middle" fill="#000" >1900</text>
<text x="582.59" y="540.4" font-size="11.5" text-anchor="middle" fill="#000" >2000</text>
<text x="0" y="538" font-size="12" text-anchor="start" fill="#000" >hhmm</text>
<text x="0" y="549.6" font-size="12" text-anchor="start" fill="#000" >2008 Jun 19</text>
<text x="348.5" y="553" font-size="12" text-anchor="middle" fill="#000" >U T</text>
<text x="348.5" y="11" font-size="14.7" text-anchor="middle" fill="#000" >2008-06-19 14:30~20:30 UT</text>
<text x="8" y="16" font-size="20" text-anchor="start" fill="#000" >(a)</text>
<text x="8" y="605" font-size="20" text-anchor="start" fill="#000" >(b)</text>
<text x="320.6" y="586.5" font-size="14.7" text-anchor="middle" fill="#000" >Kaguya MAP/PACE IEA</text>
<text x="320.2" y="599" font-size="14.7" text-anchor="middle" fill="#000" >2008-06-19 15:29:34~15:30:06 UT</text>
<text x="164" y="617.5" font-size="14.4" text-anchor="middle" fill="#000" >120.9 eV</text>
<text x="476.3" y="617.5" font-size="14.4" text-anchor="middle" fill="#000" >268.9 eV</text>
<rect x="7" y="622.6" width="628.2" height="147" fill="#000"/>
<path d="M11.1 690.6 L318.4 690.6 L318.4 694.7 A153.65 71.2 0 0 1 11.1 694.7 Z" fill="#fff"/>
<rect x="11.1" y="688.8" width="17" height="3" fill="#fff"/>
<rect x="300.9" y="688.8" width="17.5" height="3" fill="#fff"/>
<path d="M16.75 684.92 L17.57 682.49 L18.56 680.08 L19.73 677.69 L21.08 675.32 L22.61 672.98 L24.3 670.66 L26.17 668.37 L28.21 666.11 L30.41 663.88 L32.78 661.7 L35.3 659.55 L37.99 657.45 L40.82 655.39 L43.81 653.38 L46.95 651.42 L50.23 649.51 L53.65 647.66 L57.2 645.87 L60.89 644.13 L64.7 642.46 L68.63 640.85 L72.68 639.3 L76.84 637.83 L81.11 636.42 L85.48 635.08 L89.95 633.82 L94.51 632.63 L99.15 631.51 L103.87 630.48 L108.67 629.52 L113.54 628.64 L118.46 627.84 L123.45 627.12 L128.48 626.49 L133.56 625.94 L138.67 625.47 L143.82 625.08 L148.99 624.79 L154.19 624.57 L159.39 624.44" fill="none" stroke="#fff" stroke-width="1.7" stroke-dasharray="2 3"/>
<path d="M15.5 691.02 L15.87 688.57 L16.41 686.13 L17.14 683.7 L18.04 681.29 L19.13 678.89 L20.39 676.51" fill="none" stroke="#fff" stroke-width="2.2"/>
<path d="M52.1 691.7 L52.17 690.95 L52.26 690.2 L52.36 689.46 L52.48 688.71 L52.61 687.96 L52.76 687.21 L52.92 686.47 L53.1 685.72 L53.3 684.98 L53.51 684.23 L53.74 683.49 L53.98 682.75 L54.24 682 L54.52 681.26 L54.81 680.52 L55.11 679.78 L55.44 679.05 L55.77 678.31 L56.13 677.58 L56.5 676.84 L56.88 676.11 L57.28 675.38 L57.7 674.65 L58.13 673.92 L58.58 673.19 L59.04 672.47 L59.52 671.75 L60.02 671.03 L60.53 670.31 L61.05 669.59 L61.6 668.87 L62.15 668.16 L62.73 667.45 L63.32 666.74 L63.92 666.03 L64.54 665.33 L65.18 664.63 L65.83 663.93 L66.5 663.23 L67.19 662.54" fill="none" stroke="#fff" stroke-width="2.8"/>
<path d="M67.19 662.54 L67.77 661.96 L68.36 661.39 L68.97 660.81 L69.58 660.24 L70.21 659.67 L70.85 659.11 L71.5 658.54 L72.15 657.98 L72.82 657.42 L73.51 656.86 L74.2 656.3 L74.9 655.75 L75.62 655.2 L76.34 654.65 L77.08 654.1 L77.82 653.56 L78.58 653.02 L79.35 652.48 L80.13 651.94 L80.92 651.41 L81.72 650.88 L82.54 650.35 L83.36 649.82 L84.2 649.3 L85.04 648.78 L85.9 648.26 L86.77 647.75 L87.65 647.24 L88.53 646.73 L89.44 646.22 L90.35 645.72 L91.27 645.22 L92.2 644.73 L93.15 644.24 L94.1 643.75 L95.07 643.26 L96.04 642.78 L97.03 642.3 L98.03 641.83 L99.04 641.36" fill="none" stroke="#fff" stroke-width="2.0" stroke-dasharray="3.5 1.5"/>
<path d="M99.04 641.36 L100.18 640.83 L101.34 640.32 L102.51 639.8 L103.69 639.29 L104.89 638.79 L106.1 638.29 L107.33 637.8 L108.56 637.31 L109.81 636.82 L111.08 636.35 L112.36 635.87 L113.65 635.41 L114.95 634.94 L116.27 634.49 L117.6 634.04 L118.94 633.59 L120.3 633.15 L121.67 632.72 L123.05 632.3 L124.45 631.88 L125.86 631.46 L127.28 631.05 L128.72 630.65 L130.16 630.26 L131.62 629.87 L133.1 629.49 L134.58 629.11 L136.08 628.75 L137.59 628.39 L139.11 628.03 L140.65 627.69 L142.19 627.35 L143.75 627.02 L145.32 626.69 L146.91 626.38 L148.5 626.07 L150.11 625.77 L151.73 625.48 L153.36 625.19 L155 624.92" fill="none" stroke="#fff" stroke-width="1.7" stroke-dasharray="2 3"/>
<path d="M90.36 691.21 L90.52 689.42 L90.76 687.63 L91.07 685.84 L91.45 684.06 L91.89 682.27 L92.41 680.49 L93 678.72 L93.65 676.94 L94.38 675.18 L95.18 673.41 L96.05 671.65 L97 669.9 L98.02 668.15 L99.11 666.41 L100.28 664.67 L101.52 662.95 L102.85 661.23 L104.24 659.52 L105.72 657.82 L107.28 656.12 L108.92 654.44 L110.64 652.78 L112.44 651.12 L114.33 649.48 L116.3 647.85 L118.36 646.23 L120.51 644.63 L122.76 643.05 L125.09 641.49 L127.52 639.94 L130.04 638.42 L132.67 636.92 L135.39 635.44 L138.22 633.98 L141.15 632.55 L144.18 631.15 L147.33 629.78 L150.59 628.44 L153.96 627.14 L157.45 625.87" fill="none" stroke="#fff" stroke-width="1.5" stroke-dasharray="2 3"/>
<path d="M130.21 692.28 L130.24 691.37 L130.27 690.46 L130.32 689.55 L130.38 688.64 L130.44 687.73 L130.51 686.83 L130.6 685.92 L130.69 685.01 L130.79 684.1 L130.9 683.19 L131.02 682.28 L131.15 681.38 L131.29 680.47 L131.43 679.56 L131.59 678.66 L131.76 677.75 L131.93 676.84 L132.12 675.94 L132.31 675.03 L132.52 674.12 L132.73 673.22 L132.95 672.31 L133.19 671.41 L133.43 670.5 L133.68 669.6 L133.95 668.7 L134.22 667.79 L134.5 666.89 L134.8 665.99 L135.1 665.09 L135.42 664.18 L135.74 663.28 L136.08 662.38 L136.43 661.48 L136.79 660.58 L137.16 659.68 L137.54 658.79 L137.93 657.89 L138.33 656.99 L138.75 656.09" fill="none" stroke="#fff" stroke-width="2.6"/>
<path d="M138.75 656.09 L139.05 655.46 L139.36 654.82 L139.67 654.18 L139.99 653.55 L140.32 652.91 L140.65 652.28 L140.99 651.64 L141.34 651.01 L141.69 650.38 L142.05 649.74 L142.41 649.11 L142.78 648.48 L143.16 647.85 L143.55 647.21 L143.94 646.58 L144.34 645.95 L144.74 645.32 L145.16 644.69 L145.58 644.07 L146 643.44 L146.44 642.81 L146.88 642.18 L147.33 641.56 L147.79 640.93 L148.26 640.31 L148.73 639.68 L149.21 639.06 L149.7 638.44 L150.2 637.82 L150.7 637.2 L151.22 636.58 L151.74 635.96 L152.27 635.34 L152.81 634.72 L153.36 634.1 L153.92 633.49 L154.49 632.87 L155.07 632.26 L155.65 631.65 L156.25 631.04" fill="none" stroke="#fff" stroke-width="1.8" stroke-dasharray="3 2"/>
<rect x="151.1" y="647.2" width="2.6" height="3.6" fill="#fff"/>
<rect x="151.1" y="656.7" width="2.6" height="4.3" fill="#fff"/>
<rect x="151.1" y="671.3" width="2.6" height="7.3" fill="#fff"/>
<path d="M170.12 691.93 L169.2 663.04 L166.49 639.31 L164.78 626.66 L167.42 626.55 L171.76 639.2 L175.91 662.97 L177.76 691.92Z" fill="#fff"/>
<path d="M196.43 691.88 L194.62 670.54 L190.61 654.45 L186.27 644.04 L190.39 643.68 L199.13 653.91 L208.4 670.04 L212.56 691.82Z" fill="#fff"/>
<path d="M188.57 643.85 L188.17 643.38 L187.76 642.91 L187.35 642.44 L186.93 641.97 L186.51 641.51 L186.08 641.04 L185.65 640.58 L185.21 640.11 L184.76 639.65 L184.32 639.18 L183.86 638.72 L183.4 638.26 L182.93 637.8 L182.46 637.34 L181.98 636.88 L181.5 636.42 L181.01 635.96 L180.51 635.5 L180.01 635.04 L179.5 634.59 L178.99 634.13 L178.47 633.68 L177.94 633.22 L177.41 632.77 L176.87 632.32 L176.32 631.87 L175.77 631.42 L175.21 630.97 L174.64 630.52 L174.07 630.07 L173.49 629.63 L172.9 629.18 L172.31 628.74 L171.71 628.29 L171.1 627.85 L170.48 627.41 L169.86 626.97 L169.23 626.53 L168.59 626.1 L167.95 625.66" fill="none" stroke="#fff" stroke-width="1.8" stroke-dasharray="2.2 2.6"/>
<path d="M232.51 691.69 L226.62 669.04 L219.08 656.44 L211.84 648.23 L214.44 647.86 L223.49 655.94 L233.76 668.53 L241.42 691.62Z" fill="#fff"/>
<path d="M213.4 648.01 L212.61 647.38 L211.8 646.75 L210.98 646.12 L210.14 645.49 L209.29 644.87 L208.43 644.25 L207.55 643.63 L206.66 643.02 L205.76 642.4 L204.84 641.8 L203.9 641.19 L202.96 640.59 L201.99 639.99 L201.02 639.39 L200.02 638.79 L199.02 638.2 L197.99 637.62 L196.96 637.03 L195.9 636.45 L194.84 635.87 L193.75 635.3 L192.65 634.73 L191.54 634.17 L190.41 633.6 L189.26 633.05 L188.1 632.49 L186.92 631.95 L185.72 631.4 L184.51 630.86 L183.28 630.33 L182.03 629.79 L180.77 629.27 L179.49 628.75 L178.19 628.23 L176.88 627.72 L175.54 627.22 L174.19 626.72 L172.82 626.22 L171.44 625.74 L170.03 625.25" fill="none" stroke="#fff" stroke-width="1.7" stroke-dasharray="2.2 2.6"/>
<path d="M280.92 691.65 L280.86 691.02 L280.79 690.38 L280.7 689.75 L280.61 689.11 L280.5 688.48 L280.38 687.85 L280.25 687.21 L280.11 686.58 L279.96 685.95 L279.8 685.32 L279.62 684.69 L279.44 684.05 L279.24 683.42 L279.03 682.8 L278.81 682.17 L278.58 681.54 L278.33 680.91 L278.08 680.29 L277.81 679.66 L277.53 679.04 L277.24 678.41 L276.94 677.79 L276.63 677.17 L276.31 676.55 L275.97 675.93 L275.62 675.31 L275.27 674.69 L274.9 674.07 L274.52 673.46 L274.12 672.85 L273.72 672.23 L273.3 671.62 L272.88 671.01 L272.44 670.4 L271.99 669.8 L271.53 669.19 L271.06 668.59 L270.57 667.98 L270.08 667.38 L269.57 666.78" fill="none" stroke="#fff" stroke-width="3.2"/>
<path d="M269.57 666.78 L269.01 666.14 L268.44 665.5 L267.85 664.85 L267.25 664.22 L266.64 663.58 L266.01 662.94 L265.37 662.31 L264.72 661.68 L264.05 661.05 L263.37 660.43 L262.68 659.81 L261.97 659.19 L261.25 658.57 L260.52 657.95 L259.78 657.34 L259.02 656.73 L258.24 656.12 L257.46 655.52 L256.66 654.92 L255.85 654.32 L255.02 653.73 L254.18 653.14 L253.33 652.55 L252.47 651.96 L251.59 651.38 L250.7 650.8 L249.8 650.23 L248.88 649.65 L247.95 649.09 L247.01 648.52 L246.05 647.96 L245.08 647.4 L244.1 646.85 L243.1 646.3 L242.09 645.75 L241.07 645.21 L240.04 644.68 L238.99 644.14 L237.93 643.61 L236.86 643.09" fill="none" stroke="#fff" stroke-width="2.2" stroke-dasharray="3.5 1.5"/>
<path d="M236.86 643.09 L235.61 642.49 L234.34 641.9 L233.06 641.31 L231.76 640.73 L230.45 640.16 L229.12 639.59 L227.77 639.03 L226.4 638.47 L225.02 637.93 L223.62 637.38 L222.21 636.85 L220.77 636.32 L219.33 635.8 L217.86 635.29 L216.38 634.78 L214.89 634.28 L213.37 633.79 L211.84 633.3 L210.3 632.83 L208.74 632.36 L207.16 631.89 L205.57 631.44 L203.97 631 L202.34 630.56 L200.7 630.13 L199.05 629.71 L197.38 629.3 L195.7 628.9 L194 628.51 L192.29 628.12 L190.56 627.75 L188.82 627.38 L187.06 627.02 L185.29 626.68 L183.5 626.34 L181.71 626.01 L179.89 625.7 L178.07 625.39 L176.23 625.09 L174.37 624.81" fill="none" stroke="#fff" stroke-width="1.7" stroke-dasharray="2 3"/>
<rect x="159.3" y="623.1" width="13" height="1.4" fill="#fff"/>
<path d="M323.8 690.6 L631.1 690.6 L631.1 694.7 A153.65 71.2 0 0 1 323.8 694.7 Z" fill="#fff"/>
<rect x="323.8" y="688.8" width="17" height="3" fill="#fff"/>
<rect x="613.6" y="688.8" width="17.5" height="3" fill="#fff"/>
<path d="M329.45 684.92 L330.27 682.49 L331.26 680.08 L332.43 677.69 L333.78 675.32 L335.31 672.98 L337 670.66 L338.87 668.37 L340.91 666.11 L343.11 663.88 L345.48 661.7 L348 659.55 L350.69 657.45 L353.52 655.39 L356.51 653.38 L359.65 651.42 L362.93 649.51 L366.35 647.66 L369.9 645.87 L373.59 644.13 L377.4 642.46 L381.33 640.85 L385.38 639.3 L389.54 637.83 L393.81 636.42 L398.18 635.08 L402.65 633.82 L407.21 632.63 L411.85 631.51 L416.57 630.48 L421.37 629.52 L426.24 628.64 L431.16 627.84 L436.15 627.12 L441.18 626.49 L446.26 625.94 L451.37 625.47 L456.52 625.08 L461.69 624.79 L466.89 624.57 L472.09 624.44" fill="none" stroke="#fff" stroke-width="1.7" stroke-dasharray="2 3"/>
<path d="M328.2 691.02 L328.57 688.57 L329.11 686.13 L329.84 683.7 L330.74 681.29 L331.83 678.89 L333.09 676.51" fill="none" stroke="#fff" stroke-width="2.2"/>
<path d="M364.8 691.7 L364.87 690.95 L364.96 690.2 L365.06 689.46 L365.18 688.71 L365.31 687.96 L365.46 687.21 L365.62 686.47 L365.8 685.72 L366 684.98 L366.21 684.23 L366.44 683.49 L366.68 682.75 L366.94 682 L367.22 681.26 L367.51 680.52 L367.81 679.78 L368.14 679.05 L368.47 678.31 L368.83 677.58 L369.2 676.84 L369.58 676.11 L369.98 675.38 L370.4 674.65 L370.83 673.92 L371.28 673.19 L371.74 672.47 L372.22 671.75 L372.72 671.03 L373.23 670.31 L373.75 669.59 L374.3 668.87 L374.85 668.16 L375.43 667.45 L376.02 666.74 L376.62 666.03 L377.24 665.33 L377.88 664.63 L378.53 663.93 L379.2 663.23 L379.89 662.54" fill="none" stroke="#fff" stroke-width="2.8"/>
<path d="M379.89 662.54 L380.47 661.96 L381.06 661.39 L381.67 660.81 L382.28 660.24 L382.91 659.67 L383.55 659.11 L384.2 658.54 L384.85 657.98 L385.52 657.42 L386.21 656.86 L386.9 656.3 L387.6 655.75 L388.32 655.2 L389.04 654.65 L389.78 654.1 L390.52 653.56 L391.28 653.02 L392.05 652.48 L392.83 651.94 L393.62 651.41 L394.42 650.88 L395.24 650.35 L396.06 649.82 L396.9 649.3 L397.74 648.78 L398.6 648.26 L399.47 647.75 L400.35 647.24 L401.23 646.73 L402.14 646.22 L403.05 645.72 L403.97 645.22 L404.9 644.73 L405.85 644.24 L406.8 643.75 L407.77 643.26 L408.74 642.78 L409.73 642.3 L410.73 641.83 L411.74 641.36" fill="none" stroke="#fff" stroke-width="2.0" stroke-dasharray="3.5 1.5"/>
<path d="M411.74 641.36 L412.88 640.83 L414.04 640.32 L415.21 639.8 L416.39 639.29 L417.59 638.79 L418.8 638.29 L420.03 637.8 L421.26 637.31 L422.51 636.82 L423.78 636.35 L425.06 635.87 L426.35 635.41 L427.65 634.94 L428.97 634.49 L430.3 634.04 L431.64 633.59 L433 633.15 L434.37 632.72 L435.75 632.3 L437.15 631.88 L438.56 631.46 L439.98 631.05 L441.42 630.65 L442.86 630.26 L444.32 629.87 L445.8 629.49 L447.28 629.11 L448.78 628.75 L450.29 628.39 L451.81 628.03 L453.35 627.69 L454.89 627.35 L456.45 627.02 L458.02 626.69 L459.61 626.38 L461.2 626.07 L462.81 625.77 L464.43 625.48 L466.06 625.19 L467.7 624.92" fill="none" stroke="#fff" stroke-width="1.7" stroke-dasharray="2 3"/>
<path d="M403.06 691.21 L403.22 689.42 L403.46 687.63 L403.77 685.84 L404.15 684.06 L404.59 682.27 L405.11 680.49 L405.7 678.72 L406.35 676.94 L407.08 675.18 L407.88 673.41 L408.75 671.65 L409.7 669.9 L410.72 668.15 L411.81 666.41 L412.98 664.67 L414.22 662.95 L415.55 661.23 L416.94 659.52 L418.42 657.82 L419.98 656.12 L421.62 654.44 L423.34 652.78 L425.14 651.12 L427.03 649.48 L429 647.85 L431.06 646.23 L433.21 644.63 L435.46 643.05 L437.79 641.49 L440.22 639.94 L442.74 638.42 L445.37 636.92 L448.09 635.44 L450.92 633.98 L453.85 632.55 L456.88 631.15 L460.03 629.78 L463.29 628.44 L466.66 627.14 L470.15 625.87" fill="none" stroke="#fff" stroke-width="1.5" stroke-dasharray="2 3"/>
<path d="M442.91 692.28 L442.94 691.37 L442.97 690.46 L443.02 689.55 L443.08 688.64 L443.14 687.73 L443.21 686.83 L443.3 685.92 L443.39 685.01 L443.49 684.1 L443.6 683.19 L443.72 682.28 L443.85 681.38 L443.99 680.47 L444.13 679.56 L444.29 678.66 L444.46 677.75 L444.63 676.84 L444.82 675.94 L445.01 675.03 L445.22 674.12 L445.43 673.22 L445.65 672.31 L445.89 671.41 L446.13 670.5 L446.38 669.6 L446.65 668.7 L446.92 667.79 L447.2 666.89 L447.5 665.99 L447.8 665.09 L448.12 664.18 L448.44 663.28 L448.78 662.38 L449.13 661.48 L449.49 660.58 L449.86 659.68 L450.24 658.79 L450.63 657.89 L451.03 656.99 L451.45 656.09" fill="none" stroke="#fff" stroke-width="2.6"/>
<path d="M451.45 656.09 L451.75 655.46 L452.06 654.82 L452.37 654.18 L452.69 653.55 L453.02 652.91 L453.35 652.28 L453.69 651.64 L454.04 651.01 L454.39 650.38 L454.75 649.74 L455.11 649.11 L455.48 648.48 L455.86 647.85 L456.25 647.21 L456.64 646.58 L457.04 645.95 L457.44 645.32 L457.86 644.69 L458.28 644.07 L458.7 643.44 L459.14 642.81 L459.58 642.18 L460.03 641.56 L460.49 640.93 L460.96 640.31 L461.43 639.68 L461.91 639.06 L462.4 638.44 L462.9 637.82 L463.4 637.2 L463.92 636.58 L464.44 635.96 L464.97 635.34 L465.51 634.72 L466.06 634.1 L466.62 633.49 L467.19 632.87 L467.77 632.26 L468.35 631.65 L468.95 631.04" fill="none" stroke="#fff" stroke-width="1.8" stroke-dasharray="3 2"/>
<rect x="467.4" y="643" width="2.6" height="2.2" fill="#fff"/>
<rect x="467.4" y="651" width="2.6" height="3.3" fill="#fff"/>
<path d="M482.82 691.93 L481.9 663.04 L479.19 639.31 L477.48 626.66 L480.12 626.55 L484.46 639.2 L488.61 662.97 L490.46 691.92Z" fill="#fff"/>
<path d="M509.13 691.88 L507.32 670.54 L503.31 654.45 L498.97 644.04 L503.09 643.68 L511.83 653.91 L521.1 670.04 L525.26 691.82Z" fill="#fff"/>
<path d="M501.27 643.85 L500.87 643.38 L500.46 642.91 L500.05 642.44 L499.63 641.97 L499.21 641.51 L498.78 641.04 L498.35 640.58 L497.91 640.11 L497.46 639.65 L497.02 639.18 L496.56 638.72 L496.1 638.26 L495.63 637.8 L495.16 637.34 L494.68 636.88 L494.2 636.42 L493.71 635.96 L493.21 635.5 L492.71 635.04 L492.2 634.59 L491.69 634.13 L491.17 633.68 L490.64 633.22 L490.11 632.77 L489.57 632.32 L489.02 631.87 L488.47 631.42 L487.91 630.97 L487.34 630.52 L486.77 630.07 L486.19 629.63 L485.6 629.18 L485.01 628.74 L484.41 628.29 L483.8 627.85 L483.18 627.41 L482.56 626.97 L481.93 626.53 L481.29 626.1 L480.65 625.66" fill="none" stroke="#fff" stroke-width="1.8" stroke-dasharray="2.2 2.6"/>
<path d="M545.21 691.69 L539.32 669.04 L531.78 656.44 L524.54 648.23 L527.14 647.86 L536.19 655.94 L546.46 668.53 L554.12 691.62Z" fill="#fff"/>
<path d="M526.1 648.01 L525.31 647.38 L524.5 646.75 L523.68 646.12 L522.84 645.49 L521.99 644.87 L521.13 644.25 L520.25 643.63 L519.36 643.02 L518.46 642.4 L517.54 641.8 L516.6 641.19 L515.66 640.59 L514.69 639.99 L513.72 639.39 L512.72 638.79 L511.72 638.2 L510.69 637.62 L509.66 637.03 L508.6 636.45 L507.54 635.87 L506.45 635.3 L505.35 634.73 L504.24 634.17 L503.11 633.6 L501.96 633.05 L500.8 632.49 L499.62 631.95 L498.42 631.4 L497.21 630.86 L495.98 630.33 L494.73 629.79 L493.47 629.27 L492.19 628.75 L490.89 628.23 L489.58 627.72 L488.24 627.22 L486.89 626.72 L485.52 626.22 L484.14 625.74 L482.73 625.25" fill="none" stroke="#fff" stroke-width="1.7" stroke-dasharray="2.2 2.6"/>
<path d="M593.62 691.65 L593.56 691.02 L593.49 690.38 L593.4 689.75 L593.31 689.11 L593.2 688.48 L593.08 687.85 L592.95 687.21 L592.81 686.58 L592.66 685.95 L592.5 685.32 L592.32 684.69 L592.14 684.05 L591.94 683.42 L591.73 682.8 L591.51 682.17 L591.28 681.54 L591.03 680.91 L590.78 680.29 L590.51 679.66 L590.23 679.04 L589.94 678.41 L589.64 677.79 L589.33 677.17 L589.01 676.55 L588.67 675.93 L588.32 675.31 L587.97 674.69 L587.6 674.07 L587.22 673.46 L586.82 672.85 L586.42 672.23 L586 671.62 L585.58 671.01 L585.14 670.4 L584.69 669.8 L584.23 669.19 L583.76 668.59 L583.27 667.98 L582.78 667.38 L582.27 666.78" fill="none" stroke="#fff" stroke-width="3.2"/>
<path d="M582.27 666.78 L581.71 666.14 L581.14 665.5 L580.55 664.85 L579.95 664.22 L579.34 663.58 L578.71 662.94 L578.07 662.31 L577.42 661.68 L576.75 661.05 L576.07 660.43 L575.38 659.81 L574.67 659.19 L573.95 658.57 L573.22 657.95 L572.48 657.34 L571.72 656.73 L570.94 656.12 L570.16 655.52 L569.36 654.92 L568.55 654.32 L567.72 653.73 L566.88 653.14 L566.03 652.55 L565.17 651.96 L564.29 651.38 L563.4 650.8 L562.5 650.23 L561.58 649.65 L560.65 649.09 L559.71 648.52 L558.75 647.96 L557.78 647.4 L556.8 646.85 L555.8 646.3 L554.79 645.75 L553.77 645.21 L552.74 644.68 L551.69 644.14 L550.63 643.61 L549.56 643.09" fill="none" stroke="#fff" stroke-width="2.2" stroke-dasharray="3.5 1.5"/>
<path d="M549.56 643.09 L548.31 642.49 L547.04 641.9 L545.76 641.31 L544.46 640.73 L543.15 640.16 L541.82 639.59 L540.47 639.03 L539.1 638.47 L537.72 637.93 L536.32 637.38 L534.91 636.85 L533.47 636.32 L532.03 635.8 L530.56 635.29 L529.08 634.78 L527.59 634.28 L526.07 633.79 L524.54 633.3 L523 632.83 L521.44 632.36 L519.86 631.89 L518.27 631.44 L516.67 631 L515.04 630.56 L513.4 630.13 L511.75 629.71 L510.08 629.3 L508.4 628.9 L506.7 628.51 L504.99 628.12 L503.26 627.75 L501.52 627.38 L499.76 627.02 L497.99 626.68 L496.2 626.34 L494.41 626.01 L492.59 625.7 L490.77 625.39 L488.93 625.09 L487.07 624.81" fill="none" stroke="#fff" stroke-width="1.7" stroke-dasharray="2 3"/>
<rect x="472" y="623.1" width="13" height="1.4" fill="#fff"/>
<polygon points="81.2,670.1 82,666.1 90.9,655.7 107.7,655.7 98.9,670.1" fill="#00f0f0"/>
<polygon points="108.5,656.5 127,639.6 137.4,639.6 129.4,647.7 122.2,656.5" fill="#00ee00"/>
<polygon points="93.3,690.7 95.7,676.6 98.9,670.1 113.4,670.1 113.4,672.1 130.2,672.1 127,690.7" fill="#aaf800"/>
<polygon points="98.9,670.3 107.7,657 121.4,657 116.6,663.7 113.4,670.3" fill="#a00000"/>
<polygon points="113.4,672.3 116.6,664.5 121.4,657 134.2,657 131.8,664.5 130.2,672.3" fill="#ffa200"/>
<polygon points="395.4,670.1 395.4,666.1 404.3,655.7 421.1,655.7 411.5,670.1" fill="#1414f0"/>
<polygon points="411.5,670.1 421.1,655.7 441.2,639.6 449.2,639.6 440.4,649.3 431.6,658.1 427.6,670.1" fill="#aaf800"/>
<polygon points="427.6,670.1 431.6,658.1 446,658.1 446.8,661.3 442.8,672.8 426,672.8" fill="#a00000"/>
<polygon points="448.4,659.7 466.9,659.7 465.3,672.8 446.8,672.8" fill="#1414f0"/>
<polygon points="425.1,672.8 442,672.8 438.8,690.7 421.1,690.7" fill="#f8f800"/>
<polygon points="446,672.8 465.3,672.8 463.7,690.7 442.8,690.7" fill="#50f800"/>
<polygon points="465.3,672.8 483,672.8 483,690.7 464.5,690.7" fill="#1414f0"/>
<path d="M164.6 765.9 L158.59 765.85 L152.6 765.68 L146.62 765.41 L140.67 765.02 L134.75 764.53 L128.88 763.93 L123.07 763.23 L117.32 762.42 L111.64 761.5 L106.05 760.48 L100.55 759.36 L95.14 758.14 L89.84 756.82 L84.66 755.41 L79.6 753.9 L74.67 752.3 L69.88 750.61 L65.23 748.84 L60.74 746.98 L56.41 745.05 L52.25 743.03 L48.26 740.94 L44.45 738.78 L40.82 736.55 L37.39 734.26 L34.15 731.9 L31.11 729.49 L28.28 727.02 L25.65 724.51 L23.25 721.95 L21.06 719.34 L19.09 716.7 L17.34 714.03 L15.83 711.32 L14.54 708.59 L13.48 705.84 L12.66 703.07 L12.07 700.29 L11.72 697.5 L11.6 694.7 L11.72 691.9 L12.07 689.11 L12.66 686.33 L13.48 683.56 L14.54 680.81 L15.83 678.08 L17.34 675.37 L19.09 672.7 L21.06 670.06 L23.25 667.45 L25.65 664.89 L28.28 662.38 L31.11 659.91 L34.15 657.5 L37.39 655.14 L40.82 652.85 L44.45 650.62 L48.26 648.46 L52.25 646.37 L56.41 644.35 L60.74 642.42 L65.23 640.56 L69.88 638.79 L74.67 637.1 L79.6 635.5 L84.66 633.99 L89.84 632.58 L95.14 631.26 L100.55 630.04 L106.05 628.92 L111.64 627.9 L117.32 626.98 L123.07 626.17 L128.88 625.47 L134.75 624.87 L140.67 624.38 L146.62 623.99 L152.6 623.72 L158.59 623.55 L164.6 623.5" fill="none" stroke="#551f55" stroke-width="1.15" stroke-dasharray="1.3 2.95"/>
<path d="M164.6 765.9 L159.1 765.17 L153.72 764.35 L148.45 763.45 L143.29 762.46 L138.26 761.4 L133.36 760.25 L128.58 759.04 L123.93 757.75 L119.41 756.39 L115.03 754.98 L110.79 753.5 L106.68 751.96 L102.71 750.36 L98.88 748.72 L95.19 747.02 L91.65 745.28 L88.24 743.49 L84.98 741.66 L81.86 739.78 L78.89 737.87 L76.06 735.93 L73.37 733.95 L70.83 731.93 L68.43 729.89 L66.18 727.82 L64.08 725.73 L62.12 723.61 L60.3 721.47 L58.63 719.31 L57.11 717.13 L55.73 714.93 L54.49 712.72 L53.41 710.5 L52.46 708.26 L51.66 706.02 L51.01 703.76 L50.5 701.5 L50.14 699.24 L49.92 696.97 L49.85 694.7 L49.92 692.43 L50.14 690.16 L50.5 687.9 L51.01 685.64 L51.66 683.38 L52.46 681.14 L53.41 678.9 L54.49 676.68 L55.73 674.47 L57.11 672.27 L58.63 670.09 L60.3 667.93 L62.12 665.79 L64.08 663.67 L66.18 661.58 L68.43 659.51 L70.83 657.47 L73.37 655.45 L76.06 653.47 L78.89 651.53 L81.86 649.62 L84.98 647.74 L88.24 645.91 L91.65 644.12 L95.19 642.38 L98.88 640.68 L102.71 639.04 L106.68 637.44 L110.79 635.9 L115.03 634.42 L119.41 633.01 L123.93 631.65 L128.58 630.36 L133.36 629.15 L138.26 628 L143.29 626.94 L148.45 625.95 L153.72 625.05 L159.1 624.23 L164.6 623.5" fill="none" stroke="#551f55" stroke-width="1.15" stroke-dasharray="1.3 2.95"/>
<path d="M164.6 765.9 L160.43 764.61 L156.4 763.28 L152.52 761.89 L148.77 760.46 L145.17 758.99 L141.7 757.49 L138.36 755.94 L135.14 754.36 L132.06 752.75 L129.1 751.11 L126.25 749.44 L123.53 747.75 L120.92 746.03 L118.42 744.29 L116.04 742.53 L113.76 740.75 L111.59 738.95 L109.53 737.13 L107.57 735.3 L105.71 733.46 L103.95 731.6 L102.29 729.72 L100.73 727.84 L99.26 725.94 L97.89 724.03 L96.61 722.12 L95.43 720.19 L94.33 718.26 L93.33 716.32 L92.42 714.38 L91.59 712.43 L90.86 710.47 L90.21 708.51 L89.65 706.54 L89.17 704.57 L88.79 702.6 L88.49 700.63 L88.27 698.65 L88.14 696.68 L88.1 694.7 L88.14 692.72 L88.27 690.75 L88.49 688.77 L88.79 686.8 L89.17 684.83 L89.65 682.86 L90.21 680.89 L90.86 678.93 L91.59 676.97 L92.42 675.02 L93.33 673.08 L94.33 671.14 L95.43 669.21 L96.61 667.28 L97.89 665.37 L99.26 663.46 L100.73 661.56 L102.29 659.68 L103.95 657.8 L105.71 655.94 L107.57 654.1 L109.53 652.27 L111.59 650.45 L113.76 648.65 L116.04 646.87 L118.42 645.11 L120.92 643.37 L123.53 641.65 L126.25 639.96 L129.1 638.29 L132.06 636.65 L135.14 635.04 L138.36 633.46 L141.7 631.91 L145.17 630.41 L148.77 628.94 L152.52 627.51 L156.4 626.12 L160.43 624.79 L164.6 623.5" fill="none" stroke="#551f55" stroke-width="1.15" stroke-dasharray="1.3 2.95"/>
<path d="M164.6 765.9 L162.35 764.25 L160.21 762.58 L158.16 760.9 L156.2 759.21 L154.33 757.5 L152.54 755.79 L150.83 754.07 L149.2 752.33 L147.64 750.59 L146.16 748.84 L144.74 747.09 L143.39 745.33 L142.1 743.56 L140.87 741.79 L139.7 740.01 L138.59 738.23 L137.54 736.44 L136.54 734.65 L135.59 732.86 L134.7 731.06 L133.86 729.26 L133.06 727.46 L132.32 725.65 L131.62 723.84 L130.97 722.03 L130.36 720.22 L129.8 718.4 L129.28 716.58 L128.81 714.77 L128.38 712.95 L127.99 711.12 L127.64 709.3 L127.34 707.48 L127.08 705.66 L126.85 703.83 L126.67 702.01 L126.53 700.18 L126.43 698.35 L126.37 696.53 L126.35 694.7 L126.37 692.87 L126.43 691.05 L126.53 689.22 L126.67 687.39 L126.85 685.57 L127.08 683.74 L127.34 681.92 L127.64 680.1 L127.99 678.28 L128.38 676.45 L128.81 674.63 L129.28 672.82 L129.8 671 L130.36 669.18 L130.97 667.37 L131.62 665.56 L132.32 663.75 L133.06 661.94 L133.86 660.14 L134.7 658.34 L135.59 656.54 L136.54 654.75 L137.54 652.96 L138.59 651.17 L139.7 649.39 L140.87 647.61 L142.1 645.84 L143.39 644.07 L144.74 642.31 L146.16 640.56 L147.64 638.81 L149.2 637.07 L150.83 635.33 L152.54 633.61 L154.33 631.9 L156.2 630.19 L158.16 628.5 L160.21 626.82 L162.35 625.15 L164.6 623.5" fill="none" stroke="#551f55" stroke-width="1.15" stroke-dasharray="1.3 2.95"/>
<path d="M164.6 765.9 L164.6 764.12 L164.6 762.34 L164.6 760.56 L164.6 758.78 L164.6 757 L164.6 755.22 L164.6 753.44 L164.6 751.66 L164.6 749.88 L164.6 748.1 L164.6 746.32 L164.6 744.54 L164.6 742.76 L164.6 740.98 L164.6 739.2 L164.6 737.42 L164.6 735.64 L164.6 733.86 L164.6 732.08 L164.6 730.3 L164.6 728.52 L164.6 726.74 L164.6 724.96 L164.6 723.18 L164.6 721.4 L164.6 719.62 L164.6 717.84 L164.6 716.06 L164.6 714.28 L164.6 712.5 L164.6 710.72 L164.6 708.94 L164.6 707.16 L164.6 705.38 L164.6 703.6 L164.6 701.82 L164.6 700.04 L164.6 698.26 L164.6 696.48 L164.6 694.7 L164.6 692.92 L164.6 691.14 L164.6 689.36 L164.6 687.58 L164.6 685.8 L164.6 684.02 L164.6 682.24 L164.6 680.46 L164.6 678.68 L164.6 676.9 L164.6 675.12 L164.6 673.34 L164.6 671.56 L164.6 669.78 L164.6 668 L164.6 666.22 L164.6 664.44 L164.6 662.66 L164.6 660.88 L164.6 659.1 L164.6 657.32 L164.6 655.54 L164.6 653.76 L164.6 651.98 L164.6 650.2 L164.6 648.42 L164.6 646.64 L164.6 644.86 L164.6 643.08 L164.6 641.3 L164.6 639.52 L164.6 637.74 L164.6 635.96 L164.6 634.18 L164.6 632.4 L164.6 630.62 L164.6 628.84 L164.6 627.06 L164.6 625.28 L164.6 623.5" fill="none" stroke="#551f55" stroke-width="1.15" stroke-dasharray="1.3 2.95"/>
<path d="M164.6 765.9 L166.85 764.25 L168.99 762.58 L171.04 760.9 L173 759.21 L174.87 757.5 L176.66 755.79 L178.37 754.07 L180 752.33 L181.56 750.59 L183.04 748.84 L184.46 747.09 L185.81 745.33 L187.1 743.56 L188.33 741.79 L189.5 740.01 L190.61 738.23 L191.66 736.44 L192.66 734.65 L193.61 732.86 L194.5 731.06 L195.34 729.26 L196.14 727.46 L196.88 725.65 L197.58 723.84 L198.23 722.03 L198.84 720.22 L199.4 718.4 L199.92 716.58 L200.39 714.77 L200.82 712.95 L201.21 711.12 L201.56 709.3 L201.86 707.48 L202.12 705.66 L202.35 703.83 L202.53 702.01 L202.67 700.18 L202.77 698.35 L202.83 696.53 L202.85 694.7 L202.83 692.87 L202.77 691.05 L202.67 689.22 L202.53 687.39 L202.35 685.57 L202.12 683.74 L201.86 681.92 L201.56 680.1 L201.21 678.28 L200.82 676.45 L200.39 674.63 L199.92 672.82 L199.4 671 L198.84 669.18 L198.23 667.37 L197.58 665.56 L196.88 663.75 L196.14 661.94 L195.34 660.14 L194.5 658.34 L193.61 656.54 L192.66 654.75 L191.66 652.96 L190.61 651.17 L189.5 649.39 L188.33 647.61 L187.1 645.84 L185.81 644.07 L184.46 642.31 L183.04 640.56 L181.56 638.81 L180 637.07 L178.37 635.33 L176.66 633.61 L174.87 631.9 L173 630.19 L171.04 628.5 L168.99 626.82 L166.85 625.15 L164.6 623.5" fill="none" stroke="#551f55" stroke-width="1.15" stroke-dasharray="1.3 2.95"/>
<path d="M164.6 765.9 L168.77 764.61 L172.8 763.28 L176.68 761.89 L180.43 760.46 L184.03 758.99 L187.5 757.49 L190.84 755.94 L194.06 754.36 L197.14 752.75 L200.1 751.11 L202.95 749.44 L205.67 747.75 L208.28 746.03 L210.78 744.29 L213.16 742.53 L215.44 740.75 L217.61 738.95 L219.67 737.13 L221.63 735.3 L223.49 733.46 L225.25 731.6 L226.91 729.72 L228.47 727.84 L229.94 725.94 L231.31 724.03 L232.59 722.12 L233.77 720.19 L234.87 718.26 L235.87 716.32 L236.78 714.38 L237.61 712.43 L238.34 710.47 L238.99 708.51 L239.55 706.54 L240.03 704.57 L240.41 702.6 L240.71 700.63 L240.93 698.65 L241.06 696.68 L241.1 694.7 L241.06 692.72 L240.93 690.75 L240.71 688.77 L240.41 686.8 L240.03 684.83 L239.55 682.86 L238.99 680.89 L238.34 678.93 L237.61 676.97 L236.78 675.02 L235.87 673.08 L234.87 671.14 L233.77 669.21 L232.59 667.28 L231.31 665.37 L229.94 663.46 L228.47 661.56 L226.91 659.68 L225.25 657.8 L223.49 655.94 L221.63 654.1 L219.67 652.27 L217.61 650.45 L215.44 648.65 L213.16 646.87 L210.78 645.11 L208.28 643.37 L205.67 641.65 L202.95 639.96 L200.1 638.29 L197.14 636.65 L194.06 635.04 L190.84 633.46 L187.5 631.91 L184.03 630.41 L180.43 628.94 L176.68 627.51 L172.8 626.12 L168.77 624.79 L164.6 623.5" fill="none" stroke="#551f55" stroke-width="1.15" stroke-dasharray="1.3 2.95"/>
<path d="M164.6 765.9 L170.1 765.17 L175.48 764.35 L180.75 763.45 L185.91 762.46 L190.94 761.4 L195.84 760.25 L200.62 759.04 L205.27 757.75 L209.79 756.39 L214.17 754.98 L218.41 753.5 L222.52 751.96 L226.49 750.36 L230.32 748.72 L234.01 747.02 L237.55 745.28 L240.96 743.49 L244.22 741.66 L247.34 739.78 L250.31 737.87 L253.14 735.93 L255.83 733.95 L258.37 731.93 L260.77 729.89 L263.02 727.82 L265.12 725.73 L267.08 723.61 L268.9 721.47 L270.57 719.31 L272.09 717.13 L273.47 714.93 L274.71 712.72 L275.79 710.5 L276.74 708.26 L277.54 706.02 L278.19 703.76 L278.7 701.5 L279.06 699.24 L279.28 696.97 L279.35 694.7 L279.28 692.43 L279.06 690.16 L278.7 687.9 L278.19 685.64 L277.54 683.38 L276.74 681.14 L275.79 678.9 L274.71 676.68 L273.47 674.47 L272.09 672.27 L270.57 670.09 L268.9 667.93 L267.08 665.79 L265.12 663.67 L263.02 661.58 L260.77 659.51 L258.37 657.47 L255.83 655.45 L253.14 653.47 L250.31 651.53 L247.34 649.62 L244.22 647.74 L240.96 645.91 L237.55 644.12 L234.01 642.38 L230.32 640.68 L226.49 639.04 L222.52 637.44 L218.41 635.9 L214.17 634.42 L209.79 633.01 L205.27 631.65 L200.62 630.36 L195.84 629.15 L190.94 628 L185.91 626.94 L180.75 625.95 L175.48 625.05 L170.1 624.23 L164.6 623.5" fill="none" stroke="#551f55" stroke-width="1.15" stroke-dasharray="1.3 2.95"/>
<path d="M164.6 765.9 L170.61 765.85 L176.6 765.68 L182.58 765.41 L188.53 765.02 L194.45 764.53 L200.32 763.93 L206.13 763.23 L211.88 762.42 L217.56 761.5 L223.15 760.48 L228.65 759.36 L234.06 758.14 L239.36 756.82 L244.54 755.41 L249.6 753.9 L254.53 752.3 L259.32 750.61 L263.97 748.84 L268.46 746.98 L272.79 745.05 L276.95 743.03 L280.94 740.94 L284.75 738.78 L288.38 736.55 L291.81 734.26 L295.05 731.9 L298.09 729.49 L300.92 727.02 L303.55 724.51 L305.95 721.95 L308.14 719.34 L310.11 716.7 L311.86 714.03 L313.37 711.32 L314.66 708.59 L315.72 705.84 L316.54 703.07 L317.13 700.29 L317.48 697.5 L317.6 694.7 L317.48 691.9 L317.13 689.11 L316.54 686.33 L315.72 683.56 L314.66 680.81 L313.37 678.08 L311.86 675.37 L310.11 672.7 L308.14 670.06 L305.95 667.45 L303.55 664.89 L300.92 662.38 L298.09 659.91 L295.05 657.5 L291.81 655.14 L288.38 652.85 L284.75 650.62 L280.94 648.46 L276.95 646.37 L272.79 644.35 L268.46 642.42 L263.97 640.56 L259.32 638.79 L254.53 637.1 L249.6 635.5 L244.54 633.99 L239.36 632.58 L234.06 631.26 L228.65 630.04 L223.15 628.92 L217.56 627.9 L211.88 626.98 L206.13 626.17 L200.32 625.47 L194.45 624.87 L188.53 624.38 L182.58 623.99 L176.6 623.72 L170.61 623.55 L164.6 623.5" fill="none" stroke="#551f55" stroke-width="1.15" stroke-dasharray="1.3 2.95"/>
<path d="M56.41 745.05 L58.37 744.18 L60.4 743.34 L62.5 742.54 L64.67 741.78 L66.91 741.05 L69.2 740.36 L71.55 739.69 L73.95 739.06 L76.39 738.45 L78.89 737.87 L81.42 737.32 L83.99 736.8 L86.6 736.3 L89.25 735.83 L91.92 735.38 L94.63 734.95 L97.36 734.54 L100.12 734.16 L102.9 733.8 L105.71 733.46 L108.54 733.13 L111.38 732.83 L114.25 732.55 L117.13 732.28 L120.03 732.04 L122.94 731.81 L125.86 731.59 L128.8 731.4 L131.74 731.22 L134.7 731.06 L137.67 730.91 L140.64 730.78 L143.62 730.67 L146.61 730.57 L149.6 730.49 L152.59 730.42 L155.59 730.37 L158.59 730.33 L161.6 730.31 L164.6 730.3 L167.6 730.31 L170.61 730.33 L173.61 730.37 L176.61 730.42 L179.6 730.49 L182.59 730.57 L185.58 730.67 L188.56 730.78 L191.53 730.91 L194.5 731.06 L197.46 731.22 L200.4 731.4 L203.34 731.59 L206.26 731.81 L209.17 732.04 L212.07 732.28 L214.95 732.55 L217.82 732.83 L220.66 733.13 L223.49 733.46 L226.3 733.8 L229.08 734.16 L231.84 734.54 L234.57 734.95 L237.28 735.38 L239.95 735.83 L242.6 736.3 L245.21 736.8 L247.78 737.32 L250.31 737.87 L252.81 738.45 L255.25 739.06 L257.65 739.69 L260 740.36 L262.29 741.05 L264.53 741.78 L266.7 742.54 L268.8 743.34 L270.83 744.18 L272.79 745.05" fill="none" stroke="#551f55" stroke-width="1.15" stroke-dasharray="1.3 2.95"/>
<path d="M11.6 694.7 L15.43 694.7 L19.25 694.7 L23.07 694.7 L26.9 694.7 L30.72 694.7 L34.55 694.7 L38.38 694.7 L42.2 694.7 L46.02 694.7 L49.85 694.7 L53.67 694.7 L57.5 694.7 L61.32 694.7 L65.15 694.7 L68.97 694.7 L72.8 694.7 L76.62 694.7 L80.45 694.7 L84.27 694.7 L88.1 694.7 L91.92 694.7 L95.75 694.7 L99.58 694.7 L103.4 694.7 L107.22 694.7 L111.05 694.7 L114.88 694.7 L118.7 694.7 L122.52 694.7 L126.35 694.7 L130.17 694.7 L134 694.7 L137.82 694.7 L141.65 694.7 L145.47 694.7 L149.3 694.7 L153.12 694.7 L156.95 694.7 L160.78 694.7 L164.6 694.7 L168.42 694.7 L172.25 694.7 L176.07 694.7 L179.9 694.7 L183.72 694.7 L187.55 694.7 L191.38 694.7 L195.2 694.7 L199.03 694.7 L202.85 694.7 L206.68 694.7 L210.5 694.7 L214.32 694.7 L218.15 694.7 L221.97 694.7 L225.8 694.7 L229.62 694.7 L233.45 694.7 L237.27 694.7 L241.1 694.7 L244.93 694.7 L248.75 694.7 L252.57 694.7 L256.4 694.7 L260.23 694.7 L264.05 694.7 L267.88 694.7 L271.7 694.7 L275.52 694.7 L279.35 694.7 L283.18 694.7 L287 694.7 L290.82 694.7 L294.65 694.7 L298.48 694.7 L302.3 694.7 L306.12 694.7 L309.95 694.7 L313.77 694.7 L317.6 694.7" fill="none" stroke="#551f55" stroke-width="1.15" stroke-dasharray="1.3 2.95"/>
<path d="M56.41 644.35 L58.37 645.22 L60.4 646.06 L62.5 646.86 L64.67 647.62 L66.91 648.35 L69.2 649.04 L71.55 649.71 L73.95 650.34 L76.39 650.95 L78.89 651.53 L81.42 652.08 L83.99 652.6 L86.6 653.1 L89.25 653.57 L91.92 654.02 L94.63 654.45 L97.36 654.86 L100.12 655.24 L102.9 655.6 L105.71 655.94 L108.54 656.27 L111.38 656.57 L114.25 656.85 L117.13 657.12 L120.03 657.36 L122.94 657.59 L125.86 657.81 L128.8 658 L131.74 658.18 L134.7 658.34 L137.67 658.49 L140.64 658.62 L143.62 658.73 L146.61 658.83 L149.6 658.91 L152.59 658.98 L155.59 659.03 L158.59 659.07 L161.6 659.09 L164.6 659.1 L167.6 659.09 L170.61 659.07 L173.61 659.03 L176.61 658.98 L179.6 658.91 L182.59 658.83 L185.58 658.73 L188.56 658.62 L191.53 658.49 L194.5 658.34 L197.46 658.18 L200.4 658 L203.34 657.81 L206.26 657.59 L209.17 657.36 L212.07 657.12 L214.95 656.85 L217.82 656.57 L220.66 656.27 L223.49 655.94 L226.3 655.6 L229.08 655.24 L231.84 654.86 L234.57 654.45 L237.28 654.02 L239.95 653.57 L242.6 653.1 L245.21 652.6 L247.78 652.08 L250.31 651.53 L252.81 650.95 L255.25 650.34 L257.65 649.71 L260 649.04 L262.29 648.35 L264.53 647.62 L266.7 646.86 L268.8 646.06 L270.83 645.22 L272.79 644.35" fill="none" stroke="#551f55" stroke-width="1.15" stroke-dasharray="1.3 2.95"/>
<text x="31" y="729" font-size="11.3" fill="#ff00ff" text-anchor="middle">0</text>
<text x="61" y="725.3" font-size="11.3" fill="#ff00ff" text-anchor="middle">45</text>
<text x="95" y="720.8" font-size="11.3" fill="#ff00ff" text-anchor="middle">90</text>
<text x="129.6" y="718.8" font-size="11.3" fill="#ff00ff" text-anchor="middle">135</text>
<text x="163.8" y="718.8" font-size="11.3" fill="#ff00ff" text-anchor="middle">180</text>
<text x="198.5" y="718.8" font-size="11.3" fill="#ff00ff" text-anchor="middle">-135</text>
<text x="232.7" y="721.5" font-size="11.3" fill="#ff00ff" text-anchor="middle">-90</text>
<text x="266" y="724.8" font-size="11.3" fill="#ff00ff" text-anchor="middle">-45</text>
<text x="262.5" y="648.3" font-size="11.3" fill="#ff00ff" text-anchor="middle">45</text>
<text x="300" y="695" font-size="11.3" fill="#ff00ff" text-anchor="middle">0</text>
<text x="263.2" y="741.5" font-size="11.3" fill="#ff00ff" text-anchor="middle">-45</text>
<text x="164.8" y="765.2" font-size="11.3" fill="#ff00ff" text-anchor="middle">-90</text>
<circle cx="90.6" cy="689.5" r="5.1" fill="none" stroke="#ff00ff" stroke-width="1.5"/><circle cx="90.6" cy="689.5" r="1.4" fill="#ff00ff"/>
<circle cx="243.6" cy="700.7" r="5.1" fill="none" stroke="#ff00ff" stroke-width="1.5"/>
<path d="M239.99 697.09L247.21 704.31M239.99 704.31L247.21 697.09" stroke="#ff00ff" stroke-width="1.5" fill="none"/>
<path d="M477.3 765.9 L471.29 765.85 L465.3 765.68 L459.32 765.41 L453.37 765.02 L447.45 764.53 L441.58 763.93 L435.77 763.23 L430.02 762.42 L424.34 761.5 L418.75 760.48 L413.25 759.36 L407.84 758.14 L402.54 756.82 L397.36 755.41 L392.3 753.9 L387.37 752.3 L382.58 750.61 L377.93 748.84 L373.44 746.98 L369.11 745.05 L364.95 743.03 L360.96 740.94 L357.15 738.78 L353.52 736.55 L350.09 734.26 L346.85 731.9 L343.81 729.49 L340.98 727.02 L338.35 724.51 L335.95 721.95 L333.76 719.34 L331.79 716.7 L330.04 714.03 L328.53 711.32 L327.24 708.59 L326.18 705.84 L325.36 703.07 L324.77 700.29 L324.42 697.5 L324.3 694.7 L324.42 691.9 L324.77 689.11 L325.36 686.33 L326.18 683.56 L327.24 680.81 L328.53 678.08 L330.04 675.37 L331.79 672.7 L333.76 670.06 L335.95 667.45 L338.35 664.89 L340.98 662.38 L343.81 659.91 L346.85 657.5 L350.09 655.14 L353.52 652.85 L357.15 650.62 L360.96 648.46 L364.95 646.37 L369.11 644.35 L373.44 642.42 L377.93 640.56 L382.58 638.79 L387.37 637.1 L392.3 635.5 L397.36 633.99 L402.54 632.58 L407.84 631.26 L413.25 630.04 L418.75 628.92 L424.34 627.9 L430.02 626.98 L435.77 626.17 L441.58 625.47 L447.45 624.87 L453.37 624.38 L459.32 623.99 L465.3 623.72 L471.29 623.55 L477.3 623.5" fill="none" stroke="#551f55" stroke-width="1.15" stroke-dasharray="1.3 2.95"/>
<path d="M477.3 765.9 L471.8 765.17 L466.42 764.35 L461.15 763.45 L455.99 762.46 L450.96 761.4 L446.06 760.25 L441.28 759.04 L436.63 757.75 L432.11 756.39 L427.73 754.98 L423.49 753.5 L419.38 751.96 L415.41 750.36 L411.58 748.72 L407.89 747.02 L404.35 745.28 L400.94 743.49 L397.68 741.66 L394.56 739.78 L391.59 737.87 L388.76 735.93 L386.07 733.95 L383.53 731.93 L381.13 729.89 L378.88 727.82 L376.78 725.73 L374.82 723.61 L373 721.47 L371.33 719.31 L369.81 717.13 L368.43 714.93 L367.19 712.72 L366.11 710.5 L365.16 708.26 L364.36 706.02 L363.71 703.76 L363.2 701.5 L362.84 699.24 L362.62 696.97 L362.55 694.7 L362.62 692.43 L362.84 690.16 L363.2 687.9 L363.71 685.64 L364.36 683.38 L365.16 681.14 L366.11 678.9 L367.19 676.68 L368.43 674.47 L369.81 672.27 L371.33 670.09 L373 667.93 L374.82 665.79 L376.78 663.67 L378.88 661.58 L381.13 659.51 L383.53 657.47 L386.07 655.45 L388.76 653.47 L391.59 651.53 L394.56 649.62 L397.68 647.74 L400.94 645.91 L404.35 644.12 L407.89 642.38 L411.58 640.68 L415.41 639.04 L419.38 637.44 L423.49 635.9 L427.73 634.42 L432.11 633.01 L436.63 631.65 L441.28 630.36 L446.06 629.15 L450.96 628 L455.99 626.94 L461.15 625.95 L466.42 625.05 L471.8 624.23 L477.3 623.5" fill="none" stroke="#551f55" stroke-width="1.15" stroke-dasharray="1.3 2.95"/>
<path d="M477.3 765.9 L473.13 764.61 L469.1 763.28 L465.22 761.89 L461.47 760.46 L457.87 758.99 L454.4 757.49 L451.06 755.94 L447.84 754.36 L444.76 752.75 L441.8 751.11 L438.95 749.44 L436.23 747.75 L433.62 746.03 L431.12 744.29 L428.74 742.53 L426.46 740.75 L424.29 738.95 L422.23 737.13 L420.27 735.3 L418.41 733.46 L416.65 731.6 L414.99 729.72 L413.43 727.84 L411.96 725.94 L410.59 724.03 L409.31 722.12 L408.13 720.19 L407.03 718.26 L406.03 716.32 L405.12 714.38 L404.29 712.43 L403.56 710.47 L402.91 708.51 L402.35 706.54 L401.87 704.57 L401.49 702.6 L401.19 700.63 L400.97 698.65 L400.84 696.68 L400.8 694.7 L400.84 692.72 L400.97 690.75 L401.19 688.77 L401.49 686.8 L401.87 684.83 L402.35 682.86 L402.91 680.89 L403.56 678.93 L404.29 676.97 L405.12 675.02 L406.03 673.08 L407.03 671.14 L408.13 669.21 L409.31 667.28 L410.59 665.37 L411.96 663.46 L413.43 661.56 L414.99 659.68 L416.65 657.8 L418.41 655.94 L420.27 654.1 L422.23 652.27 L424.29 650.45 L426.46 648.65 L428.74 646.87 L431.12 645.11 L433.62 643.37 L436.23 641.65 L438.95 639.96 L441.8 638.29 L444.76 636.65 L447.84 635.04 L451.06 633.46 L454.4 631.91 L457.87 630.41 L461.47 628.94 L465.22 627.51 L469.1 626.12 L473.13 624.79 L477.3 623.5" fill="none" stroke="#551f55" stroke-width="1.15" stroke-dasharray="1.3 2.95"/>
<path d="M477.3 765.9 L475.05 764.25 L472.91 762.58 L470.86 760.9 L468.9 759.21 L467.03 757.5 L465.24 755.79 L463.53 754.07 L461.9 752.33 L460.34 750.59 L458.86 748.84 L457.44 747.09 L456.09 745.33 L454.8 743.56 L453.57 741.79 L452.4 740.01 L451.29 738.23 L450.24 736.44 L449.24 734.65 L448.29 732.86 L447.4 731.06 L446.56 729.26 L445.76 727.46 L445.02 725.65 L444.32 723.84 L443.67 722.03 L443.06 720.22 L442.5 718.4 L441.98 716.58 L441.51 714.77 L441.08 712.95 L440.69 711.12 L440.34 709.3 L440.04 707.48 L439.78 705.66 L439.55 703.83 L439.37 702.01 L439.23 700.18 L439.13 698.35 L439.07 696.53 L439.05 694.7 L439.07 692.87 L439.13 691.05 L439.23 689.22 L439.37 687.39 L439.55 685.57 L439.78 683.74 L440.04 681.92 L440.34 680.1 L440.69 678.28 L441.08 676.45 L441.51 674.63 L441.98 672.82 L442.5 671 L443.06 669.18 L443.67 667.37 L444.32 665.56 L445.02 663.75 L445.76 661.94 L446.56 660.14 L447.4 658.34 L448.29 656.54 L449.24 654.75 L450.24 652.96 L451.29 651.17 L452.4 649.39 L453.57 647.61 L454.8 645.84 L456.09 644.07 L457.44 642.31 L458.86 640.56 L460.34 638.81 L461.9 637.07 L463.53 635.33 L465.24 633.61 L467.03 631.9 L468.9 630.19 L470.86 628.5 L472.91 626.82 L475.05 625.15 L477.3 623.5" fill="none" stroke="#551f55" stroke-width="1.15" stroke-dasharray="1.3 2.95"/>
<path d="M477.3 765.9 L477.3 764.12 L477.3 762.34 L477.3 760.56 L477.3 758.78 L477.3 757 L477.3 755.22 L477.3 753.44 L477.3 751.66 L477.3 749.88 L477.3 748.1 L477.3 746.32 L477.3 744.54 L477.3 742.76 L477.3 740.98 L477.3 739.2 L477.3 737.42 L477.3 735.64 L477.3 733.86 L477.3 732.08 L477.3 730.3 L477.3 728.52 L477.3 726.74 L477.3 724.96 L477.3 723.18 L477.3 721.4 L477.3 719.62 L477.3 717.84 L477.3 716.06 L477.3 714.28 L477.3 712.5 L477.3 710.72 L477.3 708.94 L477.3 707.16 L477.3 705.38 L477.3 703.6 L477.3 701.82 L477.3 700.04 L477.3 698.26 L477.3 696.48 L477.3 694.7 L477.3 692.92 L477.3 691.14 L477.3 689.36 L477.3 687.58 L477.3 685.8 L477.3 684.02 L477.3 682.24 L477.3 680.46 L477.3 678.68 L477.3 676.9 L477.3 675.12 L477.3 673.34 L477.3 671.56 L477.3 669.78 L477.3 668 L477.3 666.22 L477.3 664.44 L477.3 662.66 L477.3 660.88 L477.3 659.1 L477.3 657.32 L477.3 655.54 L477.3 653.76 L477.3 651.98 L477.3 650.2 L477.3 648.42 L477.3 646.64 L477.3 644.86 L477.3 643.08 L477.3 641.3 L477.3 639.52 L477.3 637.74 L477.3 635.96 L477.3 634.18 L477.3 632.4 L477.3 630.62 L477.3 628.84 L477.3 627.06 L477.3 625.28 L477.3 623.5" fill="none" stroke="#551f55" stroke-width="1.15" stroke-dasharray="1.3 2.95"/>
<path d="M477.3 765.9 L479.55 764.25 L481.69 762.58 L483.74 760.9 L485.7 759.21 L487.57 757.5 L489.36 755.79 L491.07 754.07 L492.7 752.33 L494.26 750.59 L495.74 748.84 L497.16 747.09 L498.51 745.33 L499.8 743.56 L501.03 741.79 L502.2 740.01 L503.31 738.23 L504.36 736.44 L505.36 734.65 L506.31 732.86 L507.2 731.06 L508.04 729.26 L508.84 727.46 L509.58 725.65 L510.28 723.84 L510.93 722.03 L511.54 720.22 L512.1 718.4 L512.62 716.58 L513.09 714.77 L513.52 712.95 L513.91 711.12 L514.26 709.3 L514.56 707.48 L514.82 705.66 L515.05 703.83 L515.23 702.01 L515.37 700.18 L515.47 698.35 L515.53 696.53 L515.55 694.7 L515.53 692.87 L515.47 691.05 L515.37 689.22 L515.23 687.39 L515.05 685.57 L514.82 683.74 L514.56 681.92 L514.26 680.1 L513.91 678.28 L513.52 676.45 L513.09 674.63 L512.62 672.82 L512.1 671 L511.54 669.18 L510.93 667.37 L510.28 665.56 L509.58 663.75 L508.84 661.94 L508.04 660.14 L507.2 658.34 L506.31 656.54 L505.36 654.75 L504.36 652.96 L503.31 651.17 L502.2 649.39 L501.03 647.61 L499.8 645.84 L498.51 644.07 L497.16 642.31 L495.74 640.56 L494.26 638.81 L492.7 637.07 L491.07 635.33 L489.36 633.61 L487.57 631.9 L485.7 630.19 L483.74 628.5 L481.69 626.82 L479.55 625.15 L477.3 623.5" fill="none" stroke="#551f55" stroke-width="1.15" stroke-dasharray="1.3 2.95"/>
<path d="M477.3 765.9 L481.47 764.61 L485.5 763.28 L489.38 761.89 L493.13 760.46 L496.73 758.99 L500.2 757.49 L503.54 755.94 L506.76 754.36 L509.84 752.75 L512.8 751.11 L515.65 749.44 L518.37 747.75 L520.98 746.03 L523.48 744.29 L525.86 742.53 L528.14 740.75 L530.31 738.95 L532.37 737.13 L534.33 735.3 L536.19 733.46 L537.95 731.6 L539.61 729.72 L541.17 727.84 L542.64 725.94 L544.01 724.03 L545.29 722.12 L546.47 720.19 L547.57 718.26 L548.57 716.32 L549.48 714.38 L550.31 712.43 L551.04 710.47 L551.69 708.51 L552.25 706.54 L552.73 704.57 L553.11 702.6 L553.41 700.63 L553.63 698.65 L553.76 696.68 L553.8 694.7 L553.76 692.72 L553.63 690.75 L553.41 688.77 L553.11 686.8 L552.73 684.83 L552.25 682.86 L551.69 680.89 L551.04 678.93 L550.31 676.97 L549.48 675.02 L548.57 673.08 L547.57 671.14 L546.47 669.21 L545.29 667.28 L544.01 665.37 L542.64 663.46 L541.17 661.56 L539.61 659.68 L537.95 657.8 L536.19 655.94 L534.33 654.1 L532.37 652.27 L530.31 650.45 L528.14 648.65 L525.86 646.87 L523.48 645.11 L520.98 643.37 L518.37 641.65 L515.65 639.96 L512.8 638.29 L509.84 636.65 L506.76 635.04 L503.54 633.46 L500.2 631.91 L496.73 630.41 L493.13 628.94 L489.38 627.51 L485.5 626.12 L481.47 624.79 L477.3 623.5" fill="none" stroke="#551f55" stroke-width="1.15" stroke-dasharray="1.3 2.95"/>
<path d="M477.3 765.9 L482.8 765.17 L488.18 764.35 L493.45 763.45 L498.61 762.46 L503.64 761.4 L508.54 760.25 L513.32 759.04 L517.97 757.75 L522.49 756.39 L526.87 754.98 L531.11 753.5 L535.22 751.96 L539.19 750.36 L543.02 748.72 L546.71 747.02 L550.25 745.28 L553.66 743.49 L556.92 741.66 L560.04 739.78 L563.01 737.87 L565.84 735.93 L568.53 733.95 L571.07 731.93 L573.47 729.89 L575.72 727.82 L577.82 725.73 L579.78 723.61 L581.6 721.47 L583.27 719.31 L584.79 717.13 L586.17 714.93 L587.41 712.72 L588.49 710.5 L589.44 708.26 L590.24 706.02 L590.89 703.76 L591.4 701.5 L591.76 699.24 L591.98 696.97 L592.05 694.7 L591.98 692.43 L591.76 690.16 L591.4 687.9 L590.89 685.64 L590.24 683.38 L589.44 681.14 L588.49 678.9 L587.41 676.68 L586.17 674.47 L584.79 672.27 L583.27 670.09 L581.6 667.93 L579.78 665.79 L577.82 663.67 L575.72 661.58 L573.47 659.51 L571.07 657.47 L568.53 655.45 L565.84 653.47 L563.01 651.53 L560.04 649.62 L556.92 647.74 L553.66 645.91 L550.25 644.12 L546.71 642.38 L543.02 640.68 L539.19 639.04 L535.22 637.44 L531.11 635.9 L526.87 634.42 L522.49 633.01 L517.97 631.65 L513.32 630.36 L508.54 629.15 L503.64 628 L498.61 626.94 L493.45 625.95 L488.18 625.05 L482.8 624.23 L477.3 623.5" fill="none" stroke="#551f55" stroke-width="1.15" stroke-dasharray="1.3 2.95"/>
<path d="M477.3 765.9 L483.31 765.85 L489.3 765.68 L495.28 765.41 L501.23 765.02 L507.15 764.53 L513.02 763.93 L518.83 763.23 L524.58 762.42 L530.26 761.5 L535.85 760.48 L541.35 759.36 L546.76 758.14 L552.06 756.82 L557.24 755.41 L562.3 753.9 L567.23 752.3 L572.02 750.61 L576.67 748.84 L581.16 746.98 L585.49 745.05 L589.65 743.03 L593.64 740.94 L597.45 738.78 L601.08 736.55 L604.51 734.26 L607.75 731.9 L610.79 729.49 L613.62 727.02 L616.25 724.51 L618.65 721.95 L620.84 719.34 L622.81 716.7 L624.56 714.03 L626.07 711.32 L627.36 708.59 L628.42 705.84 L629.24 703.07 L629.83 700.29 L630.18 697.5 L630.3 694.7 L630.18 691.9 L629.83 689.11 L629.24 686.33 L628.42 683.56 L627.36 680.81 L626.07 678.08 L624.56 675.37 L622.81 672.7 L620.84 670.06 L618.65 667.45 L616.25 664.89 L613.62 662.38 L610.79 659.91 L607.75 657.5 L604.51 655.14 L601.08 652.85 L597.45 650.62 L593.64 648.46 L589.65 646.37 L585.49 644.35 L581.16 642.42 L576.67 640.56 L572.02 638.79 L567.23 637.1 L562.3 635.5 L557.24 633.99 L552.06 632.58 L546.76 631.26 L541.35 630.04 L535.85 628.92 L530.26 627.9 L524.58 626.98 L518.83 626.17 L513.02 625.47 L507.15 624.87 L501.23 624.38 L495.28 623.99 L489.3 623.72 L483.31 623.55 L477.3 623.5" fill="none" stroke="#551f55" stroke-width="1.15" stroke-dasharray="1.3 2.95"/>
<path d="M369.11 745.05 L371.07 744.18 L373.1 743.34 L375.2 742.54 L377.37 741.78 L379.61 741.05 L381.9 740.36 L384.25 739.69 L386.65 739.06 L389.09 738.45 L391.59 737.87 L394.12 737.32 L396.69 736.8 L399.3 736.3 L401.95 735.83 L404.62 735.38 L407.33 734.95 L410.06 734.54 L412.82 734.16 L415.6 733.8 L418.41 733.46 L421.24 733.13 L424.08 732.83 L426.95 732.55 L429.83 732.28 L432.73 732.04 L435.64 731.81 L438.56 731.59 L441.5 731.4 L444.44 731.22 L447.4 731.06 L450.37 730.91 L453.34 730.78 L456.32 730.67 L459.31 730.57 L462.3 730.49 L465.29 730.42 L468.29 730.37 L471.29 730.33 L474.3 730.31 L477.3 730.3 L480.3 730.31 L483.31 730.33 L486.31 730.37 L489.31 730.42 L492.3 730.49 L495.29 730.57 L498.28 730.67 L501.26 730.78 L504.23 730.91 L507.2 731.06 L510.16 731.22 L513.1 731.4 L516.04 731.59 L518.96 731.81 L521.87 732.04 L524.77 732.28 L527.65 732.55 L530.52 732.83 L533.36 733.13 L536.19 733.46 L539 733.8 L541.78 734.16 L544.54 734.54 L547.27 734.95 L549.98 735.38 L552.65 735.83 L555.3 736.3 L557.91 736.8 L560.48 737.32 L563.01 737.87 L565.51 738.45 L567.95 739.06 L570.35 739.69 L572.7 740.36 L574.99 741.05 L577.23 741.78 L579.4 742.54 L581.5 743.34 L583.53 744.18 L585.49 745.05" fill="none" stroke="#551f55" stroke-width="1.15" stroke-dasharray="1.3 2.95"/>
<path d="M324.3 694.7 L328.12 694.7 L331.95 694.7 L335.77 694.7 L339.6 694.7 L343.43 694.7 L347.25 694.7 L351.08 694.7 L354.9 694.7 L358.73 694.7 L362.55 694.7 L366.38 694.7 L370.2 694.7 L374.02 694.7 L377.85 694.7 L381.68 694.7 L385.5 694.7 L389.32 694.7 L393.15 694.7 L396.98 694.7 L400.8 694.7 L404.62 694.7 L408.45 694.7 L412.28 694.7 L416.1 694.7 L419.93 694.7 L423.75 694.7 L427.58 694.7 L431.4 694.7 L435.23 694.7 L439.05 694.7 L442.88 694.7 L446.7 694.7 L450.53 694.7 L454.35 694.7 L458.18 694.7 L462 694.7 L465.82 694.7 L469.65 694.7 L473.48 694.7 L477.3 694.7 L481.12 694.7 L484.95 694.7 L488.78 694.7 L492.6 694.7 L496.43 694.7 L500.25 694.7 L504.07 694.7 L507.9 694.7 L511.73 694.7 L515.55 694.7 L519.38 694.7 L523.2 694.7 L527.02 694.7 L530.85 694.7 L534.67 694.7 L538.5 694.7 L542.33 694.7 L546.15 694.7 L549.98 694.7 L553.8 694.7 L557.62 694.7 L561.45 694.7 L565.27 694.7 L569.1 694.7 L572.93 694.7 L576.75 694.7 L580.58 694.7 L584.4 694.7 L588.23 694.7 L592.05 694.7 L595.88 694.7 L599.7 694.7 L603.52 694.7 L607.35 694.7 L611.17 694.7 L615 694.7 L618.83 694.7 L622.65 694.7 L626.48 694.7 L630.3 694.7" fill="none" stroke="#551f55" stroke-width="1.15" stroke-dasharray="1.3 2.95"/>
<path d="M369.11 644.35 L371.07 645.22 L373.1 646.06 L375.2 646.86 L377.37 647.62 L379.61 648.35 L381.9 649.04 L384.25 649.71 L386.65 650.34 L389.09 650.95 L391.59 651.53 L394.12 652.08 L396.69 652.6 L399.3 653.1 L401.95 653.57 L404.62 654.02 L407.33 654.45 L410.06 654.86 L412.82 655.24 L415.6 655.6 L418.41 655.94 L421.24 656.27 L424.08 656.57 L426.95 656.85 L429.83 657.12 L432.73 657.36 L435.64 657.59 L438.56 657.81 L441.5 658 L444.44 658.18 L447.4 658.34 L450.37 658.49 L453.34 658.62 L456.32 658.73 L459.31 658.83 L462.3 658.91 L465.29 658.98 L468.29 659.03 L471.29 659.07 L474.3 659.09 L477.3 659.1 L480.3 659.09 L483.31 659.07 L486.31 659.03 L489.31 658.98 L492.3 658.91 L495.29 658.83 L498.28 658.73 L501.26 658.62 L504.23 658.49 L507.2 658.34 L510.16 658.18 L513.1 658 L516.04 657.81 L518.96 657.59 L521.87 657.36 L524.77 657.12 L527.65 656.85 L530.52 656.57 L533.36 656.27 L536.19 655.94 L539 655.6 L541.78 655.24 L544.54 654.86 L547.27 654.45 L549.98 654.02 L552.65 653.57 L555.3 653.1 L557.91 652.6 L560.48 652.08 L563.01 651.53 L565.51 650.95 L567.95 650.34 L570.35 649.71 L572.7 649.04 L574.99 648.35 L577.23 647.62 L579.4 646.86 L581.5 646.06 L583.53 645.22 L585.49 644.35" fill="none" stroke="#551f55" stroke-width="1.15" stroke-dasharray="1.3 2.95"/>
<text x="343.7" y="729" font-size="11.3" fill="#ff00ff" text-anchor="middle">0</text>
<text x="373.7" y="725.3" font-size="11.3" fill="#ff00ff" text-anchor="middle">45</text>
<text x="407.7" y="720.8" font-size="11.3" fill="#ff00ff" text-anchor="middle">90</text>
<text x="442.3" y="718.8" font-size="11.3" fill="#ff00ff" text-anchor="middle">135</text>
<text x="476.5" y="718.8" font-size="11.3" fill="#ff00ff" text-anchor="middle">180</text>
<text x="511.2" y="718.8" font-size="11.3" fill="#ff00ff" text-anchor="middle">-135</text>
<text x="545.4" y="721.5" font-size="11.3" fill="#ff00ff" text-anchor="middle">-90</text>
<text x="578.7" y="724.8" font-size="11.3" fill="#ff00ff" text-anchor="middle">-45</text>
<text x="575.2" y="648.3" font-size="11.3" fill="#ff00ff" text-anchor="middle">45</text>
<text x="612.7" y="695" font-size="11.3" fill="#ff00ff" text-anchor="middle">0</text>
<text x="575.9" y="741.5" font-size="11.3" fill="#ff00ff" text-anchor="middle">-45</text>
<text x="477.5" y="765.2" font-size="11.3" fill="#ff00ff" text-anchor="middle">-90</text>
<circle cx="403.3" cy="689.5" r="5.1" fill="none" stroke="#ff00ff" stroke-width="1.5"/><circle cx="403.3" cy="689.5" r="1.4" fill="#ff00ff"/>
<circle cx="556.3" cy="700.7" r="5.1" fill="none" stroke="#ff00ff" stroke-width="1.5"/>
<path d="M552.69 697.09L559.91 704.31M552.69 704.31L559.91 697.09" stroke="#ff00ff" stroke-width="1.5" fill="none"/>
<rect x="256.7" y="752.9" width="128" height="12.2" fill="#fff"/>
<text x="258.3" y="764.1" font-size="13.4" text-anchor="start" fill="#000" >Vx (GSE)=-169 km/s</text>
<defs><linearGradient id="cbb" x1="0" y1="1" x2="0" y2="0"><stop offset="0" stop-color="#000000"/><stop offset="0.05" stop-color="#2d003c"/><stop offset="0.12" stop-color="#5a00b4"/><stop offset="0.22" stop-color="#0000ff"/><stop offset="0.31" stop-color="#0082ff"/><stop offset="0.37" stop-color="#00ffff"/><stop offset="0.44" stop-color="#00ff78"/><stop offset="0.51" stop-color="#00ff00"/><stop offset="0.59" stop-color="#96ff00"/><stop offset="0.67" stop-color="#ffff00"/><stop offset="0.79" stop-color="#ff8c00"/><stop offset="0.89" stop-color="#ff0000"/><stop offset="0.96" stop-color="#be0000"/><stop offset="1.0" stop-color="#8c0000"/></linearGradient></defs>
<rect x="638.8" y="622.6" width="13.2" height="144.2" fill="url(#cbb)"/>
<line x1="638.8" y1="622.6" x2="638.8" y2="766.8" stroke="#555" stroke-width="0.8"/>
<text x="654.6" y="630.6" font-size="12" text-anchor="start" fill="#000" >20</text>
<text x="654.6" y="663" font-size="12" text-anchor="start" fill="#000" >15</text>
<text x="654.6" y="699" font-size="12" text-anchor="start" fill="#000" >10</text>
<text x="654.6" y="735" font-size="12" text-anchor="start" fill="#000" >5</text>
<text x="654.6" y="767.4" font-size="12" text-anchor="start" fill="#000" >0</text>
<text transform="translate(678,694.8) rotate(-90)" font-size="11" text-anchor="middle" fill="#000">counts</text>
</svg>
</body></html>
